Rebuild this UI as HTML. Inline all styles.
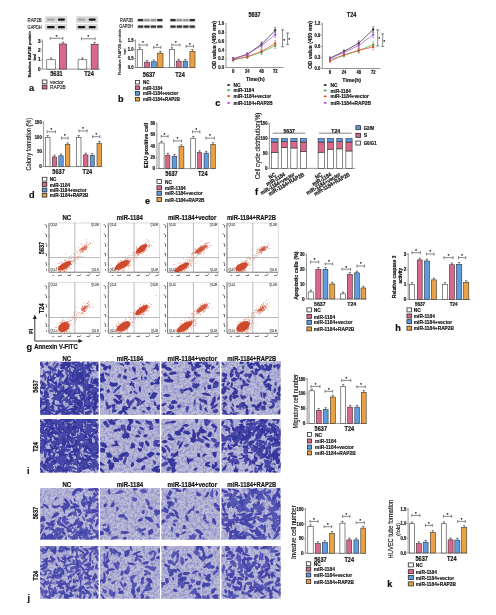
<!DOCTYPE html>
<html><head><meta charset="utf-8"><style>html,body{margin:0;padding:0;background:#fff;width:496px;height:615px;overflow:hidden}svg{display:block;filter:blur(0.3px)}text{font-family:"Liberation Sans",sans-serif}</style></head>
<body><svg width="496" height="615" viewBox="0 0 496 615" font-family='"Liberation Sans", sans-serif'>
<rect x="0" y="0" width="496" height="615" fill="#ffffff"/>
<filter id="bl"><feGaussianBlur stdDeviation="0.3"/></filter>
<text x="27.6" y="20.2" font-size="4.96" font-weight="normal" text-anchor="start" dominant-baseline="central" fill="#111" stroke="#111" stroke-width="0.12" textLength="14.1" lengthAdjust="spacingAndGlyphs">RAP2B</text>
<text x="27.6" y="27.2" font-size="4.96" font-weight="normal" text-anchor="start" dominant-baseline="central" fill="#111" stroke="#111" stroke-width="0.12" textLength="14.1" lengthAdjust="spacingAndGlyphs">GAPDH</text>
<rect x="45.2" y="16.3" width="21.700000000000003" height="6.5" fill="#d8d8d8"/>
<rect x="47.05" y="18.45" width="7.50" height="2.2" rx="0.8" fill="rgb(165,165,165)"/>
<rect x="57.90" y="18.45" width="7.00" height="2.2" rx="0.8" fill="rgb(25,25,25)"/>
<rect x="45.2" y="24.2" width="21.700000000000003" height="6.0" fill="#d8d8d8"/>
<rect x="47.05" y="26.10" width="7.50" height="2.2" rx="0.8" fill="rgb(25,25,25)"/>
<rect x="57.90" y="26.10" width="7.00" height="2.2" rx="0.8" fill="rgb(25,25,25)"/>
<rect x="76.1" y="16.3" width="21.700000000000003" height="6.5" fill="#d8d8d8"/>
<rect x="77.75" y="18.45" width="7.50" height="2.2" rx="0.8" fill="rgb(165,165,165)"/>
<rect x="88.70" y="18.45" width="7.00" height="2.2" rx="0.8" fill="rgb(25,25,25)"/>
<rect x="76.1" y="24.2" width="21.700000000000003" height="6.0" fill="#d8d8d8"/>
<rect x="77.75" y="26.10" width="7.50" height="2.2" rx="0.8" fill="rgb(25,25,25)"/>
<rect x="88.70" y="26.10" width="7.00" height="2.2" rx="0.8" fill="rgb(25,25,25)"/>
<line x1="42.4" y1="39.6" x2="42.4" y2="69.1" stroke="#8a8a8a" stroke-width="0.9"/>
<line x1="42.4" y1="69.1" x2="100" y2="69.1" stroke="#8a8a8a" stroke-width="0.9"/>
<line x1="41.199999999999996" y1="41.10999999999999" x2="42.4" y2="41.10999999999999" stroke="#777" stroke-width="0.6"/>
<text x="40.599999999999994" y="41.10999999999999" font-size="4.65" font-weight="bold" text-anchor="end" dominant-baseline="central" fill="#111" stroke="#111" stroke-width="0.18">3</text>
<line x1="41.199999999999996" y1="50.44" x2="42.4" y2="50.44" stroke="#777" stroke-width="0.6"/>
<text x="40.599999999999994" y="50.44" font-size="4.65" font-weight="bold" text-anchor="end" dominant-baseline="central" fill="#111" stroke="#111" stroke-width="0.18">2</text>
<line x1="41.199999999999996" y1="59.769999999999996" x2="42.4" y2="59.769999999999996" stroke="#777" stroke-width="0.6"/>
<text x="40.599999999999994" y="59.769999999999996" font-size="4.65" font-weight="bold" text-anchor="end" dominant-baseline="central" fill="#111" stroke="#111" stroke-width="0.18">1</text>
<line x1="41.199999999999996" y1="69.1" x2="42.4" y2="69.1" stroke="#777" stroke-width="0.6"/>
<text x="40.599999999999994" y="69.1" font-size="4.65" font-weight="bold" text-anchor="end" dominant-baseline="central" fill="#111" stroke="#111" stroke-width="0.18">0</text>
<rect x="46.8" y="59.769999999999996" width="8.600000000000001" height="9.329999999999998" fill="#ffffff" stroke="#2a2a2a" stroke-width="0.55"/>
<line x1="51.099999999999994" y1="57.97" x2="51.099999999999994" y2="59.769999999999996" stroke="#333" stroke-width="0.6"/>
<line x1="49.89999999999999" y1="57.97" x2="52.3" y2="57.97" stroke="#333" stroke-width="0.6"/>
<rect x="59.3" y="43.90899999999999" width="7.400000000000006" height="25.191000000000003" fill="#d9688a" stroke="#2a2a2a" stroke-width="0.55"/>
<line x1="63.0" y1="42.108999999999995" x2="63.0" y2="43.90899999999999" stroke="#333" stroke-width="0.6"/>
<line x1="61.8" y1="42.108999999999995" x2="64.2" y2="42.108999999999995" stroke="#333" stroke-width="0.6"/>
<rect x="78.1" y="59.769999999999996" width="8.700000000000003" height="9.329999999999998" fill="#ffffff" stroke="#2a2a2a" stroke-width="0.55"/>
<line x1="82.44999999999999" y1="57.97" x2="82.44999999999999" y2="59.769999999999996" stroke="#333" stroke-width="0.6"/>
<line x1="81.24999999999999" y1="57.97" x2="83.64999999999999" y2="57.97" stroke="#333" stroke-width="0.6"/>
<rect x="91.1" y="44.18889999999999" width="7.0" height="24.911100000000005" fill="#d9688a" stroke="#2a2a2a" stroke-width="0.55"/>
<line x1="94.6" y1="42.38889999999999" x2="94.6" y2="44.18889999999999" stroke="#333" stroke-width="0.6"/>
<line x1="93.39999999999999" y1="42.38889999999999" x2="95.8" y2="42.38889999999999" stroke="#333" stroke-width="0.6"/>
<text x="56.4" y="73.9" font-size="6.61" font-weight="bold" text-anchor="middle" dominant-baseline="central" fill="#111" stroke="#111" stroke-width="0.18" textLength="12.46" lengthAdjust="spacingAndGlyphs">5631</text>
<text x="89" y="73.9" font-size="6.61" font-weight="bold" text-anchor="middle" dominant-baseline="central" fill="#111" stroke="#111" stroke-width="0.18" textLength="9.65" lengthAdjust="spacingAndGlyphs">T24</text>
<line x1="50.2" y1="38.3" x2="62.8" y2="38.3" stroke="#555" stroke-width="0.7"/>
<line x1="50.2" y1="36.8" x2="50.2" y2="39.8" stroke="#555" stroke-width="0.7"/>
<line x1="62.8" y1="36.8" x2="62.8" y2="39.8" stroke="#555" stroke-width="0.7"/>
<text x="56.5" y="36.099999999999994" font-size="4" font-weight="bold" text-anchor="middle" dominant-baseline="central" fill="#111" stroke="#111" stroke-width="0.18">*</text>
<line x1="81.4" y1="38.8" x2="95.1" y2="38.8" stroke="#555" stroke-width="0.7"/>
<line x1="81.4" y1="37.3" x2="81.4" y2="40.3" stroke="#555" stroke-width="0.7"/>
<line x1="95.1" y1="37.3" x2="95.1" y2="40.3" stroke="#555" stroke-width="0.7"/>
<text x="88.25" y="36.599999999999994" font-size="4" font-weight="bold" text-anchor="middle" dominant-baseline="central" fill="#111" stroke="#111" stroke-width="0.18">*</text>
<text x="30.0" y="54.2" font-size="4.36" font-weight="bold" text-anchor="middle" dominant-baseline="central" fill="#111" stroke="#111" stroke-width="0.18" transform="rotate(-90 30.0 54.2)" textLength="46.40" lengthAdjust="spacingAndGlyphs">Relative RAP2B protein</text>
<text x="34.8" y="57.2" font-size="2.83" font-weight="bold" text-anchor="middle" dominant-baseline="central" fill="#111" stroke="#111" stroke-width="0.18" transform="rotate(-90 34.8 57.2)" textLength="6.00" lengthAdjust="spacingAndGlyphs">level</text>
<rect x="42.25" y="80.0" width="4.7" height="3.8" fill="#ffffff" stroke="#222" stroke-width="0.75"/>
<text x="50.1" y="81.9" font-size="5.66" font-weight="normal" text-anchor="start" dominant-baseline="central" fill="#111" stroke="#111" stroke-width="0.12" textLength="13.5" lengthAdjust="spacingAndGlyphs">vector</text>
<rect x="42.25" y="85.19999999999999" width="4.7" height="3.8" fill="#d9688a" stroke="#222" stroke-width="0.75"/>
<text x="50.1" y="87.1" font-size="5.66" font-weight="normal" text-anchor="start" dominant-baseline="central" fill="#111" stroke="#111" stroke-width="0.12" textLength="15.7" lengthAdjust="spacingAndGlyphs">RAP2B</text>
<text x="29" y="88.1" font-size="9.2" font-weight="bold" text-anchor="start" dominant-baseline="central" fill="#111" stroke="#111" stroke-width="0.18">a</text>
<text x="120.1" y="20.2" font-size="4.48" font-weight="normal" text-anchor="start" dominant-baseline="central" fill="#111" stroke="#111" stroke-width="0.12" textLength="12.9" lengthAdjust="spacingAndGlyphs">RAP2B</text>
<text x="119.3" y="26.7" font-size="4.48" font-weight="normal" text-anchor="start" dominant-baseline="central" fill="#111" stroke="#111" stroke-width="0.12" textLength="13.7" lengthAdjust="spacingAndGlyphs">GAPDH</text>
<rect x="137.3" y="18.4" width="25.69999999999999" height="3.6000000000000014" fill="#d8d8d8"/>
<rect x="137.78" y="19.10" width="5.46" height="2.2" rx="0.8" fill="rgb(50,50,50)"/>
<rect x="144.21" y="19.10" width="5.46" height="2.2" rx="0.8" fill="rgb(153,153,153)"/>
<rect x="150.63" y="19.10" width="5.46" height="2.2" rx="0.8" fill="rgb(153,153,153)"/>
<rect x="157.06" y="19.10" width="5.46" height="2.2" rx="0.8" fill="rgb(50,50,50)"/>
<rect x="137.3" y="24.8" width="25.69999999999999" height="3.8000000000000007" fill="#d8d8d8"/>
<rect x="137.78" y="25.60" width="5.46" height="2.2" rx="0.8" fill="rgb(50,50,50)"/>
<rect x="144.21" y="25.60" width="5.46" height="2.2" rx="0.8" fill="rgb(50,50,50)"/>
<rect x="150.63" y="25.60" width="5.46" height="2.2" rx="0.8" fill="rgb(50,50,50)"/>
<rect x="157.06" y="25.60" width="5.46" height="2.2" rx="0.8" fill="rgb(50,50,50)"/>
<rect x="169.8" y="18.4" width="25.69999999999999" height="3.6000000000000014" fill="#d8d8d8"/>
<rect x="170.28" y="19.10" width="5.46" height="2.2" rx="0.8" fill="rgb(50,50,50)"/>
<rect x="176.71" y="19.10" width="5.46" height="2.2" rx="0.8" fill="rgb(153,153,153)"/>
<rect x="183.13" y="19.10" width="5.46" height="2.2" rx="0.8" fill="rgb(153,153,153)"/>
<rect x="189.56" y="19.10" width="5.46" height="2.2" rx="0.8" fill="rgb(50,50,50)"/>
<rect x="169.8" y="24.8" width="25.69999999999999" height="3.8000000000000007" fill="#d8d8d8"/>
<rect x="170.28" y="25.60" width="5.46" height="2.2" rx="0.8" fill="rgb(50,50,50)"/>
<rect x="176.71" y="25.60" width="5.46" height="2.2" rx="0.8" fill="rgb(50,50,50)"/>
<rect x="183.13" y="25.60" width="5.46" height="2.2" rx="0.8" fill="rgb(50,50,50)"/>
<rect x="189.56" y="25.60" width="5.46" height="2.2" rx="0.8" fill="rgb(50,50,50)"/>
<line x1="135.4" y1="39.5" x2="135.4" y2="67.5" stroke="#8a8a8a" stroke-width="0.9"/>
<line x1="135.4" y1="67.5" x2="195.6" y2="67.5" stroke="#8a8a8a" stroke-width="0.9"/>
<line x1="134.20000000000002" y1="40.5" x2="135.4" y2="40.5" stroke="#777" stroke-width="0.6"/>
<text x="133.60000000000002" y="40.5" font-size="4.96" font-weight="bold" text-anchor="end" dominant-baseline="central" fill="#111" stroke="#111" stroke-width="0.18" textLength="5.84" lengthAdjust="spacingAndGlyphs">1.5</text>
<line x1="134.20000000000002" y1="49.5" x2="135.4" y2="49.5" stroke="#777" stroke-width="0.6"/>
<text x="133.60000000000002" y="49.5" font-size="4.96" font-weight="bold" text-anchor="end" dominant-baseline="central" fill="#111" stroke="#111" stroke-width="0.18" textLength="5.84" lengthAdjust="spacingAndGlyphs">1.0</text>
<line x1="134.20000000000002" y1="58.5" x2="135.4" y2="58.5" stroke="#777" stroke-width="0.6"/>
<text x="133.60000000000002" y="58.5" font-size="4.96" font-weight="bold" text-anchor="end" dominant-baseline="central" fill="#111" stroke="#111" stroke-width="0.18" textLength="5.84" lengthAdjust="spacingAndGlyphs">0.5</text>
<line x1="134.20000000000002" y1="67.5" x2="135.4" y2="67.5" stroke="#777" stroke-width="0.6"/>
<text x="133.60000000000002" y="67.5" font-size="4.96" font-weight="bold" text-anchor="end" dominant-baseline="central" fill="#111" stroke="#111" stroke-width="0.18" textLength="5.84" lengthAdjust="spacingAndGlyphs">0.0</text>
<rect x="137.2" y="49.5" width="5.100000000000023" height="18.0" fill="#ffffff" stroke="#2a2a2a" stroke-width="0.55"/>
<line x1="139.75" y1="47.7" x2="139.75" y2="49.5" stroke="#333" stroke-width="0.6"/>
<line x1="138.55" y1="47.7" x2="140.95" y2="47.7" stroke="#333" stroke-width="0.6"/>
<rect x="144.5" y="62.1" width="5.099999999999994" height="5.399999999999999" fill="#d9688a" stroke="#2a2a2a" stroke-width="0.55"/>
<line x1="147.05" y1="60.300000000000004" x2="147.05" y2="62.1" stroke="#333" stroke-width="0.6"/>
<line x1="145.85000000000002" y1="60.300000000000004" x2="148.25" y2="60.300000000000004" stroke="#333" stroke-width="0.6"/>
<rect x="151.4" y="61.74" width="4.900000000000006" height="5.759999999999998" fill="#5f9be0" stroke="#2a2a2a" stroke-width="0.55"/>
<line x1="153.85000000000002" y1="59.940000000000005" x2="153.85000000000002" y2="61.74" stroke="#333" stroke-width="0.6"/>
<line x1="152.65000000000003" y1="59.940000000000005" x2="155.05" y2="59.940000000000005" stroke="#333" stroke-width="0.6"/>
<rect x="157.7" y="53.1" width="5.300000000000011" height="14.399999999999999" fill="#e9a144" stroke="#2a2a2a" stroke-width="0.55"/>
<line x1="160.35" y1="51.300000000000004" x2="160.35" y2="53.1" stroke="#333" stroke-width="0.6"/>
<line x1="159.15" y1="51.300000000000004" x2="161.54999999999998" y2="51.300000000000004" stroke="#333" stroke-width="0.6"/>
<rect x="169.5" y="49.5" width="4.900000000000006" height="18.0" fill="#ffffff" stroke="#2a2a2a" stroke-width="0.55"/>
<line x1="171.95" y1="47.7" x2="171.95" y2="49.5" stroke="#333" stroke-width="0.6"/>
<line x1="170.75" y1="47.7" x2="173.14999999999998" y2="47.7" stroke="#333" stroke-width="0.6"/>
<rect x="176.2" y="61.02" width="4.900000000000006" height="6.479999999999997" fill="#d9688a" stroke="#2a2a2a" stroke-width="0.55"/>
<line x1="178.64999999999998" y1="59.220000000000006" x2="178.64999999999998" y2="61.02" stroke="#333" stroke-width="0.6"/>
<line x1="177.45" y1="59.220000000000006" x2="179.84999999999997" y2="59.220000000000006" stroke="#333" stroke-width="0.6"/>
<rect x="183" y="61.2" width="4.699999999999989" height="6.299999999999997" fill="#5f9be0" stroke="#2a2a2a" stroke-width="0.55"/>
<line x1="185.35" y1="59.400000000000006" x2="185.35" y2="61.2" stroke="#333" stroke-width="0.6"/>
<line x1="184.15" y1="59.400000000000006" x2="186.54999999999998" y2="59.400000000000006" stroke="#333" stroke-width="0.6"/>
<rect x="189.9" y="51.3" width="5.099999999999994" height="16.200000000000003" fill="#e9a144" stroke="#2a2a2a" stroke-width="0.55"/>
<line x1="192.45" y1="49.5" x2="192.45" y2="51.3" stroke="#333" stroke-width="0.6"/>
<line x1="191.25" y1="49.5" x2="193.64999999999998" y2="49.5" stroke="#333" stroke-width="0.6"/>
<text x="149" y="74" font-size="6.61" font-weight="bold" text-anchor="middle" dominant-baseline="central" fill="#111" stroke="#111" stroke-width="0.18" textLength="12.46" lengthAdjust="spacingAndGlyphs">5637</text>
<text x="180" y="74" font-size="6.61" font-weight="bold" text-anchor="middle" dominant-baseline="central" fill="#111" stroke="#111" stroke-width="0.18" textLength="9.65" lengthAdjust="spacingAndGlyphs">T24</text>
<line x1="139" y1="45" x2="147.2" y2="45" stroke="#555" stroke-width="0.7"/>
<line x1="139" y1="43.5" x2="139" y2="46.5" stroke="#555" stroke-width="0.7"/>
<line x1="147.2" y1="43.5" x2="147.2" y2="46.5" stroke="#555" stroke-width="0.7"/>
<text x="143.1" y="42.8" font-size="4" font-weight="bold" text-anchor="middle" dominant-baseline="central" fill="#111" stroke="#111" stroke-width="0.18">*</text>
<line x1="153.5" y1="47.3" x2="160.8" y2="47.3" stroke="#555" stroke-width="0.7"/>
<line x1="153.5" y1="45.8" x2="153.5" y2="48.8" stroke="#555" stroke-width="0.7"/>
<line x1="160.8" y1="45.8" x2="160.8" y2="48.8" stroke="#555" stroke-width="0.7"/>
<text x="157.15" y="45.099999999999994" font-size="4" font-weight="bold" text-anchor="middle" dominant-baseline="central" fill="#111" stroke="#111" stroke-width="0.18">*</text>
<line x1="171.7" y1="45" x2="180" y2="45" stroke="#555" stroke-width="0.7"/>
<line x1="171.7" y1="43.5" x2="171.7" y2="46.5" stroke="#555" stroke-width="0.7"/>
<line x1="180" y1="43.5" x2="180" y2="46.5" stroke="#555" stroke-width="0.7"/>
<text x="175.85" y="42.8" font-size="4" font-weight="bold" text-anchor="middle" dominant-baseline="central" fill="#111" stroke="#111" stroke-width="0.18">*</text>
<line x1="186" y1="46.3" x2="193.5" y2="46.3" stroke="#555" stroke-width="0.7"/>
<line x1="186" y1="44.8" x2="186" y2="47.8" stroke="#555" stroke-width="0.7"/>
<line x1="193.5" y1="44.8" x2="193.5" y2="47.8" stroke="#555" stroke-width="0.7"/>
<text x="189.75" y="44.099999999999994" font-size="4" font-weight="bold" text-anchor="middle" dominant-baseline="central" fill="#111" stroke="#111" stroke-width="0.18">*</text>
<text x="119.7" y="52.0" font-size="4.38" font-weight="normal" text-anchor="middle" dominant-baseline="central" fill="#111" stroke="#111" stroke-width="0.12" transform="rotate(-90 119.7 52.0)" textLength="46.00" lengthAdjust="spacingAndGlyphs">Relative RAP2B protein</text>
<text x="124.9" y="51.5" font-size="2.92" font-weight="normal" text-anchor="middle" dominant-baseline="central" fill="#111" stroke="#111" stroke-width="0.12" transform="rotate(-90 124.9 51.5)" textLength="6.00" lengthAdjust="spacingAndGlyphs">level</text>
<rect x="135.54999999999998" y="80.4" width="3.8999999999999995" height="3.6" fill="#ffffff" stroke="#222" stroke-width="0.75"/>
<text x="143.1" y="82.2" font-size="5.19" font-weight="bold" text-anchor="start" dominant-baseline="central" fill="#111" stroke="#111" stroke-width="0.18" textLength="6.36" lengthAdjust="spacingAndGlyphs">NC</text>
<rect x="135.54999999999998" y="85.9" width="3.8999999999999995" height="3.6" fill="#d9688a" stroke="#222" stroke-width="0.75"/>
<text x="143.1" y="87.7" font-size="5.19" font-weight="bold" text-anchor="start" dominant-baseline="central" fill="#111" stroke="#111" stroke-width="0.18" textLength="19.32" lengthAdjust="spacingAndGlyphs">miR-1184</text>
<rect x="135.54999999999998" y="91.60000000000001" width="3.8999999999999995" height="3.6" fill="#5f9be0" stroke="#222" stroke-width="0.75"/>
<text x="143.1" y="93.4" font-size="5.19" font-weight="bold" text-anchor="start" dominant-baseline="central" fill="#111" stroke="#111" stroke-width="0.18" textLength="35.10" lengthAdjust="spacingAndGlyphs">miR-1184+vector</text>
<rect x="135.54999999999998" y="97.4" width="3.8999999999999995" height="3.6" fill="#e9a144" stroke="#222" stroke-width="0.75"/>
<text x="143.1" y="99.2" font-size="5.19" font-weight="bold" text-anchor="start" dominant-baseline="central" fill="#111" stroke="#111" stroke-width="0.18" textLength="36.81" lengthAdjust="spacingAndGlyphs">miR-1184+RAP2B</text>
<text x="118" y="98.5" font-size="9.2" font-weight="bold" text-anchor="start" dominant-baseline="central" fill="#111" stroke="#111" stroke-width="0.18">b</text>
<line x1="226" y1="23.0" x2="226" y2="67.5" stroke="#8a8a8a" stroke-width="0.9"/>
<line x1="226" y1="67.5" x2="283.5" y2="67.5" stroke="#8a8a8a" stroke-width="0.9"/>
<line x1="224.8" y1="67.5" x2="226" y2="67.5" stroke="#777" stroke-width="0.6"/>
<text x="224.1" y="67.5" font-size="4.96" font-weight="bold" text-anchor="end" dominant-baseline="central" fill="#111" stroke="#111" stroke-width="0.18" textLength="5.84" lengthAdjust="spacingAndGlyphs">0.0</text>
<line x1="224.8" y1="58.75" x2="226" y2="58.75" stroke="#777" stroke-width="0.6"/>
<text x="224.1" y="58.75" font-size="4.96" font-weight="bold" text-anchor="end" dominant-baseline="central" fill="#111" stroke="#111" stroke-width="0.18" textLength="5.84" lengthAdjust="spacingAndGlyphs">0.2</text>
<line x1="224.8" y1="50.0" x2="226" y2="50.0" stroke="#777" stroke-width="0.6"/>
<text x="224.1" y="50.0" font-size="4.96" font-weight="bold" text-anchor="end" dominant-baseline="central" fill="#111" stroke="#111" stroke-width="0.18" textLength="5.84" lengthAdjust="spacingAndGlyphs">0.4</text>
<line x1="224.8" y1="41.25" x2="226" y2="41.25" stroke="#777" stroke-width="0.6"/>
<text x="224.1" y="41.25" font-size="4.96" font-weight="bold" text-anchor="end" dominant-baseline="central" fill="#111" stroke="#111" stroke-width="0.18" textLength="5.84" lengthAdjust="spacingAndGlyphs">0.6</text>
<line x1="224.8" y1="32.5" x2="226" y2="32.5" stroke="#777" stroke-width="0.6"/>
<text x="224.1" y="32.5" font-size="4.96" font-weight="bold" text-anchor="end" dominant-baseline="central" fill="#111" stroke="#111" stroke-width="0.18" textLength="5.84" lengthAdjust="spacingAndGlyphs">0.8</text>
<line x1="224.8" y1="23.75" x2="226" y2="23.75" stroke="#777" stroke-width="0.6"/>
<text x="224.1" y="23.75" font-size="4.96" font-weight="bold" text-anchor="end" dominant-baseline="central" fill="#111" stroke="#111" stroke-width="0.18" textLength="5.84" lengthAdjust="spacingAndGlyphs">1.0</text>
<line x1="233.2" y1="67.5" x2="233.2" y2="68.7" stroke="#777" stroke-width="0.6"/>
<text x="233.2" y="71.8" font-size="4.43" font-weight="bold" text-anchor="middle" dominant-baseline="central" fill="#111" stroke="#111" stroke-width="0.18">0</text>
<line x1="247.3" y1="67.5" x2="247.3" y2="68.7" stroke="#777" stroke-width="0.6"/>
<text x="247.3" y="71.8" font-size="4.72" font-weight="bold" text-anchor="middle" dominant-baseline="central" fill="#111" stroke="#111" stroke-width="0.18" textLength="4.45" lengthAdjust="spacingAndGlyphs">24</text>
<line x1="261.5" y1="67.5" x2="261.5" y2="68.7" stroke="#777" stroke-width="0.6"/>
<text x="261.5" y="71.8" font-size="4.72" font-weight="bold" text-anchor="middle" dominant-baseline="central" fill="#111" stroke="#111" stroke-width="0.18" textLength="4.45" lengthAdjust="spacingAndGlyphs">48</text>
<line x1="275.2" y1="67.5" x2="275.2" y2="68.7" stroke="#777" stroke-width="0.6"/>
<text x="275.2" y="71.8" font-size="4.72" font-weight="bold" text-anchor="middle" dominant-baseline="central" fill="#111" stroke="#111" stroke-width="0.18" textLength="4.45" lengthAdjust="spacingAndGlyphs">72</text>
<text x="254.5" y="14.2" font-size="6.37" font-weight="bold" text-anchor="middle" dominant-baseline="central" fill="#111" stroke="#111" stroke-width="0.18" textLength="12.01" lengthAdjust="spacingAndGlyphs">5637</text>
<text x="255.3" y="78.5" font-size="6.14" font-weight="bold" text-anchor="middle" dominant-baseline="central" fill="#111" stroke="#111" stroke-width="0.18" textLength="18.68" lengthAdjust="spacingAndGlyphs">Time(h)</text>
<text x="213.9" y="45.0" font-size="6.05" font-weight="bold" text-anchor="middle" dominant-baseline="central" fill="#111" stroke="#111" stroke-width="0.18" transform="rotate(-90 213.9 45.0)" textLength="48.00" lengthAdjust="spacingAndGlyphs">OD value (450 nm)</text>
<polyline points="233.2,58.75 247.3,54.38 261.5,44.31 275.2,30.31" fill="none" stroke="#222222" stroke-width="0.7"/>
<rect x="232.2" y="57.75" width="2" height="2" fill="#222222"/>
<line x1="233.2" y1="57.55" x2="233.2" y2="59.95" stroke="#222222" stroke-width="0.5"/>
<line x1="232.29999999999998" y1="57.55" x2="234.1" y2="57.55" stroke="#222222" stroke-width="0.5"/>
<line x1="232.29999999999998" y1="59.95" x2="234.1" y2="59.95" stroke="#222222" stroke-width="0.5"/>
<rect x="246.3" y="53.375" width="2" height="2" fill="#222222"/>
<line x1="247.3" y1="52.875" x2="247.3" y2="55.875" stroke="#222222" stroke-width="0.5"/>
<line x1="246.4" y1="52.875" x2="248.20000000000002" y2="52.875" stroke="#222222" stroke-width="0.5"/>
<line x1="246.4" y1="55.875" x2="248.20000000000002" y2="55.875" stroke="#222222" stroke-width="0.5"/>
<rect x="260.5" y="43.3125" width="2" height="2" fill="#222222"/>
<line x1="261.5" y1="41.9125" x2="261.5" y2="46.7125" stroke="#222222" stroke-width="0.5"/>
<line x1="260.6" y1="41.9125" x2="262.4" y2="41.9125" stroke="#222222" stroke-width="0.5"/>
<line x1="260.6" y1="46.7125" x2="262.4" y2="46.7125" stroke="#222222" stroke-width="0.5"/>
<rect x="274.2" y="29.3125" width="2" height="2" fill="#222222"/>
<line x1="275.2" y1="27.5125" x2="275.2" y2="33.1125" stroke="#222222" stroke-width="0.5"/>
<line x1="274.3" y1="27.5125" x2="276.09999999999997" y2="27.5125" stroke="#222222" stroke-width="0.5"/>
<line x1="274.3" y1="33.1125" x2="276.09999999999997" y2="33.1125" stroke="#222222" stroke-width="0.5"/>
<polyline points="233.2,60.06 247.3,57.00 261.5,52.19 275.2,45.62" fill="none" stroke="#38b040" stroke-width="0.7"/>
<rect x="232.2" y="59.0625" width="2" height="2" fill="#38b040"/>
<line x1="233.2" y1="58.8625" x2="233.2" y2="61.2625" stroke="#38b040" stroke-width="0.5"/>
<line x1="232.29999999999998" y1="58.8625" x2="234.1" y2="58.8625" stroke="#38b040" stroke-width="0.5"/>
<line x1="232.29999999999998" y1="61.2625" x2="234.1" y2="61.2625" stroke="#38b040" stroke-width="0.5"/>
<rect x="246.3" y="56.0" width="2" height="2" fill="#38b040"/>
<line x1="247.3" y1="55.5" x2="247.3" y2="58.5" stroke="#38b040" stroke-width="0.5"/>
<line x1="246.4" y1="55.5" x2="248.20000000000002" y2="55.5" stroke="#38b040" stroke-width="0.5"/>
<line x1="246.4" y1="58.5" x2="248.20000000000002" y2="58.5" stroke="#38b040" stroke-width="0.5"/>
<rect x="260.5" y="51.1875" width="2" height="2" fill="#38b040"/>
<line x1="261.5" y1="49.7875" x2="261.5" y2="54.5875" stroke="#38b040" stroke-width="0.5"/>
<line x1="260.6" y1="49.7875" x2="262.4" y2="49.7875" stroke="#38b040" stroke-width="0.5"/>
<line x1="260.6" y1="54.5875" x2="262.4" y2="54.5875" stroke="#38b040" stroke-width="0.5"/>
<rect x="274.2" y="44.625" width="2" height="2" fill="#38b040"/>
<line x1="275.2" y1="42.825" x2="275.2" y2="48.425" stroke="#38b040" stroke-width="0.5"/>
<line x1="274.3" y1="42.825" x2="276.09999999999997" y2="42.825" stroke="#38b040" stroke-width="0.5"/>
<line x1="274.3" y1="48.425" x2="276.09999999999997" y2="48.425" stroke="#38b040" stroke-width="0.5"/>
<polyline points="233.2,59.62 247.3,56.56 261.5,51.31 275.2,43.44" fill="none" stroke="#e8442c" stroke-width="0.7"/>
<rect x="232.2" y="58.625" width="2" height="2" fill="#e8442c"/>
<line x1="233.2" y1="58.425" x2="233.2" y2="60.825" stroke="#e8442c" stroke-width="0.5"/>
<line x1="232.29999999999998" y1="58.425" x2="234.1" y2="58.425" stroke="#e8442c" stroke-width="0.5"/>
<line x1="232.29999999999998" y1="60.825" x2="234.1" y2="60.825" stroke="#e8442c" stroke-width="0.5"/>
<rect x="246.3" y="55.5625" width="2" height="2" fill="#e8442c"/>
<line x1="247.3" y1="55.0625" x2="247.3" y2="58.0625" stroke="#e8442c" stroke-width="0.5"/>
<line x1="246.4" y1="55.0625" x2="248.20000000000002" y2="55.0625" stroke="#e8442c" stroke-width="0.5"/>
<line x1="246.4" y1="58.0625" x2="248.20000000000002" y2="58.0625" stroke="#e8442c" stroke-width="0.5"/>
<rect x="260.5" y="50.3125" width="2" height="2" fill="#e8442c"/>
<line x1="261.5" y1="48.9125" x2="261.5" y2="53.7125" stroke="#e8442c" stroke-width="0.5"/>
<line x1="260.6" y1="48.9125" x2="262.4" y2="48.9125" stroke="#e8442c" stroke-width="0.5"/>
<line x1="260.6" y1="53.7125" x2="262.4" y2="53.7125" stroke="#e8442c" stroke-width="0.5"/>
<rect x="274.2" y="42.4375" width="2" height="2" fill="#e8442c"/>
<line x1="275.2" y1="40.6375" x2="275.2" y2="46.2375" stroke="#e8442c" stroke-width="0.5"/>
<line x1="274.3" y1="40.6375" x2="276.09999999999997" y2="40.6375" stroke="#e8442c" stroke-width="0.5"/>
<line x1="274.3" y1="46.2375" x2="276.09999999999997" y2="46.2375" stroke="#e8442c" stroke-width="0.5"/>
<polyline points="233.2,58.75 247.3,54.38 261.5,45.62 275.2,34.69" fill="none" stroke="#a24ccf" stroke-width="0.7"/>
<rect x="232.2" y="57.75" width="2" height="2" fill="#a24ccf"/>
<line x1="233.2" y1="57.55" x2="233.2" y2="59.95" stroke="#a24ccf" stroke-width="0.5"/>
<line x1="232.29999999999998" y1="57.55" x2="234.1" y2="57.55" stroke="#a24ccf" stroke-width="0.5"/>
<line x1="232.29999999999998" y1="59.95" x2="234.1" y2="59.95" stroke="#a24ccf" stroke-width="0.5"/>
<rect x="246.3" y="53.375" width="2" height="2" fill="#a24ccf"/>
<line x1="247.3" y1="52.875" x2="247.3" y2="55.875" stroke="#a24ccf" stroke-width="0.5"/>
<line x1="246.4" y1="52.875" x2="248.20000000000002" y2="52.875" stroke="#a24ccf" stroke-width="0.5"/>
<line x1="246.4" y1="55.875" x2="248.20000000000002" y2="55.875" stroke="#a24ccf" stroke-width="0.5"/>
<rect x="260.5" y="44.625" width="2" height="2" fill="#a24ccf"/>
<line x1="261.5" y1="43.225" x2="261.5" y2="48.025" stroke="#a24ccf" stroke-width="0.5"/>
<line x1="260.6" y1="43.225" x2="262.4" y2="43.225" stroke="#a24ccf" stroke-width="0.5"/>
<line x1="260.6" y1="48.025" x2="262.4" y2="48.025" stroke="#a24ccf" stroke-width="0.5"/>
<rect x="274.2" y="33.6875" width="2" height="2" fill="#a24ccf"/>
<line x1="275.2" y1="31.8875" x2="275.2" y2="37.4875" stroke="#a24ccf" stroke-width="0.5"/>
<line x1="274.3" y1="31.8875" x2="276.09999999999997" y2="31.8875" stroke="#a24ccf" stroke-width="0.5"/>
<line x1="274.3" y1="37.4875" x2="276.09999999999997" y2="37.4875" stroke="#a24ccf" stroke-width="0.5"/>
<line x1="282.6" y1="29.8" x2="282.6" y2="46.8" stroke="#555" stroke-width="0.7"/>
<line x1="281.1" y1="29.8" x2="284.1" y2="29.8" stroke="#555" stroke-width="0.7"/>
<line x1="281.1" y1="46.8" x2="284.1" y2="46.8" stroke="#555" stroke-width="0.7"/>
<text x="284.3" y="40.3" font-size="4" font-weight="bold" text-anchor="middle" dominant-baseline="central" fill="#111" stroke="#111" stroke-width="0.18">*</text>
<line x1="287.6" y1="33" x2="287.6" y2="44.4" stroke="#555" stroke-width="0.7"/>
<line x1="286.1" y1="33" x2="289.1" y2="33" stroke="#555" stroke-width="0.7"/>
<line x1="286.1" y1="44.4" x2="289.1" y2="44.4" stroke="#555" stroke-width="0.7"/>
<text x="289.3" y="39.5" font-size="4" font-weight="bold" text-anchor="middle" dominant-baseline="central" fill="#111" stroke="#111" stroke-width="0.18">*</text>
<line x1="226.79999999999998" y1="85" x2="230.4" y2="85" stroke="#222222" stroke-width="0.6"/>
<rect x="227.7" y="84.1" width="1.8" height="1.8" fill="#222222"/>
<text x="233.5" y="85" font-size="5.55" font-weight="bold" text-anchor="start" dominant-baseline="central" fill="#111" stroke="#111" stroke-width="0.18" textLength="7" lengthAdjust="spacingAndGlyphs">NC</text>
<line x1="226.79999999999998" y1="90.2" x2="230.4" y2="90.2" stroke="#38b040" stroke-width="0.6"/>
<rect x="227.7" y="89.3" width="1.8" height="1.8" fill="#38b040"/>
<text x="233.5" y="90.2" font-size="5.55" font-weight="bold" text-anchor="start" dominant-baseline="central" fill="#111" stroke="#111" stroke-width="0.18" textLength="20.6" lengthAdjust="spacingAndGlyphs">miR-1184</text>
<line x1="226.79999999999998" y1="96.1" x2="230.4" y2="96.1" stroke="#e8442c" stroke-width="0.6"/>
<rect x="227.7" y="95.19999999999999" width="1.8" height="1.8" fill="#e8442c"/>
<text x="233.5" y="96.1" font-size="5.55" font-weight="bold" text-anchor="start" dominant-baseline="central" fill="#111" stroke="#111" stroke-width="0.18" textLength="37.6" lengthAdjust="spacingAndGlyphs">miR-1184+vector</text>
<line x1="226.79999999999998" y1="102.9" x2="230.4" y2="102.9" stroke="#a24ccf" stroke-width="0.6"/>
<rect x="227.7" y="102.0" width="1.8" height="1.8" fill="#a24ccf"/>
<text x="233.5" y="102.9" font-size="5.55" font-weight="bold" text-anchor="start" dominant-baseline="central" fill="#111" stroke="#111" stroke-width="0.18" textLength="39" lengthAdjust="spacingAndGlyphs">miR-1184+RAP2B</text>
<line x1="322.3" y1="23.0" x2="322.3" y2="68.5" stroke="#8a8a8a" stroke-width="0.9"/>
<line x1="322.3" y1="68.5" x2="380.7" y2="68.5" stroke="#8a8a8a" stroke-width="0.9"/>
<line x1="321.1" y1="68.5" x2="322.3" y2="68.5" stroke="#777" stroke-width="0.6"/>
<text x="320.40000000000003" y="68.5" font-size="4.96" font-weight="bold" text-anchor="end" dominant-baseline="central" fill="#111" stroke="#111" stroke-width="0.18" textLength="5.84" lengthAdjust="spacingAndGlyphs">0.0</text>
<line x1="321.1" y1="57.35" x2="322.3" y2="57.35" stroke="#777" stroke-width="0.6"/>
<text x="320.40000000000003" y="57.35" font-size="4.96" font-weight="bold" text-anchor="end" dominant-baseline="central" fill="#111" stroke="#111" stroke-width="0.18" textLength="5.84" lengthAdjust="spacingAndGlyphs">0.3</text>
<line x1="321.1" y1="46.2" x2="322.3" y2="46.2" stroke="#777" stroke-width="0.6"/>
<text x="320.40000000000003" y="46.2" font-size="4.96" font-weight="bold" text-anchor="end" dominant-baseline="central" fill="#111" stroke="#111" stroke-width="0.18" textLength="5.84" lengthAdjust="spacingAndGlyphs">0.6</text>
<line x1="321.1" y1="35.05" x2="322.3" y2="35.05" stroke="#777" stroke-width="0.6"/>
<text x="320.40000000000003" y="35.05" font-size="4.96" font-weight="bold" text-anchor="end" dominant-baseline="central" fill="#111" stroke="#111" stroke-width="0.18" textLength="5.84" lengthAdjust="spacingAndGlyphs">0.9</text>
<line x1="321.1" y1="23.9" x2="322.3" y2="23.9" stroke="#777" stroke-width="0.6"/>
<text x="320.40000000000003" y="23.9" font-size="4.96" font-weight="bold" text-anchor="end" dominant-baseline="central" fill="#111" stroke="#111" stroke-width="0.18" textLength="5.84" lengthAdjust="spacingAndGlyphs">1.2</text>
<line x1="330" y1="68.5" x2="330" y2="69.7" stroke="#777" stroke-width="0.6"/>
<text x="330" y="72.8" font-size="4.43" font-weight="bold" text-anchor="middle" dominant-baseline="central" fill="#111" stroke="#111" stroke-width="0.18">0</text>
<line x1="343.9" y1="68.5" x2="343.9" y2="69.7" stroke="#777" stroke-width="0.6"/>
<text x="343.9" y="72.8" font-size="4.72" font-weight="bold" text-anchor="middle" dominant-baseline="central" fill="#111" stroke="#111" stroke-width="0.18" textLength="4.45" lengthAdjust="spacingAndGlyphs">24</text>
<line x1="358.7" y1="68.5" x2="358.7" y2="69.7" stroke="#777" stroke-width="0.6"/>
<text x="358.7" y="72.8" font-size="4.72" font-weight="bold" text-anchor="middle" dominant-baseline="central" fill="#111" stroke="#111" stroke-width="0.18" textLength="4.45" lengthAdjust="spacingAndGlyphs">48</text>
<line x1="373.2" y1="68.5" x2="373.2" y2="69.7" stroke="#777" stroke-width="0.6"/>
<text x="373.2" y="72.8" font-size="4.72" font-weight="bold" text-anchor="middle" dominant-baseline="central" fill="#111" stroke="#111" stroke-width="0.18" textLength="4.45" lengthAdjust="spacingAndGlyphs">72</text>
<text x="351.5" y="14.8" font-size="6.37" font-weight="bold" text-anchor="middle" dominant-baseline="central" fill="#111" stroke="#111" stroke-width="0.18" textLength="9.30" lengthAdjust="spacingAndGlyphs">T24</text>
<text x="351.7" y="79.5" font-size="6.14" font-weight="bold" text-anchor="middle" dominant-baseline="central" fill="#111" stroke="#111" stroke-width="0.18" textLength="18.68" lengthAdjust="spacingAndGlyphs">Time(h)</text>
<text x="310.2" y="45.0" font-size="6.05" font-weight="bold" text-anchor="middle" dominant-baseline="central" fill="#111" stroke="#111" stroke-width="0.18" transform="rotate(-90 310.2 45.0)" textLength="48.00" lengthAdjust="spacingAndGlyphs">OD value (450 nm)</text>
<polyline points="330,58.09 343.9,51.40 358.7,43.23 373.2,29.47" fill="none" stroke="#222222" stroke-width="0.7"/>
<rect x="329" y="57.093333333333334" width="2" height="2" fill="#222222"/>
<line x1="330" y1="56.89333333333333" x2="330" y2="59.29333333333334" stroke="#222222" stroke-width="0.5"/>
<line x1="329.1" y1="56.89333333333333" x2="330.9" y2="56.89333333333333" stroke="#222222" stroke-width="0.5"/>
<line x1="329.1" y1="59.29333333333334" x2="330.9" y2="59.29333333333334" stroke="#222222" stroke-width="0.5"/>
<rect x="342.9" y="50.40333333333333" width="2" height="2" fill="#222222"/>
<line x1="343.9" y1="49.90333333333333" x2="343.9" y2="52.90333333333333" stroke="#222222" stroke-width="0.5"/>
<line x1="343.0" y1="49.90333333333333" x2="344.79999999999995" y2="49.90333333333333" stroke="#222222" stroke-width="0.5"/>
<line x1="343.0" y1="52.90333333333333" x2="344.79999999999995" y2="52.90333333333333" stroke="#222222" stroke-width="0.5"/>
<rect x="357.7" y="42.22666666666666" width="2" height="2" fill="#222222"/>
<line x1="358.7" y1="40.82666666666666" x2="358.7" y2="45.62666666666666" stroke="#222222" stroke-width="0.5"/>
<line x1="357.8" y1="40.82666666666666" x2="359.59999999999997" y2="40.82666666666666" stroke="#222222" stroke-width="0.5"/>
<line x1="357.8" y1="45.62666666666666" x2="359.59999999999997" y2="45.62666666666666" stroke="#222222" stroke-width="0.5"/>
<rect x="372.2" y="28.474999999999994" width="2" height="2" fill="#222222"/>
<line x1="373.2" y1="26.674999999999994" x2="373.2" y2="32.27499999999999" stroke="#222222" stroke-width="0.5"/>
<line x1="372.3" y1="26.674999999999994" x2="374.09999999999997" y2="26.674999999999994" stroke="#222222" stroke-width="0.5"/>
<line x1="372.3" y1="32.27499999999999" x2="374.09999999999997" y2="32.27499999999999" stroke="#222222" stroke-width="0.5"/>
<polyline points="330,59.58 343.9,55.49 358.7,50.66 373.2,44.71" fill="none" stroke="#38b040" stroke-width="0.7"/>
<rect x="329" y="58.58" width="2" height="2" fill="#38b040"/>
<line x1="330" y1="58.379999999999995" x2="330" y2="60.78" stroke="#38b040" stroke-width="0.5"/>
<line x1="329.1" y1="58.379999999999995" x2="330.9" y2="58.379999999999995" stroke="#38b040" stroke-width="0.5"/>
<line x1="329.1" y1="60.78" x2="330.9" y2="60.78" stroke="#38b040" stroke-width="0.5"/>
<rect x="342.9" y="54.49166666666667" width="2" height="2" fill="#38b040"/>
<line x1="343.9" y1="53.99166666666667" x2="343.9" y2="56.99166666666667" stroke="#38b040" stroke-width="0.5"/>
<line x1="343.0" y1="53.99166666666667" x2="344.79999999999995" y2="53.99166666666667" stroke="#38b040" stroke-width="0.5"/>
<line x1="343.0" y1="56.99166666666667" x2="344.79999999999995" y2="56.99166666666667" stroke="#38b040" stroke-width="0.5"/>
<rect x="357.7" y="49.66" width="2" height="2" fill="#38b040"/>
<line x1="358.7" y1="48.26" x2="358.7" y2="53.059999999999995" stroke="#38b040" stroke-width="0.5"/>
<line x1="357.8" y1="48.26" x2="359.59999999999997" y2="48.26" stroke="#38b040" stroke-width="0.5"/>
<line x1="357.8" y1="53.059999999999995" x2="359.59999999999997" y2="53.059999999999995" stroke="#38b040" stroke-width="0.5"/>
<rect x="372.2" y="43.71333333333333" width="2" height="2" fill="#38b040"/>
<line x1="373.2" y1="41.913333333333334" x2="373.2" y2="47.51333333333333" stroke="#38b040" stroke-width="0.5"/>
<line x1="372.3" y1="41.913333333333334" x2="374.09999999999997" y2="41.913333333333334" stroke="#38b040" stroke-width="0.5"/>
<line x1="372.3" y1="47.51333333333333" x2="374.09999999999997" y2="47.51333333333333" stroke="#38b040" stroke-width="0.5"/>
<polyline points="330,61.07 343.9,54.75 358.7,50.29 373.2,46.94" fill="none" stroke="#e8442c" stroke-width="0.7"/>
<rect x="329" y="60.06666666666666" width="2" height="2" fill="#e8442c"/>
<line x1="330" y1="59.86666666666666" x2="330" y2="62.266666666666666" stroke="#e8442c" stroke-width="0.5"/>
<line x1="329.1" y1="59.86666666666666" x2="330.9" y2="59.86666666666666" stroke="#e8442c" stroke-width="0.5"/>
<line x1="329.1" y1="62.266666666666666" x2="330.9" y2="62.266666666666666" stroke="#e8442c" stroke-width="0.5"/>
<rect x="342.9" y="53.748333333333335" width="2" height="2" fill="#e8442c"/>
<line x1="343.9" y1="53.248333333333335" x2="343.9" y2="56.248333333333335" stroke="#e8442c" stroke-width="0.5"/>
<line x1="343.0" y1="53.248333333333335" x2="344.79999999999995" y2="53.248333333333335" stroke="#e8442c" stroke-width="0.5"/>
<line x1="343.0" y1="56.248333333333335" x2="344.79999999999995" y2="56.248333333333335" stroke="#e8442c" stroke-width="0.5"/>
<rect x="357.7" y="49.28833333333333" width="2" height="2" fill="#e8442c"/>
<line x1="358.7" y1="47.88833333333333" x2="358.7" y2="52.688333333333325" stroke="#e8442c" stroke-width="0.5"/>
<line x1="357.8" y1="47.88833333333333" x2="359.59999999999997" y2="47.88833333333333" stroke="#e8442c" stroke-width="0.5"/>
<line x1="357.8" y1="52.688333333333325" x2="359.59999999999997" y2="52.688333333333325" stroke="#e8442c" stroke-width="0.5"/>
<rect x="372.2" y="45.94333333333333" width="2" height="2" fill="#e8442c"/>
<line x1="373.2" y1="44.14333333333333" x2="373.2" y2="49.743333333333325" stroke="#e8442c" stroke-width="0.5"/>
<line x1="372.3" y1="44.14333333333333" x2="374.09999999999997" y2="44.14333333333333" stroke="#e8442c" stroke-width="0.5"/>
<line x1="372.3" y1="49.743333333333325" x2="374.09999999999997" y2="49.743333333333325" stroke="#e8442c" stroke-width="0.5"/>
<polyline points="330,58.46 343.9,52.52 358.7,45.46 373.2,34.68" fill="none" stroke="#a24ccf" stroke-width="0.7"/>
<rect x="329" y="57.464999999999996" width="2" height="2" fill="#a24ccf"/>
<line x1="330" y1="57.26499999999999" x2="330" y2="59.665" stroke="#a24ccf" stroke-width="0.5"/>
<line x1="329.1" y1="57.26499999999999" x2="330.9" y2="57.26499999999999" stroke="#a24ccf" stroke-width="0.5"/>
<line x1="329.1" y1="59.665" x2="330.9" y2="59.665" stroke="#a24ccf" stroke-width="0.5"/>
<rect x="342.9" y="51.51833333333333" width="2" height="2" fill="#a24ccf"/>
<line x1="343.9" y1="51.01833333333333" x2="343.9" y2="54.01833333333333" stroke="#a24ccf" stroke-width="0.5"/>
<line x1="343.0" y1="51.01833333333333" x2="344.79999999999995" y2="51.01833333333333" stroke="#a24ccf" stroke-width="0.5"/>
<line x1="343.0" y1="54.01833333333333" x2="344.79999999999995" y2="54.01833333333333" stroke="#a24ccf" stroke-width="0.5"/>
<rect x="357.7" y="44.45666666666666" width="2" height="2" fill="#a24ccf"/>
<line x1="358.7" y1="43.056666666666665" x2="358.7" y2="47.85666666666666" stroke="#a24ccf" stroke-width="0.5"/>
<line x1="357.8" y1="43.056666666666665" x2="359.59999999999997" y2="43.056666666666665" stroke="#a24ccf" stroke-width="0.5"/>
<line x1="357.8" y1="47.85666666666666" x2="359.59999999999997" y2="47.85666666666666" stroke="#a24ccf" stroke-width="0.5"/>
<rect x="372.2" y="33.67833333333333" width="2" height="2" fill="#a24ccf"/>
<line x1="373.2" y1="31.878333333333327" x2="373.2" y2="37.478333333333325" stroke="#a24ccf" stroke-width="0.5"/>
<line x1="372.3" y1="31.878333333333327" x2="374.09999999999997" y2="31.878333333333327" stroke="#a24ccf" stroke-width="0.5"/>
<line x1="372.3" y1="37.478333333333325" x2="374.09999999999997" y2="37.478333333333325" stroke="#a24ccf" stroke-width="0.5"/>
<line x1="377.7" y1="29.8" x2="377.7" y2="46" stroke="#555" stroke-width="0.7"/>
<line x1="376.2" y1="29.8" x2="379.2" y2="29.8" stroke="#555" stroke-width="0.7"/>
<line x1="376.2" y1="46" x2="379.2" y2="46" stroke="#555" stroke-width="0.7"/>
<text x="379.4" y="38.699999999999996" font-size="4" font-weight="bold" text-anchor="middle" dominant-baseline="central" fill="#111" stroke="#111" stroke-width="0.18">*</text>
<line x1="382.7" y1="33.9" x2="382.7" y2="46.5" stroke="#555" stroke-width="0.7"/>
<line x1="381.2" y1="33.9" x2="384.2" y2="33.9" stroke="#555" stroke-width="0.7"/>
<line x1="381.2" y1="46.5" x2="384.2" y2="46.5" stroke="#555" stroke-width="0.7"/>
<text x="384.4" y="41.8" font-size="4" font-weight="bold" text-anchor="middle" dominant-baseline="central" fill="#111" stroke="#111" stroke-width="0.18">*</text>
<line x1="323.4" y1="85" x2="327.0" y2="85" stroke="#222222" stroke-width="0.6"/>
<rect x="324.3" y="84.1" width="1.8" height="1.8" fill="#222222"/>
<text x="330.5" y="85" font-size="5.55" font-weight="bold" text-anchor="start" dominant-baseline="central" fill="#111" stroke="#111" stroke-width="0.18" textLength="7" lengthAdjust="spacingAndGlyphs">NC</text>
<line x1="323.4" y1="90.5" x2="327.0" y2="90.5" stroke="#38b040" stroke-width="0.6"/>
<rect x="324.3" y="89.6" width="1.8" height="1.8" fill="#38b040"/>
<text x="330.5" y="90.5" font-size="5.55" font-weight="bold" text-anchor="start" dominant-baseline="central" fill="#111" stroke="#111" stroke-width="0.18" textLength="20.3" lengthAdjust="spacingAndGlyphs">miR-1184</text>
<line x1="323.4" y1="96.4" x2="327.0" y2="96.4" stroke="#e8442c" stroke-width="0.6"/>
<rect x="324.3" y="95.5" width="1.8" height="1.8" fill="#e8442c"/>
<text x="330.5" y="96.4" font-size="5.55" font-weight="bold" text-anchor="start" dominant-baseline="central" fill="#111" stroke="#111" stroke-width="0.18" textLength="38.3" lengthAdjust="spacingAndGlyphs">miR-1184+vector</text>
<line x1="323.4" y1="102.9" x2="327.0" y2="102.9" stroke="#a24ccf" stroke-width="0.6"/>
<rect x="324.3" y="102.0" width="1.8" height="1.8" fill="#a24ccf"/>
<text x="330.5" y="102.9" font-size="5.55" font-weight="bold" text-anchor="start" dominant-baseline="central" fill="#111" stroke="#111" stroke-width="0.18" textLength="40.4" lengthAdjust="spacingAndGlyphs">miR-1184+RAP2B</text>
<text x="215.2" y="103" font-size="9.2" font-weight="bold" text-anchor="start" dominant-baseline="central" fill="#111" stroke="#111" stroke-width="0.18">c</text>
<line x1="43.6" y1="121.5" x2="43.6" y2="166.6" stroke="#8a8a8a" stroke-width="0.9"/>
<line x1="43.6" y1="166.6" x2="102.6" y2="166.6" stroke="#8a8a8a" stroke-width="0.9"/>
<line x1="42.4" y1="122.71" x2="43.6" y2="122.71" stroke="#777" stroke-width="0.6"/>
<text x="41.8" y="122.71" font-size="4.96" font-weight="bold" text-anchor="end" dominant-baseline="central" fill="#111" stroke="#111" stroke-width="0.18" textLength="7.01" lengthAdjust="spacingAndGlyphs">150</text>
<line x1="42.4" y1="137.34" x2="43.6" y2="137.34" stroke="#777" stroke-width="0.6"/>
<text x="41.8" y="137.34" font-size="4.96" font-weight="bold" text-anchor="end" dominant-baseline="central" fill="#111" stroke="#111" stroke-width="0.18" textLength="7.01" lengthAdjust="spacingAndGlyphs">100</text>
<line x1="42.4" y1="151.97" x2="43.6" y2="151.97" stroke="#777" stroke-width="0.6"/>
<text x="41.8" y="151.97" font-size="4.96" font-weight="bold" text-anchor="end" dominant-baseline="central" fill="#111" stroke="#111" stroke-width="0.18" textLength="4.67" lengthAdjust="spacingAndGlyphs">50</text>
<line x1="42.4" y1="166.6" x2="43.6" y2="166.6" stroke="#777" stroke-width="0.6"/>
<text x="41.8" y="166.6" font-size="4.65" font-weight="bold" text-anchor="end" dominant-baseline="central" fill="#111" stroke="#111" stroke-width="0.18">0</text>
<rect x="45.4" y="137.34" width="4.600000000000001" height="29.25999999999999" fill="#ffffff" stroke="#2a2a2a" stroke-width="0.55"/>
<line x1="47.7" y1="135.54" x2="47.7" y2="137.34" stroke="#333" stroke-width="0.6"/>
<line x1="46.5" y1="135.54" x2="48.900000000000006" y2="135.54" stroke="#333" stroke-width="0.6"/>
<rect x="52.3" y="156.9442" width="4.400000000000006" height="9.6558" fill="#d9688a" stroke="#2a2a2a" stroke-width="0.55"/>
<line x1="54.5" y1="155.14419999999998" x2="54.5" y2="156.9442" stroke="#333" stroke-width="0.6"/>
<line x1="53.3" y1="155.14419999999998" x2="55.7" y2="155.14419999999998" stroke="#333" stroke-width="0.6"/>
<rect x="58.8" y="155.7738" width="4.400000000000006" height="10.8262" fill="#5f9be0" stroke="#2a2a2a" stroke-width="0.55"/>
<line x1="61.0" y1="153.97379999999998" x2="61.0" y2="155.7738" stroke="#333" stroke-width="0.6"/>
<line x1="59.8" y1="153.97379999999998" x2="62.2" y2="153.97379999999998" stroke="#333" stroke-width="0.6"/>
<rect x="65.4" y="144.655" width="4.5" height="21.944999999999993" fill="#e9a144" stroke="#2a2a2a" stroke-width="0.55"/>
<line x1="67.65" y1="142.855" x2="67.65" y2="144.655" stroke="#333" stroke-width="0.6"/>
<line x1="66.45" y1="142.855" x2="68.85000000000001" y2="142.855" stroke="#333" stroke-width="0.6"/>
<rect x="76.3" y="137.34" width="4.700000000000003" height="29.25999999999999" fill="#ffffff" stroke="#2a2a2a" stroke-width="0.55"/>
<line x1="78.65" y1="135.54" x2="78.65" y2="137.34" stroke="#333" stroke-width="0.6"/>
<line x1="77.45" y1="135.54" x2="79.85000000000001" y2="135.54" stroke="#333" stroke-width="0.6"/>
<rect x="83.5" y="154.896" width="4.5" height="11.704000000000008" fill="#d9688a" stroke="#2a2a2a" stroke-width="0.55"/>
<line x1="85.75" y1="153.09599999999998" x2="85.75" y2="154.896" stroke="#333" stroke-width="0.6"/>
<line x1="84.55" y1="153.09599999999998" x2="86.95" y2="153.09599999999998" stroke="#333" stroke-width="0.6"/>
<rect x="90.2" y="155.4812" width="4.200000000000003" height="11.118799999999993" fill="#5f9be0" stroke="#2a2a2a" stroke-width="0.55"/>
<line x1="92.30000000000001" y1="153.6812" x2="92.30000000000001" y2="155.4812" stroke="#333" stroke-width="0.6"/>
<line x1="91.10000000000001" y1="153.6812" x2="93.50000000000001" y2="153.6812" stroke="#333" stroke-width="0.6"/>
<rect x="97" y="143.192" width="4.700000000000003" height="23.407999999999987" fill="#e9a144" stroke="#2a2a2a" stroke-width="0.55"/>
<line x1="99.35" y1="141.392" x2="99.35" y2="143.192" stroke="#333" stroke-width="0.6"/>
<line x1="98.14999999999999" y1="141.392" x2="100.55" y2="141.392" stroke="#333" stroke-width="0.6"/>
<text x="58.6" y="171.2" font-size="6.61" font-weight="bold" text-anchor="middle" dominant-baseline="central" fill="#111" stroke="#111" stroke-width="0.18" textLength="12.46" lengthAdjust="spacingAndGlyphs">5637</text>
<text x="87.4" y="171.2" font-size="6.61" font-weight="bold" text-anchor="middle" dominant-baseline="central" fill="#111" stroke="#111" stroke-width="0.18" textLength="9.65" lengthAdjust="spacingAndGlyphs">T24</text>
<line x1="47.2" y1="131.8" x2="55.4" y2="131.8" stroke="#555" stroke-width="0.7"/>
<line x1="47.2" y1="130.3" x2="47.2" y2="133.3" stroke="#555" stroke-width="0.7"/>
<line x1="55.4" y1="130.3" x2="55.4" y2="133.3" stroke="#555" stroke-width="0.7"/>
<text x="51.3" y="129.60000000000002" font-size="4" font-weight="bold" text-anchor="middle" dominant-baseline="central" fill="#111" stroke="#111" stroke-width="0.18">*</text>
<line x1="61.4" y1="138.1" x2="68.1" y2="138.1" stroke="#555" stroke-width="0.7"/>
<line x1="61.4" y1="136.6" x2="61.4" y2="139.6" stroke="#555" stroke-width="0.7"/>
<line x1="68.1" y1="136.6" x2="68.1" y2="139.6" stroke="#555" stroke-width="0.7"/>
<text x="64.75" y="135.9" font-size="4" font-weight="bold" text-anchor="middle" dominant-baseline="central" fill="#111" stroke="#111" stroke-width="0.18">*</text>
<line x1="79" y1="130.9" x2="87.2" y2="130.9" stroke="#555" stroke-width="0.7"/>
<line x1="79" y1="129.4" x2="79" y2="132.4" stroke="#555" stroke-width="0.7"/>
<line x1="87.2" y1="129.4" x2="87.2" y2="132.4" stroke="#555" stroke-width="0.7"/>
<text x="83.1" y="128.70000000000002" font-size="4" font-weight="bold" text-anchor="middle" dominant-baseline="central" fill="#111" stroke="#111" stroke-width="0.18">*</text>
<line x1="92.6" y1="136.7" x2="99.9" y2="136.7" stroke="#555" stroke-width="0.7"/>
<line x1="92.6" y1="135.2" x2="92.6" y2="138.2" stroke="#555" stroke-width="0.7"/>
<line x1="99.9" y1="135.2" x2="99.9" y2="138.2" stroke="#555" stroke-width="0.7"/>
<text x="96.25" y="134.5" font-size="4" font-weight="bold" text-anchor="middle" dominant-baseline="central" fill="#111" stroke="#111" stroke-width="0.18">*</text>
<text x="29.0" y="144.15" font-size="6.28" font-weight="normal" text-anchor="middle" dominant-baseline="central" fill="#111" stroke="#111" stroke-width="0.12" transform="rotate(-90 29.0 144.15)" textLength="52.70" lengthAdjust="spacingAndGlyphs">Colony formation (%)</text>
<rect x="42.25" y="177.29999999999998" width="4.6" height="3.8" fill="#ffffff" stroke="#222" stroke-width="0.75"/>
<text x="49.8" y="179.2" font-size="5.43" font-weight="bold" text-anchor="start" dominant-baseline="central" fill="#111" stroke="#111" stroke-width="0.18" textLength="6.64" lengthAdjust="spacingAndGlyphs">NC</text>
<rect x="42.25" y="182.6" width="4.6" height="3.8" fill="#d9688a" stroke="#222" stroke-width="0.75"/>
<text x="49.8" y="184.5" font-size="5.43" font-weight="bold" text-anchor="start" dominant-baseline="central" fill="#111" stroke="#111" stroke-width="0.18" textLength="20.20" lengthAdjust="spacingAndGlyphs">miR-1184</text>
<rect x="42.25" y="188.1" width="4.6" height="3.8" fill="#5f9be0" stroke="#222" stroke-width="0.75"/>
<text x="49.8" y="190" font-size="5.43" font-weight="bold" text-anchor="start" dominant-baseline="central" fill="#111" stroke="#111" stroke-width="0.18" textLength="36.69" lengthAdjust="spacingAndGlyphs">miR-1184+vector</text>
<rect x="42.25" y="193.29999999999998" width="4.6" height="3.8" fill="#e9a144" stroke="#222" stroke-width="0.75"/>
<text x="49.8" y="195.2" font-size="5.43" font-weight="bold" text-anchor="start" dominant-baseline="central" fill="#111" stroke="#111" stroke-width="0.18" textLength="38.48" lengthAdjust="spacingAndGlyphs">miR-1184+RAP2B</text>
<text x="29" y="194.8" font-size="9.2" font-weight="bold" text-anchor="start" dominant-baseline="central" fill="#111" stroke="#111" stroke-width="0.18">d</text>
<line x1="156.9" y1="122.5" x2="156.9" y2="168.6" stroke="#8a8a8a" stroke-width="0.9"/>
<line x1="156.9" y1="168.6" x2="216" y2="168.6" stroke="#8a8a8a" stroke-width="0.9"/>
<line x1="155.70000000000002" y1="168.6" x2="156.9" y2="168.6" stroke="#777" stroke-width="0.6"/>
<text x="155.10000000000002" y="168.6" font-size="4.65" font-weight="bold" text-anchor="end" dominant-baseline="central" fill="#111" stroke="#111" stroke-width="0.18">0</text>
<line x1="155.70000000000002" y1="157.35" x2="156.9" y2="157.35" stroke="#777" stroke-width="0.6"/>
<text x="155.10000000000002" y="157.35" font-size="4.96" font-weight="bold" text-anchor="end" dominant-baseline="central" fill="#111" stroke="#111" stroke-width="0.18" textLength="4.67" lengthAdjust="spacingAndGlyphs">20</text>
<line x1="155.70000000000002" y1="146.1" x2="156.9" y2="146.1" stroke="#777" stroke-width="0.6"/>
<text x="155.10000000000002" y="146.1" font-size="4.96" font-weight="bold" text-anchor="end" dominant-baseline="central" fill="#111" stroke="#111" stroke-width="0.18" textLength="4.67" lengthAdjust="spacingAndGlyphs">40</text>
<line x1="155.70000000000002" y1="134.85" x2="156.9" y2="134.85" stroke="#777" stroke-width="0.6"/>
<text x="155.10000000000002" y="134.85" font-size="4.96" font-weight="bold" text-anchor="end" dominant-baseline="central" fill="#111" stroke="#111" stroke-width="0.18" textLength="4.67" lengthAdjust="spacingAndGlyphs">60</text>
<line x1="155.70000000000002" y1="123.6" x2="156.9" y2="123.6" stroke="#777" stroke-width="0.6"/>
<text x="155.10000000000002" y="123.6" font-size="4.96" font-weight="bold" text-anchor="end" dominant-baseline="central" fill="#111" stroke="#111" stroke-width="0.18" textLength="4.67" lengthAdjust="spacingAndGlyphs">80</text>
<rect x="159" y="143.00625" width="5.099999999999994" height="25.59375" fill="#ffffff" stroke="#2a2a2a" stroke-width="0.55"/>
<line x1="161.55" y1="141.20624999999998" x2="161.55" y2="143.00625" stroke="#333" stroke-width="0.6"/>
<line x1="160.35000000000002" y1="141.20624999999998" x2="162.75" y2="141.20624999999998" stroke="#333" stroke-width="0.6"/>
<rect x="165.8" y="155.1" width="4.099999999999994" height="13.5" fill="#d9688a" stroke="#2a2a2a" stroke-width="0.55"/>
<line x1="167.85000000000002" y1="153.29999999999998" x2="167.85000000000002" y2="155.1" stroke="#333" stroke-width="0.6"/>
<line x1="166.65000000000003" y1="153.29999999999998" x2="169.05" y2="153.29999999999998" stroke="#333" stroke-width="0.6"/>
<rect x="172.1" y="156.225" width="4.700000000000017" height="12.375" fill="#5f9be0" stroke="#2a2a2a" stroke-width="0.55"/>
<line x1="174.45" y1="154.42499999999998" x2="174.45" y2="156.225" stroke="#333" stroke-width="0.6"/>
<line x1="173.25" y1="154.42499999999998" x2="175.64999999999998" y2="154.42499999999998" stroke="#333" stroke-width="0.6"/>
<rect x="179" y="146.6625" width="4.900000000000006" height="21.9375" fill="#e9a144" stroke="#2a2a2a" stroke-width="0.55"/>
<line x1="181.45" y1="144.86249999999998" x2="181.45" y2="146.6625" stroke="#333" stroke-width="0.6"/>
<line x1="180.25" y1="144.86249999999998" x2="182.64999999999998" y2="144.86249999999998" stroke="#333" stroke-width="0.6"/>
<rect x="190.8" y="138.225" width="4.899999999999977" height="30.375" fill="#ffffff" stroke="#2a2a2a" stroke-width="0.55"/>
<line x1="193.25" y1="136.42499999999998" x2="193.25" y2="138.225" stroke="#333" stroke-width="0.6"/>
<line x1="192.05" y1="136.42499999999998" x2="194.45" y2="136.42499999999998" stroke="#333" stroke-width="0.6"/>
<rect x="197.5" y="152.56875" width="4.199999999999989" height="16.03125" fill="#d9688a" stroke="#2a2a2a" stroke-width="0.55"/>
<line x1="199.6" y1="150.76874999999998" x2="199.6" y2="152.56875" stroke="#333" stroke-width="0.6"/>
<line x1="198.4" y1="150.76874999999998" x2="200.79999999999998" y2="150.76874999999998" stroke="#333" stroke-width="0.6"/>
<rect x="204" y="153.13125" width="4.400000000000006" height="15.46875" fill="#5f9be0" stroke="#2a2a2a" stroke-width="0.55"/>
<line x1="206.2" y1="151.33124999999998" x2="206.2" y2="153.13125" stroke="#333" stroke-width="0.6"/>
<line x1="205.0" y1="151.33124999999998" x2="207.39999999999998" y2="151.33124999999998" stroke="#333" stroke-width="0.6"/>
<rect x="210.8" y="144.4125" width="4.5" height="24.1875" fill="#e9a144" stroke="#2a2a2a" stroke-width="0.55"/>
<line x1="213.05" y1="142.61249999999998" x2="213.05" y2="144.4125" stroke="#333" stroke-width="0.6"/>
<line x1="211.85000000000002" y1="142.61249999999998" x2="214.25" y2="142.61249999999998" stroke="#333" stroke-width="0.6"/>
<text x="171.5" y="173.9" font-size="6.61" font-weight="bold" text-anchor="middle" dominant-baseline="central" fill="#111" stroke="#111" stroke-width="0.18" textLength="12.46" lengthAdjust="spacingAndGlyphs">5637</text>
<text x="202.7" y="173.9" font-size="6.61" font-weight="bold" text-anchor="middle" dominant-baseline="central" fill="#111" stroke="#111" stroke-width="0.18" textLength="9.65" lengthAdjust="spacingAndGlyphs">T24</text>
<line x1="161.2" y1="136.3" x2="168.1" y2="136.3" stroke="#555" stroke-width="0.7"/>
<line x1="161.2" y1="134.8" x2="161.2" y2="137.8" stroke="#555" stroke-width="0.7"/>
<line x1="168.1" y1="134.8" x2="168.1" y2="137.8" stroke="#555" stroke-width="0.7"/>
<text x="164.64999999999998" y="134.10000000000002" font-size="4" font-weight="bold" text-anchor="middle" dominant-baseline="central" fill="#111" stroke="#111" stroke-width="0.18">*</text>
<line x1="173.6" y1="140.9" x2="181.7" y2="140.9" stroke="#555" stroke-width="0.7"/>
<line x1="173.6" y1="139.4" x2="173.6" y2="142.4" stroke="#555" stroke-width="0.7"/>
<line x1="181.7" y1="139.4" x2="181.7" y2="142.4" stroke="#555" stroke-width="0.7"/>
<text x="177.64999999999998" y="138.70000000000002" font-size="4" font-weight="bold" text-anchor="middle" dominant-baseline="central" fill="#111" stroke="#111" stroke-width="0.18">*</text>
<line x1="192.6" y1="131.8" x2="199.9" y2="131.8" stroke="#555" stroke-width="0.7"/>
<line x1="192.6" y1="130.3" x2="192.6" y2="133.3" stroke="#555" stroke-width="0.7"/>
<line x1="199.9" y1="130.3" x2="199.9" y2="133.3" stroke="#555" stroke-width="0.7"/>
<text x="196.25" y="129.60000000000002" font-size="4" font-weight="bold" text-anchor="middle" dominant-baseline="central" fill="#111" stroke="#111" stroke-width="0.18">*</text>
<line x1="205.9" y1="138.1" x2="214.4" y2="138.1" stroke="#555" stroke-width="0.7"/>
<line x1="205.9" y1="136.6" x2="205.9" y2="139.6" stroke="#555" stroke-width="0.7"/>
<line x1="214.4" y1="136.6" x2="214.4" y2="139.6" stroke="#555" stroke-width="0.7"/>
<text x="210.15" y="135.9" font-size="4" font-weight="bold" text-anchor="middle" dominant-baseline="central" fill="#111" stroke="#111" stroke-width="0.18">*</text>
<text x="145.3" y="145.4" font-size="6.13" font-weight="bold" text-anchor="middle" dominant-baseline="central" fill="#111" stroke="#111" stroke-width="0.18" transform="rotate(-90 145.3 145.4)" textLength="45.20" lengthAdjust="spacingAndGlyphs">EDU positive cell</text>
<rect x="156.95" y="179.5" width="4.5" height="4.0" fill="#ffffff" stroke="#222" stroke-width="0.75"/>
<text x="165.1" y="181.5" font-size="5.55" font-weight="bold" text-anchor="start" dominant-baseline="central" fill="#111" stroke="#111" stroke-width="0.18" textLength="6.79" lengthAdjust="spacingAndGlyphs">NC</text>
<rect x="156.95" y="185.8" width="4.5" height="4.0" fill="#d9688a" stroke="#222" stroke-width="0.75"/>
<text x="165.1" y="187.8" font-size="5.55" font-weight="bold" text-anchor="start" dominant-baseline="central" fill="#111" stroke="#111" stroke-width="0.18" textLength="20.64" lengthAdjust="spacingAndGlyphs">miR-1184</text>
<rect x="156.95" y="191.3" width="4.5" height="4.0" fill="#5f9be0" stroke="#222" stroke-width="0.75"/>
<text x="165.1" y="193.3" font-size="5.55" font-weight="bold" text-anchor="start" dominant-baseline="central" fill="#111" stroke="#111" stroke-width="0.18" textLength="37.49" lengthAdjust="spacingAndGlyphs">miR-1184+vector</text>
<rect x="156.95" y="197.6" width="4.5" height="4.0" fill="#e9a144" stroke="#222" stroke-width="0.75"/>
<text x="165.1" y="199.6" font-size="5.55" font-weight="bold" text-anchor="start" dominant-baseline="central" fill="#111" stroke="#111" stroke-width="0.18" textLength="39.32" lengthAdjust="spacingAndGlyphs">miR-1184+RAP2B</text>
<text x="145" y="200.6" font-size="9.2" font-weight="bold" text-anchor="start" dominant-baseline="central" fill="#111" stroke="#111" stroke-width="0.18">e</text>
<line x1="269.4" y1="123" x2="269.4" y2="168.4" stroke="#8a8a8a" stroke-width="0.9"/>
<line x1="269.4" y1="168.4" x2="355" y2="168.4" stroke="#8a8a8a" stroke-width="0.9"/>
<line x1="268.2" y1="168.4" x2="269.4" y2="168.4" stroke="#777" stroke-width="0.6"/>
<text x="267.5" y="168.4" font-size="4.65" font-weight="bold" text-anchor="end" dominant-baseline="central" fill="#111" stroke="#111" stroke-width="0.18">0</text>
<line x1="268.2" y1="153.4" x2="269.4" y2="153.4" stroke="#777" stroke-width="0.6"/>
<text x="267.5" y="153.4" font-size="4.96" font-weight="bold" text-anchor="end" dominant-baseline="central" fill="#111" stroke="#111" stroke-width="0.18" textLength="4.67" lengthAdjust="spacingAndGlyphs">50</text>
<line x1="268.2" y1="138.4" x2="269.4" y2="138.4" stroke="#777" stroke-width="0.6"/>
<text x="267.5" y="138.4" font-size="4.96" font-weight="bold" text-anchor="end" dominant-baseline="central" fill="#111" stroke="#111" stroke-width="0.18" textLength="7.01" lengthAdjust="spacingAndGlyphs">100</text>
<line x1="268.2" y1="123.4" x2="269.4" y2="123.4" stroke="#777" stroke-width="0.6"/>
<text x="267.5" y="123.4" font-size="4.96" font-weight="bold" text-anchor="end" dominant-baseline="central" fill="#111" stroke="#111" stroke-width="0.18" textLength="7.01" lengthAdjust="spacingAndGlyphs">150</text>
<rect x="271.7" y="152.5" width="6.400000000000034" height="15.899999999999999" fill="#ffffff" stroke="#2a2a2a" stroke-width="0.55"/>
<rect x="271.7" y="142.0" width="6.400000000000034" height="10.5" fill="#d9688a" stroke="#2a2a2a" stroke-width="0.55"/>
<rect x="271.7" y="138.4" width="6.400000000000034" height="3.5999999999999996" fill="#5f9be0" stroke="#2a2a2a" stroke-width="0.55"/>
<rect x="281.3" y="147.4" width="6.199999999999989" height="21.0" fill="#ffffff" stroke="#2a2a2a" stroke-width="0.55"/>
<rect x="281.3" y="141.4" width="6.199999999999989" height="6.0" fill="#d9688a" stroke="#2a2a2a" stroke-width="0.55"/>
<rect x="281.3" y="138.4" width="6.199999999999989" height="3.0" fill="#5f9be0" stroke="#2a2a2a" stroke-width="0.55"/>
<rect x="290.8" y="148.0" width="6.300000000000011" height="20.4" fill="#ffffff" stroke="#2a2a2a" stroke-width="0.55"/>
<rect x="290.8" y="141.4" width="6.300000000000011" height="6.6" fill="#d9688a" stroke="#2a2a2a" stroke-width="0.55"/>
<rect x="290.8" y="138.4" width="6.300000000000011" height="3.0" fill="#5f9be0" stroke="#2a2a2a" stroke-width="0.55"/>
<rect x="300.4" y="151.3" width="6.2000000000000455" height="17.099999999999998" fill="#ffffff" stroke="#2a2a2a" stroke-width="0.55"/>
<rect x="300.4" y="142.0" width="6.2000000000000455" height="9.299999999999999" fill="#d9688a" stroke="#2a2a2a" stroke-width="0.55"/>
<rect x="300.4" y="138.4" width="6.2000000000000455" height="3.5999999999999996" fill="#5f9be0" stroke="#2a2a2a" stroke-width="0.55"/>
<rect x="318.1" y="152.20000000000002" width="6.399999999999977" height="16.2" fill="#ffffff" stroke="#2a2a2a" stroke-width="0.55"/>
<rect x="318.1" y="142.0" width="6.399999999999977" height="10.2" fill="#d9688a" stroke="#2a2a2a" stroke-width="0.55"/>
<rect x="318.1" y="138.4" width="6.399999999999977" height="3.5999999999999996" fill="#5f9be0" stroke="#2a2a2a" stroke-width="0.55"/>
<rect x="327.6" y="149.20000000000002" width="6.0" height="19.2" fill="#ffffff" stroke="#2a2a2a" stroke-width="0.55"/>
<rect x="327.6" y="142.0" width="6.0" height="7.199999999999999" fill="#d9688a" stroke="#2a2a2a" stroke-width="0.55"/>
<rect x="327.6" y="138.4" width="6.0" height="3.5999999999999996" fill="#5f9be0" stroke="#2a2a2a" stroke-width="0.55"/>
<rect x="336.8" y="148.9" width="5.800000000000011" height="19.5" fill="#ffffff" stroke="#2a2a2a" stroke-width="0.55"/>
<rect x="336.8" y="141.70000000000002" width="5.800000000000011" height="7.199999999999999" fill="#d9688a" stroke="#2a2a2a" stroke-width="0.55"/>
<rect x="336.8" y="138.4" width="5.800000000000011" height="3.3" fill="#5f9be0" stroke="#2a2a2a" stroke-width="0.55"/>
<rect x="345.9" y="151.0" width="6.2000000000000455" height="17.4" fill="#ffffff" stroke="#2a2a2a" stroke-width="0.55"/>
<rect x="345.9" y="142.0" width="6.2000000000000455" height="9.0" fill="#d9688a" stroke="#2a2a2a" stroke-width="0.55"/>
<rect x="345.9" y="138.4" width="6.2000000000000455" height="3.5999999999999996" fill="#5f9be0" stroke="#2a2a2a" stroke-width="0.55"/>
<line x1="272.6" y1="133.2" x2="305.3" y2="133.2" stroke="#333" stroke-width="0.6"/>
<text x="289.2" y="130.0" font-size="6.14" font-weight="bold" text-anchor="middle" dominant-baseline="central" fill="#111" stroke="#111" stroke-width="0.18" textLength="11.57" lengthAdjust="spacingAndGlyphs">5637</text>
<line x1="319" y1="133.2" x2="351.7" y2="133.2" stroke="#333" stroke-width="0.6"/>
<text x="335.7" y="130.0" font-size="6.14" font-weight="bold" text-anchor="middle" dominant-baseline="central" fill="#111" stroke="#111" stroke-width="0.18" textLength="8.96" lengthAdjust="spacingAndGlyphs">T24</text>
<rect x="355.9" y="125.7" width="4.7" height="4" fill="#5f9be0" stroke="#222" stroke-width="0.75"/>
<text x="363.7" y="127.7" font-size="5.43" font-weight="bold" text-anchor="start" dominant-baseline="central" fill="#111" stroke="#111" stroke-width="0.18" textLength="10.5" lengthAdjust="spacingAndGlyphs">G2/M</text>
<rect x="355.9" y="133.3" width="4.7" height="4" fill="#d9688a" stroke="#222" stroke-width="0.75"/>
<text x="363.7" y="135.3" font-size="5.1" font-weight="bold" text-anchor="start" dominant-baseline="central" fill="#111" stroke="#111" stroke-width="0.18">S</text>
<rect x="355.9" y="141" width="4.7" height="4" fill="#ffffff" stroke="#222" stroke-width="0.75"/>
<text x="363.7" y="143" font-size="5.43" font-weight="bold" text-anchor="start" dominant-baseline="central" fill="#111" stroke="#111" stroke-width="0.18" textLength="12.9" lengthAdjust="spacingAndGlyphs">G0/G1</text>
<text x="275.2" y="173.9" font-size="5.72" font-weight="bold" text-anchor="end" dominant-baseline="central" fill="#111" stroke="#111" stroke-width="0.18" transform="rotate(-30 275.2 173.9)" textLength="7.01" lengthAdjust="spacingAndGlyphs">NC</text>
<text x="284.7" y="173.9" font-size="5.72" font-weight="bold" text-anchor="end" dominant-baseline="central" fill="#111" stroke="#111" stroke-width="0.18" transform="rotate(-30 284.7 173.9)" textLength="21.30" lengthAdjust="spacingAndGlyphs">miR-1184</text>
<text x="294.25000000000006" y="173.9" font-size="5.72" font-weight="bold" text-anchor="end" dominant-baseline="central" fill="#111" stroke="#111" stroke-width="0.18" transform="rotate(-30 294.25000000000006 173.9)" textLength="38.69" lengthAdjust="spacingAndGlyphs">miR-1184+vector</text>
<text x="303.8" y="173.9" font-size="5.72" font-weight="bold" text-anchor="end" dominant-baseline="central" fill="#111" stroke="#111" stroke-width="0.18" transform="rotate(-30 303.8 173.9)" textLength="40.57" lengthAdjust="spacingAndGlyphs">miR-1184+RAP2B</text>
<text x="321.6" y="173.9" font-size="5.72" font-weight="bold" text-anchor="end" dominant-baseline="central" fill="#111" stroke="#111" stroke-width="0.18" transform="rotate(-30 321.6 173.9)" textLength="7.01" lengthAdjust="spacingAndGlyphs">NC</text>
<text x="330.90000000000003" y="173.9" font-size="5.72" font-weight="bold" text-anchor="end" dominant-baseline="central" fill="#111" stroke="#111" stroke-width="0.18" transform="rotate(-30 330.90000000000003 173.9)" textLength="21.30" lengthAdjust="spacingAndGlyphs">miR-1184</text>
<text x="340.00000000000006" y="173.9" font-size="5.72" font-weight="bold" text-anchor="end" dominant-baseline="central" fill="#111" stroke="#111" stroke-width="0.18" transform="rotate(-30 340.00000000000006 173.9)" textLength="38.69" lengthAdjust="spacingAndGlyphs">miR-1184+vector</text>
<text x="349.3" y="173.9" font-size="5.72" font-weight="bold" text-anchor="end" dominant-baseline="central" fill="#111" stroke="#111" stroke-width="0.18" transform="rotate(-30 349.3 173.9)" textLength="40.57" lengthAdjust="spacingAndGlyphs">miR-1184+RAP2B</text>
<text x="257.2" y="145.85" font-size="6.78" font-weight="normal" text-anchor="middle" dominant-baseline="central" fill="#111" stroke="#111" stroke-width="0.12" transform="rotate(-90 257.2 145.85)" textLength="66.30" lengthAdjust="spacingAndGlyphs">Cell cycle distribution(%)</text>
<text x="255" y="192" font-size="9.2" font-weight="bold" text-anchor="start" dominant-baseline="central" fill="#111" stroke="#111" stroke-width="0.18">f</text>
<rect x="49.0" y="223.0" width="51.2" height="49.2" fill="#ffffff" stroke="#b8b8b8" stroke-width="0.5"/>
<clipPath id="fc00"><rect x="49.0" y="223.0" width="51.2" height="48.900000000000006"/></clipPath><g clip-path="url(#fc00)">
<ellipse cx="64.45" cy="265.85" rx="7.48" ry="3.03" transform="rotate(-31.9 64.45 265.85)" fill="#cd4527" fill-opacity="0.95"/>
<ellipse cx="83.50" cy="248.10" rx="3.50" ry="1.05" transform="rotate(-32.7 83.50 248.10)" fill="#cd4527" fill-opacity="0.50"/>
<path d="M60.2 269.5h.7v.7h-.7zM67.6 262.5h.7v.7h-.7zM59.3 268.9h.7v.7h-.7zM67.5 266.8h.7v.7h-.7zM58.3 266.3h.7v.7h-.7zM67.7 265.1h.7v.7h-.7zM71.4 264.1h.7v.7h-.7zM63.7 265.6h.7v.7h-.7zM73.9 259.2h.7v.7h-.7zM60.1 265.6h.7v.7h-.7zM65.0 265.9h.7v.7h-.7zM63.1 266.6h.7v.7h-.7zM66.3 266.5h.7v.7h-.7zM68.9 263.6h.7v.7h-.7zM58.4 271.4h.7v.7h-.7zM58.8 268.9h.7v.7h-.7zM58.8 269.3h.7v.7h-.7zM61.7 268.1h.7v.7h-.7zM77.0 257.9h.7v.7h-.7zM66.1 261.4h.7v.7h-.7zM64.1 267.8h.7v.7h-.7zM64.5 266.8h.7v.7h-.7zM63.7 263.7h.7v.7h-.7zM65.7 263.0h.7v.7h-.7zM71.0 260.5h.7v.7h-.7zM67.1 264.2h.7v.7h-.7zM67.4 262.5h.7v.7h-.7zM68.1 263.3h.7v.7h-.7zM70.0 264.0h.7v.7h-.7zM64.1 264.1h.7v.7h-.7zM67.9 264.9h.7v.7h-.7zM70.3 261.3h.7v.7h-.7zM67.2 265.5h.7v.7h-.7zM65.8 265.6h.7v.7h-.7zM64.4 264.3h.7v.7h-.7zM60.1 267.5h.7v.7h-.7zM68.5 267.3h.7v.7h-.7zM69.4 265.5h.7v.7h-.7zM68.2 265.3h.7v.7h-.7zM66.0 266.9h.7v.7h-.7zM70.8 261.0h.7v.7h-.7zM64.1 271.2h.7v.7h-.7zM66.5 267.1h.7v.7h-.7zM66.5 261.7h.7v.7h-.7zM75.8 263.4h.7v.7h-.7zM66.0 266.8h.7v.7h-.7zM63.9 263.9h.7v.7h-.7zM64.5 266.8h.7v.7h-.7zM69.5 264.5h.7v.7h-.7zM66.3 268.2h.7v.7h-.7zM62.5 269.1h.7v.7h-.7zM68.3 262.7h.7v.7h-.7zM56.6 268.4h.7v.7h-.7zM66.0 266.3h.7v.7h-.7zM69.2 260.3h.7v.7h-.7zM65.2 267.1h.7v.7h-.7zM61.1 261.8h.7v.7h-.7zM70.2 268.3h.7v.7h-.7zM67.2 261.8h.7v.7h-.7zM63.1 267.2h.7v.7h-.7zM74.7 261.1h.7v.7h-.7zM66.7 268.5h.7v.7h-.7zM66.3 269.5h.7v.7h-.7zM61.3 266.6h.7v.7h-.7zM68.9 266.8h.7v.7h-.7zM67.3 264.9h.7v.7h-.7zM56.7 268.8h.7v.7h-.7zM61.5 266.3h.7v.7h-.7zM66.3 263.8h.7v.7h-.7zM67.5 264.1h.7v.7h-.7zM63.3 266.9h.7v.7h-.7zM67.1 266.4h.7v.7h-.7zM62.4 266.5h.7v.7h-.7zM69.8 262.1h.7v.7h-.7zM61.2 264.7h.7v.7h-.7zM65.3 265.8h.7v.7h-.7zM73.0 261.1h.7v.7h-.7zM58.6 263.1h.7v.7h-.7zM70.0 262.9h.7v.7h-.7zM58.5 270.0h.7v.7h-.7zM69.4 264.3h.7v.7h-.7zM61.3 262.3h.7v.7h-.7zM62.2 263.2h.7v.7h-.7zM64.2 260.4h.7v.7h-.7zM62.4 270.3h.7v.7h-.7zM69.3 259.7h.7v.7h-.7zM59.6 271.1h.7v.7h-.7zM66.6 262.0h.7v.7h-.7zM61.0 266.2h.7v.7h-.7zM59.1 267.4h.7v.7h-.7zM70.0 264.2h.7v.7h-.7zM72.2 260.8h.7v.7h-.7zM62.8 264.3h.7v.7h-.7zM62.5 263.7h.7v.7h-.7zM58.5 271.4h.7v.7h-.7zM70.9 264.0h.7v.7h-.7zM69.8 263.2h.7v.7h-.7zM61.8 267.7h.7v.7h-.7zM61.7 264.7h.7v.7h-.7zM56.3 267.1h.7v.7h-.7zM64.6 266.1h.7v.7h-.7zM64.3 269.6h.7v.7h-.7zM65.8 266.5h.7v.7h-.7zM68.1 261.4h.7v.7h-.7zM63.4 269.9h.7v.7h-.7zM66.9 266.9h.7v.7h-.7zM64.9 260.2h.7v.7h-.7zM66.4 262.9h.7v.7h-.7zM61.1 266.8h.7v.7h-.7zM68.4 265.7h.7v.7h-.7zM66.4 260.4h.7v.7h-.7zM59.4 262.8h.7v.7h-.7zM64.8 267.2h.7v.7h-.7zM61.8 268.1h.7v.7h-.7zM66.5 267.2h.7v.7h-.7zM60.4 266.2h.7v.7h-.7zM63.6 270.9h.7v.7h-.7zM68.5 263.0h.7v.7h-.7zM65.4 265.5h.7v.7h-.7zM65.0 265.0h.7v.7h-.7zM61.7 264.3h.7v.7h-.7zM63.9 270.5h.7v.7h-.7zM66.6 264.7h.7v.7h-.7zM63.7 266.5h.7v.7h-.7zM65.0 263.8h.7v.7h-.7zM65.5 265.8h.7v.7h-.7zM60.7 266.2h.7v.7h-.7zM59.4 266.2h.7v.7h-.7zM65.1 259.3h.7v.7h-.7zM62.7 265.3h.7v.7h-.7zM62.2 267.5h.7v.7h-.7zM68.8 263.3h.7v.7h-.7zM63.2 265.0h.7v.7h-.7zM65.0 267.9h.7v.7h-.7zM61.6 264.6h.7v.7h-.7zM58.3 266.8h.7v.7h-.7zM60.4 271.2h.7v.7h-.7zM84.2 247.3h.7v.7h-.7zM86.8 245.1h.7v.7h-.7zM85.9 247.7h.7v.7h-.7zM78.6 249.0h.7v.7h-.7zM81.8 250.5h.7v.7h-.7zM86.0 244.8h.7v.7h-.7zM85.9 246.0h.7v.7h-.7zM82.2 248.2h.7v.7h-.7zM81.5 246.8h.7v.7h-.7zM80.2 248.5h.7v.7h-.7zM86.1 249.4h.7v.7h-.7zM90.2 243.3h.7v.7h-.7zM78.9 250.5h.7v.7h-.7zM82.4 251.6h.7v.7h-.7zM84.5 246.4h.7v.7h-.7zM86.2 247.1h.7v.7h-.7zM79.1 250.2h.7v.7h-.7zM82.9 248.5h.7v.7h-.7zM83.6 247.5h.7v.7h-.7zM83.6 247.2h.7v.7h-.7zM82.2 251.1h.7v.7h-.7zM84.7 248.0h.7v.7h-.7zM79.4 250.5h.7v.7h-.7zM84.7 245.5h.7v.7h-.7zM86.0 245.9h.7v.7h-.7zM84.4 247.3h.7v.7h-.7zM84.8 249.0h.7v.7h-.7zM83.5 250.3h.7v.7h-.7zM80.9 248.4h.7v.7h-.7zM84.6 245.9h.7v.7h-.7zM83.2 249.6h.7v.7h-.7zM85.4 244.3h.7v.7h-.7zM86.0 249.2h.7v.7h-.7zM86.4 245.9h.7v.7h-.7zM81.8 248.8h.7v.7h-.7zM80.4 249.7h.7v.7h-.7zM82.9 248.3h.7v.7h-.7zM86.3 246.0h.7v.7h-.7zM80.5 251.5h.7v.7h-.7zM80.5 249.4h.7v.7h-.7zM82.9 248.0h.7v.7h-.7zM80.8 249.5h.7v.7h-.7zM88.6 243.9h.7v.7h-.7zM83.9 249.5h.7v.7h-.7zM85.9 247.7h.7v.7h-.7zM84.4 244.7h.7v.7h-.7zM81.4 249.6h.7v.7h-.7zM85.6 248.6h.7v.7h-.7zM84.5 247.1h.7v.7h-.7zM83.5 247.8h.7v.7h-.7zM84.6 248.4h.7v.7h-.7zM82.1 247.8h.7v.7h-.7zM82.1 250.6h.7v.7h-.7zM87.4 247.0h.7v.7h-.7zM86.2 247.6h.7v.7h-.7zM83.9 248.8h.7v.7h-.7zM80.7 249.6h.7v.7h-.7zM82.1 250.0h.7v.7h-.7zM82.0 248.9h.7v.7h-.7zM85.4 248.8h.7v.7h-.7zM80.9 248.4h.7v.7h-.7zM84.8 245.7h.7v.7h-.7zM84.3 246.8h.7v.7h-.7zM82.1 246.4h.7v.7h-.7zM85.0 246.4h.7v.7h-.7zM82.6 251.7h.7v.7h-.7zM87.6 250.5h.7v.7h-.7zM84.3 247.1h.7v.7h-.7zM84.8 249.5h.7v.7h-.7zM83.7 248.6h.7v.7h-.7z" fill="#cd4527" fill-opacity="0.85"/>
<path d="M80.1 249.7h.7v.7h-.7zM59.3 269.9h.7v.7h-.7zM87.8 245.0h.7v.7h-.7zM74.3 253.7h.7v.7h-.7zM80.0 252.6h.7v.7h-.7zM65.2 268.9h.7v.7h-.7zM73.1 255.9h.7v.7h-.7zM65.8 270.7h.7v.7h-.7zM90.0 242.5h.7v.7h-.7zM63.4 268.5h.7v.7h-.7zM80.7 252.0h.7v.7h-.7zM71.3 258.0h.7v.7h-.7zM57.6 266.0h.7v.7h-.7zM60.2 267.2h.7v.7h-.7zM71.6 261.1h.7v.7h-.7zM79.8 257.2h.7v.7h-.7zM81.7 243.5h.7v.7h-.7zM75.0 255.3h.7v.7h-.7zM78.8 256.3h.7v.7h-.7zM70.3 261.6h.7v.7h-.7zM83.5 246.6h.7v.7h-.7zM89.0 243.0h.7v.7h-.7zM82.4 246.7h.7v.7h-.7zM82.9 251.7h.7v.7h-.7zM75.5 258.0h.7v.7h-.7zM76.9 251.7h.7v.7h-.7zM86.3 242.3h.7v.7h-.7zM75.9 251.1h.7v.7h-.7zM74.3 260.1h.7v.7h-.7zM80.6 244.0h.7v.7h-.7zM56.2 267.7h.7v.7h-.7zM65.9 264.4h.7v.7h-.7zM63.9 266.5h.7v.7h-.7zM69.1 262.2h.7v.7h-.7zM77.5 256.1h.7v.7h-.7zM86.0 239.3h.7v.7h-.7zM57.5 266.5h.7v.7h-.7zM61.5 269.2h.7v.7h-.7zM74.6 260.4h.7v.7h-.7zM83.2 256.1h.7v.7h-.7zM68.1 258.6h.7v.7h-.7zM69.0 264.5h.7v.7h-.7zM75.0 259.3h.7v.7h-.7zM69.7 262.9h.7v.7h-.7zM74.1 257.5h.7v.7h-.7zM66.5 269.3h.7v.7h-.7zM63.3 267.5h.7v.7h-.7zM75.2 257.3h.7v.7h-.7zM78.5 254.7h.7v.7h-.7zM77.8 257.2h.7v.7h-.7zM79.9 256.4h.7v.7h-.7zM72.9 259.0h.7v.7h-.7zM76.8 258.2h.7v.7h-.7zM77.1 252.8h.7v.7h-.7zM72.5 256.8h.7v.7h-.7zM81.3 256.0h.7v.7h-.7zM81.2 251.6h.7v.7h-.7zM86.7 242.3h.7v.7h-.7zM69.2 264.9h.7v.7h-.7zM72.9 253.1h.7v.7h-.7zM82.4 251.6h.7v.7h-.7zM93.2 240.7h.7v.7h-.7zM61.9 270.8h.7v.7h-.7zM70.8 258.3h.7v.7h-.7zM76.2 256.3h.7v.7h-.7zM75.9 250.8h.7v.7h-.7zM68.3 260.8h.7v.7h-.7zM69.0 256.5h.7v.7h-.7zM78.0 251.7h.7v.7h-.7zM71.4 263.9h.7v.7h-.7zM65.5 254.3h.7v.7h-.7zM64.5 260.6h.7v.7h-.7zM84.6 246.1h.7v.7h-.7zM62.4 267.7h.7v.7h-.7zM58.5 267.6h.7v.7h-.7zM78.3 256.0h.7v.7h-.7zM79.6 252.9h.7v.7h-.7zM69.3 258.6h.7v.7h-.7zM61.5 264.6h.7v.7h-.7zM92.1 243.0h.7v.7h-.7zM72.8 256.6h.7v.7h-.7zM63.5 265.7h.7v.7h-.7zM86.0 248.2h.7v.7h-.7zM68.2 262.8h.7v.7h-.7zM71.7 263.3h.7v.7h-.7zM78.2 247.3h.7v.7h-.7zM77.8 259.1h.7v.7h-.7zM85.5 246.7h.7v.7h-.7zM71.2 255.6h.7v.7h-.7zM85.5 239.9h.7v.7h-.7zM56.3 268.0h.7v.7h-.7zM65.0 270.9h.7v.7h-.7zM89.3 247.5h.7v.7h-.7zM63.0 263.3h.7v.7h-.7zM67.0 268.6h.7v.7h-.7zM74.9 253.8h.7v.7h-.7zM72.8 260.8h.7v.7h-.7zM69.7 256.2h.7v.7h-.7zM82.6 249.7h.7v.7h-.7zM81.4 243.3h.7v.7h-.7zM86.0 243.6h.7v.7h-.7zM85.9 241.5h.7v.7h-.7zM81.3 248.4h.7v.7h-.7zM74.1 262.6h.7v.7h-.7zM87.8 244.1h.7v.7h-.7z" fill="#d2553a" fill-opacity="0.6"/>
</g>
<line x1="74.8" y1="223.0" x2="74.8" y2="272.2" stroke="#8a8a8a" stroke-width="0.6"/>
<line x1="49.0" y1="257.6" x2="100.2" y2="257.6" stroke="#8a8a8a" stroke-width="0.6"/>
<line x1="49.0" y1="223.0" x2="49.0" y2="272.2" stroke="#444" stroke-width="0.6"/>
<line x1="49.0" y1="272.2" x2="100.2" y2="272.2" stroke="#444" stroke-width="0.6"/>
<text x="46.6" y="269.9" font-size="2.5" font-weight="normal" text-anchor="middle" dominant-baseline="central" fill="#333" stroke="#333" stroke-width="0.12" transform="rotate(-90 46.6 269.9)">0</text>
<line x1="48.2" y1="269.9" x2="49.0" y2="269.9" stroke="#444" stroke-width="0.4"/>
<text x="46.6" y="264.2" font-size="2.5" font-weight="normal" text-anchor="middle" dominant-baseline="central" fill="#333" stroke="#333" stroke-width="0.12" transform="rotate(-90 46.6 264.2)">10¹</text>
<line x1="48.2" y1="264.2" x2="49.0" y2="264.2" stroke="#444" stroke-width="0.4"/>
<text x="46.6" y="254.6" font-size="2.5" font-weight="normal" text-anchor="middle" dominant-baseline="central" fill="#333" stroke="#333" stroke-width="0.12" transform="rotate(-90 46.6 254.6)">10²</text>
<line x1="48.2" y1="254.6" x2="49.0" y2="254.6" stroke="#444" stroke-width="0.4"/>
<text x="46.6" y="245.0" font-size="2.5" font-weight="normal" text-anchor="middle" dominant-baseline="central" fill="#333" stroke="#333" stroke-width="0.12" transform="rotate(-90 46.6 245.0)">10³</text>
<line x1="48.2" y1="245.0" x2="49.0" y2="245.0" stroke="#444" stroke-width="0.4"/>
<text x="46.6" y="235.39999999999998" font-size="2.5" font-weight="normal" text-anchor="middle" dominant-baseline="central" fill="#333" stroke="#333" stroke-width="0.12" transform="rotate(-90 46.6 235.39999999999998)">10⁴</text>
<line x1="48.2" y1="235.39999999999998" x2="49.0" y2="235.39999999999998" stroke="#444" stroke-width="0.4"/>
<text x="46.6" y="225.79999999999998" font-size="2.5" font-weight="normal" text-anchor="middle" dominant-baseline="central" fill="#333" stroke="#333" stroke-width="0.12" transform="rotate(-90 46.6 225.79999999999998)">10⁵</text>
<line x1="48.2" y1="225.79999999999998" x2="49.0" y2="225.79999999999998" stroke="#444" stroke-width="0.4"/>
<text x="53.2" y="275.5" font-size="2.5" font-weight="normal" text-anchor="middle" dominant-baseline="central" fill="#333" stroke="#333" stroke-width="0.12">0</text>
<line x1="53.2" y1="272.2" x2="53.2" y2="273.0" stroke="#444" stroke-width="0.4"/>
<text x="59.7" y="275.5" font-size="2.5" font-weight="normal" text-anchor="middle" dominant-baseline="central" fill="#333" stroke="#333" stroke-width="0.12">10¹</text>
<line x1="59.7" y1="272.2" x2="59.7" y2="273.0" stroke="#444" stroke-width="0.4"/>
<text x="69.3" y="275.5" font-size="2.5" font-weight="normal" text-anchor="middle" dominant-baseline="central" fill="#333" stroke="#333" stroke-width="0.12">10²</text>
<line x1="69.3" y1="272.2" x2="69.3" y2="273.0" stroke="#444" stroke-width="0.4"/>
<text x="78.9" y="275.5" font-size="2.5" font-weight="normal" text-anchor="middle" dominant-baseline="central" fill="#333" stroke="#333" stroke-width="0.12">10³</text>
<line x1="78.9" y1="272.2" x2="78.9" y2="273.0" stroke="#444" stroke-width="0.4"/>
<text x="88.5" y="275.5" font-size="2.5" font-weight="normal" text-anchor="middle" dominant-baseline="central" fill="#333" stroke="#333" stroke-width="0.12">10⁴</text>
<line x1="88.5" y1="272.2" x2="88.5" y2="273.0" stroke="#444" stroke-width="0.4"/>
<text x="98.1" y="275.5" font-size="2.5" font-weight="normal" text-anchor="middle" dominant-baseline="central" fill="#333" stroke="#333" stroke-width="0.12">10⁵</text>
<line x1="98.1" y1="272.2" x2="98.1" y2="273.0" stroke="#444" stroke-width="0.4"/>
<text x="50.5" y="225.4" font-size="2.83" font-weight="normal" text-anchor="start" dominant-baseline="central" fill="#444" stroke="#444" stroke-width="0.12" textLength="7.07" lengthAdjust="spacingAndGlyphs">Q1-UL</text>
<text x="98.7" y="225.4" font-size="2.83" font-weight="normal" text-anchor="end" dominant-baseline="central" fill="#444" stroke="#444" stroke-width="0.12" textLength="7.47" lengthAdjust="spacingAndGlyphs">Q1-UR</text>
<text x="50.5" y="269.8" font-size="2.83" font-weight="normal" text-anchor="start" dominant-baseline="central" fill="#444" stroke="#444" stroke-width="0.12" textLength="6.67" lengthAdjust="spacingAndGlyphs">Q1-LL</text>
<text x="98.7" y="269.8" font-size="2.83" font-weight="normal" text-anchor="end" dominant-baseline="central" fill="#444" stroke="#444" stroke-width="0.12" textLength="7.07" lengthAdjust="spacingAndGlyphs">Q1-LR</text>
<rect x="108.3" y="223.0" width="51.2" height="49.2" fill="#ffffff" stroke="#b8b8b8" stroke-width="0.5"/>
<clipPath id="fc01"><rect x="108.3" y="223.0" width="51.2" height="48.900000000000006"/></clipPath><g clip-path="url(#fc01)">
<ellipse cx="122.25" cy="264.95" rx="8.26" ry="3.30" transform="rotate(-28.6 122.25 264.95)" fill="#cd4527" fill-opacity="0.95"/>
<ellipse cx="141.55" cy="248.75" rx="6.91" ry="2.75" transform="rotate(-37.9 141.55 248.75)" fill="#cd4527" fill-opacity="0.95"/>
<path d="M124.7 266.4h.7v.7h-.7zM126.1 263.7h.7v.7h-.7zM128.1 264.4h.7v.7h-.7zM122.0 263.4h.7v.7h-.7zM127.2 263.4h.7v.7h-.7zM112.8 267.1h.7v.7h-.7zM124.4 264.1h.7v.7h-.7zM124.2 265.6h.7v.7h-.7zM124.7 267.9h.7v.7h-.7zM119.2 265.5h.7v.7h-.7zM124.5 265.8h.7v.7h-.7zM127.4 266.2h.7v.7h-.7zM121.5 268.5h.7v.7h-.7zM123.1 261.6h.7v.7h-.7zM124.0 269.7h.7v.7h-.7zM125.1 262.1h.7v.7h-.7zM111.0 269.1h.7v.7h-.7zM119.3 266.8h.7v.7h-.7zM133.2 261.0h.7v.7h-.7zM122.5 262.2h.7v.7h-.7zM116.9 267.3h.7v.7h-.7zM119.8 264.6h.7v.7h-.7zM127.2 262.4h.7v.7h-.7zM118.4 270.6h.7v.7h-.7zM119.4 262.9h.7v.7h-.7zM124.2 265.2h.7v.7h-.7zM121.6 267.2h.7v.7h-.7zM124.8 261.1h.7v.7h-.7zM110.6 264.8h.7v.7h-.7zM123.1 267.8h.7v.7h-.7zM128.2 265.5h.7v.7h-.7zM130.3 260.6h.7v.7h-.7zM125.1 259.2h.7v.7h-.7zM125.7 264.1h.7v.7h-.7zM121.3 264.2h.7v.7h-.7zM117.6 267.9h.7v.7h-.7zM127.4 261.1h.7v.7h-.7zM123.8 262.3h.7v.7h-.7zM122.2 262.2h.7v.7h-.7zM123.6 263.6h.7v.7h-.7zM122.9 262.9h.7v.7h-.7zM116.8 267.0h.7v.7h-.7zM128.6 265.8h.7v.7h-.7zM121.8 267.4h.7v.7h-.7zM126.0 264.0h.7v.7h-.7zM115.9 269.3h.7v.7h-.7zM119.4 269.7h.7v.7h-.7zM126.4 264.4h.7v.7h-.7zM123.8 260.6h.7v.7h-.7zM126.6 262.8h.7v.7h-.7zM120.6 263.9h.7v.7h-.7zM117.3 266.4h.7v.7h-.7zM135.9 258.1h.7v.7h-.7zM122.4 263.1h.7v.7h-.7zM118.9 265.3h.7v.7h-.7zM119.4 268.9h.7v.7h-.7zM122.1 267.4h.7v.7h-.7zM118.3 269.6h.7v.7h-.7zM122.9 266.4h.7v.7h-.7zM120.8 263.3h.7v.7h-.7zM127.0 261.2h.7v.7h-.7zM120.6 263.4h.7v.7h-.7zM122.7 263.6h.7v.7h-.7zM123.9 265.0h.7v.7h-.7zM117.6 263.6h.7v.7h-.7zM125.2 265.9h.7v.7h-.7zM124.0 260.9h.7v.7h-.7zM125.3 264.3h.7v.7h-.7zM124.0 265.2h.7v.7h-.7zM121.1 266.2h.7v.7h-.7zM125.7 261.7h.7v.7h-.7zM115.9 268.1h.7v.7h-.7zM121.0 260.6h.7v.7h-.7zM120.0 267.8h.7v.7h-.7zM121.7 265.5h.7v.7h-.7zM117.8 269.8h.7v.7h-.7zM129.7 260.4h.7v.7h-.7zM117.7 264.2h.7v.7h-.7zM126.2 263.1h.7v.7h-.7zM120.2 269.4h.7v.7h-.7zM126.3 264.4h.7v.7h-.7zM114.5 268.9h.7v.7h-.7zM123.6 260.9h.7v.7h-.7zM127.9 265.8h.7v.7h-.7zM125.9 261.0h.7v.7h-.7zM120.3 268.6h.7v.7h-.7zM128.0 265.2h.7v.7h-.7zM127.4 261.9h.7v.7h-.7zM118.3 262.0h.7v.7h-.7zM128.3 267.9h.7v.7h-.7zM119.7 265.0h.7v.7h-.7zM125.5 264.2h.7v.7h-.7zM115.5 266.7h.7v.7h-.7zM120.1 268.4h.7v.7h-.7zM132.8 264.4h.7v.7h-.7zM130.3 265.0h.7v.7h-.7zM116.5 267.1h.7v.7h-.7zM118.8 266.1h.7v.7h-.7zM131.7 255.2h.7v.7h-.7zM123.3 261.0h.7v.7h-.7zM129.6 264.5h.7v.7h-.7zM122.4 270.5h.7v.7h-.7zM124.1 267.5h.7v.7h-.7zM123.0 263.0h.7v.7h-.7zM120.5 265.6h.7v.7h-.7zM125.1 263.8h.7v.7h-.7zM132.3 258.9h.7v.7h-.7zM119.4 264.5h.7v.7h-.7zM117.2 263.8h.7v.7h-.7zM119.0 269.2h.7v.7h-.7zM122.3 264.4h.7v.7h-.7zM125.0 266.4h.7v.7h-.7zM125.8 265.1h.7v.7h-.7zM119.5 265.7h.7v.7h-.7zM118.8 266.6h.7v.7h-.7zM118.3 266.1h.7v.7h-.7zM121.2 264.9h.7v.7h-.7zM120.5 264.5h.7v.7h-.7zM127.6 261.1h.7v.7h-.7zM118.1 267.8h.7v.7h-.7zM116.3 265.3h.7v.7h-.7zM120.7 261.2h.7v.7h-.7zM124.8 259.0h.7v.7h-.7zM119.0 268.3h.7v.7h-.7zM112.6 267.8h.7v.7h-.7zM116.8 267.4h.7v.7h-.7zM114.7 271.5h.7v.7h-.7zM122.0 265.9h.7v.7h-.7zM118.4 261.3h.7v.7h-.7zM120.0 262.5h.7v.7h-.7zM121.3 263.1h.7v.7h-.7zM120.6 265.3h.7v.7h-.7zM126.5 264.7h.7v.7h-.7zM117.9 267.3h.7v.7h-.7zM129.2 262.5h.7v.7h-.7zM139.0 250.4h.7v.7h-.7zM141.6 251.1h.7v.7h-.7zM142.1 249.3h.7v.7h-.7zM147.1 240.9h.7v.7h-.7zM136.1 248.6h.7v.7h-.7zM137.4 254.2h.7v.7h-.7zM144.5 250.6h.7v.7h-.7zM134.0 252.4h.7v.7h-.7zM147.5 246.7h.7v.7h-.7zM145.5 247.9h.7v.7h-.7zM141.6 248.7h.7v.7h-.7zM142.7 250.0h.7v.7h-.7zM141.4 249.7h.7v.7h-.7zM144.9 243.3h.7v.7h-.7zM139.8 251.6h.7v.7h-.7zM140.5 249.2h.7v.7h-.7zM148.9 244.1h.7v.7h-.7zM141.5 251.5h.7v.7h-.7zM148.4 240.6h.7v.7h-.7zM139.5 250.6h.7v.7h-.7zM142.1 253.8h.7v.7h-.7zM142.8 246.8h.7v.7h-.7zM142.2 246.2h.7v.7h-.7zM139.7 250.5h.7v.7h-.7zM146.6 239.1h.7v.7h-.7zM144.6 249.8h.7v.7h-.7zM146.3 249.9h.7v.7h-.7zM143.2 247.8h.7v.7h-.7zM140.1 247.7h.7v.7h-.7zM145.4 242.7h.7v.7h-.7zM140.5 248.2h.7v.7h-.7zM136.2 247.2h.7v.7h-.7zM140.5 249.9h.7v.7h-.7zM143.1 249.7h.7v.7h-.7zM140.2 248.2h.7v.7h-.7zM143.4 249.0h.7v.7h-.7zM136.7 248.7h.7v.7h-.7zM139.5 253.0h.7v.7h-.7zM143.7 244.8h.7v.7h-.7zM142.9 249.8h.7v.7h-.7zM145.1 244.3h.7v.7h-.7zM142.5 251.6h.7v.7h-.7zM151.3 245.0h.7v.7h-.7zM138.4 252.4h.7v.7h-.7zM140.5 249.4h.7v.7h-.7zM138.8 249.7h.7v.7h-.7zM143.7 251.6h.7v.7h-.7zM144.4 247.6h.7v.7h-.7zM140.7 247.5h.7v.7h-.7zM142.3 251.3h.7v.7h-.7zM146.7 249.7h.7v.7h-.7zM142.4 248.1h.7v.7h-.7zM136.7 253.5h.7v.7h-.7zM137.8 255.6h.7v.7h-.7zM139.5 250.4h.7v.7h-.7zM136.5 251.4h.7v.7h-.7zM139.9 252.9h.7v.7h-.7zM140.9 246.3h.7v.7h-.7zM135.2 253.6h.7v.7h-.7zM138.6 248.2h.7v.7h-.7zM143.3 247.0h.7v.7h-.7zM141.2 247.5h.7v.7h-.7zM139.1 249.5h.7v.7h-.7zM137.1 253.8h.7v.7h-.7zM140.7 245.0h.7v.7h-.7zM143.3 250.3h.7v.7h-.7zM143.9 250.2h.7v.7h-.7zM140.7 249.4h.7v.7h-.7zM136.2 250.6h.7v.7h-.7zM134.5 252.0h.7v.7h-.7zM143.0 248.9h.7v.7h-.7zM145.5 246.0h.7v.7h-.7zM138.8 252.0h.7v.7h-.7zM143.3 251.9h.7v.7h-.7zM149.1 245.3h.7v.7h-.7zM137.2 250.8h.7v.7h-.7zM141.3 247.1h.7v.7h-.7zM144.1 248.5h.7v.7h-.7zM144.6 247.0h.7v.7h-.7zM137.6 249.7h.7v.7h-.7zM142.8 251.2h.7v.7h-.7zM147.9 246.3h.7v.7h-.7zM143.6 248.9h.7v.7h-.7zM145.8 248.7h.7v.7h-.7zM142.5 244.1h.7v.7h-.7zM145.1 246.9h.7v.7h-.7zM140.7 250.8h.7v.7h-.7zM142.4 247.9h.7v.7h-.7zM136.2 253.2h.7v.7h-.7zM143.3 247.3h.7v.7h-.7zM136.9 253.5h.7v.7h-.7zM144.1 247.2h.7v.7h-.7zM142.5 247.1h.7v.7h-.7zM140.0 251.3h.7v.7h-.7zM140.6 249.9h.7v.7h-.7zM153.1 241.6h.7v.7h-.7zM140.0 245.8h.7v.7h-.7zM142.8 249.7h.7v.7h-.7zM139.0 250.2h.7v.7h-.7zM134.9 255.4h.7v.7h-.7zM140.4 251.3h.7v.7h-.7zM145.8 245.0h.7v.7h-.7zM145.1 246.6h.7v.7h-.7zM140.5 248.8h.7v.7h-.7zM140.3 252.9h.7v.7h-.7zM143.2 244.9h.7v.7h-.7zM143.4 245.5h.7v.7h-.7zM138.1 254.5h.7v.7h-.7zM138.8 253.9h.7v.7h-.7zM143.3 249.7h.7v.7h-.7zM144.6 249.3h.7v.7h-.7zM143.4 248.8h.7v.7h-.7zM143.7 249.8h.7v.7h-.7zM141.5 251.4h.7v.7h-.7zM146.4 244.8h.7v.7h-.7zM142.4 246.8h.7v.7h-.7zM140.9 249.9h.7v.7h-.7zM139.3 248.2h.7v.7h-.7zM141.7 249.1h.7v.7h-.7zM143.5 249.0h.7v.7h-.7zM137.5 255.5h.7v.7h-.7zM140.0 248.0h.7v.7h-.7zM140.9 250.4h.7v.7h-.7zM143.9 246.0h.7v.7h-.7zM140.1 245.8h.7v.7h-.7zM142.0 248.1h.7v.7h-.7zM141.2 251.2h.7v.7h-.7zM148.7 245.8h.7v.7h-.7zM140.9 253.2h.7v.7h-.7zM140.4 249.5h.7v.7h-.7zM140.2 250.9h.7v.7h-.7zM143.5 247.6h.7v.7h-.7zM140.7 249.1h.7v.7h-.7zM141.4 251.3h.7v.7h-.7zM139.7 249.8h.7v.7h-.7zM139.9 248.1h.7v.7h-.7zM139.0 247.0h.7v.7h-.7zM143.5 248.6h.7v.7h-.7zM142.5 252.0h.7v.7h-.7zM139.6 251.7h.7v.7h-.7z" fill="#cd4527" fill-opacity="0.85"/>
<path d="M143.5 249.5h.7v.7h-.7zM127.3 261.6h.7v.7h-.7zM114.9 266.7h.7v.7h-.7zM143.6 248.5h.7v.7h-.7zM138.7 251.5h.7v.7h-.7zM134.5 246.3h.7v.7h-.7zM143.6 251.0h.7v.7h-.7zM116.9 268.6h.7v.7h-.7zM116.6 269.8h.7v.7h-.7zM131.5 258.4h.7v.7h-.7zM127.3 259.6h.7v.7h-.7zM137.1 253.7h.7v.7h-.7zM125.7 261.6h.7v.7h-.7zM133.5 251.6h.7v.7h-.7zM140.6 252.0h.7v.7h-.7zM130.2 261.4h.7v.7h-.7zM114.7 268.5h.7v.7h-.7zM130.0 259.4h.7v.7h-.7zM133.6 259.0h.7v.7h-.7zM118.7 265.7h.7v.7h-.7zM143.7 247.7h.7v.7h-.7zM146.1 241.8h.7v.7h-.7zM133.3 255.1h.7v.7h-.7zM127.6 258.0h.7v.7h-.7zM128.9 259.5h.7v.7h-.7zM118.4 266.2h.7v.7h-.7zM129.1 260.3h.7v.7h-.7zM122.9 268.7h.7v.7h-.7zM127.0 263.7h.7v.7h-.7zM128.8 262.6h.7v.7h-.7zM133.1 251.9h.7v.7h-.7zM137.1 249.3h.7v.7h-.7zM123.7 265.6h.7v.7h-.7zM125.3 257.8h.7v.7h-.7zM142.4 250.9h.7v.7h-.7zM119.2 263.6h.7v.7h-.7zM132.4 256.8h.7v.7h-.7zM137.7 250.0h.7v.7h-.7zM123.4 264.8h.7v.7h-.7zM133.0 257.2h.7v.7h-.7zM121.8 270.5h.7v.7h-.7zM115.7 268.2h.7v.7h-.7zM134.0 261.8h.7v.7h-.7zM145.2 247.9h.7v.7h-.7zM132.9 254.2h.7v.7h-.7zM138.5 255.4h.7v.7h-.7zM124.3 265.1h.7v.7h-.7zM144.1 245.0h.7v.7h-.7zM128.5 255.4h.7v.7h-.7zM142.5 247.0h.7v.7h-.7zM127.2 258.4h.7v.7h-.7zM125.6 265.3h.7v.7h-.7zM146.9 245.2h.7v.7h-.7zM134.5 253.8h.7v.7h-.7zM135.8 256.4h.7v.7h-.7zM117.7 267.3h.7v.7h-.7zM148.8 245.6h.7v.7h-.7zM114.4 268.3h.7v.7h-.7zM126.3 264.5h.7v.7h-.7zM141.8 250.6h.7v.7h-.7zM136.2 246.5h.7v.7h-.7zM127.4 256.7h.7v.7h-.7zM142.1 250.4h.7v.7h-.7zM121.6 266.2h.7v.7h-.7zM133.2 258.7h.7v.7h-.7zM115.7 268.7h.7v.7h-.7zM135.5 255.4h.7v.7h-.7zM130.0 258.8h.7v.7h-.7zM123.1 270.6h.7v.7h-.7zM127.5 262.6h.7v.7h-.7zM133.1 257.2h.7v.7h-.7zM140.6 247.6h.7v.7h-.7zM140.7 249.4h.7v.7h-.7zM131.5 252.5h.7v.7h-.7zM129.8 260.7h.7v.7h-.7zM142.5 245.8h.7v.7h-.7zM139.1 251.6h.7v.7h-.7zM122.4 266.1h.7v.7h-.7zM127.6 258.3h.7v.7h-.7zM134.1 256.6h.7v.7h-.7zM149.3 245.2h.7v.7h-.7zM142.6 244.7h.7v.7h-.7zM130.4 254.9h.7v.7h-.7zM141.4 249.8h.7v.7h-.7zM142.5 247.5h.7v.7h-.7zM124.7 263.0h.7v.7h-.7zM134.6 257.4h.7v.7h-.7zM125.2 256.3h.7v.7h-.7zM126.1 258.5h.7v.7h-.7zM127.0 261.3h.7v.7h-.7zM117.2 271.1h.7v.7h-.7zM122.8 261.1h.7v.7h-.7zM138.0 253.3h.7v.7h-.7zM119.2 268.3h.7v.7h-.7zM114.1 269.5h.7v.7h-.7zM120.1 260.0h.7v.7h-.7zM124.5 262.9h.7v.7h-.7zM145.7 255.1h.7v.7h-.7zM131.5 258.2h.7v.7h-.7zM128.6 257.7h.7v.7h-.7zM122.1 257.1h.7v.7h-.7zM127.4 263.7h.7v.7h-.7zM149.2 247.1h.7v.7h-.7zM127.0 258.6h.7v.7h-.7zM139.4 250.5h.7v.7h-.7zM132.5 253.4h.7v.7h-.7zM122.1 263.5h.7v.7h-.7zM129.1 255.7h.7v.7h-.7z" fill="#d2553a" fill-opacity="0.6"/>
</g>
<line x1="134.1" y1="223.0" x2="134.1" y2="272.2" stroke="#8a8a8a" stroke-width="0.6"/>
<line x1="108.3" y1="257.6" x2="159.5" y2="257.6" stroke="#8a8a8a" stroke-width="0.6"/>
<line x1="108.3" y1="223.0" x2="108.3" y2="272.2" stroke="#444" stroke-width="0.6"/>
<line x1="108.3" y1="272.2" x2="159.5" y2="272.2" stroke="#444" stroke-width="0.6"/>
<text x="105.89999999999999" y="269.9" font-size="2.5" font-weight="normal" text-anchor="middle" dominant-baseline="central" fill="#333" stroke="#333" stroke-width="0.12" transform="rotate(-90 105.89999999999999 269.9)">0</text>
<line x1="107.5" y1="269.9" x2="108.3" y2="269.9" stroke="#444" stroke-width="0.4"/>
<text x="105.89999999999999" y="264.2" font-size="2.5" font-weight="normal" text-anchor="middle" dominant-baseline="central" fill="#333" stroke="#333" stroke-width="0.12" transform="rotate(-90 105.89999999999999 264.2)">10¹</text>
<line x1="107.5" y1="264.2" x2="108.3" y2="264.2" stroke="#444" stroke-width="0.4"/>
<text x="105.89999999999999" y="254.6" font-size="2.5" font-weight="normal" text-anchor="middle" dominant-baseline="central" fill="#333" stroke="#333" stroke-width="0.12" transform="rotate(-90 105.89999999999999 254.6)">10²</text>
<line x1="107.5" y1="254.6" x2="108.3" y2="254.6" stroke="#444" stroke-width="0.4"/>
<text x="105.89999999999999" y="245.0" font-size="2.5" font-weight="normal" text-anchor="middle" dominant-baseline="central" fill="#333" stroke="#333" stroke-width="0.12" transform="rotate(-90 105.89999999999999 245.0)">10³</text>
<line x1="107.5" y1="245.0" x2="108.3" y2="245.0" stroke="#444" stroke-width="0.4"/>
<text x="105.89999999999999" y="235.39999999999998" font-size="2.5" font-weight="normal" text-anchor="middle" dominant-baseline="central" fill="#333" stroke="#333" stroke-width="0.12" transform="rotate(-90 105.89999999999999 235.39999999999998)">10⁴</text>
<line x1="107.5" y1="235.39999999999998" x2="108.3" y2="235.39999999999998" stroke="#444" stroke-width="0.4"/>
<text x="105.89999999999999" y="225.79999999999998" font-size="2.5" font-weight="normal" text-anchor="middle" dominant-baseline="central" fill="#333" stroke="#333" stroke-width="0.12" transform="rotate(-90 105.89999999999999 225.79999999999998)">10⁵</text>
<line x1="107.5" y1="225.79999999999998" x2="108.3" y2="225.79999999999998" stroke="#444" stroke-width="0.4"/>
<text x="112.5" y="275.5" font-size="2.5" font-weight="normal" text-anchor="middle" dominant-baseline="central" fill="#333" stroke="#333" stroke-width="0.12">0</text>
<line x1="112.5" y1="272.2" x2="112.5" y2="273.0" stroke="#444" stroke-width="0.4"/>
<text x="119.0" y="275.5" font-size="2.5" font-weight="normal" text-anchor="middle" dominant-baseline="central" fill="#333" stroke="#333" stroke-width="0.12">10¹</text>
<line x1="119.0" y1="272.2" x2="119.0" y2="273.0" stroke="#444" stroke-width="0.4"/>
<text x="128.6" y="275.5" font-size="2.5" font-weight="normal" text-anchor="middle" dominant-baseline="central" fill="#333" stroke="#333" stroke-width="0.12">10²</text>
<line x1="128.6" y1="272.2" x2="128.6" y2="273.0" stroke="#444" stroke-width="0.4"/>
<text x="138.2" y="275.5" font-size="2.5" font-weight="normal" text-anchor="middle" dominant-baseline="central" fill="#333" stroke="#333" stroke-width="0.12">10³</text>
<line x1="138.2" y1="272.2" x2="138.2" y2="273.0" stroke="#444" stroke-width="0.4"/>
<text x="147.8" y="275.5" font-size="2.5" font-weight="normal" text-anchor="middle" dominant-baseline="central" fill="#333" stroke="#333" stroke-width="0.12">10⁴</text>
<line x1="147.8" y1="272.2" x2="147.8" y2="273.0" stroke="#444" stroke-width="0.4"/>
<text x="157.4" y="275.5" font-size="2.5" font-weight="normal" text-anchor="middle" dominant-baseline="central" fill="#333" stroke="#333" stroke-width="0.12">10⁵</text>
<line x1="157.4" y1="272.2" x2="157.4" y2="273.0" stroke="#444" stroke-width="0.4"/>
<text x="109.8" y="225.4" font-size="2.83" font-weight="normal" text-anchor="start" dominant-baseline="central" fill="#444" stroke="#444" stroke-width="0.12" textLength="7.07" lengthAdjust="spacingAndGlyphs">Q1-UL</text>
<text x="158.0" y="225.4" font-size="2.83" font-weight="normal" text-anchor="end" dominant-baseline="central" fill="#444" stroke="#444" stroke-width="0.12" textLength="7.47" lengthAdjust="spacingAndGlyphs">Q1-UR</text>
<text x="109.8" y="269.8" font-size="2.83" font-weight="normal" text-anchor="start" dominant-baseline="central" fill="#444" stroke="#444" stroke-width="0.12" textLength="6.67" lengthAdjust="spacingAndGlyphs">Q1-LL</text>
<text x="158.0" y="269.8" font-size="2.83" font-weight="normal" text-anchor="end" dominant-baseline="central" fill="#444" stroke="#444" stroke-width="0.12" textLength="7.07" lengthAdjust="spacingAndGlyphs">Q1-LR</text>
<rect x="167.6" y="223.0" width="51.2" height="49.2" fill="#ffffff" stroke="#b8b8b8" stroke-width="0.5"/>
<clipPath id="fc02"><rect x="167.6" y="223.0" width="51.2" height="48.900000000000006"/></clipPath><g clip-path="url(#fc02)">
<ellipse cx="181.85" cy="267.35" rx="8.40" ry="2.75" transform="rotate(-30.4 181.85 267.35)" fill="#cd4527" fill-opacity="0.95"/>
<ellipse cx="200.75" cy="249.20" rx="6.98" ry="2.20" transform="rotate(-33.0 200.75 249.20)" fill="#cd4527" fill-opacity="0.70"/>
<path d="M180.0 269.6h.7v.7h-.7zM176.5 268.7h.7v.7h-.7zM180.7 268.0h.7v.7h-.7zM177.8 267.9h.7v.7h-.7zM176.2 268.9h.7v.7h-.7zM183.9 265.6h.7v.7h-.7zM180.7 266.0h.7v.7h-.7zM177.7 262.8h.7v.7h-.7zM193.3 265.7h.7v.7h-.7zM178.7 269.3h.7v.7h-.7zM184.0 263.3h.7v.7h-.7zM188.7 261.7h.7v.7h-.7zM182.2 264.5h.7v.7h-.7zM183.4 266.4h.7v.7h-.7zM185.4 262.6h.7v.7h-.7zM183.6 270.5h.7v.7h-.7zM177.0 271.0h.7v.7h-.7zM183.3 265.4h.7v.7h-.7zM182.1 270.5h.7v.7h-.7zM187.4 265.4h.7v.7h-.7zM181.9 264.7h.7v.7h-.7zM184.1 270.2h.7v.7h-.7zM185.1 262.3h.7v.7h-.7zM172.2 271.5h.7v.7h-.7zM182.0 266.0h.7v.7h-.7zM180.9 268.7h.7v.7h-.7zM186.0 265.4h.7v.7h-.7zM185.9 261.7h.7v.7h-.7zM184.3 266.9h.7v.7h-.7zM173.4 268.9h.7v.7h-.7zM194.8 262.8h.7v.7h-.7zM184.9 268.7h.7v.7h-.7zM185.7 262.5h.7v.7h-.7zM185.4 268.5h.7v.7h-.7zM181.2 267.9h.7v.7h-.7zM180.6 269.8h.7v.7h-.7zM178.8 267.7h.7v.7h-.7zM175.6 268.9h.7v.7h-.7zM183.3 267.6h.7v.7h-.7zM179.1 266.5h.7v.7h-.7zM183.7 267.1h.7v.7h-.7zM186.9 263.2h.7v.7h-.7zM180.6 269.3h.7v.7h-.7zM188.5 263.4h.7v.7h-.7zM180.5 265.9h.7v.7h-.7zM181.2 270.0h.7v.7h-.7zM186.7 267.1h.7v.7h-.7zM178.4 270.8h.7v.7h-.7zM183.7 269.3h.7v.7h-.7zM178.7 266.9h.7v.7h-.7zM185.4 264.3h.7v.7h-.7zM180.2 265.2h.7v.7h-.7zM180.5 268.4h.7v.7h-.7zM179.2 269.8h.7v.7h-.7zM181.6 271.0h.7v.7h-.7zM179.6 267.1h.7v.7h-.7zM180.2 269.0h.7v.7h-.7zM184.0 265.0h.7v.7h-.7zM178.8 270.2h.7v.7h-.7zM183.7 262.2h.7v.7h-.7zM176.6 268.9h.7v.7h-.7zM190.6 265.1h.7v.7h-.7zM185.9 266.2h.7v.7h-.7zM179.1 267.1h.7v.7h-.7zM188.9 259.8h.7v.7h-.7zM188.2 264.1h.7v.7h-.7zM178.0 270.0h.7v.7h-.7zM178.3 269.8h.7v.7h-.7zM177.8 266.9h.7v.7h-.7zM193.0 259.6h.7v.7h-.7zM186.2 264.7h.7v.7h-.7zM183.6 263.4h.7v.7h-.7zM173.9 264.3h.7v.7h-.7zM186.7 265.5h.7v.7h-.7zM187.5 270.9h.7v.7h-.7zM183.8 268.3h.7v.7h-.7zM185.4 267.1h.7v.7h-.7zM181.3 266.7h.7v.7h-.7zM186.3 267.7h.7v.7h-.7zM175.6 268.4h.7v.7h-.7zM183.5 270.6h.7v.7h-.7zM179.2 264.9h.7v.7h-.7zM186.2 266.6h.7v.7h-.7zM190.6 262.7h.7v.7h-.7zM189.8 261.0h.7v.7h-.7zM186.0 265.2h.7v.7h-.7zM176.3 269.9h.7v.7h-.7zM188.9 265.9h.7v.7h-.7zM181.3 270.3h.7v.7h-.7zM186.8 266.6h.7v.7h-.7zM183.4 267.1h.7v.7h-.7zM178.2 269.4h.7v.7h-.7zM181.7 265.7h.7v.7h-.7zM180.8 268.4h.7v.7h-.7zM183.9 268.6h.7v.7h-.7zM176.9 269.3h.7v.7h-.7zM182.7 266.0h.7v.7h-.7zM182.9 265.7h.7v.7h-.7zM186.8 263.9h.7v.7h-.7zM177.6 271.6h.7v.7h-.7zM187.2 259.7h.7v.7h-.7zM181.4 267.8h.7v.7h-.7zM188.0 267.3h.7v.7h-.7zM179.6 265.0h.7v.7h-.7zM185.9 267.4h.7v.7h-.7zM184.0 266.3h.7v.7h-.7zM175.1 267.8h.7v.7h-.7zM186.5 265.3h.7v.7h-.7zM185.2 266.2h.7v.7h-.7zM190.8 265.5h.7v.7h-.7zM180.5 270.5h.7v.7h-.7zM175.0 267.4h.7v.7h-.7zM186.7 263.5h.7v.7h-.7zM179.5 269.9h.7v.7h-.7zM180.8 266.2h.7v.7h-.7zM179.5 270.5h.7v.7h-.7zM177.9 270.0h.7v.7h-.7zM178.0 270.7h.7v.7h-.7zM190.3 263.7h.7v.7h-.7zM187.3 265.3h.7v.7h-.7zM177.3 269.3h.7v.7h-.7zM182.6 267.9h.7v.7h-.7zM179.9 270.0h.7v.7h-.7zM178.8 269.3h.7v.7h-.7zM180.7 265.4h.7v.7h-.7zM186.3 264.8h.7v.7h-.7zM182.3 267.0h.7v.7h-.7zM192.1 252.1h.7v.7h-.7zM198.5 252.6h.7v.7h-.7zM199.3 251.3h.7v.7h-.7zM196.4 250.4h.7v.7h-.7zM200.0 251.7h.7v.7h-.7zM194.8 252.8h.7v.7h-.7zM202.3 248.4h.7v.7h-.7zM201.4 250.3h.7v.7h-.7zM200.9 247.2h.7v.7h-.7zM202.3 246.7h.7v.7h-.7zM200.9 251.9h.7v.7h-.7zM210.7 245.5h.7v.7h-.7zM201.6 247.2h.7v.7h-.7zM199.6 253.2h.7v.7h-.7zM200.7 246.6h.7v.7h-.7zM206.9 246.4h.7v.7h-.7zM205.8 246.7h.7v.7h-.7zM192.5 253.2h.7v.7h-.7zM200.1 249.3h.7v.7h-.7zM205.5 244.8h.7v.7h-.7zM200.4 249.3h.7v.7h-.7zM199.5 248.0h.7v.7h-.7zM194.2 248.5h.7v.7h-.7zM201.8 248.2h.7v.7h-.7zM200.6 247.3h.7v.7h-.7zM199.9 247.9h.7v.7h-.7zM197.5 252.0h.7v.7h-.7zM203.5 248.5h.7v.7h-.7zM200.3 248.8h.7v.7h-.7zM206.8 247.7h.7v.7h-.7zM197.6 249.2h.7v.7h-.7zM202.4 248.8h.7v.7h-.7zM199.6 254.4h.7v.7h-.7zM192.6 252.9h.7v.7h-.7zM202.5 250.0h.7v.7h-.7zM193.8 252.9h.7v.7h-.7zM207.1 247.8h.7v.7h-.7zM199.9 249.8h.7v.7h-.7zM198.0 251.8h.7v.7h-.7zM195.3 248.9h.7v.7h-.7zM195.4 252.8h.7v.7h-.7zM197.1 253.7h.7v.7h-.7zM206.2 247.6h.7v.7h-.7zM204.1 249.2h.7v.7h-.7zM202.5 249.8h.7v.7h-.7zM203.1 249.2h.7v.7h-.7zM196.6 250.6h.7v.7h-.7zM198.0 252.6h.7v.7h-.7zM201.9 247.0h.7v.7h-.7zM196.8 250.7h.7v.7h-.7zM203.8 247.0h.7v.7h-.7zM199.3 248.8h.7v.7h-.7zM201.8 251.6h.7v.7h-.7zM198.0 250.3h.7v.7h-.7zM207.4 246.3h.7v.7h-.7zM197.7 253.3h.7v.7h-.7zM196.8 252.8h.7v.7h-.7zM191.0 253.7h.7v.7h-.7zM203.5 246.3h.7v.7h-.7zM198.3 250.9h.7v.7h-.7zM200.4 248.6h.7v.7h-.7zM200.0 253.2h.7v.7h-.7zM206.3 246.2h.7v.7h-.7zM196.2 251.1h.7v.7h-.7zM200.2 250.5h.7v.7h-.7zM206.0 244.8h.7v.7h-.7zM200.9 248.3h.7v.7h-.7zM200.7 247.9h.7v.7h-.7zM203.1 249.9h.7v.7h-.7zM199.1 249.7h.7v.7h-.7zM200.0 247.2h.7v.7h-.7zM206.0 243.2h.7v.7h-.7zM198.7 248.8h.7v.7h-.7zM205.7 245.1h.7v.7h-.7zM200.7 252.9h.7v.7h-.7zM199.7 248.4h.7v.7h-.7zM200.9 249.5h.7v.7h-.7zM198.0 250.7h.7v.7h-.7zM200.7 250.7h.7v.7h-.7zM204.2 248.6h.7v.7h-.7zM201.0 250.6h.7v.7h-.7zM201.1 251.2h.7v.7h-.7zM201.8 247.7h.7v.7h-.7zM203.8 244.3h.7v.7h-.7zM196.7 250.3h.7v.7h-.7zM199.2 247.8h.7v.7h-.7zM194.9 249.4h.7v.7h-.7zM200.5 247.9h.7v.7h-.7zM209.2 245.2h.7v.7h-.7zM197.9 253.6h.7v.7h-.7zM202.1 250.4h.7v.7h-.7zM197.9 253.3h.7v.7h-.7zM204.3 246.1h.7v.7h-.7zM197.4 250.6h.7v.7h-.7zM203.8 251.8h.7v.7h-.7zM208.5 247.1h.7v.7h-.7zM199.7 249.3h.7v.7h-.7zM201.8 248.0h.7v.7h-.7zM198.9 250.0h.7v.7h-.7zM203.7 247.2h.7v.7h-.7zM201.4 248.3h.7v.7h-.7zM199.8 249.2h.7v.7h-.7zM205.4 246.6h.7v.7h-.7zM205.9 245.5h.7v.7h-.7zM203.3 244.9h.7v.7h-.7zM199.3 250.0h.7v.7h-.7zM198.4 250.5h.7v.7h-.7zM197.4 251.1h.7v.7h-.7zM198.4 250.7h.7v.7h-.7zM198.9 248.5h.7v.7h-.7zM199.4 250.2h.7v.7h-.7zM196.4 252.2h.7v.7h-.7zM205.0 246.0h.7v.7h-.7zM203.3 248.8h.7v.7h-.7zM199.1 252.8h.7v.7h-.7zM208.7 242.1h.7v.7h-.7zM207.7 243.3h.7v.7h-.7zM204.3 243.4h.7v.7h-.7zM204.9 246.8h.7v.7h-.7zM195.5 251.0h.7v.7h-.7zM196.3 250.4h.7v.7h-.7zM202.0 248.1h.7v.7h-.7zM191.7 254.5h.7v.7h-.7zM202.5 248.2h.7v.7h-.7zM205.1 242.8h.7v.7h-.7zM201.7 248.7h.7v.7h-.7z" fill="#cd4527" fill-opacity="0.85"/>
<path d="M200.1 245.8h.7v.7h-.7zM193.9 251.2h.7v.7h-.7zM207.0 242.2h.7v.7h-.7zM186.1 263.4h.7v.7h-.7zM199.2 253.9h.7v.7h-.7zM190.1 260.9h.7v.7h-.7zM190.5 264.9h.7v.7h-.7zM182.7 269.3h.7v.7h-.7zM191.2 256.6h.7v.7h-.7zM182.2 264.2h.7v.7h-.7zM191.8 262.9h.7v.7h-.7zM182.0 269.6h.7v.7h-.7zM185.6 259.4h.7v.7h-.7zM199.1 249.6h.7v.7h-.7zM199.3 252.4h.7v.7h-.7zM191.2 260.6h.7v.7h-.7zM193.7 258.2h.7v.7h-.7zM190.9 265.0h.7v.7h-.7zM197.4 254.0h.7v.7h-.7zM186.9 265.2h.7v.7h-.7zM193.9 252.0h.7v.7h-.7zM179.4 270.2h.7v.7h-.7zM187.2 262.2h.7v.7h-.7zM201.1 250.8h.7v.7h-.7zM179.1 262.6h.7v.7h-.7zM184.6 270.1h.7v.7h-.7zM201.9 240.9h.7v.7h-.7zM189.0 260.6h.7v.7h-.7zM185.4 264.5h.7v.7h-.7zM181.3 268.1h.7v.7h-.7zM186.0 265.1h.7v.7h-.7zM188.9 256.6h.7v.7h-.7zM193.0 249.6h.7v.7h-.7zM178.8 271.5h.7v.7h-.7zM185.9 257.9h.7v.7h-.7zM192.7 260.1h.7v.7h-.7zM192.1 260.7h.7v.7h-.7zM202.2 245.4h.7v.7h-.7zM200.1 248.6h.7v.7h-.7zM205.3 245.3h.7v.7h-.7zM198.6 251.1h.7v.7h-.7zM184.4 266.9h.7v.7h-.7zM196.6 249.6h.7v.7h-.7zM190.4 259.7h.7v.7h-.7zM187.3 264.5h.7v.7h-.7zM192.9 257.0h.7v.7h-.7zM194.0 256.9h.7v.7h-.7zM200.6 245.8h.7v.7h-.7zM190.2 257.7h.7v.7h-.7zM204.4 252.3h.7v.7h-.7zM203.1 247.0h.7v.7h-.7zM193.7 257.8h.7v.7h-.7zM181.0 266.0h.7v.7h-.7zM197.3 261.1h.7v.7h-.7zM188.0 266.8h.7v.7h-.7zM183.8 261.6h.7v.7h-.7zM201.6 245.8h.7v.7h-.7zM191.6 254.0h.7v.7h-.7zM175.9 270.2h.7v.7h-.7zM197.6 253.8h.7v.7h-.7zM193.6 262.3h.7v.7h-.7zM185.5 261.9h.7v.7h-.7zM186.4 263.6h.7v.7h-.7zM183.2 258.3h.7v.7h-.7zM188.9 258.8h.7v.7h-.7zM199.2 248.3h.7v.7h-.7zM206.2 248.7h.7v.7h-.7zM198.1 249.0h.7v.7h-.7zM201.2 247.7h.7v.7h-.7zM200.2 251.0h.7v.7h-.7zM207.1 246.5h.7v.7h-.7zM187.5 259.4h.7v.7h-.7zM207.1 244.8h.7v.7h-.7zM177.5 269.8h.7v.7h-.7zM207.4 242.7h.7v.7h-.7zM180.3 263.3h.7v.7h-.7zM205.0 243.3h.7v.7h-.7zM203.0 253.6h.7v.7h-.7zM200.6 245.3h.7v.7h-.7zM196.9 255.0h.7v.7h-.7zM189.2 260.1h.7v.7h-.7zM180.5 262.5h.7v.7h-.7zM194.9 252.4h.7v.7h-.7zM185.9 268.3h.7v.7h-.7zM199.1 252.0h.7v.7h-.7zM206.0 244.7h.7v.7h-.7zM200.1 240.6h.7v.7h-.7zM198.5 252.1h.7v.7h-.7zM191.3 257.7h.7v.7h-.7zM199.4 247.1h.7v.7h-.7zM198.7 252.9h.7v.7h-.7zM193.9 258.2h.7v.7h-.7zM180.6 271.5h.7v.7h-.7zM195.6 256.3h.7v.7h-.7zM187.1 261.8h.7v.7h-.7zM191.8 258.7h.7v.7h-.7zM187.5 256.2h.7v.7h-.7zM189.1 251.9h.7v.7h-.7zM203.4 249.8h.7v.7h-.7zM204.7 243.5h.7v.7h-.7zM200.7 251.1h.7v.7h-.7zM192.3 260.9h.7v.7h-.7zM196.3 255.7h.7v.7h-.7zM195.0 251.2h.7v.7h-.7z" fill="#d2553a" fill-opacity="0.6"/>
</g>
<line x1="193.4" y1="223.0" x2="193.4" y2="272.2" stroke="#8a8a8a" stroke-width="0.6"/>
<line x1="167.6" y1="257.6" x2="218.8" y2="257.6" stroke="#8a8a8a" stroke-width="0.6"/>
<line x1="167.6" y1="223.0" x2="167.6" y2="272.2" stroke="#444" stroke-width="0.6"/>
<line x1="167.6" y1="272.2" x2="218.8" y2="272.2" stroke="#444" stroke-width="0.6"/>
<text x="165.2" y="269.9" font-size="2.5" font-weight="normal" text-anchor="middle" dominant-baseline="central" fill="#333" stroke="#333" stroke-width="0.12" transform="rotate(-90 165.2 269.9)">0</text>
<line x1="166.79999999999998" y1="269.9" x2="167.6" y2="269.9" stroke="#444" stroke-width="0.4"/>
<text x="165.2" y="264.2" font-size="2.5" font-weight="normal" text-anchor="middle" dominant-baseline="central" fill="#333" stroke="#333" stroke-width="0.12" transform="rotate(-90 165.2 264.2)">10¹</text>
<line x1="166.79999999999998" y1="264.2" x2="167.6" y2="264.2" stroke="#444" stroke-width="0.4"/>
<text x="165.2" y="254.6" font-size="2.5" font-weight="normal" text-anchor="middle" dominant-baseline="central" fill="#333" stroke="#333" stroke-width="0.12" transform="rotate(-90 165.2 254.6)">10²</text>
<line x1="166.79999999999998" y1="254.6" x2="167.6" y2="254.6" stroke="#444" stroke-width="0.4"/>
<text x="165.2" y="245.0" font-size="2.5" font-weight="normal" text-anchor="middle" dominant-baseline="central" fill="#333" stroke="#333" stroke-width="0.12" transform="rotate(-90 165.2 245.0)">10³</text>
<line x1="166.79999999999998" y1="245.0" x2="167.6" y2="245.0" stroke="#444" stroke-width="0.4"/>
<text x="165.2" y="235.39999999999998" font-size="2.5" font-weight="normal" text-anchor="middle" dominant-baseline="central" fill="#333" stroke="#333" stroke-width="0.12" transform="rotate(-90 165.2 235.39999999999998)">10⁴</text>
<line x1="166.79999999999998" y1="235.39999999999998" x2="167.6" y2="235.39999999999998" stroke="#444" stroke-width="0.4"/>
<text x="165.2" y="225.79999999999998" font-size="2.5" font-weight="normal" text-anchor="middle" dominant-baseline="central" fill="#333" stroke="#333" stroke-width="0.12" transform="rotate(-90 165.2 225.79999999999998)">10⁵</text>
<line x1="166.79999999999998" y1="225.79999999999998" x2="167.6" y2="225.79999999999998" stroke="#444" stroke-width="0.4"/>
<text x="171.79999999999998" y="275.5" font-size="2.5" font-weight="normal" text-anchor="middle" dominant-baseline="central" fill="#333" stroke="#333" stroke-width="0.12">0</text>
<line x1="171.79999999999998" y1="272.2" x2="171.79999999999998" y2="273.0" stroke="#444" stroke-width="0.4"/>
<text x="178.29999999999998" y="275.5" font-size="2.5" font-weight="normal" text-anchor="middle" dominant-baseline="central" fill="#333" stroke="#333" stroke-width="0.12">10¹</text>
<line x1="178.29999999999998" y1="272.2" x2="178.29999999999998" y2="273.0" stroke="#444" stroke-width="0.4"/>
<text x="187.9" y="275.5" font-size="2.5" font-weight="normal" text-anchor="middle" dominant-baseline="central" fill="#333" stroke="#333" stroke-width="0.12">10²</text>
<line x1="187.9" y1="272.2" x2="187.9" y2="273.0" stroke="#444" stroke-width="0.4"/>
<text x="197.5" y="275.5" font-size="2.5" font-weight="normal" text-anchor="middle" dominant-baseline="central" fill="#333" stroke="#333" stroke-width="0.12">10³</text>
<line x1="197.5" y1="272.2" x2="197.5" y2="273.0" stroke="#444" stroke-width="0.4"/>
<text x="207.1" y="275.5" font-size="2.5" font-weight="normal" text-anchor="middle" dominant-baseline="central" fill="#333" stroke="#333" stroke-width="0.12">10⁴</text>
<line x1="207.1" y1="272.2" x2="207.1" y2="273.0" stroke="#444" stroke-width="0.4"/>
<text x="216.7" y="275.5" font-size="2.5" font-weight="normal" text-anchor="middle" dominant-baseline="central" fill="#333" stroke="#333" stroke-width="0.12">10⁵</text>
<line x1="216.7" y1="272.2" x2="216.7" y2="273.0" stroke="#444" stroke-width="0.4"/>
<text x="169.1" y="225.4" font-size="2.83" font-weight="normal" text-anchor="start" dominant-baseline="central" fill="#444" stroke="#444" stroke-width="0.12" textLength="7.07" lengthAdjust="spacingAndGlyphs">Q1-UL</text>
<text x="217.3" y="225.4" font-size="2.83" font-weight="normal" text-anchor="end" dominant-baseline="central" fill="#444" stroke="#444" stroke-width="0.12" textLength="7.47" lengthAdjust="spacingAndGlyphs">Q1-UR</text>
<text x="169.1" y="269.8" font-size="2.83" font-weight="normal" text-anchor="start" dominant-baseline="central" fill="#444" stroke="#444" stroke-width="0.12" textLength="6.67" lengthAdjust="spacingAndGlyphs">Q1-LL</text>
<text x="217.3" y="269.8" font-size="2.83" font-weight="normal" text-anchor="end" dominant-baseline="central" fill="#444" stroke="#444" stroke-width="0.12" textLength="7.07" lengthAdjust="spacingAndGlyphs">Q1-LR</text>
<rect x="227.0" y="223.0" width="51.2" height="49.2" fill="#ffffff" stroke="#b8b8b8" stroke-width="0.5"/>
<clipPath id="fc03"><rect x="227.0" y="223.0" width="51.2" height="48.900000000000006"/></clipPath><g clip-path="url(#fc03)">
<ellipse cx="241.55" cy="266.75" rx="6.78" ry="3.30" transform="rotate(-26.8 241.55 266.75)" fill="#cd4527" fill-opacity="0.95"/>
<ellipse cx="262.40" cy="249.15" rx="3.26" ry="1.22" transform="rotate(-33.2 262.40 249.15)" fill="#cd4527" fill-opacity="0.60"/>
<path d="M240.2 268.0h.7v.7h-.7zM242.3 265.8h.7v.7h-.7zM244.5 266.2h.7v.7h-.7zM239.1 265.3h.7v.7h-.7zM245.0 267.0h.7v.7h-.7zM235.4 267.9h.7v.7h-.7zM238.1 270.7h.7v.7h-.7zM238.1 265.1h.7v.7h-.7zM247.5 265.0h.7v.7h-.7zM242.7 266.8h.7v.7h-.7zM240.9 267.1h.7v.7h-.7zM245.3 266.1h.7v.7h-.7zM240.0 267.8h.7v.7h-.7zM247.7 262.1h.7v.7h-.7zM236.9 269.4h.7v.7h-.7zM244.4 266.9h.7v.7h-.7zM245.0 270.3h.7v.7h-.7zM237.8 268.5h.7v.7h-.7zM243.2 270.7h.7v.7h-.7zM239.4 265.0h.7v.7h-.7zM239.8 269.8h.7v.7h-.7zM238.8 268.8h.7v.7h-.7zM238.1 266.5h.7v.7h-.7zM241.2 271.3h.7v.7h-.7zM237.9 269.4h.7v.7h-.7zM243.6 263.7h.7v.7h-.7zM247.6 263.0h.7v.7h-.7zM238.1 270.8h.7v.7h-.7zM240.5 265.0h.7v.7h-.7zM237.5 262.3h.7v.7h-.7zM237.2 265.6h.7v.7h-.7zM237.3 270.4h.7v.7h-.7zM244.3 269.9h.7v.7h-.7zM231.0 270.3h.7v.7h-.7zM239.9 271.2h.7v.7h-.7zM245.4 265.1h.7v.7h-.7zM241.0 265.0h.7v.7h-.7zM239.1 266.7h.7v.7h-.7zM246.4 269.9h.7v.7h-.7zM246.5 265.5h.7v.7h-.7zM242.7 261.6h.7v.7h-.7zM238.7 270.5h.7v.7h-.7zM238.3 264.0h.7v.7h-.7zM240.0 264.0h.7v.7h-.7zM243.2 270.1h.7v.7h-.7zM236.8 267.9h.7v.7h-.7zM243.5 265.7h.7v.7h-.7zM241.2 264.6h.7v.7h-.7zM237.6 262.2h.7v.7h-.7zM242.2 269.9h.7v.7h-.7zM237.1 268.4h.7v.7h-.7zM245.4 268.1h.7v.7h-.7zM244.8 262.7h.7v.7h-.7zM241.8 271.3h.7v.7h-.7zM240.1 268.2h.7v.7h-.7zM237.6 266.9h.7v.7h-.7zM230.0 271.1h.7v.7h-.7zM232.3 268.6h.7v.7h-.7zM239.3 271.5h.7v.7h-.7zM244.7 266.2h.7v.7h-.7zM238.0 264.7h.7v.7h-.7zM242.3 264.1h.7v.7h-.7zM242.1 269.0h.7v.7h-.7zM240.7 267.0h.7v.7h-.7zM238.9 270.9h.7v.7h-.7zM244.2 267.3h.7v.7h-.7zM245.6 260.2h.7v.7h-.7zM242.2 268.1h.7v.7h-.7zM243.0 266.8h.7v.7h-.7zM241.5 262.6h.7v.7h-.7zM242.4 269.4h.7v.7h-.7zM241.0 266.4h.7v.7h-.7zM242.6 261.4h.7v.7h-.7zM244.5 269.3h.7v.7h-.7zM239.6 265.4h.7v.7h-.7zM242.9 264.8h.7v.7h-.7zM238.6 268.6h.7v.7h-.7zM236.1 271.3h.7v.7h-.7zM236.4 267.8h.7v.7h-.7zM244.1 265.3h.7v.7h-.7zM243.9 269.3h.7v.7h-.7zM249.3 268.5h.7v.7h-.7zM240.4 269.8h.7v.7h-.7zM236.2 271.6h.7v.7h-.7zM245.4 262.7h.7v.7h-.7zM244.1 267.7h.7v.7h-.7zM240.1 265.7h.7v.7h-.7zM245.5 261.1h.7v.7h-.7zM243.1 268.5h.7v.7h-.7zM244.0 269.7h.7v.7h-.7zM247.4 265.0h.7v.7h-.7zM248.8 265.1h.7v.7h-.7zM236.5 268.3h.7v.7h-.7zM242.6 266.7h.7v.7h-.7zM234.4 267.2h.7v.7h-.7zM243.3 266.3h.7v.7h-.7zM247.3 264.4h.7v.7h-.7zM243.6 267.6h.7v.7h-.7zM237.3 265.3h.7v.7h-.7zM240.8 269.8h.7v.7h-.7zM241.8 270.0h.7v.7h-.7zM240.2 269.4h.7v.7h-.7zM242.5 268.5h.7v.7h-.7zM241.7 267.2h.7v.7h-.7zM241.1 270.3h.7v.7h-.7zM241.9 267.9h.7v.7h-.7zM242.9 263.6h.7v.7h-.7zM238.4 268.2h.7v.7h-.7zM245.0 262.1h.7v.7h-.7zM236.6 266.5h.7v.7h-.7zM238.8 265.2h.7v.7h-.7zM239.0 269.4h.7v.7h-.7zM237.4 268.7h.7v.7h-.7zM236.9 268.5h.7v.7h-.7zM241.2 261.4h.7v.7h-.7zM241.9 267.1h.7v.7h-.7zM241.5 267.4h.7v.7h-.7zM241.6 263.2h.7v.7h-.7zM241.7 268.4h.7v.7h-.7zM244.7 261.4h.7v.7h-.7zM237.8 264.9h.7v.7h-.7zM240.2 264.5h.7v.7h-.7zM238.7 270.2h.7v.7h-.7zM247.5 258.1h.7v.7h-.7zM246.5 261.7h.7v.7h-.7zM244.4 266.2h.7v.7h-.7zM245.8 264.0h.7v.7h-.7zM238.4 268.1h.7v.7h-.7zM243.4 263.4h.7v.7h-.7zM243.0 266.0h.7v.7h-.7zM242.1 266.4h.7v.7h-.7zM244.6 267.4h.7v.7h-.7zM240.0 266.5h.7v.7h-.7zM232.6 268.8h.7v.7h-.7zM259.3 252.3h.7v.7h-.7zM259.3 250.0h.7v.7h-.7zM264.4 249.5h.7v.7h-.7zM264.6 246.3h.7v.7h-.7zM263.7 250.1h.7v.7h-.7zM260.2 250.2h.7v.7h-.7zM259.0 250.3h.7v.7h-.7zM264.1 248.2h.7v.7h-.7zM261.1 249.1h.7v.7h-.7zM266.5 247.7h.7v.7h-.7zM261.1 253.6h.7v.7h-.7zM261.3 249.6h.7v.7h-.7zM260.8 249.2h.7v.7h-.7zM262.7 246.5h.7v.7h-.7zM262.2 248.7h.7v.7h-.7zM266.8 246.9h.7v.7h-.7zM263.8 249.1h.7v.7h-.7zM263.9 248.4h.7v.7h-.7zM256.9 253.4h.7v.7h-.7zM262.1 250.5h.7v.7h-.7zM262.7 248.0h.7v.7h-.7zM259.5 249.3h.7v.7h-.7zM263.0 248.6h.7v.7h-.7zM260.0 250.1h.7v.7h-.7zM262.7 247.8h.7v.7h-.7zM261.6 248.6h.7v.7h-.7zM256.3 253.3h.7v.7h-.7zM263.1 250.0h.7v.7h-.7zM264.9 246.3h.7v.7h-.7zM264.0 248.6h.7v.7h-.7zM263.2 250.0h.7v.7h-.7zM263.4 246.3h.7v.7h-.7zM265.7 246.7h.7v.7h-.7zM260.3 249.4h.7v.7h-.7zM261.0 248.2h.7v.7h-.7zM265.3 248.0h.7v.7h-.7zM260.9 251.5h.7v.7h-.7zM263.0 248.9h.7v.7h-.7zM264.6 247.6h.7v.7h-.7zM262.1 250.1h.7v.7h-.7zM257.1 250.6h.7v.7h-.7zM264.4 249.6h.7v.7h-.7zM258.4 251.8h.7v.7h-.7zM260.6 249.8h.7v.7h-.7zM264.9 250.0h.7v.7h-.7zM267.3 247.6h.7v.7h-.7zM264.0 248.3h.7v.7h-.7zM258.3 252.5h.7v.7h-.7zM258.7 249.7h.7v.7h-.7zM261.4 247.1h.7v.7h-.7zM267.0 247.1h.7v.7h-.7zM263.6 249.2h.7v.7h-.7zM263.0 248.9h.7v.7h-.7zM263.5 247.3h.7v.7h-.7zM263.1 248.9h.7v.7h-.7zM263.4 246.7h.7v.7h-.7zM262.9 248.6h.7v.7h-.7zM264.3 248.8h.7v.7h-.7zM263.2 249.4h.7v.7h-.7zM264.5 250.1h.7v.7h-.7zM263.5 249.3h.7v.7h-.7zM260.0 250.3h.7v.7h-.7zM265.0 249.2h.7v.7h-.7zM260.0 250.6h.7v.7h-.7zM261.8 249.6h.7v.7h-.7zM260.9 249.4h.7v.7h-.7zM262.3 249.4h.7v.7h-.7zM264.1 246.6h.7v.7h-.7zM260.7 251.6h.7v.7h-.7zM263.4 248.2h.7v.7h-.7zM260.5 252.2h.7v.7h-.7zM260.7 252.1h.7v.7h-.7zM262.8 248.6h.7v.7h-.7zM262.6 250.4h.7v.7h-.7zM261.1 247.1h.7v.7h-.7zM259.1 247.7h.7v.7h-.7zM264.0 249.6h.7v.7h-.7zM263.8 246.0h.7v.7h-.7zM268.8 248.0h.7v.7h-.7zM260.6 247.0h.7v.7h-.7zM261.1 251.7h.7v.7h-.7zM266.8 245.3h.7v.7h-.7zM257.3 250.8h.7v.7h-.7zM266.9 246.2h.7v.7h-.7zM257.5 248.8h.7v.7h-.7zM264.5 249.1h.7v.7h-.7zM261.1 249.7h.7v.7h-.7zM262.3 248.6h.7v.7h-.7zM260.6 249.3h.7v.7h-.7zM261.9 251.5h.7v.7h-.7zM264.1 249.7h.7v.7h-.7zM264.9 243.6h.7v.7h-.7zM263.0 250.4h.7v.7h-.7zM261.4 248.8h.7v.7h-.7zM262.9 247.9h.7v.7h-.7zM260.2 250.1h.7v.7h-.7zM262.5 249.1h.7v.7h-.7zM264.5 247.8h.7v.7h-.7z" fill="#cd4527" fill-opacity="0.85"/>
<path d="M248.2 264.1h.7v.7h-.7zM237.1 268.3h.7v.7h-.7zM250.5 253.4h.7v.7h-.7zM264.5 246.8h.7v.7h-.7zM246.9 264.8h.7v.7h-.7zM250.2 257.6h.7v.7h-.7zM263.1 249.6h.7v.7h-.7zM256.2 255.3h.7v.7h-.7zM250.8 264.2h.7v.7h-.7zM251.3 249.8h.7v.7h-.7zM237.8 270.8h.7v.7h-.7zM252.4 255.6h.7v.7h-.7zM255.1 254.6h.7v.7h-.7zM238.7 268.4h.7v.7h-.7zM244.5 265.9h.7v.7h-.7zM236.1 270.0h.7v.7h-.7zM256.5 252.9h.7v.7h-.7zM237.3 264.9h.7v.7h-.7zM261.5 246.0h.7v.7h-.7zM261.0 241.4h.7v.7h-.7zM245.4 260.3h.7v.7h-.7zM253.9 259.0h.7v.7h-.7zM241.6 262.8h.7v.7h-.7zM253.6 258.2h.7v.7h-.7zM252.3 247.7h.7v.7h-.7zM261.0 252.5h.7v.7h-.7zM253.0 255.3h.7v.7h-.7zM263.4 246.4h.7v.7h-.7zM244.8 266.6h.7v.7h-.7zM236.0 271.3h.7v.7h-.7zM258.8 254.1h.7v.7h-.7zM245.9 257.5h.7v.7h-.7zM249.4 261.9h.7v.7h-.7zM265.0 247.4h.7v.7h-.7zM263.5 247.2h.7v.7h-.7zM243.2 265.5h.7v.7h-.7zM236.6 268.6h.7v.7h-.7zM249.5 259.0h.7v.7h-.7zM265.8 246.9h.7v.7h-.7zM261.9 250.5h.7v.7h-.7zM251.6 254.7h.7v.7h-.7zM261.9 250.5h.7v.7h-.7zM253.3 255.4h.7v.7h-.7zM266.8 249.8h.7v.7h-.7zM243.4 267.0h.7v.7h-.7zM254.1 258.4h.7v.7h-.7zM265.6 245.9h.7v.7h-.7zM254.2 260.4h.7v.7h-.7zM268.3 243.8h.7v.7h-.7zM253.1 257.9h.7v.7h-.7zM260.2 248.7h.7v.7h-.7zM247.9 256.2h.7v.7h-.7zM251.6 259.8h.7v.7h-.7zM242.4 264.6h.7v.7h-.7zM255.1 255.8h.7v.7h-.7zM244.7 266.5h.7v.7h-.7zM238.6 265.1h.7v.7h-.7zM256.2 251.2h.7v.7h-.7zM267.1 246.8h.7v.7h-.7zM255.0 255.7h.7v.7h-.7zM246.1 259.8h.7v.7h-.7zM249.7 258.3h.7v.7h-.7zM259.3 250.9h.7v.7h-.7zM256.7 256.2h.7v.7h-.7zM240.4 263.6h.7v.7h-.7zM244.5 264.4h.7v.7h-.7zM236.5 263.8h.7v.7h-.7zM244.6 264.0h.7v.7h-.7zM251.7 260.8h.7v.7h-.7zM248.7 264.2h.7v.7h-.7zM233.3 267.6h.7v.7h-.7zM246.6 264.1h.7v.7h-.7zM238.8 266.4h.7v.7h-.7zM248.6 263.6h.7v.7h-.7zM249.5 261.6h.7v.7h-.7zM268.4 243.5h.7v.7h-.7zM239.9 267.4h.7v.7h-.7zM254.8 257.0h.7v.7h-.7zM253.5 267.2h.7v.7h-.7zM259.8 251.8h.7v.7h-.7zM258.8 248.4h.7v.7h-.7zM260.5 248.8h.7v.7h-.7zM250.3 258.7h.7v.7h-.7zM257.8 248.8h.7v.7h-.7zM262.1 248.8h.7v.7h-.7zM241.6 268.4h.7v.7h-.7zM266.3 247.6h.7v.7h-.7zM248.9 258.1h.7v.7h-.7zM258.8 254.5h.7v.7h-.7zM265.4 249.4h.7v.7h-.7zM239.1 268.8h.7v.7h-.7zM244.6 261.1h.7v.7h-.7zM254.9 254.9h.7v.7h-.7zM240.1 266.8h.7v.7h-.7zM258.9 253.9h.7v.7h-.7zM238.5 265.8h.7v.7h-.7zM240.3 271.5h.7v.7h-.7zM250.6 265.4h.7v.7h-.7zM269.8 248.4h.7v.7h-.7zM264.2 248.3h.7v.7h-.7zM240.3 270.3h.7v.7h-.7zM267.8 245.1h.7v.7h-.7zM238.4 270.0h.7v.7h-.7zM256.1 249.4h.7v.7h-.7zM247.1 260.5h.7v.7h-.7zM243.8 262.7h.7v.7h-.7zM257.5 255.0h.7v.7h-.7zM242.6 268.7h.7v.7h-.7z" fill="#d2553a" fill-opacity="0.6"/>
</g>
<line x1="252.8" y1="223.0" x2="252.8" y2="272.2" stroke="#8a8a8a" stroke-width="0.6"/>
<line x1="227.0" y1="257.6" x2="278.2" y2="257.6" stroke="#8a8a8a" stroke-width="0.6"/>
<line x1="227.0" y1="223.0" x2="227.0" y2="272.2" stroke="#444" stroke-width="0.6"/>
<line x1="227.0" y1="272.2" x2="278.2" y2="272.2" stroke="#444" stroke-width="0.6"/>
<text x="224.6" y="269.9" font-size="2.5" font-weight="normal" text-anchor="middle" dominant-baseline="central" fill="#333" stroke="#333" stroke-width="0.12" transform="rotate(-90 224.6 269.9)">0</text>
<line x1="226.2" y1="269.9" x2="227.0" y2="269.9" stroke="#444" stroke-width="0.4"/>
<text x="224.6" y="264.2" font-size="2.5" font-weight="normal" text-anchor="middle" dominant-baseline="central" fill="#333" stroke="#333" stroke-width="0.12" transform="rotate(-90 224.6 264.2)">10¹</text>
<line x1="226.2" y1="264.2" x2="227.0" y2="264.2" stroke="#444" stroke-width="0.4"/>
<text x="224.6" y="254.6" font-size="2.5" font-weight="normal" text-anchor="middle" dominant-baseline="central" fill="#333" stroke="#333" stroke-width="0.12" transform="rotate(-90 224.6 254.6)">10²</text>
<line x1="226.2" y1="254.6" x2="227.0" y2="254.6" stroke="#444" stroke-width="0.4"/>
<text x="224.6" y="245.0" font-size="2.5" font-weight="normal" text-anchor="middle" dominant-baseline="central" fill="#333" stroke="#333" stroke-width="0.12" transform="rotate(-90 224.6 245.0)">10³</text>
<line x1="226.2" y1="245.0" x2="227.0" y2="245.0" stroke="#444" stroke-width="0.4"/>
<text x="224.6" y="235.39999999999998" font-size="2.5" font-weight="normal" text-anchor="middle" dominant-baseline="central" fill="#333" stroke="#333" stroke-width="0.12" transform="rotate(-90 224.6 235.39999999999998)">10⁴</text>
<line x1="226.2" y1="235.39999999999998" x2="227.0" y2="235.39999999999998" stroke="#444" stroke-width="0.4"/>
<text x="224.6" y="225.79999999999998" font-size="2.5" font-weight="normal" text-anchor="middle" dominant-baseline="central" fill="#333" stroke="#333" stroke-width="0.12" transform="rotate(-90 224.6 225.79999999999998)">10⁵</text>
<line x1="226.2" y1="225.79999999999998" x2="227.0" y2="225.79999999999998" stroke="#444" stroke-width="0.4"/>
<text x="231.2" y="275.5" font-size="2.5" font-weight="normal" text-anchor="middle" dominant-baseline="central" fill="#333" stroke="#333" stroke-width="0.12">0</text>
<line x1="231.2" y1="272.2" x2="231.2" y2="273.0" stroke="#444" stroke-width="0.4"/>
<text x="237.7" y="275.5" font-size="2.5" font-weight="normal" text-anchor="middle" dominant-baseline="central" fill="#333" stroke="#333" stroke-width="0.12">10¹</text>
<line x1="237.7" y1="272.2" x2="237.7" y2="273.0" stroke="#444" stroke-width="0.4"/>
<text x="247.3" y="275.5" font-size="2.5" font-weight="normal" text-anchor="middle" dominant-baseline="central" fill="#333" stroke="#333" stroke-width="0.12">10²</text>
<line x1="247.3" y1="272.2" x2="247.3" y2="273.0" stroke="#444" stroke-width="0.4"/>
<text x="256.9" y="275.5" font-size="2.5" font-weight="normal" text-anchor="middle" dominant-baseline="central" fill="#333" stroke="#333" stroke-width="0.12">10³</text>
<line x1="256.9" y1="272.2" x2="256.9" y2="273.0" stroke="#444" stroke-width="0.4"/>
<text x="266.5" y="275.5" font-size="2.5" font-weight="normal" text-anchor="middle" dominant-baseline="central" fill="#333" stroke="#333" stroke-width="0.12">10⁴</text>
<line x1="266.5" y1="272.2" x2="266.5" y2="273.0" stroke="#444" stroke-width="0.4"/>
<text x="276.1" y="275.5" font-size="2.5" font-weight="normal" text-anchor="middle" dominant-baseline="central" fill="#333" stroke="#333" stroke-width="0.12">10⁵</text>
<line x1="276.1" y1="272.2" x2="276.1" y2="273.0" stroke="#444" stroke-width="0.4"/>
<text x="228.5" y="225.4" font-size="2.83" font-weight="normal" text-anchor="start" dominant-baseline="central" fill="#444" stroke="#444" stroke-width="0.12" textLength="7.07" lengthAdjust="spacingAndGlyphs">Q1-UL</text>
<text x="276.7" y="225.4" font-size="2.83" font-weight="normal" text-anchor="end" dominant-baseline="central" fill="#444" stroke="#444" stroke-width="0.12" textLength="7.47" lengthAdjust="spacingAndGlyphs">Q1-UR</text>
<text x="228.5" y="269.8" font-size="2.83" font-weight="normal" text-anchor="start" dominant-baseline="central" fill="#444" stroke="#444" stroke-width="0.12" textLength="6.67" lengthAdjust="spacingAndGlyphs">Q1-LL</text>
<text x="276.7" y="269.8" font-size="2.83" font-weight="normal" text-anchor="end" dominant-baseline="central" fill="#444" stroke="#444" stroke-width="0.12" textLength="7.07" lengthAdjust="spacingAndGlyphs">Q1-LR</text>
<rect x="49.0" y="282.2" width="51.2" height="51.0" fill="#ffffff" stroke="#b8b8b8" stroke-width="0.5"/>
<clipPath id="fc10"><rect x="49.0" y="282.2" width="51.2" height="50.7"/></clipPath><g clip-path="url(#fc10)">
<ellipse cx="63.85" cy="327.05" rx="6.14" ry="4.40" transform="rotate(-33.0 63.85 327.05)" fill="#cd4527" fill-opacity="0.95"/>
<ellipse cx="84.10" cy="308.25" rx="3.49" ry="1.05" transform="rotate(-43.8 84.10 308.25)" fill="#cd4527" fill-opacity="0.50"/>
<path d="M63.7 327.9h.7v.7h-.7zM67.6 326.5h.7v.7h-.7zM68.2 321.7h.7v.7h-.7zM66.8 325.8h.7v.7h-.7zM63.1 329.9h.7v.7h-.7zM68.3 328.0h.7v.7h-.7zM64.0 323.8h.7v.7h-.7zM65.2 327.8h.7v.7h-.7zM69.4 324.1h.7v.7h-.7zM67.2 330.9h.7v.7h-.7zM63.5 325.8h.7v.7h-.7zM66.3 328.6h.7v.7h-.7zM61.6 322.3h.7v.7h-.7zM64.6 330.5h.7v.7h-.7zM63.3 330.8h.7v.7h-.7zM63.2 324.6h.7v.7h-.7zM62.8 319.8h.7v.7h-.7zM54.9 327.1h.7v.7h-.7zM65.2 325.3h.7v.7h-.7zM65.9 325.6h.7v.7h-.7zM63.5 325.4h.7v.7h-.7zM64.5 330.5h.7v.7h-.7zM64.1 322.0h.7v.7h-.7zM69.3 331.3h.7v.7h-.7zM64.7 323.1h.7v.7h-.7zM66.7 326.2h.7v.7h-.7zM64.8 330.3h.7v.7h-.7zM66.9 323.2h.7v.7h-.7zM63.7 325.8h.7v.7h-.7zM66.8 331.3h.7v.7h-.7zM63.7 329.5h.7v.7h-.7zM65.0 326.8h.7v.7h-.7zM61.7 331.0h.7v.7h-.7zM62.0 331.2h.7v.7h-.7zM64.0 327.6h.7v.7h-.7zM61.2 325.7h.7v.7h-.7zM60.9 329.1h.7v.7h-.7zM64.3 328.0h.7v.7h-.7zM64.5 329.7h.7v.7h-.7zM64.7 327.1h.7v.7h-.7zM63.3 327.5h.7v.7h-.7zM64.8 323.9h.7v.7h-.7zM61.0 330.5h.7v.7h-.7zM65.4 326.3h.7v.7h-.7zM62.5 323.1h.7v.7h-.7zM61.1 329.0h.7v.7h-.7zM61.8 323.9h.7v.7h-.7zM62.2 321.1h.7v.7h-.7zM66.0 321.8h.7v.7h-.7zM60.5 325.4h.7v.7h-.7zM59.4 328.9h.7v.7h-.7zM57.7 329.9h.7v.7h-.7zM64.0 326.0h.7v.7h-.7zM61.5 323.3h.7v.7h-.7zM56.1 327.2h.7v.7h-.7zM67.8 325.8h.7v.7h-.7zM67.8 328.7h.7v.7h-.7zM69.3 328.5h.7v.7h-.7zM59.0 330.6h.7v.7h-.7zM66.1 325.7h.7v.7h-.7zM59.6 322.0h.7v.7h-.7zM62.9 324.7h.7v.7h-.7zM69.4 326.3h.7v.7h-.7zM63.1 326.2h.7v.7h-.7zM66.5 323.5h.7v.7h-.7zM67.7 325.4h.7v.7h-.7zM63.8 328.6h.7v.7h-.7zM66.6 319.4h.7v.7h-.7zM67.6 327.5h.7v.7h-.7zM65.8 331.5h.7v.7h-.7zM67.0 327.2h.7v.7h-.7zM61.9 330.6h.7v.7h-.7zM61.0 331.0h.7v.7h-.7zM69.0 320.4h.7v.7h-.7zM66.9 321.1h.7v.7h-.7zM65.5 328.8h.7v.7h-.7zM60.2 330.8h.7v.7h-.7zM60.6 327.0h.7v.7h-.7zM66.4 325.2h.7v.7h-.7zM65.3 326.3h.7v.7h-.7zM67.8 330.4h.7v.7h-.7zM63.9 326.1h.7v.7h-.7zM65.3 328.9h.7v.7h-.7zM61.7 320.5h.7v.7h-.7zM64.5 328.4h.7v.7h-.7zM71.0 320.3h.7v.7h-.7zM61.2 324.6h.7v.7h-.7zM60.8 322.5h.7v.7h-.7zM61.3 328.5h.7v.7h-.7zM58.9 329.4h.7v.7h-.7zM64.1 331.8h.7v.7h-.7zM72.5 329.5h.7v.7h-.7zM65.6 328.6h.7v.7h-.7zM70.1 320.7h.7v.7h-.7zM67.6 321.3h.7v.7h-.7zM64.5 320.8h.7v.7h-.7zM62.5 327.3h.7v.7h-.7zM59.9 322.4h.7v.7h-.7zM63.9 326.1h.7v.7h-.7zM69.5 325.7h.7v.7h-.7zM57.6 331.7h.7v.7h-.7zM67.1 324.7h.7v.7h-.7zM59.5 324.9h.7v.7h-.7zM61.3 325.3h.7v.7h-.7zM62.6 326.8h.7v.7h-.7zM66.2 321.9h.7v.7h-.7zM63.1 323.5h.7v.7h-.7zM66.6 329.3h.7v.7h-.7zM60.2 325.1h.7v.7h-.7zM64.2 327.1h.7v.7h-.7zM62.8 329.5h.7v.7h-.7zM65.4 328.7h.7v.7h-.7zM61.1 331.8h.7v.7h-.7zM66.5 322.4h.7v.7h-.7zM70.5 323.7h.7v.7h-.7zM58.2 326.8h.7v.7h-.7zM60.6 326.8h.7v.7h-.7zM63.8 328.3h.7v.7h-.7zM62.8 326.6h.7v.7h-.7zM57.5 323.5h.7v.7h-.7zM59.7 325.2h.7v.7h-.7zM62.5 318.9h.7v.7h-.7zM62.6 317.2h.7v.7h-.7zM63.4 327.5h.7v.7h-.7zM58.9 326.7h.7v.7h-.7zM64.8 322.4h.7v.7h-.7zM63.8 327.4h.7v.7h-.7zM63.8 322.4h.7v.7h-.7zM67.8 324.0h.7v.7h-.7zM64.6 321.3h.7v.7h-.7zM67.2 324.6h.7v.7h-.7zM65.3 323.8h.7v.7h-.7zM66.7 325.4h.7v.7h-.7zM62.8 329.6h.7v.7h-.7zM62.6 326.3h.7v.7h-.7zM64.4 330.3h.7v.7h-.7zM68.5 327.7h.7v.7h-.7zM81.4 312.3h.7v.7h-.7zM82.9 313.3h.7v.7h-.7zM86.0 308.4h.7v.7h-.7zM84.3 308.3h.7v.7h-.7zM84.3 311.4h.7v.7h-.7zM84.4 309.8h.7v.7h-.7zM82.3 309.8h.7v.7h-.7zM83.3 308.9h.7v.7h-.7zM83.6 309.8h.7v.7h-.7zM84.3 305.5h.7v.7h-.7zM82.2 308.0h.7v.7h-.7zM85.5 304.9h.7v.7h-.7zM85.3 307.4h.7v.7h-.7zM82.5 306.6h.7v.7h-.7zM87.7 304.6h.7v.7h-.7zM86.5 307.7h.7v.7h-.7zM81.2 309.4h.7v.7h-.7zM89.5 306.3h.7v.7h-.7zM82.4 309.8h.7v.7h-.7zM86.1 306.1h.7v.7h-.7zM87.5 306.0h.7v.7h-.7zM84.6 308.9h.7v.7h-.7zM84.2 310.3h.7v.7h-.7zM83.9 310.7h.7v.7h-.7zM88.2 301.5h.7v.7h-.7zM86.6 303.4h.7v.7h-.7zM85.6 309.9h.7v.7h-.7zM87.1 306.6h.7v.7h-.7zM85.2 307.6h.7v.7h-.7zM85.0 307.1h.7v.7h-.7zM82.6 307.7h.7v.7h-.7zM87.9 304.6h.7v.7h-.7zM88.9 304.9h.7v.7h-.7zM84.3 306.3h.7v.7h-.7zM83.7 308.8h.7v.7h-.7zM83.7 308.2h.7v.7h-.7zM78.9 312.6h.7v.7h-.7zM83.3 308.3h.7v.7h-.7zM82.2 307.5h.7v.7h-.7zM83.6 311.3h.7v.7h-.7zM81.7 309.7h.7v.7h-.7zM82.3 309.8h.7v.7h-.7zM84.7 311.0h.7v.7h-.7zM83.1 311.5h.7v.7h-.7zM83.6 309.6h.7v.7h-.7zM89.7 302.9h.7v.7h-.7zM81.8 305.7h.7v.7h-.7zM83.3 308.7h.7v.7h-.7zM84.7 308.1h.7v.7h-.7zM81.1 309.7h.7v.7h-.7zM85.6 306.4h.7v.7h-.7zM84.8 308.7h.7v.7h-.7zM84.6 308.1h.7v.7h-.7zM81.9 310.4h.7v.7h-.7zM82.0 313.3h.7v.7h-.7zM84.0 311.3h.7v.7h-.7zM83.0 309.1h.7v.7h-.7zM87.2 305.7h.7v.7h-.7zM84.4 307.6h.7v.7h-.7zM83.1 308.1h.7v.7h-.7zM81.1 308.2h.7v.7h-.7zM83.3 307.8h.7v.7h-.7zM89.0 307.1h.7v.7h-.7zM87.4 303.2h.7v.7h-.7zM83.4 308.8h.7v.7h-.7zM82.2 312.7h.7v.7h-.7zM86.0 307.0h.7v.7h-.7zM88.8 304.6h.7v.7h-.7zM83.8 309.1h.7v.7h-.7zM83.6 309.6h.7v.7h-.7z" fill="#cd4527" fill-opacity="0.85"/>
<path d="M69.0 317.1h.7v.7h-.7zM60.0 329.6h.7v.7h-.7zM72.8 317.5h.7v.7h-.7zM84.5 310.5h.7v.7h-.7zM86.8 308.9h.7v.7h-.7zM73.8 310.4h.7v.7h-.7zM80.6 313.5h.7v.7h-.7zM72.7 321.4h.7v.7h-.7zM59.7 327.5h.7v.7h-.7zM87.2 305.4h.7v.7h-.7zM91.7 306.7h.7v.7h-.7zM88.4 304.6h.7v.7h-.7zM65.9 331.2h.7v.7h-.7zM76.1 314.6h.7v.7h-.7zM79.5 314.4h.7v.7h-.7zM74.1 311.2h.7v.7h-.7zM86.0 309.5h.7v.7h-.7zM61.8 328.4h.7v.7h-.7zM83.9 302.3h.7v.7h-.7zM77.8 315.4h.7v.7h-.7zM85.3 306.0h.7v.7h-.7zM73.1 323.8h.7v.7h-.7zM75.3 318.3h.7v.7h-.7zM76.3 314.6h.7v.7h-.7zM86.7 306.0h.7v.7h-.7zM65.9 323.9h.7v.7h-.7zM82.6 311.4h.7v.7h-.7zM61.6 327.9h.7v.7h-.7zM75.1 320.1h.7v.7h-.7zM83.9 303.0h.7v.7h-.7zM71.8 319.2h.7v.7h-.7zM80.9 307.8h.7v.7h-.7zM61.6 328.6h.7v.7h-.7zM64.1 330.4h.7v.7h-.7zM63.9 325.4h.7v.7h-.7zM84.4 306.1h.7v.7h-.7zM68.6 321.5h.7v.7h-.7zM78.2 312.6h.7v.7h-.7zM59.7 328.8h.7v.7h-.7zM86.6 303.2h.7v.7h-.7zM56.8 330.3h.7v.7h-.7zM88.4 306.4h.7v.7h-.7zM86.3 306.9h.7v.7h-.7zM76.5 318.9h.7v.7h-.7zM87.3 303.2h.7v.7h-.7zM76.4 318.7h.7v.7h-.7zM68.8 322.1h.7v.7h-.7zM83.0 311.2h.7v.7h-.7zM76.5 318.9h.7v.7h-.7zM68.4 323.8h.7v.7h-.7zM77.6 315.5h.7v.7h-.7zM85.7 312.7h.7v.7h-.7zM62.7 329.0h.7v.7h-.7zM88.3 301.5h.7v.7h-.7zM80.7 313.1h.7v.7h-.7zM75.5 317.4h.7v.7h-.7zM76.3 319.3h.7v.7h-.7zM85.4 304.9h.7v.7h-.7zM82.2 306.3h.7v.7h-.7zM73.7 313.2h.7v.7h-.7zM74.0 315.3h.7v.7h-.7zM56.7 331.0h.7v.7h-.7zM87.5 307.5h.7v.7h-.7zM73.0 317.6h.7v.7h-.7zM85.0 309.9h.7v.7h-.7zM67.3 325.9h.7v.7h-.7zM58.8 330.1h.7v.7h-.7zM75.7 311.2h.7v.7h-.7zM71.7 316.8h.7v.7h-.7zM72.1 317.1h.7v.7h-.7zM75.5 307.0h.7v.7h-.7zM73.5 312.8h.7v.7h-.7zM65.2 326.0h.7v.7h-.7zM81.3 309.0h.7v.7h-.7zM91.7 303.7h.7v.7h-.7zM88.2 301.0h.7v.7h-.7zM64.0 330.5h.7v.7h-.7zM77.7 308.1h.7v.7h-.7zM71.7 316.0h.7v.7h-.7zM74.6 312.5h.7v.7h-.7zM79.2 317.9h.7v.7h-.7zM74.4 314.5h.7v.7h-.7zM74.9 320.9h.7v.7h-.7zM72.1 326.6h.7v.7h-.7zM63.1 325.8h.7v.7h-.7zM75.6 317.1h.7v.7h-.7zM92.8 307.1h.7v.7h-.7zM83.7 306.5h.7v.7h-.7zM73.9 320.9h.7v.7h-.7zM72.9 318.5h.7v.7h-.7zM72.0 317.1h.7v.7h-.7zM81.6 307.5h.7v.7h-.7zM87.0 302.8h.7v.7h-.7zM76.1 315.6h.7v.7h-.7zM76.6 313.4h.7v.7h-.7zM63.3 330.7h.7v.7h-.7zM69.8 318.8h.7v.7h-.7zM73.3 314.8h.7v.7h-.7zM84.4 315.6h.7v.7h-.7zM74.5 318.0h.7v.7h-.7zM77.2 312.8h.7v.7h-.7zM67.4 323.4h.7v.7h-.7zM83.5 307.5h.7v.7h-.7zM73.2 314.8h.7v.7h-.7zM80.0 314.5h.7v.7h-.7zM61.2 329.9h.7v.7h-.7zM60.4 329.2h.7v.7h-.7z" fill="#d2553a" fill-opacity="0.6"/>
</g>
<line x1="74.8" y1="282.2" x2="74.8" y2="333.2" stroke="#8a8a8a" stroke-width="0.6"/>
<line x1="49.0" y1="317.5" x2="100.2" y2="317.5" stroke="#8a8a8a" stroke-width="0.6"/>
<line x1="49.0" y1="282.2" x2="49.0" y2="333.2" stroke="#444" stroke-width="0.6"/>
<line x1="49.0" y1="333.2" x2="100.2" y2="333.2" stroke="#444" stroke-width="0.6"/>
<text x="46.6" y="330.9" font-size="2.5" font-weight="normal" text-anchor="middle" dominant-baseline="central" fill="#333" stroke="#333" stroke-width="0.12" transform="rotate(-90 46.6 330.9)">0</text>
<line x1="48.2" y1="330.9" x2="49.0" y2="330.9" stroke="#444" stroke-width="0.4"/>
<text x="46.6" y="325.2" font-size="2.5" font-weight="normal" text-anchor="middle" dominant-baseline="central" fill="#333" stroke="#333" stroke-width="0.12" transform="rotate(-90 46.6 325.2)">10¹</text>
<line x1="48.2" y1="325.2" x2="49.0" y2="325.2" stroke="#444" stroke-width="0.4"/>
<text x="46.6" y="315.59999999999997" font-size="2.5" font-weight="normal" text-anchor="middle" dominant-baseline="central" fill="#333" stroke="#333" stroke-width="0.12" transform="rotate(-90 46.6 315.59999999999997)">10²</text>
<line x1="48.2" y1="315.59999999999997" x2="49.0" y2="315.59999999999997" stroke="#444" stroke-width="0.4"/>
<text x="46.6" y="306.0" font-size="2.5" font-weight="normal" text-anchor="middle" dominant-baseline="central" fill="#333" stroke="#333" stroke-width="0.12" transform="rotate(-90 46.6 306.0)">10³</text>
<line x1="48.2" y1="306.0" x2="49.0" y2="306.0" stroke="#444" stroke-width="0.4"/>
<text x="46.6" y="296.4" font-size="2.5" font-weight="normal" text-anchor="middle" dominant-baseline="central" fill="#333" stroke="#333" stroke-width="0.12" transform="rotate(-90 46.6 296.4)">10⁴</text>
<line x1="48.2" y1="296.4" x2="49.0" y2="296.4" stroke="#444" stroke-width="0.4"/>
<text x="46.6" y="286.8" font-size="2.5" font-weight="normal" text-anchor="middle" dominant-baseline="central" fill="#333" stroke="#333" stroke-width="0.12" transform="rotate(-90 46.6 286.8)">10⁵</text>
<line x1="48.2" y1="286.8" x2="49.0" y2="286.8" stroke="#444" stroke-width="0.4"/>
<text x="53.2" y="336.5" font-size="2.5" font-weight="normal" text-anchor="middle" dominant-baseline="central" fill="#333" stroke="#333" stroke-width="0.12">0</text>
<line x1="53.2" y1="333.2" x2="53.2" y2="334.0" stroke="#444" stroke-width="0.4"/>
<text x="59.7" y="336.5" font-size="2.5" font-weight="normal" text-anchor="middle" dominant-baseline="central" fill="#333" stroke="#333" stroke-width="0.12">10¹</text>
<line x1="59.7" y1="333.2" x2="59.7" y2="334.0" stroke="#444" stroke-width="0.4"/>
<text x="69.3" y="336.5" font-size="2.5" font-weight="normal" text-anchor="middle" dominant-baseline="central" fill="#333" stroke="#333" stroke-width="0.12">10²</text>
<line x1="69.3" y1="333.2" x2="69.3" y2="334.0" stroke="#444" stroke-width="0.4"/>
<text x="78.9" y="336.5" font-size="2.5" font-weight="normal" text-anchor="middle" dominant-baseline="central" fill="#333" stroke="#333" stroke-width="0.12">10³</text>
<line x1="78.9" y1="333.2" x2="78.9" y2="334.0" stroke="#444" stroke-width="0.4"/>
<text x="88.5" y="336.5" font-size="2.5" font-weight="normal" text-anchor="middle" dominant-baseline="central" fill="#333" stroke="#333" stroke-width="0.12">10⁴</text>
<line x1="88.5" y1="333.2" x2="88.5" y2="334.0" stroke="#444" stroke-width="0.4"/>
<text x="98.1" y="336.5" font-size="2.5" font-weight="normal" text-anchor="middle" dominant-baseline="central" fill="#333" stroke="#333" stroke-width="0.12">10⁵</text>
<line x1="98.1" y1="333.2" x2="98.1" y2="334.0" stroke="#444" stroke-width="0.4"/>
<text x="50.5" y="284.59999999999997" font-size="2.83" font-weight="normal" text-anchor="start" dominant-baseline="central" fill="#444" stroke="#444" stroke-width="0.12" textLength="7.07" lengthAdjust="spacingAndGlyphs">Q1-UL</text>
<text x="98.7" y="284.59999999999997" font-size="2.83" font-weight="normal" text-anchor="end" dominant-baseline="central" fill="#444" stroke="#444" stroke-width="0.12" textLength="7.47" lengthAdjust="spacingAndGlyphs">Q1-UR</text>
<text x="50.5" y="330.8" font-size="2.83" font-weight="normal" text-anchor="start" dominant-baseline="central" fill="#444" stroke="#444" stroke-width="0.12" textLength="6.67" lengthAdjust="spacingAndGlyphs">Q1-LL</text>
<text x="98.7" y="330.8" font-size="2.83" font-weight="normal" text-anchor="end" dominant-baseline="central" fill="#444" stroke="#444" stroke-width="0.12" textLength="7.07" lengthAdjust="spacingAndGlyphs">Q1-LR</text>
<rect x="108.3" y="282.2" width="51.2" height="51.0" fill="#ffffff" stroke="#b8b8b8" stroke-width="0.5"/>
<clipPath id="fc11"><rect x="108.3" y="282.2" width="51.2" height="50.7"/></clipPath><g clip-path="url(#fc11)">
<ellipse cx="123.45" cy="326.45" rx="7.73" ry="3.85" transform="rotate(-30.7 123.45 326.45)" fill="#cd4527" fill-opacity="0.95"/>
<ellipse cx="141.55" cy="309.95" rx="7.57" ry="2.75" transform="rotate(-36.9 141.55 309.95)" fill="#cd4527" fill-opacity="0.95"/>
<path d="M126.1 325.3h.7v.7h-.7zM115.8 331.2h.7v.7h-.7zM125.9 325.2h.7v.7h-.7zM124.8 325.7h.7v.7h-.7zM123.1 330.1h.7v.7h-.7zM128.7 322.4h.7v.7h-.7zM125.2 322.0h.7v.7h-.7zM127.4 321.5h.7v.7h-.7zM125.1 328.6h.7v.7h-.7zM121.6 327.7h.7v.7h-.7zM126.8 322.8h.7v.7h-.7zM126.5 328.3h.7v.7h-.7zM123.5 324.0h.7v.7h-.7zM121.6 326.8h.7v.7h-.7zM124.5 327.9h.7v.7h-.7zM117.3 329.9h.7v.7h-.7zM126.5 329.6h.7v.7h-.7zM116.5 327.8h.7v.7h-.7zM127.0 324.3h.7v.7h-.7zM127.8 323.8h.7v.7h-.7zM120.9 327.8h.7v.7h-.7zM129.4 325.3h.7v.7h-.7zM124.5 326.3h.7v.7h-.7zM128.7 325.4h.7v.7h-.7zM125.5 327.6h.7v.7h-.7zM122.4 323.6h.7v.7h-.7zM128.8 327.2h.7v.7h-.7zM128.9 323.0h.7v.7h-.7zM119.4 330.2h.7v.7h-.7zM118.6 323.4h.7v.7h-.7zM123.1 324.3h.7v.7h-.7zM123.1 325.1h.7v.7h-.7zM128.0 326.6h.7v.7h-.7zM127.2 328.1h.7v.7h-.7zM117.8 332.2h.7v.7h-.7zM127.0 323.1h.7v.7h-.7zM122.3 323.3h.7v.7h-.7zM122.2 328.2h.7v.7h-.7zM115.8 324.8h.7v.7h-.7zM121.0 325.3h.7v.7h-.7zM119.5 328.3h.7v.7h-.7zM119.7 332.2h.7v.7h-.7zM128.1 323.9h.7v.7h-.7zM121.1 327.7h.7v.7h-.7zM122.0 324.8h.7v.7h-.7zM121.6 329.0h.7v.7h-.7zM119.1 327.0h.7v.7h-.7zM120.4 325.1h.7v.7h-.7zM122.7 322.8h.7v.7h-.7zM128.1 326.0h.7v.7h-.7zM124.6 328.5h.7v.7h-.7zM127.2 323.0h.7v.7h-.7zM122.5 325.1h.7v.7h-.7zM121.6 326.4h.7v.7h-.7zM124.6 327.5h.7v.7h-.7zM132.5 322.2h.7v.7h-.7zM126.9 323.7h.7v.7h-.7zM130.1 322.9h.7v.7h-.7zM122.4 326.2h.7v.7h-.7zM123.1 325.5h.7v.7h-.7zM126.7 330.2h.7v.7h-.7zM122.7 324.5h.7v.7h-.7zM116.2 330.5h.7v.7h-.7zM118.5 327.0h.7v.7h-.7zM124.5 326.9h.7v.7h-.7zM126.9 328.1h.7v.7h-.7zM118.9 327.1h.7v.7h-.7zM118.7 326.1h.7v.7h-.7zM119.8 326.0h.7v.7h-.7zM124.7 322.4h.7v.7h-.7zM129.1 316.6h.7v.7h-.7zM124.5 320.9h.7v.7h-.7zM119.9 324.7h.7v.7h-.7zM124.1 327.6h.7v.7h-.7zM120.9 325.9h.7v.7h-.7zM118.4 326.8h.7v.7h-.7zM119.2 326.8h.7v.7h-.7zM124.9 328.4h.7v.7h-.7zM117.9 323.3h.7v.7h-.7zM123.1 329.2h.7v.7h-.7zM119.9 329.6h.7v.7h-.7zM117.2 326.1h.7v.7h-.7zM121.7 321.6h.7v.7h-.7zM118.0 321.1h.7v.7h-.7zM119.8 329.7h.7v.7h-.7zM120.4 325.9h.7v.7h-.7zM124.1 323.1h.7v.7h-.7zM118.3 328.1h.7v.7h-.7zM123.2 326.9h.7v.7h-.7zM124.2 329.6h.7v.7h-.7zM125.3 324.8h.7v.7h-.7zM130.0 317.5h.7v.7h-.7zM123.2 324.1h.7v.7h-.7zM132.0 322.2h.7v.7h-.7zM127.0 325.5h.7v.7h-.7zM128.2 321.8h.7v.7h-.7zM124.4 320.4h.7v.7h-.7zM127.0 327.8h.7v.7h-.7zM127.5 325.8h.7v.7h-.7zM116.2 330.9h.7v.7h-.7zM124.1 330.8h.7v.7h-.7zM126.2 326.7h.7v.7h-.7zM129.0 324.7h.7v.7h-.7zM116.9 327.7h.7v.7h-.7zM120.7 323.9h.7v.7h-.7zM124.6 324.3h.7v.7h-.7zM123.9 330.2h.7v.7h-.7zM113.3 327.7h.7v.7h-.7zM122.5 326.1h.7v.7h-.7zM127.1 323.0h.7v.7h-.7zM127.6 329.3h.7v.7h-.7zM116.0 326.3h.7v.7h-.7zM120.2 327.6h.7v.7h-.7zM119.4 329.6h.7v.7h-.7zM121.8 330.9h.7v.7h-.7zM126.1 326.9h.7v.7h-.7zM124.4 326.4h.7v.7h-.7zM116.6 329.7h.7v.7h-.7zM117.6 326.9h.7v.7h-.7zM127.3 332.2h.7v.7h-.7zM121.6 325.7h.7v.7h-.7zM122.4 325.2h.7v.7h-.7zM121.4 329.7h.7v.7h-.7zM122.7 329.6h.7v.7h-.7zM126.8 327.2h.7v.7h-.7zM130.8 325.3h.7v.7h-.7zM121.4 331.7h.7v.7h-.7zM126.5 321.2h.7v.7h-.7zM125.6 319.1h.7v.7h-.7zM126.6 323.2h.7v.7h-.7zM121.9 326.7h.7v.7h-.7zM122.1 329.5h.7v.7h-.7zM123.0 326.5h.7v.7h-.7zM122.9 325.5h.7v.7h-.7zM138.5 313.6h.7v.7h-.7zM142.9 305.9h.7v.7h-.7zM146.2 309.4h.7v.7h-.7zM143.7 311.8h.7v.7h-.7zM135.3 317.9h.7v.7h-.7zM139.1 312.4h.7v.7h-.7zM141.0 316.2h.7v.7h-.7zM140.7 312.1h.7v.7h-.7zM135.9 313.4h.7v.7h-.7zM142.7 308.7h.7v.7h-.7zM140.5 314.3h.7v.7h-.7zM136.0 314.2h.7v.7h-.7zM140.3 309.9h.7v.7h-.7zM143.9 308.6h.7v.7h-.7zM141.5 311.5h.7v.7h-.7zM141.7 311.0h.7v.7h-.7zM146.2 307.0h.7v.7h-.7zM140.9 308.9h.7v.7h-.7zM147.5 307.7h.7v.7h-.7zM143.6 309.1h.7v.7h-.7zM138.6 312.3h.7v.7h-.7zM141.1 307.4h.7v.7h-.7zM137.9 312.3h.7v.7h-.7zM148.6 305.5h.7v.7h-.7zM137.8 315.8h.7v.7h-.7zM145.4 308.7h.7v.7h-.7zM139.3 311.3h.7v.7h-.7zM150.4 305.9h.7v.7h-.7zM155.4 295.0h.7v.7h-.7zM135.3 313.5h.7v.7h-.7zM137.4 311.4h.7v.7h-.7zM145.5 310.1h.7v.7h-.7zM137.1 314.6h.7v.7h-.7zM144.7 308.1h.7v.7h-.7zM147.6 308.2h.7v.7h-.7zM138.7 312.3h.7v.7h-.7zM141.0 307.4h.7v.7h-.7zM141.8 312.2h.7v.7h-.7zM142.8 309.0h.7v.7h-.7zM151.3 304.1h.7v.7h-.7zM143.8 306.1h.7v.7h-.7zM145.2 306.1h.7v.7h-.7zM140.3 309.8h.7v.7h-.7zM137.6 314.3h.7v.7h-.7zM138.1 314.5h.7v.7h-.7zM140.1 314.1h.7v.7h-.7zM144.0 310.9h.7v.7h-.7zM138.2 313.8h.7v.7h-.7zM144.4 308.4h.7v.7h-.7zM140.4 309.4h.7v.7h-.7zM130.5 319.4h.7v.7h-.7zM135.7 311.7h.7v.7h-.7zM139.7 304.8h.7v.7h-.7zM139.6 313.1h.7v.7h-.7zM141.3 309.6h.7v.7h-.7zM138.9 312.3h.7v.7h-.7zM135.3 313.2h.7v.7h-.7zM143.2 306.4h.7v.7h-.7zM140.6 309.7h.7v.7h-.7zM134.7 310.2h.7v.7h-.7zM137.5 311.1h.7v.7h-.7zM137.7 312.6h.7v.7h-.7zM143.3 310.1h.7v.7h-.7zM141.4 307.2h.7v.7h-.7zM146.8 306.8h.7v.7h-.7zM142.6 306.0h.7v.7h-.7zM148.0 310.7h.7v.7h-.7zM144.6 310.3h.7v.7h-.7zM139.6 311.8h.7v.7h-.7zM142.1 311.2h.7v.7h-.7zM142.4 310.0h.7v.7h-.7zM136.9 310.5h.7v.7h-.7zM144.4 314.0h.7v.7h-.7zM138.6 313.4h.7v.7h-.7zM145.5 305.4h.7v.7h-.7zM136.1 314.9h.7v.7h-.7zM140.3 308.7h.7v.7h-.7zM147.7 307.0h.7v.7h-.7zM139.9 307.8h.7v.7h-.7zM147.3 308.4h.7v.7h-.7zM146.4 310.3h.7v.7h-.7zM136.6 311.2h.7v.7h-.7zM145.2 308.3h.7v.7h-.7zM140.8 309.3h.7v.7h-.7zM145.5 307.6h.7v.7h-.7zM143.3 305.8h.7v.7h-.7zM142.2 310.5h.7v.7h-.7zM143.2 304.6h.7v.7h-.7zM140.0 309.5h.7v.7h-.7zM141.4 309.7h.7v.7h-.7zM144.0 310.1h.7v.7h-.7zM142.4 309.1h.7v.7h-.7zM146.3 309.8h.7v.7h-.7zM140.8 308.5h.7v.7h-.7zM149.0 306.6h.7v.7h-.7zM148.9 303.4h.7v.7h-.7zM139.9 310.7h.7v.7h-.7zM139.5 307.9h.7v.7h-.7zM142.8 305.3h.7v.7h-.7zM131.5 317.4h.7v.7h-.7zM138.0 313.2h.7v.7h-.7zM135.8 310.9h.7v.7h-.7zM132.7 313.5h.7v.7h-.7zM143.0 314.1h.7v.7h-.7zM143.2 307.1h.7v.7h-.7zM146.7 306.7h.7v.7h-.7zM132.7 312.2h.7v.7h-.7zM135.4 313.1h.7v.7h-.7zM141.0 308.9h.7v.7h-.7zM138.5 309.9h.7v.7h-.7zM143.1 310.7h.7v.7h-.7zM139.2 314.8h.7v.7h-.7zM138.2 311.8h.7v.7h-.7zM148.3 306.4h.7v.7h-.7zM139.4 306.8h.7v.7h-.7zM141.4 309.2h.7v.7h-.7zM142.1 312.3h.7v.7h-.7zM141.7 314.3h.7v.7h-.7zM141.9 310.1h.7v.7h-.7zM140.6 310.9h.7v.7h-.7zM146.7 306.7h.7v.7h-.7zM137.0 311.4h.7v.7h-.7zM146.4 307.7h.7v.7h-.7zM138.3 312.1h.7v.7h-.7zM142.6 310.6h.7v.7h-.7zM138.2 312.7h.7v.7h-.7zM136.0 312.2h.7v.7h-.7zM142.4 312.7h.7v.7h-.7zM143.2 312.8h.7v.7h-.7zM144.5 311.0h.7v.7h-.7zM138.8 307.5h.7v.7h-.7zM133.2 315.2h.7v.7h-.7zM147.8 304.9h.7v.7h-.7zM140.5 312.3h.7v.7h-.7zM139.8 310.4h.7v.7h-.7zM142.7 310.0h.7v.7h-.7zM138.5 310.2h.7v.7h-.7zM146.3 304.2h.7v.7h-.7zM138.1 312.1h.7v.7h-.7zM141.4 310.8h.7v.7h-.7z" fill="#cd4527" fill-opacity="0.85"/>
<path d="M122.7 326.9h.7v.7h-.7zM120.8 330.9h.7v.7h-.7zM133.9 312.9h.7v.7h-.7zM116.6 329.9h.7v.7h-.7zM120.8 329.6h.7v.7h-.7zM138.6 314.0h.7v.7h-.7zM122.0 323.1h.7v.7h-.7zM143.4 307.0h.7v.7h-.7zM136.0 310.7h.7v.7h-.7zM134.9 314.0h.7v.7h-.7zM124.6 329.0h.7v.7h-.7zM127.2 323.5h.7v.7h-.7zM140.9 312.2h.7v.7h-.7zM145.4 310.5h.7v.7h-.7zM133.0 317.4h.7v.7h-.7zM121.2 325.3h.7v.7h-.7zM135.9 314.6h.7v.7h-.7zM126.6 325.0h.7v.7h-.7zM136.9 317.7h.7v.7h-.7zM117.5 330.9h.7v.7h-.7zM118.8 327.6h.7v.7h-.7zM122.2 324.7h.7v.7h-.7zM143.1 314.5h.7v.7h-.7zM132.0 321.5h.7v.7h-.7zM140.9 318.0h.7v.7h-.7zM123.6 326.1h.7v.7h-.7zM132.9 319.0h.7v.7h-.7zM119.6 325.6h.7v.7h-.7zM122.8 331.1h.7v.7h-.7zM128.9 325.8h.7v.7h-.7zM144.9 303.7h.7v.7h-.7zM122.9 329.1h.7v.7h-.7zM133.5 312.8h.7v.7h-.7zM124.9 326.3h.7v.7h-.7zM118.7 329.3h.7v.7h-.7zM144.8 307.9h.7v.7h-.7zM145.8 305.7h.7v.7h-.7zM127.7 323.0h.7v.7h-.7zM120.0 330.1h.7v.7h-.7zM129.1 319.8h.7v.7h-.7zM147.1 305.0h.7v.7h-.7zM138.6 313.7h.7v.7h-.7zM138.0 314.3h.7v.7h-.7zM129.5 324.5h.7v.7h-.7zM120.9 326.5h.7v.7h-.7zM133.7 315.0h.7v.7h-.7zM143.7 303.5h.7v.7h-.7zM137.4 306.4h.7v.7h-.7zM133.5 312.9h.7v.7h-.7zM135.5 316.5h.7v.7h-.7zM121.3 326.4h.7v.7h-.7zM138.6 312.4h.7v.7h-.7zM122.2 324.1h.7v.7h-.7zM136.5 313.7h.7v.7h-.7zM139.1 313.0h.7v.7h-.7zM133.2 312.8h.7v.7h-.7zM124.8 317.7h.7v.7h-.7zM138.9 310.3h.7v.7h-.7zM140.5 305.2h.7v.7h-.7zM120.5 331.4h.7v.7h-.7zM143.4 308.9h.7v.7h-.7zM135.3 315.9h.7v.7h-.7zM139.6 312.2h.7v.7h-.7zM122.8 328.5h.7v.7h-.7zM135.9 313.0h.7v.7h-.7zM130.7 320.7h.7v.7h-.7zM149.3 307.6h.7v.7h-.7zM143.5 310.7h.7v.7h-.7zM127.4 325.0h.7v.7h-.7zM123.4 323.6h.7v.7h-.7zM125.7 329.5h.7v.7h-.7zM143.8 312.1h.7v.7h-.7zM144.3 308.0h.7v.7h-.7zM146.7 310.8h.7v.7h-.7zM140.2 308.6h.7v.7h-.7zM133.1 318.1h.7v.7h-.7zM116.3 324.3h.7v.7h-.7zM123.4 330.1h.7v.7h-.7zM137.4 309.1h.7v.7h-.7zM140.0 312.9h.7v.7h-.7zM125.1 324.3h.7v.7h-.7zM126.3 328.6h.7v.7h-.7zM141.8 301.9h.7v.7h-.7zM119.8 326.4h.7v.7h-.7zM139.6 307.0h.7v.7h-.7zM145.9 306.9h.7v.7h-.7zM133.6 321.6h.7v.7h-.7zM123.7 323.2h.7v.7h-.7zM119.3 330.3h.7v.7h-.7zM124.9 324.2h.7v.7h-.7zM140.1 309.7h.7v.7h-.7zM138.2 317.3h.7v.7h-.7zM120.2 331.7h.7v.7h-.7zM130.4 312.1h.7v.7h-.7zM126.7 324.0h.7v.7h-.7zM138.2 313.3h.7v.7h-.7zM119.2 328.7h.7v.7h-.7zM131.8 317.1h.7v.7h-.7zM134.8 318.7h.7v.7h-.7zM141.5 313.7h.7v.7h-.7zM124.7 327.0h.7v.7h-.7zM123.1 325.8h.7v.7h-.7zM124.8 326.7h.7v.7h-.7zM140.1 304.4h.7v.7h-.7zM122.7 330.0h.7v.7h-.7zM135.2 313.7h.7v.7h-.7zM143.5 308.8h.7v.7h-.7zM127.5 322.6h.7v.7h-.7zM131.8 326.0h.7v.7h-.7z" fill="#d2553a" fill-opacity="0.6"/>
</g>
<line x1="134.1" y1="282.2" x2="134.1" y2="333.2" stroke="#8a8a8a" stroke-width="0.6"/>
<line x1="108.3" y1="317.5" x2="159.5" y2="317.5" stroke="#8a8a8a" stroke-width="0.6"/>
<line x1="108.3" y1="282.2" x2="108.3" y2="333.2" stroke="#444" stroke-width="0.6"/>
<line x1="108.3" y1="333.2" x2="159.5" y2="333.2" stroke="#444" stroke-width="0.6"/>
<text x="105.89999999999999" y="330.9" font-size="2.5" font-weight="normal" text-anchor="middle" dominant-baseline="central" fill="#333" stroke="#333" stroke-width="0.12" transform="rotate(-90 105.89999999999999 330.9)">0</text>
<line x1="107.5" y1="330.9" x2="108.3" y2="330.9" stroke="#444" stroke-width="0.4"/>
<text x="105.89999999999999" y="325.2" font-size="2.5" font-weight="normal" text-anchor="middle" dominant-baseline="central" fill="#333" stroke="#333" stroke-width="0.12" transform="rotate(-90 105.89999999999999 325.2)">10¹</text>
<line x1="107.5" y1="325.2" x2="108.3" y2="325.2" stroke="#444" stroke-width="0.4"/>
<text x="105.89999999999999" y="315.59999999999997" font-size="2.5" font-weight="normal" text-anchor="middle" dominant-baseline="central" fill="#333" stroke="#333" stroke-width="0.12" transform="rotate(-90 105.89999999999999 315.59999999999997)">10²</text>
<line x1="107.5" y1="315.59999999999997" x2="108.3" y2="315.59999999999997" stroke="#444" stroke-width="0.4"/>
<text x="105.89999999999999" y="306.0" font-size="2.5" font-weight="normal" text-anchor="middle" dominant-baseline="central" fill="#333" stroke="#333" stroke-width="0.12" transform="rotate(-90 105.89999999999999 306.0)">10³</text>
<line x1="107.5" y1="306.0" x2="108.3" y2="306.0" stroke="#444" stroke-width="0.4"/>
<text x="105.89999999999999" y="296.4" font-size="2.5" font-weight="normal" text-anchor="middle" dominant-baseline="central" fill="#333" stroke="#333" stroke-width="0.12" transform="rotate(-90 105.89999999999999 296.4)">10⁴</text>
<line x1="107.5" y1="296.4" x2="108.3" y2="296.4" stroke="#444" stroke-width="0.4"/>
<text x="105.89999999999999" y="286.8" font-size="2.5" font-weight="normal" text-anchor="middle" dominant-baseline="central" fill="#333" stroke="#333" stroke-width="0.12" transform="rotate(-90 105.89999999999999 286.8)">10⁵</text>
<line x1="107.5" y1="286.8" x2="108.3" y2="286.8" stroke="#444" stroke-width="0.4"/>
<text x="112.5" y="336.5" font-size="2.5" font-weight="normal" text-anchor="middle" dominant-baseline="central" fill="#333" stroke="#333" stroke-width="0.12">0</text>
<line x1="112.5" y1="333.2" x2="112.5" y2="334.0" stroke="#444" stroke-width="0.4"/>
<text x="119.0" y="336.5" font-size="2.5" font-weight="normal" text-anchor="middle" dominant-baseline="central" fill="#333" stroke="#333" stroke-width="0.12">10¹</text>
<line x1="119.0" y1="333.2" x2="119.0" y2="334.0" stroke="#444" stroke-width="0.4"/>
<text x="128.6" y="336.5" font-size="2.5" font-weight="normal" text-anchor="middle" dominant-baseline="central" fill="#333" stroke="#333" stroke-width="0.12">10²</text>
<line x1="128.6" y1="333.2" x2="128.6" y2="334.0" stroke="#444" stroke-width="0.4"/>
<text x="138.2" y="336.5" font-size="2.5" font-weight="normal" text-anchor="middle" dominant-baseline="central" fill="#333" stroke="#333" stroke-width="0.12">10³</text>
<line x1="138.2" y1="333.2" x2="138.2" y2="334.0" stroke="#444" stroke-width="0.4"/>
<text x="147.8" y="336.5" font-size="2.5" font-weight="normal" text-anchor="middle" dominant-baseline="central" fill="#333" stroke="#333" stroke-width="0.12">10⁴</text>
<line x1="147.8" y1="333.2" x2="147.8" y2="334.0" stroke="#444" stroke-width="0.4"/>
<text x="157.4" y="336.5" font-size="2.5" font-weight="normal" text-anchor="middle" dominant-baseline="central" fill="#333" stroke="#333" stroke-width="0.12">10⁵</text>
<line x1="157.4" y1="333.2" x2="157.4" y2="334.0" stroke="#444" stroke-width="0.4"/>
<text x="109.8" y="284.59999999999997" font-size="2.83" font-weight="normal" text-anchor="start" dominant-baseline="central" fill="#444" stroke="#444" stroke-width="0.12" textLength="7.07" lengthAdjust="spacingAndGlyphs">Q1-UL</text>
<text x="158.0" y="284.59999999999997" font-size="2.83" font-weight="normal" text-anchor="end" dominant-baseline="central" fill="#444" stroke="#444" stroke-width="0.12" textLength="7.47" lengthAdjust="spacingAndGlyphs">Q1-UR</text>
<text x="109.8" y="330.8" font-size="2.83" font-weight="normal" text-anchor="start" dominant-baseline="central" fill="#444" stroke="#444" stroke-width="0.12" textLength="6.67" lengthAdjust="spacingAndGlyphs">Q1-LL</text>
<text x="158.0" y="330.8" font-size="2.83" font-weight="normal" text-anchor="end" dominant-baseline="central" fill="#444" stroke="#444" stroke-width="0.12" textLength="7.07" lengthAdjust="spacingAndGlyphs">Q1-LR</text>
<rect x="167.6" y="282.2" width="51.2" height="51.0" fill="#ffffff" stroke="#b8b8b8" stroke-width="0.5"/>
<clipPath id="fc12"><rect x="167.6" y="282.2" width="51.2" height="50.7"/></clipPath><g clip-path="url(#fc12)">
<ellipse cx="184.50" cy="326.85" rx="9.32" ry="3.30" transform="rotate(-32.1 184.50 326.85)" fill="#cd4527" fill-opacity="0.95"/>
<ellipse cx="202.10" cy="308.10" rx="6.74" ry="2.20" transform="rotate(-35.3 202.10 308.10)" fill="#cd4527" fill-opacity="0.70"/>
<path d="M186.6 327.9h.7v.7h-.7zM190.9 327.7h.7v.7h-.7zM189.3 325.8h.7v.7h-.7zM186.1 327.9h.7v.7h-.7zM191.9 322.0h.7v.7h-.7zM182.9 325.2h.7v.7h-.7zM196.2 318.5h.7v.7h-.7zM181.6 327.2h.7v.7h-.7zM190.7 324.1h.7v.7h-.7zM193.2 321.3h.7v.7h-.7zM188.9 332.3h.7v.7h-.7zM183.3 327.1h.7v.7h-.7zM190.7 329.8h.7v.7h-.7zM184.7 322.3h.7v.7h-.7zM183.7 326.8h.7v.7h-.7zM187.8 323.9h.7v.7h-.7zM183.7 323.8h.7v.7h-.7zM178.8 330.7h.7v.7h-.7zM191.2 320.0h.7v.7h-.7zM187.5 327.3h.7v.7h-.7zM184.2 327.8h.7v.7h-.7zM184.3 327.1h.7v.7h-.7zM192.6 320.7h.7v.7h-.7zM182.9 328.0h.7v.7h-.7zM186.0 330.8h.7v.7h-.7zM184.5 328.1h.7v.7h-.7zM179.7 331.5h.7v.7h-.7zM188.6 326.2h.7v.7h-.7zM176.4 330.3h.7v.7h-.7zM186.3 330.4h.7v.7h-.7zM195.1 323.2h.7v.7h-.7zM181.5 328.3h.7v.7h-.7zM186.0 320.5h.7v.7h-.7zM193.1 325.7h.7v.7h-.7zM188.5 323.7h.7v.7h-.7zM184.4 322.5h.7v.7h-.7zM179.7 328.7h.7v.7h-.7zM183.3 332.4h.7v.7h-.7zM183.8 320.6h.7v.7h-.7zM190.8 324.4h.7v.7h-.7zM182.7 326.1h.7v.7h-.7zM194.8 321.2h.7v.7h-.7zM184.0 322.8h.7v.7h-.7zM183.2 330.3h.7v.7h-.7zM184.8 325.5h.7v.7h-.7zM181.3 324.5h.7v.7h-.7zM175.9 327.9h.7v.7h-.7zM187.4 327.8h.7v.7h-.7zM184.5 330.1h.7v.7h-.7zM181.0 320.3h.7v.7h-.7zM191.0 319.8h.7v.7h-.7zM191.8 321.6h.7v.7h-.7zM183.8 326.1h.7v.7h-.7zM180.7 331.0h.7v.7h-.7zM194.2 324.5h.7v.7h-.7zM182.7 329.5h.7v.7h-.7zM190.4 324.9h.7v.7h-.7zM180.2 327.3h.7v.7h-.7zM185.7 326.9h.7v.7h-.7zM180.4 325.8h.7v.7h-.7zM178.9 330.5h.7v.7h-.7zM188.0 325.3h.7v.7h-.7zM184.6 324.4h.7v.7h-.7zM183.2 330.3h.7v.7h-.7zM184.3 331.6h.7v.7h-.7zM190.4 325.2h.7v.7h-.7zM182.4 325.6h.7v.7h-.7zM182.7 325.3h.7v.7h-.7zM182.5 327.2h.7v.7h-.7zM183.5 330.8h.7v.7h-.7zM179.5 327.9h.7v.7h-.7zM190.6 323.8h.7v.7h-.7zM186.2 324.1h.7v.7h-.7zM187.9 328.5h.7v.7h-.7zM185.3 327.6h.7v.7h-.7zM191.2 324.4h.7v.7h-.7zM189.0 320.7h.7v.7h-.7zM174.9 329.8h.7v.7h-.7zM185.9 324.2h.7v.7h-.7zM190.2 321.8h.7v.7h-.7zM180.7 327.4h.7v.7h-.7zM188.7 325.6h.7v.7h-.7zM187.1 329.2h.7v.7h-.7zM179.3 326.8h.7v.7h-.7zM184.6 326.7h.7v.7h-.7zM185.7 327.4h.7v.7h-.7zM187.4 327.5h.7v.7h-.7zM184.7 324.5h.7v.7h-.7zM182.0 324.6h.7v.7h-.7zM183.6 326.8h.7v.7h-.7zM182.5 329.7h.7v.7h-.7zM190.8 322.9h.7v.7h-.7zM181.3 325.8h.7v.7h-.7zM180.2 327.5h.7v.7h-.7zM184.9 328.9h.7v.7h-.7zM187.5 329.3h.7v.7h-.7zM186.8 326.1h.7v.7h-.7zM184.0 323.0h.7v.7h-.7zM183.5 325.6h.7v.7h-.7zM183.6 327.4h.7v.7h-.7zM183.3 327.5h.7v.7h-.7zM186.7 326.4h.7v.7h-.7zM182.7 330.7h.7v.7h-.7zM185.4 327.4h.7v.7h-.7zM195.0 325.0h.7v.7h-.7zM194.7 319.9h.7v.7h-.7zM187.2 326.6h.7v.7h-.7zM185.0 326.2h.7v.7h-.7zM190.1 326.7h.7v.7h-.7zM194.4 319.2h.7v.7h-.7zM185.9 323.9h.7v.7h-.7zM180.4 322.8h.7v.7h-.7zM192.7 317.3h.7v.7h-.7zM182.9 322.9h.7v.7h-.7zM181.7 325.7h.7v.7h-.7zM173.4 330.9h.7v.7h-.7zM183.4 327.3h.7v.7h-.7zM181.7 325.5h.7v.7h-.7zM190.9 320.9h.7v.7h-.7zM187.6 329.2h.7v.7h-.7zM184.8 326.4h.7v.7h-.7zM188.6 323.1h.7v.7h-.7zM184.8 326.3h.7v.7h-.7zM183.8 329.5h.7v.7h-.7zM187.7 328.9h.7v.7h-.7zM184.7 322.8h.7v.7h-.7zM186.1 325.1h.7v.7h-.7zM184.7 329.5h.7v.7h-.7zM202.1 305.0h.7v.7h-.7zM208.7 303.2h.7v.7h-.7zM196.5 311.5h.7v.7h-.7zM202.7 305.5h.7v.7h-.7zM197.7 307.8h.7v.7h-.7zM202.6 306.8h.7v.7h-.7zM207.5 304.9h.7v.7h-.7zM202.4 306.7h.7v.7h-.7zM204.1 304.0h.7v.7h-.7zM203.5 308.1h.7v.7h-.7zM198.5 308.4h.7v.7h-.7zM207.7 307.8h.7v.7h-.7zM205.2 309.6h.7v.7h-.7zM203.5 306.8h.7v.7h-.7zM199.7 307.4h.7v.7h-.7zM204.7 305.2h.7v.7h-.7zM200.4 310.1h.7v.7h-.7zM203.1 306.0h.7v.7h-.7zM202.7 307.4h.7v.7h-.7zM202.5 307.6h.7v.7h-.7zM198.5 305.9h.7v.7h-.7zM201.3 311.0h.7v.7h-.7zM201.2 309.1h.7v.7h-.7zM203.2 305.4h.7v.7h-.7zM202.1 307.6h.7v.7h-.7zM203.9 308.0h.7v.7h-.7zM202.2 307.6h.7v.7h-.7zM205.4 306.0h.7v.7h-.7zM198.4 313.2h.7v.7h-.7zM203.1 306.3h.7v.7h-.7zM201.1 307.0h.7v.7h-.7zM201.2 305.8h.7v.7h-.7zM205.9 306.3h.7v.7h-.7zM199.3 311.1h.7v.7h-.7zM196.9 310.8h.7v.7h-.7zM199.5 311.3h.7v.7h-.7zM203.2 304.7h.7v.7h-.7zM203.2 308.3h.7v.7h-.7zM203.3 312.1h.7v.7h-.7zM198.2 313.5h.7v.7h-.7zM206.8 304.1h.7v.7h-.7zM199.5 312.3h.7v.7h-.7zM193.9 313.8h.7v.7h-.7zM197.4 311.4h.7v.7h-.7zM199.0 307.7h.7v.7h-.7zM205.0 308.3h.7v.7h-.7zM198.2 312.1h.7v.7h-.7zM201.8 307.0h.7v.7h-.7zM200.9 310.1h.7v.7h-.7zM205.6 305.1h.7v.7h-.7zM194.7 314.9h.7v.7h-.7zM201.6 304.6h.7v.7h-.7zM200.4 309.3h.7v.7h-.7zM201.4 309.2h.7v.7h-.7zM199.8 311.0h.7v.7h-.7zM193.4 315.0h.7v.7h-.7zM200.0 309.3h.7v.7h-.7zM205.5 308.3h.7v.7h-.7zM198.6 310.4h.7v.7h-.7zM198.8 310.6h.7v.7h-.7zM199.0 307.9h.7v.7h-.7zM206.1 305.9h.7v.7h-.7zM203.3 309.8h.7v.7h-.7zM197.0 312.5h.7v.7h-.7zM207.1 303.9h.7v.7h-.7zM198.5 309.1h.7v.7h-.7zM207.1 306.6h.7v.7h-.7zM204.0 308.6h.7v.7h-.7zM199.5 309.2h.7v.7h-.7zM203.9 304.9h.7v.7h-.7zM202.8 307.6h.7v.7h-.7zM199.4 310.4h.7v.7h-.7zM197.2 310.3h.7v.7h-.7zM194.3 311.1h.7v.7h-.7zM199.5 310.7h.7v.7h-.7zM200.9 306.4h.7v.7h-.7zM203.3 311.6h.7v.7h-.7zM202.7 308.5h.7v.7h-.7zM194.6 312.4h.7v.7h-.7zM204.5 303.6h.7v.7h-.7zM198.4 309.2h.7v.7h-.7zM202.1 309.2h.7v.7h-.7zM196.9 313.1h.7v.7h-.7zM192.4 313.1h.7v.7h-.7zM202.3 305.6h.7v.7h-.7zM198.7 309.4h.7v.7h-.7zM206.3 303.0h.7v.7h-.7zM207.0 308.4h.7v.7h-.7zM199.9 308.0h.7v.7h-.7zM201.0 306.8h.7v.7h-.7zM199.7 307.6h.7v.7h-.7zM195.5 309.5h.7v.7h-.7zM204.3 305.1h.7v.7h-.7zM199.1 312.3h.7v.7h-.7zM201.0 308.1h.7v.7h-.7zM199.4 309.9h.7v.7h-.7zM200.5 308.3h.7v.7h-.7zM202.0 309.6h.7v.7h-.7zM202.5 310.3h.7v.7h-.7zM204.2 304.5h.7v.7h-.7zM197.5 308.7h.7v.7h-.7zM200.0 310.9h.7v.7h-.7zM200.3 308.3h.7v.7h-.7zM200.2 305.1h.7v.7h-.7zM202.8 307.1h.7v.7h-.7zM203.8 306.2h.7v.7h-.7zM206.2 307.2h.7v.7h-.7zM201.4 309.6h.7v.7h-.7zM198.2 309.3h.7v.7h-.7zM198.0 310.5h.7v.7h-.7zM196.8 309.6h.7v.7h-.7zM199.7 306.8h.7v.7h-.7zM202.9 305.6h.7v.7h-.7zM200.7 308.3h.7v.7h-.7zM205.8 306.6h.7v.7h-.7zM200.5 308.0h.7v.7h-.7zM204.5 306.0h.7v.7h-.7zM198.5 310.8h.7v.7h-.7zM203.9 306.6h.7v.7h-.7zM203.4 310.0h.7v.7h-.7zM200.8 310.4h.7v.7h-.7zM208.6 306.7h.7v.7h-.7zM198.5 311.6h.7v.7h-.7zM204.5 311.0h.7v.7h-.7zM207.0 306.5h.7v.7h-.7zM206.3 306.1h.7v.7h-.7z" fill="#cd4527" fill-opacity="0.85"/>
<path d="M191.0 321.9h.7v.7h-.7zM204.7 307.7h.7v.7h-.7zM206.5 303.4h.7v.7h-.7zM184.5 327.1h.7v.7h-.7zM189.0 323.8h.7v.7h-.7zM193.7 321.3h.7v.7h-.7zM191.6 313.3h.7v.7h-.7zM193.4 324.9h.7v.7h-.7zM181.6 331.5h.7v.7h-.7zM192.1 325.1h.7v.7h-.7zM184.3 322.4h.7v.7h-.7zM181.6 329.1h.7v.7h-.7zM193.9 311.1h.7v.7h-.7zM207.9 306.2h.7v.7h-.7zM193.6 316.9h.7v.7h-.7zM193.8 316.9h.7v.7h-.7zM188.5 316.1h.7v.7h-.7zM195.9 314.2h.7v.7h-.7zM190.0 317.1h.7v.7h-.7zM186.4 326.1h.7v.7h-.7zM204.8 310.2h.7v.7h-.7zM178.1 331.3h.7v.7h-.7zM191.0 319.5h.7v.7h-.7zM191.7 315.7h.7v.7h-.7zM187.7 326.0h.7v.7h-.7zM185.7 324.1h.7v.7h-.7zM202.8 309.3h.7v.7h-.7zM187.2 323.6h.7v.7h-.7zM200.5 314.2h.7v.7h-.7zM189.9 320.2h.7v.7h-.7zM189.2 323.2h.7v.7h-.7zM185.7 321.0h.7v.7h-.7zM190.3 320.8h.7v.7h-.7zM182.8 324.2h.7v.7h-.7zM199.5 314.0h.7v.7h-.7zM195.8 310.4h.7v.7h-.7zM179.4 323.7h.7v.7h-.7zM186.9 321.1h.7v.7h-.7zM181.5 323.3h.7v.7h-.7zM184.6 330.9h.7v.7h-.7zM201.1 305.1h.7v.7h-.7zM185.4 317.9h.7v.7h-.7zM196.0 311.6h.7v.7h-.7zM204.5 302.9h.7v.7h-.7zM185.5 330.3h.7v.7h-.7zM200.1 314.6h.7v.7h-.7zM189.5 318.4h.7v.7h-.7zM199.8 305.9h.7v.7h-.7zM189.0 322.6h.7v.7h-.7zM188.9 318.6h.7v.7h-.7zM192.7 315.1h.7v.7h-.7zM191.7 321.5h.7v.7h-.7zM188.8 325.7h.7v.7h-.7zM179.4 330.7h.7v.7h-.7zM203.9 307.2h.7v.7h-.7zM193.6 320.0h.7v.7h-.7zM188.5 323.0h.7v.7h-.7zM183.7 328.1h.7v.7h-.7zM185.1 322.7h.7v.7h-.7zM193.0 320.4h.7v.7h-.7zM198.6 311.4h.7v.7h-.7zM190.4 313.2h.7v.7h-.7zM196.6 313.6h.7v.7h-.7zM185.0 324.0h.7v.7h-.7zM191.1 314.2h.7v.7h-.7zM192.5 313.9h.7v.7h-.7zM186.3 324.9h.7v.7h-.7zM201.4 307.1h.7v.7h-.7zM206.6 302.1h.7v.7h-.7zM189.4 322.2h.7v.7h-.7zM204.4 304.7h.7v.7h-.7zM184.7 322.4h.7v.7h-.7zM178.4 331.3h.7v.7h-.7zM203.0 306.6h.7v.7h-.7zM196.0 321.0h.7v.7h-.7zM204.2 305.7h.7v.7h-.7zM205.3 308.1h.7v.7h-.7zM199.5 309.1h.7v.7h-.7zM186.0 323.8h.7v.7h-.7zM192.2 320.1h.7v.7h-.7zM182.1 325.9h.7v.7h-.7zM198.2 312.4h.7v.7h-.7zM203.9 310.7h.7v.7h-.7zM195.9 323.1h.7v.7h-.7zM188.1 321.6h.7v.7h-.7zM209.9 303.5h.7v.7h-.7zM181.4 326.1h.7v.7h-.7zM192.8 319.7h.7v.7h-.7zM199.6 304.5h.7v.7h-.7zM197.4 312.2h.7v.7h-.7zM186.2 321.1h.7v.7h-.7zM200.6 311.4h.7v.7h-.7zM183.3 330.5h.7v.7h-.7zM211.3 308.0h.7v.7h-.7zM183.1 327.5h.7v.7h-.7zM184.3 323.5h.7v.7h-.7zM201.5 310.8h.7v.7h-.7zM199.2 312.0h.7v.7h-.7zM182.2 327.2h.7v.7h-.7zM181.3 327.5h.7v.7h-.7zM193.2 316.0h.7v.7h-.7zM188.4 318.3h.7v.7h-.7zM191.1 321.0h.7v.7h-.7zM202.4 303.0h.7v.7h-.7zM192.6 317.5h.7v.7h-.7zM199.9 310.4h.7v.7h-.7zM199.0 307.4h.7v.7h-.7z" fill="#d2553a" fill-opacity="0.6"/>
</g>
<line x1="193.4" y1="282.2" x2="193.4" y2="333.2" stroke="#8a8a8a" stroke-width="0.6"/>
<line x1="167.6" y1="317.5" x2="218.8" y2="317.5" stroke="#8a8a8a" stroke-width="0.6"/>
<line x1="167.6" y1="282.2" x2="167.6" y2="333.2" stroke="#444" stroke-width="0.6"/>
<line x1="167.6" y1="333.2" x2="218.8" y2="333.2" stroke="#444" stroke-width="0.6"/>
<text x="165.2" y="330.9" font-size="2.5" font-weight="normal" text-anchor="middle" dominant-baseline="central" fill="#333" stroke="#333" stroke-width="0.12" transform="rotate(-90 165.2 330.9)">0</text>
<line x1="166.79999999999998" y1="330.9" x2="167.6" y2="330.9" stroke="#444" stroke-width="0.4"/>
<text x="165.2" y="325.2" font-size="2.5" font-weight="normal" text-anchor="middle" dominant-baseline="central" fill="#333" stroke="#333" stroke-width="0.12" transform="rotate(-90 165.2 325.2)">10¹</text>
<line x1="166.79999999999998" y1="325.2" x2="167.6" y2="325.2" stroke="#444" stroke-width="0.4"/>
<text x="165.2" y="315.59999999999997" font-size="2.5" font-weight="normal" text-anchor="middle" dominant-baseline="central" fill="#333" stroke="#333" stroke-width="0.12" transform="rotate(-90 165.2 315.59999999999997)">10²</text>
<line x1="166.79999999999998" y1="315.59999999999997" x2="167.6" y2="315.59999999999997" stroke="#444" stroke-width="0.4"/>
<text x="165.2" y="306.0" font-size="2.5" font-weight="normal" text-anchor="middle" dominant-baseline="central" fill="#333" stroke="#333" stroke-width="0.12" transform="rotate(-90 165.2 306.0)">10³</text>
<line x1="166.79999999999998" y1="306.0" x2="167.6" y2="306.0" stroke="#444" stroke-width="0.4"/>
<text x="165.2" y="296.4" font-size="2.5" font-weight="normal" text-anchor="middle" dominant-baseline="central" fill="#333" stroke="#333" stroke-width="0.12" transform="rotate(-90 165.2 296.4)">10⁴</text>
<line x1="166.79999999999998" y1="296.4" x2="167.6" y2="296.4" stroke="#444" stroke-width="0.4"/>
<text x="165.2" y="286.8" font-size="2.5" font-weight="normal" text-anchor="middle" dominant-baseline="central" fill="#333" stroke="#333" stroke-width="0.12" transform="rotate(-90 165.2 286.8)">10⁵</text>
<line x1="166.79999999999998" y1="286.8" x2="167.6" y2="286.8" stroke="#444" stroke-width="0.4"/>
<text x="171.79999999999998" y="336.5" font-size="2.5" font-weight="normal" text-anchor="middle" dominant-baseline="central" fill="#333" stroke="#333" stroke-width="0.12">0</text>
<line x1="171.79999999999998" y1="333.2" x2="171.79999999999998" y2="334.0" stroke="#444" stroke-width="0.4"/>
<text x="178.29999999999998" y="336.5" font-size="2.5" font-weight="normal" text-anchor="middle" dominant-baseline="central" fill="#333" stroke="#333" stroke-width="0.12">10¹</text>
<line x1="178.29999999999998" y1="333.2" x2="178.29999999999998" y2="334.0" stroke="#444" stroke-width="0.4"/>
<text x="187.9" y="336.5" font-size="2.5" font-weight="normal" text-anchor="middle" dominant-baseline="central" fill="#333" stroke="#333" stroke-width="0.12">10²</text>
<line x1="187.9" y1="333.2" x2="187.9" y2="334.0" stroke="#444" stroke-width="0.4"/>
<text x="197.5" y="336.5" font-size="2.5" font-weight="normal" text-anchor="middle" dominant-baseline="central" fill="#333" stroke="#333" stroke-width="0.12">10³</text>
<line x1="197.5" y1="333.2" x2="197.5" y2="334.0" stroke="#444" stroke-width="0.4"/>
<text x="207.1" y="336.5" font-size="2.5" font-weight="normal" text-anchor="middle" dominant-baseline="central" fill="#333" stroke="#333" stroke-width="0.12">10⁴</text>
<line x1="207.1" y1="333.2" x2="207.1" y2="334.0" stroke="#444" stroke-width="0.4"/>
<text x="216.7" y="336.5" font-size="2.5" font-weight="normal" text-anchor="middle" dominant-baseline="central" fill="#333" stroke="#333" stroke-width="0.12">10⁵</text>
<line x1="216.7" y1="333.2" x2="216.7" y2="334.0" stroke="#444" stroke-width="0.4"/>
<text x="169.1" y="284.59999999999997" font-size="2.83" font-weight="normal" text-anchor="start" dominant-baseline="central" fill="#444" stroke="#444" stroke-width="0.12" textLength="7.07" lengthAdjust="spacingAndGlyphs">Q1-UL</text>
<text x="217.3" y="284.59999999999997" font-size="2.83" font-weight="normal" text-anchor="end" dominant-baseline="central" fill="#444" stroke="#444" stroke-width="0.12" textLength="7.47" lengthAdjust="spacingAndGlyphs">Q1-UR</text>
<text x="169.1" y="330.8" font-size="2.83" font-weight="normal" text-anchor="start" dominant-baseline="central" fill="#444" stroke="#444" stroke-width="0.12" textLength="6.67" lengthAdjust="spacingAndGlyphs">Q1-LL</text>
<text x="217.3" y="330.8" font-size="2.83" font-weight="normal" text-anchor="end" dominant-baseline="central" fill="#444" stroke="#444" stroke-width="0.12" textLength="7.07" lengthAdjust="spacingAndGlyphs">Q1-LR</text>
<rect x="227.0" y="282.2" width="51.2" height="51.0" fill="#ffffff" stroke="#b8b8b8" stroke-width="0.5"/>
<clipPath id="fc13"><rect x="227.0" y="282.2" width="51.2" height="50.7"/></clipPath><g clip-path="url(#fc13)">
<ellipse cx="243.05" cy="326.45" rx="7.48" ry="4.40" transform="rotate(-31.9 243.05 326.45)" fill="#cd4527" fill-opacity="0.95"/>
<ellipse cx="261.15" cy="309.00" rx="4.06" ry="1.22" transform="rotate(-38.4 261.15 309.00)" fill="#cd4527" fill-opacity="0.60"/>
<path d="M241.7 323.0h.7v.7h-.7zM247.8 326.6h.7v.7h-.7zM242.1 324.8h.7v.7h-.7zM236.8 332.0h.7v.7h-.7zM250.9 322.2h.7v.7h-.7zM242.2 329.9h.7v.7h-.7zM239.4 324.1h.7v.7h-.7zM243.5 328.3h.7v.7h-.7zM249.0 322.5h.7v.7h-.7zM238.7 323.7h.7v.7h-.7zM244.5 324.4h.7v.7h-.7zM250.1 327.8h.7v.7h-.7zM247.9 324.0h.7v.7h-.7zM240.3 326.3h.7v.7h-.7zM247.8 325.2h.7v.7h-.7zM238.4 328.0h.7v.7h-.7zM241.6 326.7h.7v.7h-.7zM243.5 328.5h.7v.7h-.7zM250.6 329.8h.7v.7h-.7zM244.4 322.8h.7v.7h-.7zM242.7 329.8h.7v.7h-.7zM246.7 318.6h.7v.7h-.7zM249.2 320.4h.7v.7h-.7zM241.5 325.7h.7v.7h-.7zM244.8 324.5h.7v.7h-.7zM241.2 324.1h.7v.7h-.7zM249.0 324.0h.7v.7h-.7zM246.3 332.3h.7v.7h-.7zM247.7 328.6h.7v.7h-.7zM242.2 327.5h.7v.7h-.7zM243.8 329.1h.7v.7h-.7zM241.2 321.2h.7v.7h-.7zM244.8 324.5h.7v.7h-.7zM245.5 328.4h.7v.7h-.7zM243.0 328.8h.7v.7h-.7zM242.9 326.2h.7v.7h-.7zM240.9 327.3h.7v.7h-.7zM243.1 329.3h.7v.7h-.7zM240.9 323.8h.7v.7h-.7zM245.9 324.5h.7v.7h-.7zM247.3 328.8h.7v.7h-.7zM241.1 321.6h.7v.7h-.7zM236.8 330.0h.7v.7h-.7zM239.6 321.8h.7v.7h-.7zM233.9 330.1h.7v.7h-.7zM243.0 330.6h.7v.7h-.7zM237.8 328.0h.7v.7h-.7zM244.4 319.5h.7v.7h-.7zM247.9 328.8h.7v.7h-.7zM238.9 328.4h.7v.7h-.7zM251.7 326.5h.7v.7h-.7zM249.0 322.4h.7v.7h-.7zM241.3 326.9h.7v.7h-.7zM242.9 329.6h.7v.7h-.7zM247.1 325.8h.7v.7h-.7zM241.7 330.2h.7v.7h-.7zM245.3 325.9h.7v.7h-.7zM247.0 322.5h.7v.7h-.7zM245.3 329.1h.7v.7h-.7zM241.7 330.6h.7v.7h-.7zM248.3 328.7h.7v.7h-.7zM247.0 321.8h.7v.7h-.7zM249.0 321.0h.7v.7h-.7zM238.1 328.5h.7v.7h-.7zM240.2 324.9h.7v.7h-.7zM247.6 325.5h.7v.7h-.7zM243.1 321.3h.7v.7h-.7zM250.7 323.4h.7v.7h-.7zM248.1 324.7h.7v.7h-.7zM245.7 327.6h.7v.7h-.7zM246.0 329.8h.7v.7h-.7zM237.7 322.2h.7v.7h-.7zM241.7 327.2h.7v.7h-.7zM244.8 325.7h.7v.7h-.7zM245.5 326.6h.7v.7h-.7zM243.4 328.3h.7v.7h-.7zM243.9 323.1h.7v.7h-.7zM236.8 331.2h.7v.7h-.7zM246.8 328.2h.7v.7h-.7zM247.8 324.6h.7v.7h-.7zM246.5 322.2h.7v.7h-.7zM243.6 331.2h.7v.7h-.7zM238.6 329.2h.7v.7h-.7zM237.1 325.7h.7v.7h-.7zM248.2 316.7h.7v.7h-.7zM249.1 321.1h.7v.7h-.7zM237.5 323.8h.7v.7h-.7zM245.0 327.6h.7v.7h-.7zM243.8 322.6h.7v.7h-.7zM249.7 323.1h.7v.7h-.7zM246.1 326.8h.7v.7h-.7zM244.7 324.3h.7v.7h-.7zM243.3 323.7h.7v.7h-.7zM242.5 323.3h.7v.7h-.7zM236.7 328.2h.7v.7h-.7zM241.4 325.0h.7v.7h-.7zM241.1 325.7h.7v.7h-.7zM246.2 331.0h.7v.7h-.7zM246.7 327.3h.7v.7h-.7zM248.3 326.4h.7v.7h-.7zM246.1 327.7h.7v.7h-.7zM246.9 323.5h.7v.7h-.7zM242.1 327.1h.7v.7h-.7zM243.7 327.8h.7v.7h-.7zM240.8 326.4h.7v.7h-.7zM244.8 327.2h.7v.7h-.7zM240.3 322.7h.7v.7h-.7zM243.6 329.3h.7v.7h-.7zM244.4 330.3h.7v.7h-.7zM240.8 327.0h.7v.7h-.7zM248.0 327.7h.7v.7h-.7zM244.5 331.1h.7v.7h-.7zM244.5 327.1h.7v.7h-.7zM251.3 324.5h.7v.7h-.7zM242.2 326.8h.7v.7h-.7zM241.6 331.5h.7v.7h-.7zM247.6 330.6h.7v.7h-.7zM247.8 323.7h.7v.7h-.7zM240.4 327.0h.7v.7h-.7zM247.7 323.2h.7v.7h-.7zM249.5 327.1h.7v.7h-.7zM249.2 323.6h.7v.7h-.7zM243.7 321.4h.7v.7h-.7zM244.5 325.7h.7v.7h-.7zM243.7 319.6h.7v.7h-.7zM243.0 324.8h.7v.7h-.7zM243.3 325.9h.7v.7h-.7zM242.9 328.8h.7v.7h-.7zM246.1 328.9h.7v.7h-.7zM253.8 322.6h.7v.7h-.7zM247.0 329.6h.7v.7h-.7zM257.8 310.9h.7v.7h-.7zM260.3 307.4h.7v.7h-.7zM259.7 310.5h.7v.7h-.7zM261.2 306.6h.7v.7h-.7zM253.8 316.0h.7v.7h-.7zM257.1 312.9h.7v.7h-.7zM263.2 308.8h.7v.7h-.7zM259.2 309.5h.7v.7h-.7zM269.4 302.3h.7v.7h-.7zM257.4 309.7h.7v.7h-.7zM262.0 311.4h.7v.7h-.7zM262.3 306.5h.7v.7h-.7zM257.0 311.2h.7v.7h-.7zM261.4 309.3h.7v.7h-.7zM263.5 309.1h.7v.7h-.7zM256.3 310.1h.7v.7h-.7zM261.5 309.8h.7v.7h-.7zM260.0 310.4h.7v.7h-.7zM262.0 310.4h.7v.7h-.7zM260.3 308.9h.7v.7h-.7zM263.4 309.0h.7v.7h-.7zM259.4 310.2h.7v.7h-.7zM258.3 309.3h.7v.7h-.7zM267.2 303.2h.7v.7h-.7zM260.1 309.3h.7v.7h-.7zM258.9 310.6h.7v.7h-.7zM261.3 309.6h.7v.7h-.7zM258.5 308.6h.7v.7h-.7zM261.5 310.0h.7v.7h-.7zM264.6 306.2h.7v.7h-.7zM259.9 308.7h.7v.7h-.7zM264.7 305.2h.7v.7h-.7zM259.8 310.0h.7v.7h-.7zM260.7 309.5h.7v.7h-.7zM263.8 309.9h.7v.7h-.7zM262.9 308.4h.7v.7h-.7zM259.2 314.5h.7v.7h-.7zM263.4 308.8h.7v.7h-.7zM260.3 309.6h.7v.7h-.7zM260.1 309.6h.7v.7h-.7zM260.8 310.7h.7v.7h-.7zM264.1 306.7h.7v.7h-.7zM261.1 310.5h.7v.7h-.7zM261.1 310.0h.7v.7h-.7zM260.7 311.9h.7v.7h-.7zM260.5 310.6h.7v.7h-.7zM266.2 305.8h.7v.7h-.7zM261.2 310.3h.7v.7h-.7zM263.4 303.3h.7v.7h-.7zM260.1 309.6h.7v.7h-.7zM262.3 305.5h.7v.7h-.7zM263.5 307.3h.7v.7h-.7zM261.9 306.7h.7v.7h-.7zM266.9 309.1h.7v.7h-.7zM262.1 309.4h.7v.7h-.7zM256.0 308.1h.7v.7h-.7zM260.8 308.9h.7v.7h-.7zM263.1 307.6h.7v.7h-.7zM255.7 309.4h.7v.7h-.7zM265.0 307.7h.7v.7h-.7zM260.7 309.0h.7v.7h-.7zM262.7 306.9h.7v.7h-.7zM258.8 313.1h.7v.7h-.7zM257.1 311.5h.7v.7h-.7zM265.1 306.7h.7v.7h-.7zM265.5 308.3h.7v.7h-.7zM260.5 307.0h.7v.7h-.7zM254.7 310.2h.7v.7h-.7zM262.0 305.8h.7v.7h-.7zM261.0 309.4h.7v.7h-.7zM262.1 308.2h.7v.7h-.7zM265.0 306.6h.7v.7h-.7zM264.1 306.6h.7v.7h-.7zM261.5 309.1h.7v.7h-.7zM263.2 308.8h.7v.7h-.7zM260.5 310.7h.7v.7h-.7zM266.4 300.1h.7v.7h-.7zM262.9 307.5h.7v.7h-.7zM260.1 308.8h.7v.7h-.7zM258.3 311.8h.7v.7h-.7zM260.6 312.3h.7v.7h-.7zM263.6 310.2h.7v.7h-.7zM260.3 307.2h.7v.7h-.7zM262.6 308.3h.7v.7h-.7zM261.5 304.5h.7v.7h-.7zM262.7 310.4h.7v.7h-.7zM259.7 306.6h.7v.7h-.7zM262.8 308.6h.7v.7h-.7zM265.5 306.6h.7v.7h-.7zM259.5 312.4h.7v.7h-.7zM264.2 308.8h.7v.7h-.7zM261.7 310.5h.7v.7h-.7zM254.4 312.0h.7v.7h-.7zM264.3 309.4h.7v.7h-.7zM262.9 307.9h.7v.7h-.7zM260.4 308.9h.7v.7h-.7zM262.7 304.6h.7v.7h-.7zM263.3 310.0h.7v.7h-.7z" fill="#cd4527" fill-opacity="0.85"/>
<path d="M259.4 313.1h.7v.7h-.7zM249.8 320.0h.7v.7h-.7zM262.3 308.2h.7v.7h-.7zM261.9 306.7h.7v.7h-.7zM259.3 313.1h.7v.7h-.7zM251.5 312.7h.7v.7h-.7zM247.7 321.9h.7v.7h-.7zM253.5 318.2h.7v.7h-.7zM239.0 328.9h.7v.7h-.7zM263.9 305.2h.7v.7h-.7zM240.9 330.6h.7v.7h-.7zM266.2 303.8h.7v.7h-.7zM235.2 330.4h.7v.7h-.7zM256.3 312.1h.7v.7h-.7zM244.4 327.4h.7v.7h-.7zM252.4 320.1h.7v.7h-.7zM242.4 329.7h.7v.7h-.7zM244.9 325.7h.7v.7h-.7zM242.0 328.3h.7v.7h-.7zM255.8 324.5h.7v.7h-.7zM238.2 330.6h.7v.7h-.7zM243.1 323.9h.7v.7h-.7zM254.4 310.3h.7v.7h-.7zM239.0 331.8h.7v.7h-.7zM250.5 318.8h.7v.7h-.7zM242.2 328.4h.7v.7h-.7zM259.8 312.8h.7v.7h-.7zM241.0 324.2h.7v.7h-.7zM246.5 321.9h.7v.7h-.7zM248.3 323.7h.7v.7h-.7zM260.2 306.5h.7v.7h-.7zM251.6 320.4h.7v.7h-.7zM251.2 320.4h.7v.7h-.7zM237.4 331.8h.7v.7h-.7zM245.9 317.2h.7v.7h-.7zM265.1 305.6h.7v.7h-.7zM246.9 322.4h.7v.7h-.7zM253.0 322.9h.7v.7h-.7zM260.7 310.1h.7v.7h-.7zM260.8 305.2h.7v.7h-.7zM251.5 316.5h.7v.7h-.7zM267.2 304.1h.7v.7h-.7zM248.2 319.0h.7v.7h-.7zM260.3 309.3h.7v.7h-.7zM244.8 319.5h.7v.7h-.7zM251.8 313.8h.7v.7h-.7zM233.8 332.1h.7v.7h-.7zM259.5 309.6h.7v.7h-.7zM268.0 305.1h.7v.7h-.7zM261.9 310.4h.7v.7h-.7zM238.5 324.5h.7v.7h-.7zM252.2 319.9h.7v.7h-.7zM247.9 332.1h.7v.7h-.7zM253.0 312.6h.7v.7h-.7zM251.6 323.7h.7v.7h-.7zM261.5 307.9h.7v.7h-.7zM241.3 330.0h.7v.7h-.7zM265.0 302.1h.7v.7h-.7zM237.6 326.2h.7v.7h-.7zM251.3 316.3h.7v.7h-.7zM242.0 329.8h.7v.7h-.7zM253.2 317.8h.7v.7h-.7zM243.9 319.2h.7v.7h-.7zM243.6 327.7h.7v.7h-.7zM242.1 331.8h.7v.7h-.7zM245.2 329.5h.7v.7h-.7zM248.1 316.7h.7v.7h-.7zM265.2 307.7h.7v.7h-.7zM240.8 328.0h.7v.7h-.7zM241.0 329.7h.7v.7h-.7zM242.5 332.2h.7v.7h-.7zM257.1 309.7h.7v.7h-.7zM258.4 310.2h.7v.7h-.7zM251.8 321.7h.7v.7h-.7zM266.7 306.6h.7v.7h-.7zM253.3 313.6h.7v.7h-.7zM243.1 320.7h.7v.7h-.7zM241.6 328.2h.7v.7h-.7zM261.2 308.5h.7v.7h-.7zM239.8 321.7h.7v.7h-.7zM252.2 313.1h.7v.7h-.7zM247.5 324.4h.7v.7h-.7zM235.9 332.2h.7v.7h-.7zM242.7 326.4h.7v.7h-.7zM262.8 305.1h.7v.7h-.7zM251.3 315.0h.7v.7h-.7zM255.4 310.7h.7v.7h-.7zM259.3 308.8h.7v.7h-.7zM262.7 311.4h.7v.7h-.7zM238.9 330.6h.7v.7h-.7zM259.9 310.5h.7v.7h-.7zM252.8 312.0h.7v.7h-.7zM253.9 315.0h.7v.7h-.7zM250.6 317.8h.7v.7h-.7zM254.9 315.4h.7v.7h-.7zM257.8 305.8h.7v.7h-.7zM263.3 302.0h.7v.7h-.7zM248.1 319.7h.7v.7h-.7zM248.4 319.1h.7v.7h-.7zM246.1 319.2h.7v.7h-.7zM263.5 304.6h.7v.7h-.7zM246.0 324.9h.7v.7h-.7zM239.0 329.3h.7v.7h-.7zM251.4 315.7h.7v.7h-.7zM261.0 309.6h.7v.7h-.7zM247.6 326.8h.7v.7h-.7zM242.5 329.9h.7v.7h-.7zM260.5 311.1h.7v.7h-.7zM248.0 324.3h.7v.7h-.7z" fill="#d2553a" fill-opacity="0.6"/>
</g>
<line x1="252.8" y1="282.2" x2="252.8" y2="333.2" stroke="#8a8a8a" stroke-width="0.6"/>
<line x1="227.0" y1="317.5" x2="278.2" y2="317.5" stroke="#8a8a8a" stroke-width="0.6"/>
<line x1="227.0" y1="282.2" x2="227.0" y2="333.2" stroke="#444" stroke-width="0.6"/>
<line x1="227.0" y1="333.2" x2="278.2" y2="333.2" stroke="#444" stroke-width="0.6"/>
<text x="224.6" y="330.9" font-size="2.5" font-weight="normal" text-anchor="middle" dominant-baseline="central" fill="#333" stroke="#333" stroke-width="0.12" transform="rotate(-90 224.6 330.9)">0</text>
<line x1="226.2" y1="330.9" x2="227.0" y2="330.9" stroke="#444" stroke-width="0.4"/>
<text x="224.6" y="325.2" font-size="2.5" font-weight="normal" text-anchor="middle" dominant-baseline="central" fill="#333" stroke="#333" stroke-width="0.12" transform="rotate(-90 224.6 325.2)">10¹</text>
<line x1="226.2" y1="325.2" x2="227.0" y2="325.2" stroke="#444" stroke-width="0.4"/>
<text x="224.6" y="315.59999999999997" font-size="2.5" font-weight="normal" text-anchor="middle" dominant-baseline="central" fill="#333" stroke="#333" stroke-width="0.12" transform="rotate(-90 224.6 315.59999999999997)">10²</text>
<line x1="226.2" y1="315.59999999999997" x2="227.0" y2="315.59999999999997" stroke="#444" stroke-width="0.4"/>
<text x="224.6" y="306.0" font-size="2.5" font-weight="normal" text-anchor="middle" dominant-baseline="central" fill="#333" stroke="#333" stroke-width="0.12" transform="rotate(-90 224.6 306.0)">10³</text>
<line x1="226.2" y1="306.0" x2="227.0" y2="306.0" stroke="#444" stroke-width="0.4"/>
<text x="224.6" y="296.4" font-size="2.5" font-weight="normal" text-anchor="middle" dominant-baseline="central" fill="#333" stroke="#333" stroke-width="0.12" transform="rotate(-90 224.6 296.4)">10⁴</text>
<line x1="226.2" y1="296.4" x2="227.0" y2="296.4" stroke="#444" stroke-width="0.4"/>
<text x="224.6" y="286.8" font-size="2.5" font-weight="normal" text-anchor="middle" dominant-baseline="central" fill="#333" stroke="#333" stroke-width="0.12" transform="rotate(-90 224.6 286.8)">10⁵</text>
<line x1="226.2" y1="286.8" x2="227.0" y2="286.8" stroke="#444" stroke-width="0.4"/>
<text x="231.2" y="336.5" font-size="2.5" font-weight="normal" text-anchor="middle" dominant-baseline="central" fill="#333" stroke="#333" stroke-width="0.12">0</text>
<line x1="231.2" y1="333.2" x2="231.2" y2="334.0" stroke="#444" stroke-width="0.4"/>
<text x="237.7" y="336.5" font-size="2.5" font-weight="normal" text-anchor="middle" dominant-baseline="central" fill="#333" stroke="#333" stroke-width="0.12">10¹</text>
<line x1="237.7" y1="333.2" x2="237.7" y2="334.0" stroke="#444" stroke-width="0.4"/>
<text x="247.3" y="336.5" font-size="2.5" font-weight="normal" text-anchor="middle" dominant-baseline="central" fill="#333" stroke="#333" stroke-width="0.12">10²</text>
<line x1="247.3" y1="333.2" x2="247.3" y2="334.0" stroke="#444" stroke-width="0.4"/>
<text x="256.9" y="336.5" font-size="2.5" font-weight="normal" text-anchor="middle" dominant-baseline="central" fill="#333" stroke="#333" stroke-width="0.12">10³</text>
<line x1="256.9" y1="333.2" x2="256.9" y2="334.0" stroke="#444" stroke-width="0.4"/>
<text x="266.5" y="336.5" font-size="2.5" font-weight="normal" text-anchor="middle" dominant-baseline="central" fill="#333" stroke="#333" stroke-width="0.12">10⁴</text>
<line x1="266.5" y1="333.2" x2="266.5" y2="334.0" stroke="#444" stroke-width="0.4"/>
<text x="276.1" y="336.5" font-size="2.5" font-weight="normal" text-anchor="middle" dominant-baseline="central" fill="#333" stroke="#333" stroke-width="0.12">10⁵</text>
<line x1="276.1" y1="333.2" x2="276.1" y2="334.0" stroke="#444" stroke-width="0.4"/>
<text x="228.5" y="284.59999999999997" font-size="2.83" font-weight="normal" text-anchor="start" dominant-baseline="central" fill="#444" stroke="#444" stroke-width="0.12" textLength="7.07" lengthAdjust="spacingAndGlyphs">Q1-UL</text>
<text x="276.7" y="284.59999999999997" font-size="2.83" font-weight="normal" text-anchor="end" dominant-baseline="central" fill="#444" stroke="#444" stroke-width="0.12" textLength="7.47" lengthAdjust="spacingAndGlyphs">Q1-UR</text>
<text x="228.5" y="330.8" font-size="2.83" font-weight="normal" text-anchor="start" dominant-baseline="central" fill="#444" stroke="#444" stroke-width="0.12" textLength="6.67" lengthAdjust="spacingAndGlyphs">Q1-LL</text>
<text x="276.7" y="330.8" font-size="2.83" font-weight="normal" text-anchor="end" dominant-baseline="central" fill="#444" stroke="#444" stroke-width="0.12" textLength="7.07" lengthAdjust="spacingAndGlyphs">Q1-LR</text>
<text x="66.8" y="217.6" font-size="6.96" font-weight="bold" text-anchor="middle" dominant-baseline="central" fill="#111" stroke="#111" stroke-width="0.18" textLength="8.8" lengthAdjust="spacingAndGlyphs">NC</text>
<text x="129.8" y="217.6" font-size="6.96" font-weight="bold" text-anchor="middle" dominant-baseline="central" fill="#111" stroke="#111" stroke-width="0.18" textLength="26" lengthAdjust="spacingAndGlyphs">miR-1184</text>
<text x="192.2" y="217.6" font-size="6.96" font-weight="bold" text-anchor="middle" dominant-baseline="central" fill="#111" stroke="#111" stroke-width="0.18" textLength="48.5" lengthAdjust="spacingAndGlyphs">miR-1184+vector</text>
<text x="251.4" y="217.6" font-size="6.96" font-weight="bold" text-anchor="middle" dominant-baseline="central" fill="#111" stroke="#111" stroke-width="0.18" textLength="49" lengthAdjust="spacingAndGlyphs">miR-1184+RAP2B</text>
<text x="41.2" y="248" font-size="6.61" font-weight="bold" text-anchor="middle" dominant-baseline="central" fill="#111" stroke="#111" stroke-width="0.18" transform="rotate(-90 41.2 248)" textLength="12.46" lengthAdjust="spacingAndGlyphs">5637</text>
<text x="41.8" y="308.3" font-size="6.61" font-weight="bold" text-anchor="middle" dominant-baseline="central" fill="#111" stroke="#111" stroke-width="0.18" transform="rotate(-90 41.8 308.3)" textLength="9.65" lengthAdjust="spacingAndGlyphs">T24</text>
<line x1="34.8" y1="341" x2="34.8" y2="318" stroke="#222" stroke-width="0.9"/>
<path d="M32.8 319 L34.8 314.5 L36.8 319 Z" fill="#222"/>
<line x1="34.8" y1="341" x2="79" y2="341" stroke="#222" stroke-width="0.9"/>
<path d="M78.5 339 L83 341 L78.5 343 Z" fill="#222"/>
<text x="30.5" y="331.3" font-size="6.14" font-weight="bold" text-anchor="middle" dominant-baseline="central" fill="#111" stroke="#111" stroke-width="0.18" transform="rotate(-90 30.5 331.3)" textLength="4.91" lengthAdjust="spacingAndGlyphs">PI</text>
<text x="26.5" y="346.8" font-size="9.2" font-weight="bold" text-anchor="start" dominant-baseline="central" fill="#111" stroke="#111" stroke-width="0.18">g</text>
<text x="34.2" y="346.3" font-size="6.61" font-weight="bold" text-anchor="start" dominant-baseline="central" fill="#111" stroke="#111" stroke-width="0.18" textLength="43.5" lengthAdjust="spacingAndGlyphs">Annexin V-FITC</text>
<line x1="306.5" y1="253.5" x2="306.5" y2="299.0" stroke="#8a8a8a" stroke-width="0.9"/>
<line x1="306.5" y1="299.0" x2="366.6" y2="299.0" stroke="#8a8a8a" stroke-width="0.9"/>
<line x1="305.3" y1="299.0" x2="306.5" y2="299.0" stroke="#777" stroke-width="0.6"/>
<text x="304.7" y="299.0" font-size="4.65" font-weight="bold" text-anchor="end" dominant-baseline="central" fill="#111" stroke="#111" stroke-width="0.18">0</text>
<line x1="305.3" y1="284.3" x2="306.5" y2="284.3" stroke="#777" stroke-width="0.6"/>
<text x="304.7" y="284.3" font-size="4.96" font-weight="bold" text-anchor="end" dominant-baseline="central" fill="#111" stroke="#111" stroke-width="0.18" textLength="4.67" lengthAdjust="spacingAndGlyphs">10</text>
<line x1="305.3" y1="269.6" x2="306.5" y2="269.6" stroke="#777" stroke-width="0.6"/>
<text x="304.7" y="269.6" font-size="4.96" font-weight="bold" text-anchor="end" dominant-baseline="central" fill="#111" stroke="#111" stroke-width="0.18" textLength="4.67" lengthAdjust="spacingAndGlyphs">20</text>
<line x1="305.3" y1="254.9" x2="306.5" y2="254.9" stroke="#777" stroke-width="0.6"/>
<text x="304.7" y="254.9" font-size="4.96" font-weight="bold" text-anchor="end" dominant-baseline="central" fill="#111" stroke="#111" stroke-width="0.18" textLength="4.67" lengthAdjust="spacingAndGlyphs">30</text>
<rect x="308.2" y="291.944" width="5.5" height="7.055999999999983" fill="#ffffff" stroke="#2a2a2a" stroke-width="0.55"/>
<line x1="310.95" y1="290.144" x2="310.95" y2="291.944" stroke="#333" stroke-width="0.6"/>
<line x1="309.75" y1="290.144" x2="312.15" y2="290.144" stroke="#333" stroke-width="0.6"/>
<rect x="315.8" y="269.306" width="5.199999999999989" height="29.694000000000017" fill="#d9688a" stroke="#2a2a2a" stroke-width="0.55"/>
<line x1="318.4" y1="267.506" x2="318.4" y2="269.306" stroke="#333" stroke-width="0.6"/>
<line x1="317.2" y1="267.506" x2="319.59999999999997" y2="267.506" stroke="#333" stroke-width="0.6"/>
<rect x="323" y="269.306" width="4.899999999999977" height="29.694000000000017" fill="#5f9be0" stroke="#2a2a2a" stroke-width="0.55"/>
<line x1="325.45" y1="267.506" x2="325.45" y2="269.306" stroke="#333" stroke-width="0.6"/>
<line x1="324.25" y1="267.506" x2="326.65" y2="267.506" stroke="#333" stroke-width="0.6"/>
<rect x="329.8" y="284.00600000000003" width="5.0" height="14.993999999999971" fill="#e9a144" stroke="#2a2a2a" stroke-width="0.55"/>
<line x1="332.3" y1="282.206" x2="332.3" y2="284.00600000000003" stroke="#333" stroke-width="0.6"/>
<line x1="331.1" y1="282.206" x2="333.5" y2="282.206" stroke="#333" stroke-width="0.6"/>
<rect x="340.5" y="293.855" width="5.100000000000023" height="5.144999999999982" fill="#ffffff" stroke="#2a2a2a" stroke-width="0.55"/>
<line x1="343.05" y1="292.055" x2="343.05" y2="293.855" stroke="#333" stroke-width="0.6"/>
<line x1="341.85" y1="292.055" x2="344.25" y2="292.055" stroke="#333" stroke-width="0.6"/>
<rect x="347.3" y="274.451" width="5.099999999999966" height="24.548999999999978" fill="#d9688a" stroke="#2a2a2a" stroke-width="0.55"/>
<line x1="349.85" y1="272.651" x2="349.85" y2="274.451" stroke="#333" stroke-width="0.6"/>
<line x1="348.65000000000003" y1="272.651" x2="351.05" y2="272.651" stroke="#333" stroke-width="0.6"/>
<rect x="354.5" y="272.834" width="4.899999999999977" height="26.165999999999997" fill="#5f9be0" stroke="#2a2a2a" stroke-width="0.55"/>
<line x1="356.95" y1="271.034" x2="356.95" y2="272.834" stroke="#333" stroke-width="0.6"/>
<line x1="355.75" y1="271.034" x2="358.15" y2="271.034" stroke="#333" stroke-width="0.6"/>
<rect x="361" y="287.975" width="4.800000000000011" height="11.024999999999977" fill="#e9a144" stroke="#2a2a2a" stroke-width="0.55"/>
<line x1="363.4" y1="286.175" x2="363.4" y2="287.975" stroke="#333" stroke-width="0.6"/>
<line x1="362.2" y1="286.175" x2="364.59999999999997" y2="286.175" stroke="#333" stroke-width="0.6"/>
<text x="319.8" y="303.5" font-size="6.14" font-weight="bold" text-anchor="middle" dominant-baseline="central" fill="#111" stroke="#111" stroke-width="0.18" textLength="11.57" lengthAdjust="spacingAndGlyphs">5637</text>
<text x="351.7" y="303.5" font-size="6.14" font-weight="bold" text-anchor="middle" dominant-baseline="central" fill="#111" stroke="#111" stroke-width="0.18" textLength="8.96" lengthAdjust="spacingAndGlyphs">T24</text>
<line x1="310.6" y1="262" x2="318.7" y2="262" stroke="#555" stroke-width="0.7"/>
<line x1="310.6" y1="260.5" x2="310.6" y2="263.5" stroke="#555" stroke-width="0.7"/>
<line x1="318.7" y1="260.5" x2="318.7" y2="263.5" stroke="#555" stroke-width="0.7"/>
<text x="314.65" y="259.8" font-size="4" font-weight="bold" text-anchor="middle" dominant-baseline="central" fill="#111" stroke="#111" stroke-width="0.18">*</text>
<line x1="325.2" y1="263.9" x2="332.7" y2="263.9" stroke="#555" stroke-width="0.7"/>
<line x1="325.2" y1="262.4" x2="325.2" y2="265.4" stroke="#555" stroke-width="0.7"/>
<line x1="332.7" y1="262.4" x2="332.7" y2="265.4" stroke="#555" stroke-width="0.7"/>
<text x="328.95" y="261.7" font-size="4" font-weight="bold" text-anchor="middle" dominant-baseline="central" fill="#111" stroke="#111" stroke-width="0.18">*</text>
<line x1="342" y1="269.2" x2="350.5" y2="269.2" stroke="#555" stroke-width="0.7"/>
<line x1="342" y1="267.7" x2="342" y2="270.7" stroke="#555" stroke-width="0.7"/>
<line x1="350.5" y1="267.7" x2="350.5" y2="270.7" stroke="#555" stroke-width="0.7"/>
<text x="346.25" y="267.0" font-size="4" font-weight="bold" text-anchor="middle" dominant-baseline="central" fill="#111" stroke="#111" stroke-width="0.18">*</text>
<line x1="357" y1="266" x2="364.5" y2="266" stroke="#555" stroke-width="0.7"/>
<line x1="357" y1="264.5" x2="357" y2="267.5" stroke="#555" stroke-width="0.7"/>
<line x1="364.5" y1="264.5" x2="364.5" y2="267.5" stroke="#555" stroke-width="0.7"/>
<text x="360.75" y="263.8" font-size="4" font-weight="bold" text-anchor="middle" dominant-baseline="central" fill="#111" stroke="#111" stroke-width="0.18">*</text>
<text x="296.5" y="275.65" font-size="5.9" font-weight="bold" text-anchor="middle" dominant-baseline="central" fill="#111" stroke="#111" stroke-width="0.18" transform="rotate(-90 296.5 275.65)" textLength="48.30" lengthAdjust="spacingAndGlyphs">Apoptotic cells (%)</text>
<rect x="306.95000000000005" y="307.9" width="4.5" height="4.0" fill="#ffffff" stroke="#222" stroke-width="0.75"/>
<text x="313.8" y="309.9" font-size="5.72" font-weight="bold" text-anchor="start" dominant-baseline="central" fill="#111" stroke="#111" stroke-width="0.18" textLength="7.01" lengthAdjust="spacingAndGlyphs">NC</text>
<rect x="306.95000000000005" y="314.5" width="4.5" height="4.0" fill="#d9688a" stroke="#222" stroke-width="0.75"/>
<text x="313.8" y="316.5" font-size="5.72" font-weight="bold" text-anchor="start" dominant-baseline="central" fill="#111" stroke="#111" stroke-width="0.18" textLength="21.30" lengthAdjust="spacingAndGlyphs">miR-1184</text>
<rect x="306.95000000000005" y="320.3" width="4.5" height="4.0" fill="#5f9be0" stroke="#222" stroke-width="0.75"/>
<text x="313.8" y="322.3" font-size="5.72" font-weight="bold" text-anchor="start" dominant-baseline="central" fill="#111" stroke="#111" stroke-width="0.18" textLength="38.69" lengthAdjust="spacingAndGlyphs">miR-1184+vector</text>
<rect x="306.95000000000005" y="326.9" width="4.5" height="4.0" fill="#e9a144" stroke="#222" stroke-width="0.75"/>
<text x="313.8" y="328.9" font-size="5.72" font-weight="bold" text-anchor="start" dominant-baseline="central" fill="#111" stroke="#111" stroke-width="0.18" textLength="40.57" lengthAdjust="spacingAndGlyphs">miR-1184+RAP2B</text>
<line x1="408.2" y1="253.0" x2="408.2" y2="299.5" stroke="#8a8a8a" stroke-width="0.9"/>
<line x1="408.2" y1="299.5" x2="470.3" y2="299.5" stroke="#8a8a8a" stroke-width="0.9"/>
<line x1="407.0" y1="299.5" x2="408.2" y2="299.5" stroke="#777" stroke-width="0.6"/>
<text x="406.4" y="299.5" font-size="4.65" font-weight="bold" text-anchor="end" dominant-baseline="central" fill="#111" stroke="#111" stroke-width="0.18">0</text>
<line x1="407.0" y1="284.4" x2="408.2" y2="284.4" stroke="#777" stroke-width="0.6"/>
<text x="406.4" y="284.4" font-size="4.65" font-weight="bold" text-anchor="end" dominant-baseline="central" fill="#111" stroke="#111" stroke-width="0.18">1</text>
<line x1="407.0" y1="269.3" x2="408.2" y2="269.3" stroke="#777" stroke-width="0.6"/>
<text x="406.4" y="269.3" font-size="4.65" font-weight="bold" text-anchor="end" dominant-baseline="central" fill="#111" stroke="#111" stroke-width="0.18">2</text>
<line x1="407.0" y1="254.2" x2="408.2" y2="254.2" stroke="#777" stroke-width="0.6"/>
<text x="406.4" y="254.2" font-size="4.65" font-weight="bold" text-anchor="end" dominant-baseline="central" fill="#111" stroke="#111" stroke-width="0.18">3</text>
<rect x="409.5" y="284.4" width="5.100000000000023" height="15.100000000000023" fill="#ffffff" stroke="#2a2a2a" stroke-width="0.55"/>
<line x1="412.05" y1="282.59999999999997" x2="412.05" y2="284.4" stroke="#333" stroke-width="0.6"/>
<line x1="410.85" y1="282.59999999999997" x2="413.25" y2="282.59999999999997" stroke="#333" stroke-width="0.6"/>
<rect x="417.3" y="259.938" width="4.899999999999977" height="39.56200000000001" fill="#d9688a" stroke="#2a2a2a" stroke-width="0.55"/>
<line x1="419.75" y1="258.138" x2="419.75" y2="259.938" stroke="#333" stroke-width="0.6"/>
<line x1="418.55" y1="258.138" x2="420.95" y2="258.138" stroke="#333" stroke-width="0.6"/>
<rect x="424.4" y="260.995" width="5.100000000000023" height="38.504999999999995" fill="#5f9be0" stroke="#2a2a2a" stroke-width="0.55"/>
<line x1="426.95" y1="259.195" x2="426.95" y2="260.995" stroke="#333" stroke-width="0.6"/>
<line x1="425.75" y1="259.195" x2="428.15" y2="259.195" stroke="#333" stroke-width="0.6"/>
<rect x="431.3" y="279.87" width="5.099999999999966" height="19.629999999999995" fill="#e9a144" stroke="#2a2a2a" stroke-width="0.55"/>
<line x1="433.85" y1="278.07" x2="433.85" y2="279.87" stroke="#333" stroke-width="0.6"/>
<line x1="432.65000000000003" y1="278.07" x2="435.05" y2="278.07" stroke="#333" stroke-width="0.6"/>
<rect x="442.4" y="284.4" width="5.2000000000000455" height="15.100000000000023" fill="#ffffff" stroke="#2a2a2a" stroke-width="0.55"/>
<line x1="445.0" y1="282.59999999999997" x2="445.0" y2="284.4" stroke="#333" stroke-width="0.6"/>
<line x1="443.8" y1="282.59999999999997" x2="446.2" y2="282.59999999999997" stroke="#333" stroke-width="0.6"/>
<rect x="449.4" y="264.77" width="5.100000000000023" height="34.73000000000002" fill="#d9688a" stroke="#2a2a2a" stroke-width="0.55"/>
<line x1="451.95" y1="262.96999999999997" x2="451.95" y2="264.77" stroke="#333" stroke-width="0.6"/>
<line x1="450.75" y1="262.96999999999997" x2="453.15" y2="262.96999999999997" stroke="#333" stroke-width="0.6"/>
<rect x="456.3" y="264.317" width="5.5" height="35.18299999999999" fill="#5f9be0" stroke="#2a2a2a" stroke-width="0.55"/>
<line x1="459.05" y1="262.517" x2="459.05" y2="264.317" stroke="#333" stroke-width="0.6"/>
<line x1="457.85" y1="262.517" x2="460.25" y2="262.517" stroke="#333" stroke-width="0.6"/>
<rect x="463.6" y="282.588" width="5.199999999999989" height="16.911999999999978" fill="#e9a144" stroke="#2a2a2a" stroke-width="0.55"/>
<line x1="466.20000000000005" y1="280.788" x2="466.20000000000005" y2="282.588" stroke="#333" stroke-width="0.6"/>
<line x1="465.00000000000006" y1="280.788" x2="467.40000000000003" y2="280.788" stroke="#333" stroke-width="0.6"/>
<text x="420" y="303.5" font-size="5.43" font-weight="bold" text-anchor="middle" dominant-baseline="central" fill="#111" stroke="#111" stroke-width="0.18" textLength="10.23" lengthAdjust="spacingAndGlyphs">5637</text>
<text x="453.6" y="303.5" font-size="5.43" font-weight="bold" text-anchor="middle" dominant-baseline="central" fill="#111" stroke="#111" stroke-width="0.18" textLength="7.93" lengthAdjust="spacingAndGlyphs">T24</text>
<line x1="411.9" y1="252.7" x2="420.4" y2="252.7" stroke="#555" stroke-width="0.7"/>
<line x1="411.9" y1="251.2" x2="411.9" y2="254.2" stroke="#555" stroke-width="0.7"/>
<line x1="420.4" y1="251.2" x2="420.4" y2="254.2" stroke="#555" stroke-width="0.7"/>
<text x="416.15" y="250.5" font-size="4" font-weight="bold" text-anchor="middle" dominant-baseline="central" fill="#111" stroke="#111" stroke-width="0.18">*</text>
<line x1="426.4" y1="254" x2="434" y2="254" stroke="#555" stroke-width="0.7"/>
<line x1="426.4" y1="252.5" x2="426.4" y2="255.5" stroke="#555" stroke-width="0.7"/>
<line x1="434" y1="252.5" x2="434" y2="255.5" stroke="#555" stroke-width="0.7"/>
<text x="430.2" y="251.8" font-size="4" font-weight="bold" text-anchor="middle" dominant-baseline="central" fill="#111" stroke="#111" stroke-width="0.18">*</text>
<line x1="444" y1="257.6" x2="453" y2="257.6" stroke="#555" stroke-width="0.7"/>
<line x1="444" y1="256.1" x2="444" y2="259.1" stroke="#555" stroke-width="0.7"/>
<line x1="453" y1="256.1" x2="453" y2="259.1" stroke="#555" stroke-width="0.7"/>
<text x="448.5" y="255.40000000000003" font-size="4" font-weight="bold" text-anchor="middle" dominant-baseline="central" fill="#111" stroke="#111" stroke-width="0.18">*</text>
<line x1="458.5" y1="257.6" x2="465.8" y2="257.6" stroke="#555" stroke-width="0.7"/>
<line x1="458.5" y1="256.1" x2="458.5" y2="259.1" stroke="#555" stroke-width="0.7"/>
<line x1="465.8" y1="256.1" x2="465.8" y2="259.1" stroke="#555" stroke-width="0.7"/>
<text x="462.15" y="255.40000000000003" font-size="4" font-weight="bold" text-anchor="middle" dominant-baseline="central" fill="#111" stroke="#111" stroke-width="0.18">*</text>
<text x="394.3" y="276.85" font-size="5.23" font-weight="bold" text-anchor="middle" dominant-baseline="central" fill="#111" stroke="#111" stroke-width="0.18" transform="rotate(-90 394.3 276.85)" textLength="42.30" lengthAdjust="spacingAndGlyphs">Relative caspase 3</text>
<text x="400.1" y="275.7" font-size="4.98" font-weight="bold" text-anchor="middle" dominant-baseline="central" fill="#111" stroke="#111" stroke-width="0.18" transform="rotate(-90 400.1 275.7)" textLength="15.60" lengthAdjust="spacingAndGlyphs">activity</text>
<rect x="406.95000000000005" y="307.9" width="4.7" height="4.0" fill="#ffffff" stroke="#222" stroke-width="0.75"/>
<text x="413.8" y="309.9" font-size="5.66" font-weight="bold" text-anchor="start" dominant-baseline="central" fill="#111" stroke="#111" stroke-width="0.18" textLength="6.93" lengthAdjust="spacingAndGlyphs">NC</text>
<rect x="406.95000000000005" y="314.0" width="4.7" height="4.0" fill="#d9688a" stroke="#222" stroke-width="0.75"/>
<text x="413.8" y="316" font-size="5.66" font-weight="bold" text-anchor="start" dominant-baseline="central" fill="#111" stroke="#111" stroke-width="0.18" textLength="21.08" lengthAdjust="spacingAndGlyphs">miR-1184</text>
<rect x="406.95000000000005" y="319.7" width="4.7" height="4.0" fill="#5f9be0" stroke="#222" stroke-width="0.75"/>
<text x="413.8" y="321.7" font-size="5.66" font-weight="bold" text-anchor="start" dominant-baseline="central" fill="#111" stroke="#111" stroke-width="0.18" textLength="38.29" lengthAdjust="spacingAndGlyphs">miR-1184+vector</text>
<rect x="406.95000000000005" y="326.2" width="4.7" height="4.0" fill="#e9a144" stroke="#222" stroke-width="0.75"/>
<text x="413.8" y="328.2" font-size="5.66" font-weight="bold" text-anchor="start" dominant-baseline="central" fill="#111" stroke="#111" stroke-width="0.18" textLength="40.15" lengthAdjust="spacingAndGlyphs">miR-1184+RAP2B</text>
<text x="395.2" y="328.1" font-size="9.2" font-weight="bold" text-anchor="start" dominant-baseline="central" fill="#111" stroke="#111" stroke-width="0.18">h</text>
<filter id="gr1" x="40" y="361.7" width="58.5" height="53.10000000000002" filterUnits="userSpaceOnUse" color-interpolation-filters="sRGB"><feTurbulence type="fractalNoise" baseFrequency="0.9" numOctaves="1" seed="51"/><feColorMatrix type="matrix" values="0 0 0 0 0.5  0 0 0 0 0.5  0 0 0 0 0.62  1.8 0 0 0 -0.85"/></filter>
<filter id="mt1" x="40" y="361.7" width="58.5" height="53.10000000000002" filterUnits="userSpaceOnUse" color-interpolation-filters="sRGB"><feTurbulence type="fractalNoise" baseFrequency="0.35" numOctaves="2" seed="91"/><feColorMatrix type="matrix" values="0 0 0 0 0.42  0 0 0 0 0.42  0 0 0 0 0.74  3.0 0 0 0 -1.25"/></filter>
<rect x="40" y="361.7" width="58.5" height="53.10000000000002" fill="#c0c0de"/>
<rect x="40" y="361.7" width="58.5" height="53.10000000000002" fill="#000" filter="url(#mt1)" opacity="0.55"/>
<rect x="40" y="361.7" width="58.5" height="53.10000000000002" fill="#000" filter="url(#gr1)"/>
<g filter="url(#bl)"><path d="M54.5 414.8L55.1 413.5L56.2 411.6L57.8 410.5L58.2 412.6L57.1 414.7zM87.9 391.1L87.2 389.1L87.2 384.1L88.3 384.5L88.8 389.4zM98.5 401.9L94.7 399.2L93.8 396.8L94.5 395.7L98.5 399.0zM77.0 403.9L76.4 403.6L78.9 399.9L80.3 399.8L80.8 401.0L78.5 403.9zM56.8 411.6L58.2 410.7L59.6 409.7L62.8 410.7L63.0 411.8L60.6 412.6L58.2 413.0zM79.6 401.5L77.9 402.2L75.0 399.4L75.1 398.4L77.4 398.5L79.4 399.9zM67.7 373.6L67.0 371.4L66.6 367.5L67.5 367.1L68.1 371.5zM65.1 384.4L68.0 383.0L68.6 383.0L72.3 383.1L71.8 384.0L69.7 384.4L66.2 384.9zM78.2 395.8L80.3 394.6L81.6 393.9L85.1 394.3L83.2 395.6L80.8 396.7zM96.1 392.9L95.9 390.8L95.7 388.1L97.9 387.9L98.3 388.2L98.3 391.2zM79.8 369.1L79.3 368.6L82.4 367.2L83.7 367.5L84.1 368.4L82.1 369.6L81.0 370.5zM76.4 377.7L73.4 375.7L71.1 373.4L68.3 370.0L69.2 369.6L74.5 374.4zM66.4 414.8L65.7 414.0L65.8 411.8L67.4 409.6L68.1 411.7L67.5 414.8zM79.2 405.9L78.2 406.5L80.6 403.5L81.9 402.4L83.1 402.0L82.9 404.0L80.3 406.1zM58.3 388.1L57.5 387.1L57.8 385.5L59.2 384.7L60.5 385.3L60.3 387.3L59.0 388.3zM44.3 401.2L45.1 398.4L48.4 393.5L48.9 394.2L48.4 395.8L45.5 400.5zM45.7 386.2L43.7 385.0L41.0 381.3L40.4 379.4L44.3 383.3zM59.7 412.2L58.1 413.2L55.2 412.2L54.8 411.2L57.2 410.1zM82.9 369.4L83.5 368.1L86.8 367.1L89.5 366.1L89.0 367.8L89.5 368.4L85.0 369.6zM45.6 388.7L43.5 389.4L41.1 387.9L41.2 386.1L45.7 387.9zM98.5 390.9L98.5 391.2L94.8 391.3L93.9 390.4L96.4 389.8L98.1 389.9zM84.6 414.1L86.6 411.5L88.6 410.7L91.9 410.5L92.2 412.5L87.4 414.7zM46.2 380.9L48.9 378.9L53.7 376.9L56.6 377.3L53.1 380.3L50.9 380.9zM82.9 405.6L81.6 406.5L79.9 404.6L78.5 402.4L80.3 401.1L81.5 401.4L82.4 403.6zM42.4 402.7L41.0 403.3L40.0 403.0L40.0 402.8L40.0 401.5L40.0 401.6L41.8 401.2zM40.0 384.3L40.0 382.8L40.3 381.4L41.5 380.2L41.6 381.5L40.9 383.2zM91.7 384.7L92.5 381.6L93.3 379.3L96.4 377.5L96.9 379.5L96.4 381.7L94.1 383.6zM50.6 414.8L49.4 414.8L45.1 411.0L44.6 408.4L49.0 411.1L51.2 414.4zM79.2 367.4L77.2 365.0L76.9 361.8L77.3 361.7L78.5 361.7L80.0 366.3zM56.6 387.2L55.2 384.6L54.6 382.6L56.1 380.8L56.6 380.9L57.5 383.6zM85.4 393.5L88.6 391.5L90.4 391.4L92.4 392.9L91.3 393.1L89.1 393.6zM98.5 384.4L97.8 384.9L95.1 384.6L93.2 383.0L95.2 382.0L98.5 382.4zM74.4 409.5L74.6 407.5L75.8 406.3L77.8 405.2L78.0 407.5L76.4 409.1zM40.0 388.2L40.0 387.0L43.1 386.3L44.5 386.6L46.2 387.2L42.1 388.8L40.9 388.7zM41.4 404.9L40.0 404.4L40.0 401.5L40.0 398.8L41.7 399.0L42.1 400.4L42.3 404.4zM94.7 371.0L93.7 371.5L91.9 371.5L90.1 370.7L90.6 370.1L91.6 370.1L94.1 370.3zM77.5 410.3L81.1 407.1L84.5 405.2L86.5 405.8L79.8 410.1zM87.1 388.0L90.3 386.7L94.2 386.7L95.9 386.9L93.9 388.1L92.6 388.4L88.4 388.7zM48.4 397.7L46.9 397.8L43.9 397.2L41.5 395.9L44.5 395.3L45.6 395.7zM65.7 406.7L61.2 407.3L53.8 405.6L55.9 404.8L61.3 404.4zM88.1 407.1L88.4 406.2L91.3 404.9L91.8 405.5L91.7 406.5L89.7 407.5zM69.4 381.1L70.4 379.5L72.6 379.6L74.2 379.9L72.5 381.7L70.6 382.0zM62.4 376.6L61.1 376.8L57.2 375.6L53.3 372.8L54.9 372.9L63.2 375.3zM78.3 407.7L76.9 408.2L74.6 406.6L73.2 404.0L75.0 403.9L77.7 406.3zM79.1 382.4L77.1 380.4L76.7 375.5L78.4 375.1L79.1 376.6L79.4 380.5zM58.2 396.9L56.1 396.7L53.7 396.6L52.2 394.5L55.9 393.9L57.1 394.3zM55.7 393.6L54.1 390.6L53.4 387.2L54.5 385.0L55.9 387.0L56.8 390.5zM83.6 366.2L87.4 363.9L91.3 363.3L92.3 363.8L92.0 365.8L85.3 366.9zM91.6 390.0L89.8 390.7L86.8 390.2L86.8 389.6L87.8 388.8L88.5 388.3L90.5 389.7zM43.1 414.8L42.7 414.8L43.6 413.8L44.3 412.1L45.4 411.8L45.5 414.3L44.9 414.8zM54.3 408.0L52.8 408.6L51.7 408.1L49.8 406.8L52.1 405.7L53.7 405.6zM92.5 398.0L93.5 396.5L97.8 394.3L98.5 394.5L97.7 396.3L95.8 397.5zM81.0 365.8L80.1 366.4L78.4 363.4L78.9 362.1L79.6 362.2L80.0 362.0L81.5 365.5zM83.8 386.0L82.8 385.6L80.5 383.8L79.7 382.6L82.3 383.8L83.4 384.6zM82.6 379.9L80.5 380.2L78.8 380.4L77.7 378.6L80.0 377.9L81.4 378.4zM96.2 385.2L96.6 383.6L98.3 381.9L98.5 380.1L98.5 382.0L97.4 385.1zM71.0 389.8L67.9 385.0L66.3 381.0L68.6 380.7L70.5 385.6zM79.4 393.4L76.8 394.3L75.0 394.1L75.0 392.1L78.1 392.8zM67.8 394.1L65.8 394.6L65.0 393.3L62.5 390.3L64.0 389.8L65.5 390.9L67.5 393.1zM80.8 402.8L80.8 399.7L83.2 396.5L85.4 393.9L86.3 395.1L83.6 399.6zM79.9 407.7L79.0 407.0L79.0 402.9L79.3 398.5L80.3 402.4L80.3 406.8zM81.9 384.1L80.7 382.4L82.1 381.0L84.2 380.5L84.7 381.6L83.1 383.5zM67.9 401.0L70.2 396.4L74.3 393.1L76.0 393.5L72.6 397.1L71.7 398.6zM89.6 376.6L88.2 376.3L83.3 374.1L82.8 372.4L83.5 371.2L89.9 375.4zM84.8 379.9L82.0 377.1L81.0 374.7L81.2 372.8L82.1 373.3L83.9 373.9L84.2 376.9zM81.0 409.3L78.3 409.2L71.2 406.0L72.9 405.8L78.6 407.3zM90.6 386.9L90.4 382.6L90.8 379.2L92.7 375.9L92.7 379.2L91.4 384.1zM70.1 363.1L73.7 361.7L77.9 361.7L77.9 362.6L75.1 363.6zM83.2 405.2L84.4 401.0L86.9 396.3L87.8 395.9L85.5 402.3zM88.4 399.3L88.8 396.6L89.8 396.1L92.2 397.0L91.8 399.1L90.7 399.5zM74.6 410.5L75.8 408.6L78.6 406.4L79.7 406.6L78.4 408.6L75.6 411.1zM59.6 398.5L59.7 397.7L62.9 395.1L64.1 395.6L63.5 397.1L60.7 400.2zM98.5 402.9L95.3 401.5L92.3 399.5L94.1 398.4L97.5 400.2zM60.2 414.8L64.3 413.4L69.0 412.4L72.1 413.4L69.2 414.8L64.5 414.8zM89.2 408.9L87.8 408.9L88.1 403.7L88.7 400.3L90.0 400.9L90.9 406.0L90.2 410.0zM55.3 390.8L53.9 390.1L48.1 386.3L46.9 384.5L48.6 384.6L55.5 389.7zM74.3 364.7L73.1 362.9L72.2 361.7L73.3 361.7L74.2 361.7L74.7 362.6zM47.3 393.8L46.0 392.1L46.3 391.1L46.3 388.0L46.8 388.1L47.4 388.7L47.7 392.4zM81.8 413.7L80.5 413.0L82.2 409.0L83.8 407.2L83.9 409.5L83.2 411.9zM94.0 407.4L93.2 405.4L93.8 403.4L95.4 401.5L97.2 401.8L97.1 404.2L95.9 406.4zM90.0 414.2L87.8 414.7L85.3 413.3L84.4 411.4L86.8 411.8L89.2 412.7zM77.7 384.3L79.1 381.7L83.4 380.0L85.4 380.2L83.1 383.0L79.2 384.9zM70.0 414.4L67.6 412.8L64.6 409.2L65.6 408.2L69.1 411.8zM80.9 414.8L77.7 414.8L72.4 412.1L70.5 409.7L72.1 409.3L78.4 412.6zM55.4 405.2L54.5 404.8L52.7 403.9L53.2 402.0L53.8 401.3L55.1 403.8zM80.5 399.7L82.0 397.6L82.9 396.8L85.4 396.1L85.8 397.9L85.1 398.8L81.9 401.0zM84.0 378.0L84.5 376.2L88.2 372.6L91.0 370.8L90.8 371.2L89.6 373.2L87.3 376.2zM84.1 372.9L82.6 374.4L80.8 375.0L79.0 373.1L79.3 372.8L80.5 371.4L84.3 372.1zM83.1 391.6L83.9 387.0L85.7 383.7L86.0 385.6L85.7 387.4zM71.2 376.1L72.0 372.7L73.5 371.3L75.4 372.0L75.5 372.7L73.9 374.7zM92.1 364.0L92.6 362.4L97.9 361.7L98.5 361.7L95.3 363.7zM91.7 401.4L92.1 399.1L95.6 396.3L96.9 397.0L94.0 400.3zM98.5 388.5L98.0 385.8L94.8 380.8L95.8 379.2L98.5 384.3zM79.6 370.3L80.1 368.2L81.4 364.9L82.3 363.5L83.2 363.2L83.6 365.2L81.1 370.1zM91.3 375.4L89.1 371.0L88.0 366.7L88.9 366.6L90.1 367.7L91.4 371.8zM40.8 386.2L41.5 383.3L43.3 382.1L44.4 382.9L45.4 383.6L43.4 385.7zM70.1 394.6L67.4 394.7L65.2 392.6L66.5 390.4L68.0 392.0zM72.7 411.3L74.1 409.5L76.5 408.7L77.7 408.9L76.7 409.8L74.2 411.4zM80.5 371.1L80.8 369.0L82.2 367.4L84.0 367.3L84.0 370.1zM88.7 388.9L87.4 388.5L81.4 382.3L80.7 380.4L84.4 382.4L86.8 386.0zM77.7 385.7L76.3 385.1L74.9 381.2L74.4 379.0L76.2 381.4L77.6 384.7zM70.3 397.3L70.1 395.2L71.9 389.4L72.8 389.3L72.9 390.3L71.7 395.1zM58.6 396.8L60.0 394.4L63.1 394.5L64.4 396.7L60.4 397.4zM48.6 414.8L47.5 414.8L48.2 414.4L49.8 413.0L50.3 413.0L50.8 414.4L49.1 414.8zM84.9 375.0L87.2 374.1L88.2 374.3L90.6 374.5L89.8 375.4L86.8 375.5zM47.1 382.5L47.1 380.4L47.2 377.4L48.4 376.1L49.1 375.8L48.8 379.7zM89.5 405.8L88.3 405.6L86.4 404.3L82.7 400.8L81.7 399.5L87.1 403.0L89.2 404.8zM61.1 411.0L62.2 410.0L64.6 408.5L67.6 408.1L66.6 409.5L62.4 411.5zM87.4 381.3L87.0 381.5L84.2 380.1L83.4 378.7L84.7 378.9L87.9 380.7zM90.8 377.0L88.3 377.5L85.9 377.3L84.8 376.7L85.7 376.1L89.3 376.2zM52.5 406.1L51.9 403.2L53.5 400.1L55.3 398.1L54.4 403.0zM44.8 397.9L43.8 396.9L44.0 392.7L44.8 389.1L46.9 391.9L46.3 398.5zM66.4 399.5L67.3 396.5L68.9 393.7L72.9 390.9L72.7 391.9L71.1 395.0L68.5 396.9zM60.2 368.3L60.5 366.8L62.4 366.3L65.0 367.8L64.6 368.7L61.0 369.5zM42.4 411.2L41.9 410.5L47.6 403.9L49.1 402.5L50.7 403.6L49.3 405.2L44.6 410.3zM48.8 402.9L46.4 403.7L40.7 402.5L40.0 401.2L40.1 400.8L47.5 402.1zM79.0 384.3L76.8 384.0L74.1 380.5L70.9 375.3L74.5 376.7L79.1 381.7zM67.4 368.6L66.8 366.8L69.6 365.2L70.7 365.7L68.8 368.1zM55.4 389.1L56.9 386.2L61.9 383.3L62.2 384.5L58.1 388.2zM64.1 383.3L63.9 381.0L66.0 377.5L68.1 374.3L68.7 375.5L67.9 377.9L65.9 382.8zM80.3 376.1L79.7 374.3L82.9 369.9L84.7 369.4L83.7 373.1L81.7 374.9zM71.0 409.5L71.0 408.9L75.0 408.3L75.7 408.5L77.9 408.8L73.9 410.1L71.8 410.3zM87.5 391.4L86.5 389.7L87.8 385.6L88.6 386.0L89.6 385.8L89.4 388.8zM76.0 368.6L74.2 368.5L72.1 367.5L69.1 364.9L73.1 366.2L74.4 367.1zM98.5 395.7L93.8 394.7L90.6 393.5L87.0 390.8L90.7 391.0L97.1 393.8zM62.8 368.5L63.2 367.9L64.9 367.4L67.1 367.2L67.6 367.4L65.6 368.8L64.5 369.0zM56.1 375.0L57.0 373.5L61.5 372.5L62.5 373.0L61.0 374.5L56.2 376.7zM58.7 377.4L57.5 376.9L57.7 372.3L58.4 368.7L60.1 370.9L60.1 373.4L59.6 376.1zM66.4 413.5L63.7 412.6L61.3 411.2L58.7 408.9L60.5 409.1L64.1 410.3zM56.9 372.0L50.6 369.8L47.5 366.9L48.6 365.7L52.3 367.5zM71.0 378.5L73.1 377.2L76.3 377.3L78.8 378.0L77.4 378.9L74.7 379.5zM71.6 371.5L71.2 373.2L69.8 372.7L67.8 371.5L68.2 370.7L70.1 370.1L70.7 370.5zM43.5 367.2L42.3 368.2L40.0 364.7L40.0 361.7L40.5 362.3L42.9 364.3L43.3 366.4zM65.0 391.4L63.6 391.3L67.4 387.8L70.1 386.2L70.0 387.8L67.2 390.8zM82.5 380.9L81.5 377.4L81.3 375.8L82.2 372.9L82.6 373.4L83.5 378.0zM58.0 393.4L55.7 391.2L54.2 388.5L56.0 388.1L58.4 391.2zM67.7 380.0L68.0 378.4L70.7 375.7L72.8 374.7L72.5 375.8L70.0 378.5zM74.7 396.6L72.3 395.7L68.6 392.3L68.0 390.2L70.0 390.5L74.2 394.6zM62.2 394.7L60.8 395.0L56.8 392.6L55.6 389.0L57.4 389.9L61.8 392.9zM85.0 395.6L82.8 394.9L80.6 393.3L80.5 391.6L81.2 391.4L83.2 392.4L84.6 394.6zM84.5 409.4L85.1 407.9L87.6 407.0L89.0 407.2L87.7 409.1L85.5 409.9zM76.3 414.8L74.7 414.8L73.7 414.2L72.7 412.0L73.3 411.3L75.8 413.2L77.1 414.5zM64.2 391.8L62.5 392.6L59.8 392.6L58.3 391.3L60.6 389.8L61.8 390.6zM74.1 395.9L73.0 395.7L75.5 388.5L77.1 387.1L77.6 389.5L75.1 394.3zM97.6 371.2L96.6 372.0L96.8 366.2L97.1 362.5L98.2 364.0L98.2 367.2L98.3 370.4zM49.2 385.5L47.4 384.0L47.0 382.0L47.2 381.0L48.2 380.5L48.9 382.2L49.9 383.3zM87.7 403.7L86.1 402.9L83.8 400.4L82.5 397.7L84.9 399.4L86.2 400.9zM81.2 363.9L80.5 363.7L83.0 361.7L84.8 361.7L83.6 363.1L82.0 365.2zM63.0 414.2L63.5 411.3L66.4 407.5L67.9 406.4L64.7 412.3zM58.5 373.5L59.8 371.5L62.5 370.1L64.8 369.2L62.4 371.8L61.7 372.6zM76.9 414.8L76.8 411.6L78.1 408.6L79.1 408.3L78.0 414.5zM82.1 377.3L79.3 375.9L77.6 374.1L75.3 371.1L77.4 371.9L80.4 374.4zM70.1 375.2L73.8 372.9L79.3 370.2L78.6 372.3L73.4 374.8zM79.5 394.8L77.6 393.0L77.8 389.6L78.5 386.2L80.3 390.1L80.7 391.5zM76.1 378.4L76.9 376.1L82.8 374.9L83.1 377.0L78.2 378.7zM47.7 412.0L46.4 410.8L45.5 408.9L45.2 407.8L46.3 408.1L46.9 408.1L47.5 409.9zM97.1 371.6L96.7 371.5L96.0 368.7L96.2 364.7L98.4 364.8L98.3 366.9L98.5 371.0zM63.7 391.2L62.9 390.1L63.1 386.4L63.4 385.2L63.9 384.6L64.3 388.1L64.2 388.9zM96.0 395.5L97.9 394.4L98.5 394.7L98.5 395.4L98.5 397.0L97.4 396.4zM44.2 372.7L46.1 371.2L49.8 371.2L51.4 372.1L50.5 373.5L45.2 373.1zM76.4 378.0L75.5 377.2L73.4 372.5L73.1 370.8L75.7 370.1L76.7 373.6L77.0 375.4zM93.5 369.8L90.5 367.4L88.4 365.4L86.5 362.3L88.4 362.5L91.4 366.1zM84.1 381.3L82.4 379.5L81.9 376.8L83.7 375.7L84.6 377.7zM85.8 414.8L83.3 414.2L79.7 411.7L77.8 409.9L78.6 408.9L80.9 410.6L85.1 414.4zM55.1 414.8L53.5 414.8L50.2 413.2L49.3 411.2L51.4 412.3L55.5 414.7zM75.4 398.7L74.1 398.9L73.7 397.8L73.1 396.0L73.5 395.2L74.9 396.6L76.0 398.8zM81.8 407.4L80.1 406.9L72.7 402.1L71.8 400.0L76.3 401.4L79.6 403.5zM45.3 380.2L44.5 379.8L44.3 376.6L46.0 375.1L46.5 377.1L46.0 379.9zM96.3 414.8L94.6 414.8L93.5 414.5L93.3 413.0L95.0 413.3L96.7 414.8zM81.5 395.2L81.3 394.3L82.9 393.5L84.3 393.2L85.5 395.1L84.9 395.5L82.2 397.0zM63.1 377.8L62.0 377.2L61.6 374.7L62.8 373.2L64.1 376.3zM98.5 414.8L97.0 414.0L96.1 413.7L96.0 411.8L96.5 411.8L97.2 411.8L98.5 414.6zM96.1 408.6L94.6 408.6L93.7 406.6L93.0 403.1L94.3 403.3L95.6 406.0L96.3 408.5zM97.1 366.8L94.4 364.7L92.4 362.6L93.0 361.7L96.2 364.1zM40.0 375.6L40.0 375.2L43.5 375.4L45.1 376.0L43.2 376.5L40.0 376.8zM93.7 405.7L93.7 403.5L94.8 397.9L95.6 397.5L95.6 402.7zM95.0 412.7L94.0 414.1L93.7 407.6L94.1 404.2L95.4 407.5L95.7 410.3zM89.9 408.4L87.4 408.1L86.9 407.8L83.3 404.4L83.6 403.3L86.6 404.4L89.0 406.6zM41.8 378.4L42.2 375.8L43.9 372.6L44.4 372.2L44.7 375.1L43.6 376.5zM87.4 395.4L89.5 394.0L93.2 393.5L93.6 394.2L90.0 395.7zM87.0 409.3L87.8 407.3L89.7 406.4L90.7 406.4L88.6 409.3zM80.7 386.5L80.6 383.5L83.7 376.5L84.6 376.9L82.8 383.1zM57.5 385.6L58.5 382.8L60.3 381.8L62.8 381.0L61.7 382.6L60.0 384.1zM77.0 375.9L77.2 373.6L80.2 372.2L81.8 373.2L82.5 373.8L78.0 376.2zM50.8 410.7L51.3 409.4L52.4 406.8L53.9 406.8L53.8 408.2L53.3 409.5L53.0 410.1zM80.9 411.1L79.4 412.4L77.1 411.6L76.4 409.4L77.9 409.1L80.3 410.0zM44.3 398.7L45.3 395.6L47.0 392.6L48.9 392.4L45.6 398.7zM41.1 414.8L40.1 413.0L40.6 411.6L42.3 411.1L43.2 412.1L42.1 414.8zM96.1 381.1L95.2 380.4L97.9 378.0L98.5 378.0L98.5 380.3L97.5 382.0zM58.8 375.7L57.3 374.3L58.4 371.1L59.3 371.1L59.9 372.5L60.0 375.8zM60.8 403.9L58.9 401.9L59.9 399.3L61.8 398.6L61.5 402.4zM55.9 412.2L50.6 411.2L45.3 408.8L47.8 408.8L52.5 410.0zM64.7 398.3L62.0 396.8L59.2 394.7L59.4 393.3L63.4 396.0zM79.4 407.8L78.9 406.0L81.4 401.0L82.6 402.8L80.3 408.2zM49.5 410.4L47.6 410.9L44.6 409.4L43.1 408.4L45.6 407.7L47.1 407.3L48.2 408.7zM61.2 391.9L63.8 390.4L66.1 389.2L70.1 388.8L68.3 390.9L64.3 393.1zM46.5 366.6L45.5 363.0L47.0 361.7L49.0 361.7L48.3 361.7L48.3 364.6zM72.3 379.0L71.9 374.0L74.3 370.8L75.2 373.0L73.1 379.0zM63.8 391.0L64.4 389.5L67.6 387.8L69.6 387.9L68.1 390.2L66.4 391.1zM48.6 410.9L46.1 411.3L43.6 410.5L43.2 408.4L43.7 407.9L47.9 409.5zM56.8 414.8L57.2 413.4L59.7 407.3L60.5 407.8L60.3 410.9L59.4 412.9zM40.0 411.8L40.0 410.6L43.6 409.5L45.2 410.1L45.3 411.1L41.8 412.0L40.0 412.1zM57.5 386.0L54.6 384.3L50.5 381.0L48.7 378.4L52.5 380.5L55.4 382.8zM54.8 390.6L55.8 387.6L57.4 385.7L60.9 382.7L59.2 386.2L57.3 388.5zM96.1 388.3L96.4 385.5L96.6 382.8L97.7 381.4L98.2 381.8L98.5 383.3L97.9 385.9zM65.9 392.3L68.0 390.7L73.7 388.2L73.4 389.6L69.6 391.9zM60.4 392.9L60.4 391.3L62.9 388.6L64.5 388.3L64.3 389.4L62.6 391.5zM78.8 373.2L76.0 371.3L72.2 365.9L73.0 365.7L75.7 368.1zM82.4 402.9L81.8 403.7L77.7 401.6L75.8 400.1L79.4 399.7L81.9 402.0zM89.0 402.3L88.2 401.6L87.6 393.6L88.0 392.4L89.7 394.5L89.9 400.3zM89.1 387.7L86.0 388.5L83.0 387.8L82.1 385.5L85.0 385.7L87.6 386.3zM79.0 384.3L77.8 383.3L76.2 380.2L77.9 379.3L80.1 381.1zM66.4 414.2L64.5 413.7L61.1 412.4L59.8 410.6L62.6 411.4L63.9 411.7zM67.1 414.8L66.0 414.8L65.4 413.9L66.2 412.2L67.4 412.7L67.5 414.8zM61.4 368.4L61.5 366.1L62.2 364.7L64.6 365.2L64.7 367.4L63.8 367.5zM83.4 382.2L82.3 382.6L80.8 377.3L81.2 375.9L83.3 378.9L84.3 382.6zM91.6 410.9L94.7 407.7L96.2 406.0L98.5 405.7L98.5 406.8L95.9 409.4zM76.1 371.4L74.8 371.0L74.9 365.3L75.1 363.3L76.8 366.1L76.5 369.3zM72.6 405.0L70.4 405.4L68.4 405.1L68.5 403.2L68.1 402.5L72.9 403.4zM73.8 383.9L70.3 384.8L67.3 384.4L64.9 383.3L64.9 382.1L70.2 382.2zM73.6 372.7L75.2 370.9L79.9 368.2L81.8 368.2L82.4 368.7L77.0 371.5zM97.7 392.0L94.9 391.7L94.4 392.0L92.2 390.9L92.8 389.3L93.7 389.2L96.7 390.0zM91.4 388.8L88.0 389.4L84.1 389.1L82.9 388.0L86.8 387.3L87.7 387.3zM90.7 373.3L88.5 371.2L86.1 368.7L85.2 367.6L84.6 365.4L88.6 369.0L90.2 370.3zM65.8 369.6L62.8 368.0L59.7 363.4L61.9 364.5L64.8 367.4zM72.9 379.8L72.2 378.2L73.2 377.0L74.8 373.3L75.9 374.3L75.2 377.1L73.1 380.7zM63.2 398.4L58.3 399.4L54.5 399.8L50.7 399.1L52.8 397.2L55.3 396.7L57.7 396.8zM67.6 409.8L68.1 408.9L73.0 407.4L75.7 407.4L73.5 408.9L67.5 410.7zM83.8 401.6L86.3 398.8L91.4 396.4L94.6 396.6L87.5 400.4zM55.8 396.4L58.0 392.1L59.2 391.0L63.7 388.6L63.0 390.4L58.0 396.0zM62.9 382.7L64.1 380.4L67.4 378.2L69.5 378.1L69.1 379.6L64.5 382.6zM81.5 400.0L80.7 400.0L79.6 396.3L80.4 395.6L81.1 396.2L82.1 399.4zM40.5 408.3L40.0 407.6L40.0 403.4L41.5 403.5L42.0 405.6zM60.6 363.2L62.1 361.9L69.7 361.7L69.4 362.4L64.4 363.7zM68.4 396.7L71.3 392.6L75.3 390.2L75.5 392.5L72.5 395.8zM65.4 369.3L67.4 365.5L71.2 362.2L71.8 362.8L68.7 367.7zM69.9 394.5L70.4 391.9L71.7 390.4L75.7 389.5L75.4 390.9L74.2 391.9L72.1 393.6zM71.9 383.5L72.5 381.4L75.4 379.5L78.1 378.8L78.0 380.8L73.8 383.8zM70.9 402.3L73.1 400.5L75.1 399.0L77.3 400.1L77.5 401.2L74.1 402.3zM92.1 397.3L93.0 394.5L93.8 392.1L96.7 391.8L97.3 393.0L94.1 397.1zM53.9 381.4L51.3 378.7L49.8 376.5L47.4 370.8L51.1 375.7L53.2 379.1zM98.5 397.6L98.5 398.2L94.6 397.5L91.8 396.4L94.8 396.1L98.5 396.4zM71.2 398.9L71.7 397.5L76.8 396.5L77.7 397.5L76.4 398.9L71.9 399.8zM85.3 393.5L84.0 392.9L84.1 390.4L84.7 388.0L85.7 386.3L86.5 390.1L85.7 393.6zM86.5 376.9L85.7 376.4L81.9 374.0L82.2 372.6L82.3 372.0L84.2 372.8L86.4 375.3zM84.2 389.3L84.9 385.1L85.9 382.0L87.8 378.3L89.4 378.2L88.0 382.5L86.9 386.4zM94.6 406.2L93.5 406.1L90.8 404.4L89.4 402.5L89.9 402.0L92.8 403.4L94.5 404.3zM64.7 402.5L66.0 401.5L69.7 399.5L71.4 400.2L67.5 402.5zM56.4 388.7L57.2 386.6L59.7 384.1L60.1 384.8L60.6 385.2L58.4 387.8zM75.9 413.3L75.7 414.2L71.1 414.2L69.5 412.8L69.5 411.5L73.7 411.8L75.2 412.2zM43.6 411.8L42.0 411.7L40.0 407.5L40.0 405.8L40.0 405.1L40.7 406.9L44.2 411.7zM64.3 412.9L62.4 410.2L61.4 406.8L62.3 403.9L64.2 406.4L65.6 410.1zM74.3 379.2L73.3 378.4L74.5 376.2L75.1 375.7L75.6 378.8zM54.6 410.8L53.6 410.3L51.2 409.2L51.1 407.7L51.5 407.8L53.3 408.9zM58.9 366.0L63.5 362.9L69.2 362.0L71.7 362.4L67.2 365.7L64.7 366.6zM46.5 408.9L45.8 405.1L45.9 402.6L47.5 398.8L48.9 400.1L48.6 406.0zM72.9 374.6L73.6 373.5L79.5 372.1L81.9 373.3L81.0 374.2L81.3 374.9L76.8 375.4zM42.2 394.7L41.1 395.1L40.0 392.0L40.0 388.6L41.1 390.4L43.3 393.1zM94.4 411.3L92.6 409.0L91.7 407.6L91.0 405.2L93.8 406.6L94.8 408.3zM47.2 405.6L45.8 404.2L45.6 402.8L45.2 399.5L47.1 399.4L48.1 401.3L47.9 403.6zM97.2 384.0L95.0 384.4L92.0 382.4L92.9 380.6L94.1 381.4L96.7 382.0zM56.3 376.8L56.0 376.1L58.6 374.6L60.2 375.3L59.6 376.6L57.2 377.3zM87.3 385.6L88.2 383.8L92.1 384.5L95.2 384.7L93.1 386.6L89.0 387.5zM95.7 414.8L94.0 414.0L93.1 411.0L93.5 410.2L95.2 411.5L96.0 413.9z" fill="#35359c"/><path d="M78.6 411.8L77.0 412.1L77.1 408.0L78.0 407.3L78.7 408.5L79.6 409.9zM86.4 385.7L85.0 382.4L84.6 379.7L84.7 377.5L85.5 376.7L86.8 384.4zM98.5 392.3L97.6 392.1L95.7 389.8L93.7 388.1L96.1 387.8L98.5 389.2L98.5 390.1zM75.9 368.5L77.1 365.9L80.0 362.9L80.5 363.2L81.1 364.6L78.8 366.9zM95.0 365.7L91.6 363.9L90.3 361.7L90.1 361.7L94.9 364.0zM48.9 377.8L49.1 374.7L49.6 370.9L51.2 369.1L51.5 369.7L51.1 373.5L49.7 375.5zM77.7 391.0L76.3 388.1L75.2 382.6L75.3 381.4L76.5 380.8L78.0 387.8zM45.6 378.0L43.8 375.7L43.3 370.0L44.1 370.1L46.1 375.5zM43.9 368.5L41.2 366.6L40.0 362.5L41.3 361.7L43.1 363.6zM75.6 373.5L74.2 372.9L72.9 371.2L72.9 369.6L73.4 370.0L75.0 370.1L75.7 371.5zM60.4 413.8L64.0 412.3L67.2 412.1L66.0 413.1L63.2 414.3zM84.0 378.2L82.5 377.0L83.6 373.1L85.4 367.5L85.7 370.4L86.8 371.4L85.2 376.4zM88.8 414.8L88.6 412.9L90.3 409.5L92.0 407.1L91.6 409.7L91.2 411.9L89.2 414.8zM59.7 398.5L59.4 399.2L55.1 397.0L54.0 396.0L54.8 395.6L56.1 395.7L58.3 396.9zM49.6 397.7L47.7 398.1L44.9 394.9L45.8 393.5L49.5 396.6zM77.9 374.2L77.3 373.9L76.7 368.0L78.0 366.0L79.1 368.0L78.8 373.7zM77.3 367.8L78.8 366.0L84.0 363.4L84.5 363.8L83.7 365.7L81.2 367.2zM51.8 379.4L51.7 376.7L53.5 373.2L55.5 372.1L55.3 374.3L53.0 378.6zM65.9 372.6L65.2 370.6L64.6 369.0L65.1 367.3L67.1 367.7L67.0 371.2zM40.5 403.7L40.0 403.3L43.5 402.8L44.7 402.7L44.1 403.8L42.0 404.2zM94.9 406.3L93.0 405.2L91.2 401.7L92.2 400.3L93.7 402.9zM83.7 412.7L82.8 413.0L81.3 407.0L81.8 406.2L83.7 409.4zM97.6 391.8L95.2 390.9L93.1 388.4L93.5 388.0L95.2 387.1L97.4 389.0zM48.8 390.9L50.8 389.6L52.0 389.7L53.5 390.2L54.2 390.8L53.3 392.2L49.7 391.7zM61.6 397.0L59.3 396.6L55.6 395.8L53.9 394.1L55.0 393.5L59.5 395.2zM59.4 382.3L59.0 379.5L61.2 374.2L62.6 373.2L62.2 376.8L61.3 379.0zM72.2 403.8L68.5 403.1L67.7 402.6L67.2 399.4L69.7 400.3L70.9 401.1zM56.1 388.5L54.5 387.7L51.4 384.2L51.1 383.1L55.4 387.0zM69.3 397.0L70.6 395.2L70.8 392.1L73.3 390.6L74.0 390.8L73.9 392.7L71.9 395.9zM88.7 404.4L87.1 402.0L86.0 395.9L87.3 396.0L88.5 401.2zM63.2 414.2L62.1 414.5L59.4 410.7L60.7 410.2L62.8 412.4zM48.5 409.1L49.9 406.4L50.8 405.2L54.5 402.4L55.3 402.2L52.5 406.3L50.9 407.7zM79.2 365.5L77.8 366.6L73.6 365.5L71.7 364.5L72.2 363.6L76.9 363.9L77.4 364.3zM90.9 365.7L89.9 365.2L86.9 362.2L87.1 361.7L88.8 361.9L90.1 363.8zM72.4 368.8L70.5 366.7L70.1 365.9L69.5 364.4L70.6 364.3L71.7 365.5L72.4 367.5zM51.4 373.5L48.7 374.7L47.1 373.1L47.4 371.5L49.9 372.4zM82.0 372.0L81.7 369.5L84.7 364.8L86.2 363.5L85.8 368.0L84.3 370.5zM57.3 370.5L55.5 370.7L52.1 369.5L51.2 368.7L51.2 366.9L56.1 369.0zM96.6 399.4L95.6 396.2L95.8 393.5L96.8 393.7L97.6 395.8zM90.6 390.8L91.4 389.8L93.0 389.8L96.1 389.2L97.6 390.0L93.4 392.0L91.8 392.1zM61.0 399.5L59.2 401.2L53.0 399.1L53.3 398.2L52.8 396.8L58.3 398.5zM77.3 390.4L76.2 390.3L74.8 384.0L75.6 383.5L77.5 383.6L78.3 388.7zM67.2 392.5L67.0 391.3L70.6 386.9L72.7 385.4L73.3 386.4L71.2 389.8L69.0 391.0zM44.9 390.3L47.0 387.4L50.8 383.7L52.5 383.8L50.3 387.0L48.2 389.2zM85.2 404.8L86.4 403.1L91.5 401.6L91.3 403.8L89.2 405.0zM44.9 400.7L43.4 398.4L44.2 396.0L45.6 393.9L46.3 395.6L47.0 396.2L45.4 400.1zM52.7 367.4L53.1 364.4L54.2 361.7L56.0 361.7L56.0 361.7L53.8 365.6zM55.6 395.9L59.3 393.5L65.2 391.6L63.9 394.3L59.7 396.1zM84.8 414.8L84.9 414.8L90.0 411.0L90.1 411.6L91.0 412.1L86.8 414.8zM78.0 381.2L78.2 379.8L79.7 378.0L80.5 377.7L81.1 378.7L80.7 380.1L79.1 381.6zM41.8 404.6L42.2 403.9L44.6 403.5L48.5 404.0L46.0 404.6L43.3 405.6zM66.1 383.9L69.4 382.7L74.4 382.2L74.6 382.6L74.8 384.5L68.6 384.4zM50.5 414.8L47.5 414.8L45.9 414.8L43.1 412.7L46.7 412.5L48.6 414.0zM41.6 385.6L43.9 384.1L45.3 384.1L47.3 385.0L46.7 386.3L43.4 387.0zM64.7 408.9L66.5 407.2L68.6 405.8L69.3 406.9L67.4 408.2zM83.1 394.0L82.1 393.8L83.2 390.9L85.6 390.6L84.7 393.2zM44.0 365.8L45.4 363.0L47.2 361.7L48.2 361.7L46.0 364.4zM51.6 373.0L53.2 367.9L57.2 362.4L58.1 363.0L59.2 363.9L54.0 370.9zM80.6 385.3L82.2 383.7L86.8 383.8L87.6 384.8L83.9 386.0zM79.5 370.9L78.2 369.7L82.5 367.4L85.9 366.7L85.4 368.8L81.6 370.8zM76.4 364.5L74.6 364.3L70.7 362.9L70.1 362.3L71.6 361.7L74.8 363.2zM79.8 410.3L81.3 408.8L87.5 408.2L85.5 409.8L82.6 410.5zM72.5 386.5L72.8 384.8L77.8 380.7L81.1 378.3L78.9 381.3L73.6 386.3zM61.5 387.9L57.2 388.0L54.0 387.5L52.4 386.9L50.6 385.6L53.4 384.9L57.9 385.9zM54.4 400.3L57.0 396.2L61.3 392.3L60.7 395.1L56.6 399.1zM46.3 414.8L43.5 414.2L41.3 413.6L40.0 411.4L40.0 410.6L40.5 410.7L45.3 413.2zM70.3 403.5L66.7 402.3L64.9 401.3L62.2 398.6L65.7 398.7L68.3 401.2zM70.0 377.9L68.7 371.3L69.3 367.0L70.7 368.8L71.2 375.0zM83.4 366.6L81.1 366.0L77.8 364.2L76.4 361.9L79.3 362.2L80.6 363.4zM61.9 405.2L60.7 404.3L61.9 400.4L63.2 401.4L62.6 404.5zM66.1 409.9L63.2 408.7L62.3 406.7L62.5 405.4L63.0 403.8L65.8 407.5zM58.6 410.6L57.6 409.2L57.4 405.9L59.2 405.3L60.2 408.4zM89.5 370.5L87.8 370.8L85.6 367.5L84.3 364.7L87.0 365.8L87.8 367.4zM75.4 377.2L73.9 375.3L73.8 372.9L74.1 368.0L75.4 367.7L76.2 372.6L76.4 376.8zM40.0 399.7L40.0 399.0L44.1 398.0L45.4 398.8L44.9 399.9L40.0 400.9zM43.7 414.8L44.4 412.5L47.6 410.2L53.2 408.0L52.1 409.6L50.5 411.4L46.9 414.2zM48.7 410.6L47.1 408.5L47.4 400.3L49.0 400.7L49.9 408.1zM44.9 400.1L42.1 399.8L40.0 399.1L40.0 398.0L40.1 397.2L43.2 398.1zM69.9 390.8L74.4 389.3L78.7 388.7L79.3 390.2L76.6 391.6L73.5 392.0zM61.0 401.9L62.4 400.0L66.0 396.9L67.4 396.1L68.6 396.0L65.5 399.4L64.2 400.9zM45.1 400.4L44.7 400.6L43.3 396.3L43.9 395.4L44.2 392.8L45.5 397.5L46.0 398.8zM91.5 395.8L88.7 396.7L87.5 395.8L85.5 393.8L88.3 394.0L91.3 394.6zM87.7 388.5L86.6 386.9L85.6 380.9L87.6 378.0L88.1 381.5L88.8 387.4zM54.6 412.3L53.5 412.0L51.3 409.7L51.7 407.7L54.5 408.8L54.8 410.1zM69.6 376.5L67.5 376.1L65.9 374.1L64.3 371.7L67.2 372.7L69.0 375.3zM84.5 393.3L84.0 390.3L83.9 389.5L84.7 385.8L85.8 386.2L86.9 389.6L86.0 390.8zM74.1 414.8L72.5 414.3L70.1 412.2L69.3 409.9L71.3 410.9L73.1 412.5zM66.0 384.8L64.8 384.7L62.2 384.0L61.0 382.0L62.6 382.0L65.2 382.4zM70.5 402.4L67.2 401.3L65.9 400.0L66.2 397.8L67.1 397.8L70.4 401.3zM47.3 410.3L46.2 409.5L48.1 406.8L49.2 406.8L50.9 407.3L48.8 411.1zM75.3 401.4L74.6 402.8L69.6 403.1L68.3 400.7L74.5 400.8zM95.6 385.8L94.9 385.8L98.5 382.1L98.5 380.6L98.5 384.0L97.2 385.5zM94.3 393.5L92.2 392.6L90.5 390.2L91.2 389.2L91.1 388.4L93.0 389.5L94.5 392.8zM59.5 398.8L58.8 398.2L60.8 394.1L62.3 392.5L62.3 394.8L60.8 397.7zM65.5 380.1L68.6 378.5L74.7 376.5L77.3 377.0L74.8 379.4L67.4 381.0zM60.7 392.2L59.4 389.5L61.2 386.6L61.6 385.1L63.1 386.6L63.0 389.1L62.0 390.5zM93.3 390.6L94.0 389.7L97.7 389.1L98.5 390.5L97.8 391.6L95.2 391.7z" fill="#4646a8"/></g>
<filter id="gr2" x="100" y="361.7" width="60" height="53.10000000000002" filterUnits="userSpaceOnUse" color-interpolation-filters="sRGB"><feTurbulence type="fractalNoise" baseFrequency="0.9" numOctaves="1" seed="52"/><feColorMatrix type="matrix" values="0 0 0 0 0.5  0 0 0 0 0.5  0 0 0 0 0.62  1.8 0 0 0 -0.85"/></filter>
<filter id="mt2" x="100" y="361.7" width="60" height="53.10000000000002" filterUnits="userSpaceOnUse" color-interpolation-filters="sRGB"><feTurbulence type="fractalNoise" baseFrequency="0.35" numOctaves="2" seed="92"/><feColorMatrix type="matrix" values="0 0 0 0 0.42  0 0 0 0 0.42  0 0 0 0 0.74  3.0 0 0 0 -1.25"/></filter>
<rect x="100" y="361.7" width="60" height="53.10000000000002" fill="#c0c0de"/>
<rect x="100" y="361.7" width="60" height="53.10000000000002" fill="#000" filter="url(#mt2)" opacity="0.55"/>
<rect x="100" y="361.7" width="60" height="53.10000000000002" fill="#000" filter="url(#gr2)"/>
<g filter="url(#bl)"><path d="M119.6 399.7L118.2 399.4L118.5 396.3L118.7 394.8L121.6 395.7L121.9 397.3zM157.7 408.7L156.6 406.3L159.4 404.3L159.9 405.0L160.0 407.0zM124.2 371.8L124.4 369.8L125.5 368.5L127.0 370.0L125.3 372.7zM141.8 400.7L137.9 401.9L133.6 398.1L135.9 397.0L139.3 398.7zM114.6 391.2L115.1 389.4L118.2 386.4L120.8 384.9L121.0 386.1L119.1 388.9L116.7 390.1zM126.4 378.9L124.7 379.2L122.8 377.7L123.7 375.0L124.6 375.2L127.3 376.4zM151.7 398.2L150.7 395.8L152.7 392.6L154.5 392.3L157.9 393.0L155.1 397.6L153.2 398.8zM119.8 403.8L119.1 401.7L120.1 400.0L122.8 399.2L122.2 401.4L122.0 403.3zM143.4 370.5L142.1 369.5L141.6 368.5L142.5 366.9L144.1 367.2L145.5 367.8L145.1 370.3zM129.4 385.2L130.1 383.0L133.9 382.9L134.5 383.6L134.5 384.6L130.4 385.9zM135.2 373.5L133.2 371.0L132.0 367.9L133.0 366.0L136.0 369.0zM104.2 400.0L102.0 398.9L100.0 396.1L100.1 393.0L103.1 394.6L103.9 396.5zM108.6 393.3L106.4 391.3L107.2 389.6L109.0 389.2L110.2 391.0zM125.5 362.9L125.7 362.4L127.5 361.7L128.5 361.7L128.6 362.4L127.2 363.4L125.1 363.9zM129.8 394.0L129.2 393.8L130.6 390.8L131.4 391.1L132.5 392.1L131.7 393.4zM106.5 409.1L106.7 406.5L111.2 404.7L111.3 407.1L109.3 408.7zM120.2 398.3L117.1 397.6L114.2 395.2L114.7 394.2L118.1 395.0zM108.5 407.1L105.8 406.3L105.8 405.3L105.6 401.7L106.9 401.6L108.0 403.4L109.1 406.7zM130.3 405.9L127.4 403.7L126.0 402.1L127.6 398.5L128.3 399.1L130.7 403.4zM114.6 386.5L112.1 386.7L109.2 384.9L110.4 381.7L114.3 383.3zM140.1 404.5L140.8 402.2L141.3 401.3L144.7 400.2L145.6 401.2L144.6 401.8L139.8 405.4zM124.4 365.4L123.1 365.9L119.1 364.0L118.5 363.5L120.5 363.1L122.9 363.4zM100.0 376.0L100.0 374.4L102.2 373.3L104.1 372.7L104.0 375.9L101.5 376.2zM114.8 406.2L113.8 408.0L112.1 407.6L111.6 405.3L112.5 404.6L114.8 404.1L115.7 405.0zM140.8 392.1L139.3 391.5L138.7 388.7L139.3 386.1L140.2 385.9L141.2 388.3L141.1 390.8zM105.4 366.6L103.6 367.4L100.7 365.2L100.5 363.3L103.5 364.0L105.2 364.8zM159.9 382.4L159.0 384.5L155.6 384.3L154.2 383.8L155.4 381.7L156.5 381.3L158.3 381.0zM142.0 381.5L140.9 378.7L141.1 376.8L141.9 375.7L142.5 377.2L142.4 380.1zM127.0 365.0L126.1 363.8L128.9 361.7L130.2 363.0L129.1 364.9zM100.0 391.3L100.0 388.4L101.5 388.3L102.0 390.2L100.1 391.8zM100.0 382.4L101.5 378.6L104.5 378.6L106.6 380.2L102.3 382.4zM110.0 370.0L108.5 367.9L108.6 365.9L110.0 364.6L111.0 366.2L110.8 368.9zM132.5 408.6L131.9 407.7L135.0 406.7L136.5 407.8L136.3 409.3L133.8 409.2L132.4 409.2zM100.5 381.7L100.0 380.1L100.5 376.8L102.0 375.0L104.2 376.4L104.2 379.4zM146.9 375.4L146.2 374.9L145.1 371.2L145.0 369.8L145.8 369.6L147.3 371.8L147.7 373.2zM126.0 364.4L124.7 362.0L126.3 361.7L129.1 361.7L129.1 362.9L127.2 364.6zM134.9 388.9L133.6 387.4L131.3 384.4L130.9 381.2L130.9 380.3L133.1 383.2L134.8 386.9zM149.4 395.6L148.4 394.2L148.3 393.1L150.2 392.4L150.6 393.0L150.6 394.1zM117.4 376.8L118.1 376.0L120.3 375.2L121.1 375.3L120.7 376.6L119.0 377.4zM117.6 385.8L115.8 386.5L114.7 386.7L113.9 382.9L115.1 382.4L117.7 382.9zM119.8 403.1L119.0 404.4L116.3 403.9L112.7 399.0L114.5 398.5L116.5 399.5L120.5 402.1zM117.3 413.8L118.8 411.6L123.2 409.3L125.4 410.7L122.4 412.9L121.3 413.9zM156.3 383.8L156.0 382.4L158.2 377.3L160.0 376.3L160.0 378.4L158.7 382.2zM156.4 406.2L154.2 405.4L153.8 403.5L154.0 400.6L155.4 402.3L156.8 405.5zM100.0 391.4L100.0 388.8L100.5 388.2L103.3 388.5L104.3 389.5L100.6 391.8L100.0 392.0zM127.8 408.0L127.4 407.2L128.7 405.7L130.3 405.7L130.2 407.8L129.9 408.2zM121.7 409.0L122.9 406.3L125.6 405.9L128.1 407.6L127.5 409.8L123.2 411.5zM150.4 399.4L149.8 397.8L150.7 395.8L151.8 395.2L152.1 397.4L151.2 399.2zM119.2 400.3L117.6 397.9L118.9 396.3L120.4 396.5L120.5 400.0zM149.2 410.6L148.3 410.9L146.3 408.6L146.2 407.0L147.5 406.9L149.1 407.8L149.9 408.7zM127.9 414.8L124.8 414.1L123.0 410.8L124.1 409.7L125.2 410.8L128.2 414.8zM153.3 399.6L152.8 397.8L152.5 395.4L155.4 395.3L155.1 397.8zM122.2 395.9L121.0 397.5L120.3 397.4L118.6 395.9L119.6 395.4L121.4 395.0zM130.8 379.7L133.3 378.3L137.7 377.2L136.9 379.2L133.6 380.0zM159.4 409.7L158.0 410.5L156.6 408.3L156.1 407.3L156.9 406.8L158.7 406.9L160.0 408.6zM157.4 371.0L154.8 367.7L155.6 364.7L157.6 363.1L159.2 369.7zM112.7 411.6L113.3 409.9L115.7 409.2L116.8 410.2L115.7 412.3L112.9 412.2zM150.4 409.4L148.7 409.1L147.0 407.8L147.9 406.9L149.5 406.3L150.9 408.1zM152.8 369.8L153.9 367.7L155.6 366.9L158.4 366.4L156.8 368.5L155.4 368.9zM104.2 370.2L102.7 369.3L105.0 366.0L108.6 366.0L108.1 367.9L105.9 370.6zM149.9 383.8L151.0 382.2L152.1 381.9L154.8 383.0L154.1 384.5L151.7 385.4z" fill="#35359c"/><path d="M150.5 364.0L148.7 363.5L146.0 362.9L145.0 361.7L147.3 361.7L149.0 361.7L150.2 362.4zM112.7 393.5L113.7 391.5L115.1 389.6L117.3 388.4L117.4 390.2L115.1 392.8zM138.4 406.3L136.4 405.7L137.7 400.3L139.9 399.4L140.8 400.8L139.9 404.6zM154.0 381.1L154.5 379.7L156.4 378.7L158.4 378.2L158.1 380.0L154.8 381.7zM103.9 401.0L101.3 399.8L100.0 397.7L100.6 396.3L103.6 399.3zM109.7 376.1L110.1 377.1L105.0 374.5L104.2 373.4L105.7 372.5L107.7 373.2L109.8 374.3zM130.3 406.2L128.8 406.8L127.2 404.0L128.0 402.5L130.2 402.5L132.0 404.4zM144.2 365.3L143.5 365.8L141.9 364.3L141.4 362.2L143.3 363.2L144.6 364.7zM147.4 379.8L145.0 379.5L143.5 377.6L144.5 376.4L146.7 376.9zM144.2 413.0L143.6 413.6L142.2 411.6L142.0 410.3L144.4 410.5L145.5 412.1zM112.3 414.1L111.9 411.3L112.7 407.8L114.4 406.5L115.2 407.6L114.4 410.3zM137.5 394.1L136.8 394.4L134.1 392.7L132.8 391.3L134.1 390.6L137.0 392.5zM121.5 376.5L119.1 377.3L118.1 377.5L117.6 375.7L119.5 373.6L121.2 374.6zM129.6 403.9L129.8 401.2L131.6 399.9L134.1 398.3L134.7 400.2L132.7 403.5z" fill="#4646a8"/></g>
<filter id="gr3" x="161.5" y="361.7" width="58.5" height="53.10000000000002" filterUnits="userSpaceOnUse" color-interpolation-filters="sRGB"><feTurbulence type="fractalNoise" baseFrequency="0.9" numOctaves="1" seed="53"/><feColorMatrix type="matrix" values="0 0 0 0 0.5  0 0 0 0 0.5  0 0 0 0 0.62  1.8 0 0 0 -0.85"/></filter>
<filter id="mt3" x="161.5" y="361.7" width="58.5" height="53.10000000000002" filterUnits="userSpaceOnUse" color-interpolation-filters="sRGB"><feTurbulence type="fractalNoise" baseFrequency="0.35" numOctaves="2" seed="93"/><feColorMatrix type="matrix" values="0 0 0 0 0.42  0 0 0 0 0.42  0 0 0 0 0.74  3.0 0 0 0 -1.25"/></filter>
<rect x="161.5" y="361.7" width="58.5" height="53.10000000000002" fill="#c0c0de"/>
<rect x="161.5" y="361.7" width="58.5" height="53.10000000000002" fill="#000" filter="url(#mt3)" opacity="0.55"/>
<rect x="161.5" y="361.7" width="58.5" height="53.10000000000002" fill="#000" filter="url(#gr3)"/>
<g filter="url(#bl)"><path d="M165.9 414.8L168.5 411.0L170.5 411.0L172.6 411.6L168.6 414.4zM161.5 405.4L161.5 403.9L165.5 402.7L166.8 403.5L164.4 405.5L162.5 406.4zM207.4 367.7L208.1 364.5L210.8 364.5L211.3 365.8L209.0 368.0zM168.4 373.9L171.5 371.7L175.7 371.7L176.7 372.8L176.4 374.0L171.1 374.9zM208.1 389.2L207.4 387.4L207.3 385.3L210.9 384.7L211.3 387.4L211.0 389.2zM211.7 395.7L209.9 395.9L203.9 395.1L201.2 393.4L203.9 392.4L208.4 393.3zM211.2 409.6L211.2 407.6L214.4 405.2L218.0 403.1L217.4 405.7L214.0 408.3zM207.2 404.0L204.9 404.4L202.8 400.3L203.0 398.9L206.6 400.6zM191.7 370.9L191.1 367.7L193.5 365.9L194.2 368.0L194.1 370.9zM207.8 412.5L205.1 410.5L204.1 408.7L205.5 407.1L207.3 410.0zM210.1 369.6L207.9 368.5L206.4 368.2L204.4 365.2L205.1 364.3L207.1 364.1L209.2 366.8zM193.1 391.5L191.3 391.9L187.5 388.0L189.8 387.2L191.9 388.1zM212.8 388.3L213.5 385.4L216.0 381.9L217.2 381.6L218.9 382.4L217.9 386.8L217.0 387.4zM188.4 375.1L187.2 375.4L184.5 372.8L185.4 372.2L189.4 373.6zM213.1 387.3L213.5 383.2L215.1 380.9L218.4 381.7L218.0 383.6L217.4 386.9zM182.7 390.8L183.8 389.3L186.7 387.9L189.2 389.2L184.1 391.5zM197.3 388.6L194.5 388.2L194.4 385.5L196.1 382.7L197.7 384.1L197.3 386.3zM210.3 373.2L208.5 373.6L205.1 372.1L204.8 371.4L205.9 370.8L209.9 372.1zM170.2 378.2L169.1 378.5L167.4 377.5L167.8 376.3L169.8 376.8zM209.3 381.5L209.5 379.2L215.5 377.9L214.4 379.9L212.4 383.0zM195.2 365.6L194.4 364.8L195.4 363.2L197.0 361.7L198.4 362.8L198.3 364.3L196.3 366.2zM197.3 387.0L197.3 384.8L198.6 382.7L199.6 384.3L199.4 386.4zM211.3 370.1L211.3 367.5L212.0 366.0L213.6 365.9L214.9 367.2L213.5 368.6zM171.5 414.8L170.8 413.9L172.2 412.3L173.5 412.2L174.9 414.5L174.3 414.8zM168.2 375.3L165.7 376.8L163.7 376.2L162.8 373.9L165.9 372.3L166.9 374.4zM161.5 366.8L162.4 365.0L164.4 364.0L166.9 365.6L165.2 368.3L162.3 368.2zM166.9 414.8L166.1 414.5L166.6 411.8L168.8 411.7L168.8 414.1L167.3 414.8zM163.6 367.4L161.5 366.6L161.5 365.8L161.5 363.9L162.4 363.5L163.7 365.3zM213.6 404.1L212.3 401.1L212.4 398.6L214.9 395.7L215.8 397.7L215.6 401.1zM170.9 403.4L171.4 401.5L172.6 399.9L175.2 401.3L173.2 404.6zM195.3 366.9L194.2 365.4L200.7 364.8L201.6 366.6L199.8 367.8L194.8 368.2zM169.4 409.0L170.6 406.0L174.0 405.2L174.4 407.8L172.4 409.4zM205.5 371.0L204.9 371.6L205.2 369.7L206.7 367.4L207.5 368.4L207.3 370.3L206.3 372.0zM203.5 402.2L203.2 403.1L199.0 400.3L198.6 398.7L200.9 398.6L202.7 399.9zM196.4 363.6L196.2 362.3L201.0 361.7L202.8 361.7L201.7 363.0L197.9 364.3zM161.9 414.4L163.5 412.8L164.9 413.0L166.0 414.8L164.0 414.8zM169.7 414.8L170.7 413.6L173.3 412.4L174.5 413.4L173.0 414.8zM190.4 372.4L189.4 373.4L187.3 373.2L186.3 370.4L187.3 370.4L189.7 371.5zM200.8 375.1L200.3 376.7L196.2 376.4L195.2 374.8L195.9 373.5L198.7 374.3zM174.0 380.4L172.8 382.0L169.4 382.4L165.2 381.7L163.3 379.8L167.9 378.5L170.3 378.5zM210.6 406.1L210.3 404.0L211.6 401.9L213.2 400.4L215.0 400.5L214.4 403.4L212.9 406.2zM170.8 395.8L167.5 397.2L164.8 396.6L162.6 395.5L166.1 393.7L169.6 394.6zM192.6 366.9L191.5 366.6L189.6 361.7L189.8 361.7L190.8 361.7L191.6 361.7L193.0 365.0zM172.4 370.3L170.0 370.7L166.5 370.2L164.4 368.0L165.4 367.1L168.0 366.7L170.7 367.9zM176.8 402.8L176.9 403.7L173.8 403.4L171.0 402.1L172.4 400.2L174.5 399.9L177.3 401.7zM185.2 377.0L185.2 374.7L187.1 374.3L190.7 375.0L190.6 376.6L187.9 378.5L185.7 377.9zM214.0 410.4L214.5 409.6L216.4 408.9L218.2 409.8L217.5 411.4L215.7 411.2zM198.4 366.2L197.2 367.0L194.5 365.0L195.3 363.8L199.1 364.1zM192.0 362.4L189.9 364.9L188.6 363.9L187.7 362.4L188.5 361.7L189.3 361.7L191.6 361.7zM197.0 375.2L197.0 376.2L194.5 374.7L193.6 372.5L194.6 370.8L196.4 372.1L197.5 372.3z" fill="#35359c"/><path d="M184.2 392.5L181.6 393.5L179.8 390.6L179.4 389.4L181.6 388.5L182.9 389.9zM215.8 373.8L217.3 371.8L218.6 372.2L220.0 371.5L220.0 372.5L219.3 374.4L216.5 373.8zM218.2 386.3L215.0 387.2L213.4 386.5L213.2 384.3L215.8 382.8L217.2 383.9L219.0 385.2zM194.1 388.5L192.1 386.7L192.5 382.6L194.2 382.5L195.0 383.9L195.1 387.4zM193.5 406.7L193.5 402.0L194.7 399.0L195.7 399.9L195.5 403.4zM178.8 408.8L176.7 406.6L178.8 404.2L181.7 404.6L181.0 406.7zM208.0 363.4L207.9 365.1L201.9 364.4L201.8 363.3L204.4 361.7L206.9 361.8zM217.0 365.6L216.1 364.9L216.6 361.7L218.5 361.7L218.4 364.4zM192.1 381.8L191.0 380.4L193.8 377.7L196.9 376.4L196.2 377.9L194.0 380.9zM204.2 390.3L204.0 387.7L204.6 386.3L205.7 386.9L206.0 389.4zM186.9 412.5L185.3 409.3L186.3 407.1L187.2 406.0L188.8 405.7L189.1 408.6L187.5 412.3zM218.7 411.0L216.4 413.2L213.0 412.8L212.7 409.6L216.7 410.3zM192.0 369.6L191.8 366.7L194.3 366.4L195.2 366.5L197.0 367.0L195.9 369.4L192.8 370.2zM220.0 399.3L218.0 400.3L216.9 398.3L219.8 395.4L220.0 398.4zM176.1 364.2L173.9 363.5L174.6 361.7L175.2 361.7L178.3 361.7L178.6 363.7zM169.3 407.8L167.8 408.0L169.9 403.6L171.2 404.2L171.4 406.0L170.1 409.1zM201.1 410.5L199.6 410.0L199.5 406.2L200.1 402.7L201.8 406.0L201.9 410.2zM162.5 364.3L161.8 363.8L164.9 361.7L167.3 361.7L166.3 362.3L164.0 364.3z" fill="#4646a8"/></g>
<filter id="gr4" x="221.6" y="361.7" width="58.900000000000006" height="53.10000000000002" filterUnits="userSpaceOnUse" color-interpolation-filters="sRGB"><feTurbulence type="fractalNoise" baseFrequency="0.9" numOctaves="1" seed="54"/><feColorMatrix type="matrix" values="0 0 0 0 0.5  0 0 0 0 0.5  0 0 0 0 0.62  1.8 0 0 0 -0.85"/></filter>
<filter id="mt4" x="221.6" y="361.7" width="58.900000000000006" height="53.10000000000002" filterUnits="userSpaceOnUse" color-interpolation-filters="sRGB"><feTurbulence type="fractalNoise" baseFrequency="0.35" numOctaves="2" seed="94"/><feColorMatrix type="matrix" values="0 0 0 0 0.42  0 0 0 0 0.42  0 0 0 0 0.74  3.0 0 0 0 -1.25"/></filter>
<rect x="221.6" y="361.7" width="58.900000000000006" height="53.10000000000002" fill="#c0c0de"/>
<rect x="221.6" y="361.7" width="58.900000000000006" height="53.10000000000002" fill="#000" filter="url(#mt4)" opacity="0.55"/>
<rect x="221.6" y="361.7" width="58.900000000000006" height="53.10000000000002" fill="#000" filter="url(#gr4)"/>
<g filter="url(#bl)"><path d="M263.7 368.2L262.5 367.5L260.9 365.4L261.8 364.4L263.1 365.1L264.4 367.6zM265.0 379.6L263.0 378.6L260.1 376.5L258.8 375.5L260.4 373.3L262.2 374.3L264.1 377.7zM231.4 394.7L232.3 392.7L234.3 390.5L238.6 390.5L237.7 392.2L234.8 394.4zM251.5 367.0L248.4 367.2L247.2 365.6L247.6 363.7L249.9 364.1zM268.8 368.6L266.2 368.4L265.5 367.0L264.0 364.9L265.4 363.8L266.1 364.0L268.9 366.5zM254.9 408.8L254.8 406.8L258.0 405.2L259.9 405.3L258.7 408.4L257.1 409.0zM280.5 396.3L279.1 396.5L276.2 394.1L276.7 392.8L277.5 391.9L279.5 392.3L280.5 394.2zM271.9 386.1L269.8 386.9L267.1 385.6L266.7 384.2L268.2 383.4L272.0 385.0zM272.2 369.0L269.0 371.3L264.7 369.9L266.0 367.9L268.3 368.1zM236.3 380.7L235.5 381.0L231.7 381.8L231.5 380.8L231.0 378.9L233.4 378.0L234.3 377.9zM241.7 399.0L241.1 397.5L242.9 395.8L244.4 397.1L242.8 398.9zM231.3 401.7L229.7 400.8L229.1 398.5L229.1 397.1L230.9 397.2L232.0 399.2zM275.4 404.2L274.0 404.2L271.1 402.6L268.8 401.6L270.6 401.0L274.3 402.5zM254.7 375.6L254.5 373.2L256.8 369.9L257.7 371.4L257.2 374.7zM279.2 394.4L278.5 391.7L277.5 388.8L279.5 385.2L280.5 386.6L280.5 390.7zM243.2 363.6L242.7 364.3L239.8 364.1L239.4 363.6L239.7 362.1L240.2 361.7L244.3 362.5zM237.6 377.8L236.3 376.0L236.5 372.1L237.6 373.2L238.9 377.6zM225.4 379.6L224.5 379.2L225.5 374.6L226.4 372.6L227.3 375.3L226.3 377.5zM227.3 398.0L226.8 398.8L225.4 398.7L223.9 397.5L225.2 396.1L227.3 396.1zM261.4 370.1L259.4 369.6L258.0 366.7L257.8 364.2L259.7 364.5L261.0 366.4zM259.0 408.4L258.4 404.8L259.5 402.3L261.8 401.6L261.3 405.5zM237.6 379.5L236.5 379.9L233.1 379.2L232.6 378.0L233.9 377.4L237.5 378.4zM266.2 405.3L264.4 405.4L262.8 402.9L262.5 402.2L263.8 400.8L266.0 401.9L266.8 403.4zM248.7 367.3L249.2 366.6L250.9 365.5L253.2 366.2L253.1 368.4L251.7 368.7L250.2 369.1zM267.6 380.0L268.9 378.8L270.6 378.5L271.1 379.0L271.6 380.2L269.3 381.1zM253.2 364.5L255.4 362.1L257.2 361.7L259.4 361.7L260.1 361.9L257.8 363.5L254.8 364.6zM221.6 393.2L222.2 391.3L223.2 389.9L225.3 390.9L226.7 391.5L223.6 393.9zM256.2 365.6L255.7 364.5L257.5 363.1L259.4 363.0L258.9 364.8L257.4 366.6zM266.5 396.2L264.5 396.5L263.5 396.4L263.0 393.8L262.5 392.4L265.5 392.8L266.1 394.2zM246.0 362.6L247.1 361.9L248.5 361.7L249.5 362.3L248.7 363.9L247.2 364.1zM221.6 384.8L221.6 383.9L224.4 382.6L224.2 385.8L222.5 386.3zM274.7 406.6L272.4 405.5L272.2 403.2L273.2 402.2L274.7 404.4zM267.8 380.8L267.5 378.7L267.3 376.3L269.1 374.3L269.6 376.5L269.4 379.0zM263.7 384.2L263.0 382.6L265.4 380.1L266.0 378.8L268.2 379.0L266.9 382.0L264.1 384.4zM265.8 409.4L264.0 410.3L262.1 408.1L261.5 405.5L264.0 406.1L265.3 406.0zM226.7 405.2L224.9 406.3L221.9 403.5L224.3 401.8L226.7 403.1zM233.0 398.7L232.1 396.6L233.5 394.6L235.0 392.3L235.0 394.9L234.0 397.5zM276.0 367.1L275.9 365.8L276.6 364.7L278.4 363.2L278.7 365.3L277.7 366.7zM260.1 405.7L259.1 407.1L257.1 407.0L256.3 405.6L258.6 403.5L259.6 404.8zM243.8 399.8L241.7 398.9L240.3 396.2L240.5 394.4L241.6 394.5L243.1 396.9zM229.2 414.8L227.2 414.8L224.7 414.5L224.1 413.2L225.6 412.8L227.4 413.3zM254.7 369.9L256.1 368.8L259.2 369.1L259.7 370.1L255.9 371.1zM265.8 389.6L268.6 388.4L270.9 388.4L270.6 389.7L268.6 389.8zM227.6 378.6L224.8 379.9L224.2 379.1L223.9 377.5L226.3 377.6zM244.5 406.9L244.7 405.3L246.3 405.3L248.2 407.4L246.7 408.5L245.0 408.6zM246.3 405.7L244.1 405.9L241.8 404.2L241.2 402.6L243.3 401.8L245.0 402.9zM226.5 386.4L226.8 383.9L227.8 382.1L229.9 382.3L230.2 383.5L227.7 385.6zM268.3 387.3L266.2 387.2L264.5 385.7L264.0 384.4L264.1 382.8L267.5 384.2L268.8 386.4zM234.2 406.8L233.4 406.7L231.5 404.3L231.9 403.5L232.9 403.4L233.9 405.0zM249.1 384.2L248.6 385.8L244.7 385.7L242.5 384.7L244.7 383.4L246.7 383.2zM224.5 365.9L222.6 364.7L222.1 364.0L221.6 361.9L222.6 361.9L224.5 364.4zM237.8 374.6L238.4 373.0L241.0 371.6L244.2 371.1L241.3 373.9L239.4 374.3zM237.0 414.8L234.6 414.8L233.0 414.8L231.9 413.3L234.7 412.7L235.5 413.6zM237.3 407.0L239.0 405.2L241.6 404.7L241.7 405.4L240.1 407.3zM255.4 410.2L255.4 408.5L256.7 406.5L258.3 406.0L258.4 407.6L256.6 410.3zM246.5 397.7L245.6 398.3L243.7 398.5L242.6 397.0L242.8 395.7L245.3 395.5zM241.9 374.0L240.9 372.5L241.0 371.0L242.8 370.5L244.2 371.6L243.8 372.6zM246.2 414.8L245.4 413.3L245.5 412.5L246.1 408.8L248.4 411.1L248.0 414.8zM267.6 369.9L267.9 366.6L269.4 365.8L272.1 366.3L271.3 368.9L270.1 370.2zM237.3 370.1L236.1 370.9L232.8 368.4L233.1 366.9L234.7 367.1L236.2 368.1zM230.0 399.1L229.2 397.5L229.9 394.8L231.0 394.5L232.0 395.1L231.8 397.7zM246.8 377.1L244.9 376.5L244.3 375.7L244.7 373.4L246.8 373.5L247.8 375.2zM231.7 377.6L230.1 376.7L229.4 374.1L230.6 372.8L233.5 373.8L233.5 375.3zM224.5 382.6L223.4 381.9L222.6 379.1L224.7 378.3L225.7 381.5zM247.5 413.9L246.7 412.5L246.2 411.7L246.8 408.0L247.8 408.8L248.5 410.4L248.9 413.6zM224.0 392.8L221.9 392.4L221.6 391.1L221.6 388.8L222.0 388.2L223.5 388.6L224.4 390.8zM242.9 369.7L242.2 367.9L242.6 365.7L243.3 365.3L243.9 367.0L243.8 369.0zM256.0 406.8L255.2 407.6L252.9 406.9L251.3 405.5L250.7 404.7L254.4 404.3L255.6 405.3zM236.4 373.7L234.7 373.8L234.8 371.9L236.4 370.2L237.1 371.2L238.7 372.6zM236.1 407.6L236.0 405.7L237.8 404.4L238.7 405.9L238.6 408.5zM237.0 390.5L235.1 390.5L232.8 389.1L232.1 387.4L232.4 387.0L236.3 388.5zM268.7 369.8L268.4 367.2L269.2 364.3L271.3 364.0L272.3 364.0L271.9 366.7L271.1 367.8zM259.8 370.7L257.9 371.6L255.2 371.7L254.8 370.1L256.5 369.3L259.5 369.6zM248.3 407.5L246.9 408.2L245.8 408.5L244.8 407.0L245.8 405.4L247.0 404.9L247.8 406.2zM278.8 414.2L277.5 414.2L279.3 409.6L280.1 409.2L280.5 409.7L279.9 413.9zM251.2 402.0L250.2 400.3L249.7 398.3L250.2 396.1L251.4 397.0L252.5 399.1L252.5 399.6zM225.0 392.3L222.9 391.3L223.1 386.0L225.7 386.2L226.8 388.9zM268.7 407.8L269.5 406.6L272.7 405.2L274.0 405.3L274.1 407.3L271.1 409.1zM274.1 368.0L272.9 366.4L273.1 365.6L275.3 364.8L276.2 365.9L274.8 368.0zM251.8 364.5L252.2 363.7L254.7 363.2L255.6 363.7L254.3 365.7L253.1 365.3zM244.4 406.8L241.3 407.3L240.5 405.9L241.9 403.9L243.5 405.1zM224.0 394.4L221.6 393.9L221.6 393.0L221.6 391.4L221.8 390.7L223.8 391.7L223.7 393.1zM237.6 393.4L237.4 394.0L233.7 392.9L234.5 392.4L235.5 391.4L237.8 392.3zM241.6 380.5L239.7 380.4L239.5 378.5L239.6 377.9L240.1 377.1L241.3 377.9L241.6 379.2zM242.2 390.3L240.8 389.0L240.4 386.8L240.8 384.9L242.9 384.8L243.9 385.7L242.5 388.4zM240.4 405.6L239.8 404.7L241.7 402.5L243.3 403.2L243.2 404.6L241.9 405.7zM222.7 381.9L221.6 382.1L221.6 380.1L221.6 379.8L221.6 378.2L222.5 379.9L223.4 381.4zM256.2 373.5L255.2 372.3L255.1 370.4L255.8 368.1L257.2 368.4L257.7 369.6L256.8 372.5zM222.7 376.7L222.2 375.5L221.9 373.9L223.8 372.5L226.2 374.0L226.4 375.1L225.1 376.6zM229.9 373.5L230.8 371.1L231.7 370.8L233.6 370.8L233.4 372.8L232.3 372.8zM231.5 388.2L230.3 387.2L231.3 382.6L232.3 381.9L233.1 384.5L232.0 386.7zM259.1 366.1L257.3 366.6L257.3 365.2L257.7 363.9L259.1 364.0L260.2 365.0zM264.1 399.2L263.1 397.0L263.5 394.4L265.1 394.1L264.8 397.7zM229.2 414.8L229.7 413.6L231.4 411.7L232.0 411.8L232.4 413.2L230.7 414.5zM248.9 364.1L251.0 362.5L253.0 362.9L254.6 364.4L253.8 365.4L249.3 364.9zM239.4 376.5L237.5 377.2L236.5 375.7L236.8 374.0L238.2 374.1L239.8 375.0zM248.7 379.2L248.2 375.8L248.9 374.1L251.5 373.1L252.0 374.9L251.0 377.0zM274.0 392.8L273.6 390.8L273.7 389.8L275.0 386.9L276.1 389.6L275.3 392.8zM232.9 397.9L233.9 395.7L235.5 394.4L238.4 394.8L238.9 396.6L234.4 399.2zM244.6 386.5L243.9 385.4L242.0 380.6L243.0 379.2L244.5 380.3L245.4 382.3zM268.2 367.6L267.4 368.1L265.5 366.8L265.5 365.6L267.4 366.2zM271.2 391.4L268.1 389.5L267.3 383.0L269.3 383.0L271.0 386.7zM227.0 414.1L223.9 412.9L222.9 411.2L221.7 409.4L223.9 409.5L226.4 411.3z" fill="#35359c"/><path d="M240.0 410.8L238.8 406.8L239.2 403.8L241.6 402.3L242.6 403.6L241.8 406.5zM233.9 412.4L232.9 412.4L231.1 408.6L230.1 407.0L231.9 406.6L233.6 409.1L234.8 411.3zM280.5 399.6L279.0 400.4L275.0 398.6L274.9 396.7L276.8 396.3L279.8 396.3zM275.5 385.5L274.7 384.4L274.6 382.7L275.8 381.4L276.8 382.9L276.8 385.4zM230.4 370.5L231.9 369.1L233.3 368.4L236.3 369.2L235.1 370.3L231.3 371.3zM274.4 401.6L273.2 402.0L271.2 401.3L271.2 399.0L273.0 399.0L275.5 399.7zM243.8 409.4L242.6 408.2L242.2 407.2L242.2 405.2L243.9 406.8L244.6 408.8zM263.8 409.7L262.0 410.7L260.5 409.0L260.4 406.8L261.8 405.9L264.0 408.8zM275.1 402.5L273.5 401.6L274.4 398.9L275.7 398.3L277.6 399.9L276.6 402.4zM253.9 413.3L252.5 414.4L251.4 413.1L252.4 411.2L254.2 412.3zM238.6 377.0L237.3 377.3L235.1 374.8L236.0 373.2L236.8 373.3L238.8 375.4zM255.2 374.7L253.0 374.4L251.8 373.0L250.3 371.0L251.6 370.2L252.9 370.4L256.0 373.7zM266.7 370.2L265.2 371.2L260.1 369.0L260.9 366.5L265.7 368.1zM250.6 382.9L248.4 382.5L246.8 380.5L246.4 378.8L247.9 379.3L249.3 380.3zM226.2 399.4L224.2 400.0L222.5 397.2L222.7 395.7L225.9 398.3zM267.6 388.8L265.2 387.2L264.4 384.6L264.7 383.3L266.2 384.5L267.2 387.0zM221.6 413.6L222.2 412.7L225.8 412.5L226.7 413.9L222.3 414.0zM249.0 375.8L248.1 376.5L245.0 376.8L245.0 374.8L245.7 373.7L248.9 373.5zM230.6 389.9L228.3 390.2L226.7 388.9L223.7 386.9L225.6 386.5L229.8 388.4zM221.6 389.0L221.6 388.9L223.3 387.9L223.5 388.1L224.2 390.0L223.0 390.7L221.6 390.3zM256.9 410.7L256.9 409.1L258.5 408.0L259.9 409.2L258.5 411.1zM233.0 413.0L235.4 412.4L236.0 411.9L238.0 412.2L239.8 413.5L236.5 413.7L233.1 414.0zM222.6 409.5L222.5 408.0L223.5 405.0L225.8 402.5L225.7 403.4L225.6 406.1L224.0 408.3zM277.4 369.1L276.8 367.5L278.3 364.6L280.2 364.1L280.5 364.6L279.9 367.7L277.8 369.9zM237.4 379.5L237.7 377.8L237.9 376.7L239.4 376.2L239.4 377.1L239.0 378.7zM261.8 397.9L261.1 397.2L260.2 393.2L260.4 390.9L262.2 392.7L262.5 396.7z" fill="#4646a8"/></g>
<filter id="gr5" x="40" y="419" width="58.5" height="53.60000000000002" filterUnits="userSpaceOnUse" color-interpolation-filters="sRGB"><feTurbulence type="fractalNoise" baseFrequency="0.9" numOctaves="1" seed="55"/><feColorMatrix type="matrix" values="0 0 0 0 0.5  0 0 0 0 0.5  0 0 0 0 0.62  1.8 0 0 0 -0.85"/></filter>
<filter id="mt5" x="40" y="419" width="58.5" height="53.60000000000002" filterUnits="userSpaceOnUse" color-interpolation-filters="sRGB"><feTurbulence type="fractalNoise" baseFrequency="0.35" numOctaves="2" seed="95"/><feColorMatrix type="matrix" values="0 0 0 0 0.42  0 0 0 0 0.42  0 0 0 0 0.74  3.0 0 0 0 -1.25"/></filter>
<rect x="40" y="419" width="58.5" height="53.60000000000002" fill="#c0c0de"/>
<rect x="40" y="419" width="58.5" height="53.60000000000002" fill="#000" filter="url(#mt5)" opacity="0.55"/>
<rect x="40" y="419" width="58.5" height="53.60000000000002" fill="#000" filter="url(#gr5)"/>
<g filter="url(#bl)"><path d="M89.5 441.7L89.2 440.1L90.0 437.4L91.4 435.4L91.9 436.5L90.4 440.4zM67.3 430.2L66.5 430.6L60.5 427.8L57.7 426.1L61.1 426.9L67.2 428.9zM73.7 459.5L71.3 459.7L69.2 457.6L68.1 455.5L69.8 455.1L72.2 457.1zM52.1 428.6L51.3 428.0L51.9 423.2L52.8 420.9L53.5 423.8L53.1 426.2zM46.4 426.7L41.8 424.5L40.0 419.0L41.1 420.5L42.6 421.8zM72.7 464.8L73.2 464.4L75.1 463.6L77.0 463.3L77.0 464.3L76.1 465.0L73.2 465.2zM42.3 430.3L41.1 425.4L43.0 420.4L43.6 422.9L43.7 425.8zM76.5 441.3L74.5 440.6L70.8 437.9L69.2 435.8L70.6 435.9L73.9 438.5zM74.1 472.6L74.0 472.6L76.7 471.4L79.2 471.4L78.8 472.3L77.6 472.6L75.8 472.6zM98.5 432.6L98.5 432.9L96.0 431.7L92.3 429.2L91.6 427.9L96.5 430.1L98.5 432.4zM65.8 434.0L65.5 430.7L65.7 428.6L67.3 425.4L68.4 427.2L68.0 430.9zM45.0 426.1L42.5 424.3L40.0 421.8L40.0 419.0L40.0 419.0L40.0 419.0L44.1 424.1zM49.7 458.8L49.5 459.5L46.1 459.3L46.9 457.6L48.1 457.1zM92.1 425.2L94.9 424.1L98.5 424.7L98.5 425.9L95.8 427.3zM57.8 431.7L58.5 428.8L59.6 426.7L60.3 426.3L60.5 427.9L59.0 431.0zM76.4 430.7L75.3 431.0L72.8 429.3L72.1 427.9L72.0 426.3L74.4 427.1L76.1 429.0zM63.2 458.4L61.8 459.3L56.0 458.5L56.9 456.9L60.2 457.1zM47.2 468.3L46.4 466.4L47.3 461.1L48.8 462.1L48.7 465.3zM93.4 454.7L90.9 453.4L88.3 450.0L86.6 447.2L88.5 446.8L89.3 446.8L92.4 450.7zM52.0 459.2L52.0 457.4L53.7 452.5L55.5 453.5L54.4 457.7zM44.2 463.4L45.7 460.0L47.0 458.5L48.7 459.1L48.3 460.7L47.0 461.9zM92.2 421.0L90.4 421.6L86.9 420.5L84.7 419.5L87.0 419.0L90.6 420.2zM53.9 467.7L53.0 467.7L49.8 464.6L49.8 463.6L52.0 464.4L54.2 467.4zM93.3 457.0L88.8 457.1L86.3 456.0L82.9 454.6L86.1 454.4L89.9 455.8zM81.0 451.7L78.7 452.1L76.5 451.8L76.3 451.3L77.0 450.8L79.3 451.0zM79.2 429.9L75.6 428.6L72.3 426.1L73.0 425.5L75.9 425.6L78.4 428.1zM55.3 451.4L55.1 450.6L55.9 447.5L56.3 446.9L58.2 447.0L58.4 448.5L56.6 450.6zM48.0 441.0L48.0 440.1L50.5 438.5L51.3 439.0L51.6 440.2L50.6 440.8L48.0 441.6zM94.2 436.0L95.4 432.9L97.6 428.9L98.5 425.7L98.5 426.4L97.9 431.9L96.7 433.1zM95.6 467.2L93.3 464.4L91.8 460.6L90.4 457.2L94.0 460.3L95.8 464.5zM47.5 454.6L44.0 451.8L42.9 450.4L40.8 444.5L43.7 447.3L45.7 450.8zM88.1 468.9L84.9 469.0L80.9 467.3L80.6 465.9L82.7 465.4L86.7 467.6zM98.5 429.0L96.6 427.8L95.3 425.5L94.0 423.2L95.9 423.3L97.1 424.0L98.5 428.2zM57.3 463.5L54.7 462.5L53.6 461.1L51.4 457.7L52.9 456.9L55.6 459.8L57.0 462.7zM70.7 448.6L69.7 447.7L68.2 444.7L67.9 440.9L68.3 440.9L69.5 443.6L71.1 447.2zM85.0 427.0L84.5 423.6L84.3 422.4L85.1 419.5L86.4 419.0L86.1 420.4L86.4 424.0zM98.5 420.3L95.5 421.4L92.4 421.6L91.2 419.1L97.8 419.3zM79.2 424.1L77.1 424.5L72.3 422.8L72.9 421.8L73.3 420.6L78.1 422.2zM97.7 441.7L95.1 439.2L93.0 436.2L94.5 434.9L97.5 438.7zM56.1 471.4L58.7 469.8L62.7 467.8L64.5 468.5L63.8 469.7L60.1 471.0zM92.1 430.8L92.2 432.0L88.8 427.6L88.8 426.0L90.7 426.4L92.5 428.3zM90.7 467.7L89.1 468.2L86.9 465.8L86.2 464.6L87.6 463.8L89.6 465.3zM49.9 468.3L49.4 468.1L50.0 464.7L50.9 462.6L51.5 462.1L51.8 464.6L50.7 469.1zM88.9 421.3L89.4 420.8L90.3 420.2L92.7 420.7L93.3 421.4L90.6 422.3L89.4 422.2zM85.7 448.1L86.4 445.2L87.0 443.9L89.3 440.5L88.8 442.9L89.3 442.7L86.4 447.6zM80.5 447.8L76.9 443.8L75.8 442.8L72.3 438.4L74.5 439.0L76.6 440.9L79.8 445.5zM83.8 452.4L83.2 450.5L86.5 445.6L89.4 444.0L87.9 448.0L85.2 452.9zM61.9 434.3L62.6 432.5L64.0 431.5L66.6 431.7L67.0 432.6L65.4 434.9L63.6 434.9zM62.8 460.0L63.0 457.1L64.4 454.2L65.8 453.9L66.7 454.6L64.6 458.3zM78.6 452.1L78.2 450.1L79.6 445.8L80.7 442.6L80.8 444.7L80.3 447.2L79.7 449.0zM84.6 449.2L82.0 446.7L80.0 443.9L81.6 443.2L83.8 444.9zM52.3 424.5L48.5 423.5L44.6 421.5L43.1 419.0L50.1 421.8zM94.2 448.8L96.1 444.6L98.5 442.6L98.5 442.3L98.5 442.6L96.4 447.9zM91.5 445.5L89.8 443.3L87.9 439.1L86.7 435.4L90.1 440.1L92.2 444.2zM50.9 472.3L49.2 471.9L48.9 468.0L49.3 465.9L50.6 466.3L52.0 471.5zM68.5 434.1L70.2 431.3L72.5 428.9L73.2 429.7L71.3 432.3zM62.5 457.2L59.9 455.6L54.9 451.7L55.1 450.7L60.2 454.6zM87.2 462.5L86.1 463.7L82.5 462.2L82.0 461.7L82.2 459.8L84.5 460.6L87.9 462.4zM68.4 423.4L66.3 422.7L64.3 419.3L63.7 419.0L65.6 419.0L67.8 420.8zM77.0 451.4L76.8 452.4L71.9 447.6L71.1 445.7L74.1 448.0L76.7 449.8zM51.5 430.2L51.3 428.1L53.9 426.8L55.3 428.1L53.7 429.7zM53.8 422.3L53.8 421.8L58.1 421.2L59.8 422.2L59.0 422.5L53.3 423.4zM59.4 448.9L58.5 449.4L55.1 448.1L54.1 447.3L57.6 447.9zM78.7 453.0L77.3 451.6L76.9 450.6L76.5 448.7L77.9 448.4L78.3 449.3L79.0 452.7zM56.4 435.6L55.4 434.9L51.9 430.8L49.5 426.1L50.4 426.9L53.7 430.3L54.5 431.5zM78.0 439.7L79.3 438.7L84.6 438.7L87.6 438.8L88.1 440.7L83.8 440.7L80.1 441.1zM52.9 441.9L55.0 440.8L57.4 440.0L60.5 440.0L60.2 441.0L53.9 442.7zM93.7 458.3L92.3 456.8L92.9 453.0L93.3 449.3L94.4 451.6L94.6 453.4L94.3 456.8zM66.6 427.3L63.6 424.9L61.2 423.0L60.7 421.0L62.4 422.1L66.7 426.3zM41.4 454.1L40.2 452.9L40.0 452.1L40.0 450.2L40.3 449.5L41.3 450.0L41.7 453.5zM58.5 471.1L60.8 469.1L66.8 468.1L69.3 468.4L70.5 469.4L66.9 471.5L62.7 471.7zM90.2 453.4L93.1 452.4L98.5 451.7L98.5 453.1L97.3 454.2L94.4 453.9zM65.3 467.0L66.9 462.5L71.1 458.0L73.4 456.7L72.9 459.4L69.5 463.3zM85.8 445.3L85.4 444.1L87.6 442.4L88.9 442.7L88.6 445.6L85.8 446.5zM75.1 456.1L74.1 455.4L73.7 449.1L73.7 448.4L75.0 450.9L75.4 453.7zM68.5 460.6L66.3 461.4L63.2 460.4L61.6 459.9L64.1 459.4L66.9 459.6zM68.7 441.9L68.0 439.8L68.2 436.7L68.9 434.2L70.1 437.0L69.9 440.4zM70.4 462.8L70.0 459.4L69.8 457.0L70.7 453.5L72.2 454.9L72.3 456.9L71.8 462.3zM87.6 438.2L83.2 437.0L80.8 434.7L79.1 432.8L82.1 433.5L86.5 435.5zM61.7 457.6L60.9 456.8L59.0 449.6L58.8 447.4L59.9 449.3L61.6 454.0zM88.0 437.1L89.4 435.4L91.8 433.7L93.7 432.3L94.1 434.6L91.1 437.4zM85.1 464.8L84.5 463.5L87.0 461.6L87.4 462.5L87.9 464.6L86.4 465.6zM61.9 469.5L61.5 468.2L63.3 464.1L65.3 460.7L65.2 461.8L64.6 465.7L62.4 469.5zM73.5 443.6L72.9 443.6L70.4 440.4L69.5 438.4L72.2 440.1L73.9 443.0zM72.8 438.6L73.6 439.4L70.3 439.1L67.3 437.3L67.1 437.0L70.9 437.4L72.3 437.9zM40.0 472.6L40.0 471.6L43.2 471.6L42.3 472.6L40.6 472.6zM97.9 470.7L96.4 469.4L97.5 465.0L98.5 463.8L98.5 466.0L98.5 469.3zM75.4 422.5L77.9 420.9L80.8 421.0L82.6 421.5L83.2 422.2L77.9 424.1zM59.8 424.9L58.0 424.9L54.3 424.8L51.9 423.3L52.8 422.1L58.5 422.5zM67.3 419.4L67.4 419.0L73.3 419.0L75.1 419.0L73.3 420.2L68.0 420.2zM90.5 445.9L89.0 446.3L87.4 445.6L86.4 444.3L86.7 443.0L90.2 444.1zM95.2 449.7L92.5 449.7L89.0 448.7L88.4 447.6L89.8 447.8L93.4 448.5zM65.8 432.4L66.1 428.6L67.5 425.3L68.9 423.3L69.0 426.2L67.7 431.5zM53.5 425.7L52.3 425.6L48.1 420.4L48.6 419.0L51.0 419.5L52.9 423.5zM77.3 452.9L76.7 452.0L76.1 450.3L75.8 447.4L76.4 446.6L77.9 449.6L78.3 452.6zM63.9 445.2L63.9 442.1L68.5 435.0L68.7 437.2L66.6 440.9zM57.4 443.6L56.8 443.1L57.0 440.8L58.1 439.1L59.3 439.7L59.2 442.6zM40.0 425.4L41.2 424.1L44.9 423.9L45.2 424.8L43.9 425.8L40.0 426.2zM67.6 433.1L66.5 431.8L67.2 428.5L68.6 426.1L69.3 426.4L69.5 429.1L69.2 431.4zM93.7 452.2L91.5 452.6L90.8 451.7L89.6 449.4L91.2 449.5L94.5 452.0zM55.3 472.6L54.9 471.8L56.6 467.0L58.3 464.9L59.7 467.2L57.1 472.6zM94.3 471.3L92.7 469.8L91.8 468.4L93.7 467.7L95.3 470.1zM47.3 425.6L47.9 422.9L49.6 420.3L51.3 420.8L49.1 425.1zM49.6 472.6L50.4 472.3L53.2 469.6L54.9 469.2L52.9 471.8zM97.9 448.6L94.7 443.6L94.9 441.3L96.4 439.9L97.6 442.9zM92.4 453.9L91.1 452.3L90.9 451.0L90.5 448.0L92.0 450.9L93.0 453.0zM64.3 457.1L62.1 455.0L59.9 452.2L59.2 449.0L60.2 449.3L63.4 453.8zM72.5 463.6L68.6 464.5L62.0 463.2L61.9 462.1L69.5 462.6zM68.0 430.6L67.6 429.5L70.1 423.9L71.5 423.0L72.2 424.3L70.6 428.9zM88.2 467.7L88.5 466.1L90.8 464.7L94.8 462.6L94.2 464.7L93.4 465.4L91.1 466.6zM63.0 447.7L61.8 447.7L63.0 443.6L65.5 438.3L67.1 438.1L66.1 444.1L64.2 447.0zM79.6 472.6L77.4 472.6L72.7 471.8L71.8 470.7L73.4 470.2L76.6 471.8zM74.1 444.5L74.7 441.9L78.6 437.6L79.8 436.8L81.4 437.7L78.1 441.9L76.9 444.2zM49.8 451.8L47.6 451.8L43.4 450.1L43.5 448.5L46.9 449.0zM51.1 442.3L50.5 442.7L50.0 439.6L50.2 434.5L51.4 435.7L51.8 438.7L51.9 441.6zM96.9 433.5L96.3 434.4L94.4 432.0L94.2 429.9L95.5 429.8L96.9 432.6zM63.6 429.7L62.4 428.8L60.6 423.2L60.2 421.3L60.7 420.6L62.1 423.5L62.6 425.5zM48.3 422.8L46.6 421.3L45.4 420.2L45.0 419.0L46.7 419.0L48.3 419.7L47.8 420.1zM49.9 449.9L53.3 448.3L58.9 446.7L59.8 446.7L58.3 448.0L53.9 449.4zM94.3 451.8L91.8 450.3L91.7 448.4L92.2 447.2L94.2 449.5zM74.6 421.8L74.8 420.7L78.5 419.0L81.4 419.0L81.3 419.2L79.0 421.0L75.8 422.1zM53.5 472.6L53.8 472.6L54.8 470.9L57.6 467.7L59.1 466.1L57.6 469.6L54.1 472.6zM71.7 447.3L73.4 444.6L78.0 440.9L80.0 439.9L79.4 440.9L75.8 444.5zM94.4 421.4L92.4 421.6L88.0 420.6L83.4 419.2L83.9 419.0L89.1 419.0L94.8 420.5zM60.9 451.1L60.8 449.4L61.9 447.2L64.6 443.8L64.9 447.3L62.6 450.7zM79.8 440.1L80.0 438.3L83.9 437.2L86.3 437.5L84.7 438.7L79.9 441.5zM47.6 467.9L46.4 469.1L44.4 468.3L43.5 465.7L44.1 465.0L47.3 466.0zM48.1 440.7L45.5 438.6L43.2 435.3L42.9 432.4L44.9 434.3L47.1 438.3zM49.8 465.5L51.5 463.9L54.8 462.8L56.5 462.4L55.5 463.7L50.9 466.2zM63.1 421.5L63.5 420.7L65.8 419.0L66.6 419.0L68.0 419.0L67.4 419.8L64.9 422.2zM82.7 430.1L80.9 428.6L78.5 423.9L79.7 423.7L81.9 427.2zM58.8 449.0L58.7 449.2L54.6 446.7L51.9 444.8L51.4 443.2L54.2 444.9L58.1 446.9zM94.7 458.9L96.6 457.6L98.5 456.0L98.5 455.8L98.5 457.0L96.7 459.0zM43.9 443.7L43.7 442.4L44.8 439.5L46.6 438.3L47.1 438.6L45.3 442.9zM60.3 472.0L59.8 469.7L60.9 467.4L62.4 466.7L63.5 467.4L62.7 470.3zM53.8 471.0L56.2 469.5L58.2 469.1L60.5 469.4L59.4 470.2L56.4 471.6zM78.5 445.2L77.8 443.8L77.2 441.8L77.9 439.0L79.6 440.3L80.3 444.9zM80.6 467.2L82.2 465.0L84.9 463.3L85.5 464.0L85.6 466.0L82.3 467.1zM61.3 426.5L59.2 426.3L55.1 421.7L53.6 419.0L56.0 419.8L59.2 422.3zM80.3 424.8L80.7 421.8L81.5 421.0L83.2 419.0L83.4 420.2L81.9 423.7zM42.7 437.2L43.1 433.7L44.9 429.3L47.0 427.2L46.8 429.4L45.3 434.2zM90.8 434.4L89.8 432.4L89.4 429.1L90.4 426.0L91.6 426.3L91.7 428.4L91.1 433.0zM60.0 427.4L60.4 424.1L63.9 420.3L66.4 419.0L64.6 422.6L62.0 425.5zM90.2 427.6L89.7 425.3L91.0 422.7L93.5 422.4L93.7 424.3L92.1 426.5zM43.2 470.4L40.9 470.4L40.0 469.3L40.0 467.5L40.0 466.9L40.0 466.8L41.2 468.4zM43.7 434.3L46.9 433.1L52.9 432.2L52.6 433.4L46.8 434.5zM92.3 445.7L93.1 444.2L96.5 442.2L98.5 442.0L98.2 443.5L94.0 446.2zM56.0 471.3L58.8 466.2L61.9 463.3L63.0 463.5L62.9 464.3L60.0 468.7zM53.8 460.1L51.0 458.3L49.9 457.2L48.0 454.6L47.8 453.2L49.4 454.3L54.0 459.2zM48.8 461.4L48.7 459.1L49.2 456.1L50.5 453.9L50.8 455.8L50.1 459.5zM55.7 464.0L55.4 460.8L56.4 456.6L57.5 454.2L57.3 457.5L56.9 461.5zM48.9 437.7L47.4 435.7L47.5 430.8L49.0 429.3L50.1 434.3zM92.5 450.9L91.9 449.9L94.9 446.4L97.4 444.3L96.5 447.3L93.9 450.0zM53.3 419.8L51.7 420.6L45.0 419.1L43.9 419.0L48.7 419.0zM77.0 422.0L75.7 419.8L76.0 419.0L77.9 419.0L77.6 422.2zM74.1 454.0L74.7 452.3L76.0 450.6L77.8 449.1L78.6 448.6L77.6 451.0L75.3 453.8zM91.0 452.1L91.0 447.8L92.1 446.0L93.7 445.9L93.1 449.5zM67.8 453.7L68.5 453.2L72.9 451.2L76.8 449.7L74.2 451.7L70.5 453.5zM47.7 455.8L48.1 453.4L49.5 451.2L50.6 451.3L49.9 454.7zM90.1 432.7L89.7 429.9L89.0 428.2L89.4 424.1L90.2 424.5L90.8 425.6L90.7 430.4zM68.2 439.9L68.0 436.2L69.2 431.0L69.6 431.1L70.6 430.1L69.0 439.4zM52.8 472.6L49.8 470.7L48.6 468.3L50.2 468.1L52.4 470.5zM65.5 450.4L63.0 446.6L61.4 444.0L61.0 441.3L63.8 443.1L64.7 446.3zM58.2 455.3L59.8 454.9L66.0 453.8L69.1 454.1L65.8 455.4L59.4 456.1zM64.0 472.6L61.5 471.6L58.9 468.0L58.7 466.2L60.9 466.4L63.1 469.6zM78.4 467.4L80.1 462.6L83.9 458.8L84.8 460.9L80.7 465.3zM96.9 453.6L96.5 450.3L97.5 446.3L98.5 443.5L98.5 446.2L98.5 452.7zM87.9 431.3L91.0 429.8L92.3 429.4L95.5 429.8L93.8 431.1L90.3 432.6zM50.9 437.2L50.6 436.4L52.1 432.9L53.3 431.9L53.3 433.1L52.7 435.3zM59.6 452.1L62.2 449.6L66.7 448.5L67.2 449.9L61.7 452.6zM78.2 469.6L77.7 468.0L81.7 466.2L83.2 467.0L81.6 469.5L80.8 469.8zM92.9 434.0L94.9 432.1L96.8 431.5L97.2 431.8L97.5 432.4L95.2 433.5zM68.8 464.6L67.8 464.4L66.0 459.8L65.2 455.9L67.3 459.1L68.9 463.0zM41.0 467.1L42.3 465.5L44.9 463.5L46.1 464.2L45.5 465.9L44.4 466.5zM73.4 459.8L75.1 459.0L77.1 458.3L80.1 458.1L82.5 458.5L77.9 459.8L75.8 460.3zM41.0 466.2L44.6 464.7L48.3 465.1L48.0 465.9L44.3 466.8zM51.5 435.8L48.2 433.8L46.5 430.9L46.0 429.7L47.0 428.4L48.5 430.4L51.7 435.0zM98.5 455.5L96.7 456.3L93.6 455.9L91.8 455.0L91.3 454.1L96.7 454.4zM85.5 461.5L83.2 461.4L82.1 460.9L77.7 458.8L79.3 458.8L81.4 458.9L85.5 460.7zM49.8 471.4L47.0 471.1L41.9 467.0L41.9 465.4L46.4 467.8L47.6 468.8zM95.9 433.1L92.0 432.0L88.1 430.8L88.2 429.4L88.8 428.7L92.8 430.3zM77.4 448.3L75.1 445.9L75.7 444.1L77.2 444.7L77.7 446.6zM61.0 462.3L58.7 461.2L56.7 458.7L56.5 456.3L59.0 458.2L60.8 460.7zM74.3 442.9L72.0 443.2L69.4 440.9L66.8 438.9L69.4 438.2L72.7 441.2zM86.8 462.8L86.3 462.2L88.5 457.3L90.6 455.9L91.0 459.2L89.0 461.2zM43.2 432.2L42.2 431.1L41.6 426.6L42.1 425.5L42.7 425.0L43.6 427.6L44.4 431.8zM60.0 458.6L59.1 452.9L60.1 449.5L61.4 450.5L61.5 452.5zM91.0 444.9L88.5 442.3L87.7 439.5L88.9 439.6L89.9 441.1zM74.1 465.0L75.5 462.9L78.4 462.1L77.7 463.7L76.6 465.0zM77.5 430.2L77.4 428.4L77.5 427.2L78.3 426.1L79.0 427.2L79.1 428.6zM53.4 458.6L52.0 458.3L50.8 457.0L50.7 455.1L52.2 455.5L53.3 456.9zM60.7 462.3L58.3 462.2L56.3 462.3L52.9 461.1L55.1 460.4L58.0 460.3zM75.5 421.6L73.8 421.9L72.2 420.6L72.1 420.3L71.9 419.0L73.7 419.3L75.3 420.7zM41.9 443.1L42.3 441.7L45.9 440.8L48.3 441.0L48.4 442.4L43.8 443.7zM40.0 451.6L40.0 449.7L40.9 446.6L44.2 445.0L41.9 448.6L40.0 451.0zM92.3 436.2L90.7 437.0L83.1 432.0L82.5 430.6L85.6 431.4L88.8 433.1zM43.2 472.6L41.7 472.4L41.1 471.3L40.1 469.4L40.5 468.3L42.3 470.5L43.9 472.6zM53.2 423.6L51.8 422.6L49.2 419.0L49.5 419.0L51.6 419.0zM68.8 431.1L63.6 430.4L61.3 430.3L56.5 428.8L57.5 428.1L62.2 428.5L64.5 429.4zM67.4 471.9L65.8 471.7L65.1 469.8L65.4 467.3L66.3 467.0L67.5 470.8zM47.9 454.8L48.9 451.7L50.0 451.2L53.4 448.8L53.8 449.8L50.4 454.0zM79.8 464.3L78.7 465.0L76.5 461.6L75.4 459.6L76.2 459.1L77.8 460.1L80.9 464.4zM69.4 470.3L67.9 470.3L65.0 468.9L64.9 467.9L67.0 468.3zM53.0 428.4L47.6 427.5L45.5 426.8L42.6 425.7L43.1 424.7L49.3 426.5zM48.9 437.5L49.5 433.1L53.5 429.6L54.3 431.6L52.3 435.6zM74.0 462.2L71.8 461.2L70.5 460.2L70.6 458.3L71.8 457.4L73.7 459.7zM50.6 442.3L51.7 441.5L58.1 441.3L58.0 442.1L52.6 443.2zM93.3 431.8L92.0 432.3L88.5 430.6L90.2 429.6L92.3 430.1zM98.5 440.4L96.9 439.8L93.1 437.7L90.3 435.4L93.6 436.0L98.5 439.1zM87.6 421.7L84.9 421.3L79.4 419.1L78.2 419.0L80.0 419.0L84.1 419.0zM73.7 460.2L74.5 459.6L78.7 457.6L79.2 458.3L80.0 459.3L75.2 460.7zM40.0 464.2L40.0 463.5L40.6 463.1L43.7 463.5L44.5 464.6L41.1 464.7L40.0 464.8zM48.8 468.8L47.9 467.5L49.7 465.4L52.1 465.8L51.4 467.5L50.4 469.5zM90.8 450.0L88.8 449.3L85.6 448.3L82.2 445.2L83.1 444.4L84.8 444.9L90.7 448.4zM55.1 423.7L55.4 422.4L56.4 420.7L59.6 419.5L59.7 421.7L56.6 424.1zM88.8 443.2L88.8 441.4L89.5 436.7L90.6 436.3L89.9 441.6zM58.6 431.6L58.0 431.2L58.0 427.3L58.6 425.2L60.2 428.0L60.2 429.6zM77.4 422.5L78.8 421.6L81.4 421.4L85.7 422.8L81.7 423.6L78.5 423.4zM72.0 431.2L70.8 430.3L69.2 423.1L69.8 422.2L71.4 425.8L71.8 429.0zM67.3 463.3L66.3 464.0L62.1 462.6L58.7 460.5L58.3 459.3L63.9 460.4L67.5 462.1zM62.0 432.0L61.2 430.2L62.6 421.9L63.7 419.7L64.1 421.3L62.7 429.5zM40.0 428.5L42.4 425.8L45.4 422.8L48.1 421.5L48.7 422.8L45.0 426.1zM44.9 434.4L47.9 430.2L51.9 427.2L52.7 428.1L49.5 431.8zM64.4 422.5L63.8 420.5L65.5 419.0L67.2 419.0L67.4 419.1L67.5 420.8L66.2 422.4zM73.2 438.0L71.7 435.8L68.5 429.8L69.1 428.3L71.1 430.8L72.9 435.1zM64.1 441.3L62.9 440.1L62.7 436.2L63.6 433.4L65.1 436.4L65.9 440.6zM44.4 435.9L41.9 433.2L40.0 428.8L40.3 427.0L42.3 430.1L43.6 432.1zM67.1 471.2L66.7 468.4L68.6 463.2L69.5 463.3L69.4 465.3L68.3 467.9zM60.7 436.7L61.0 437.6L55.6 432.4L52.7 428.4L55.3 429.5L59.0 432.4L59.9 434.3zM76.9 451.7L75.5 450.9L76.3 448.8L78.0 448.1L78.5 450.3L78.3 451.7zM76.9 449.9L76.2 449.7L75.8 440.7L76.5 440.6L77.2 442.3L77.5 448.5zM56.6 428.8L55.7 428.2L54.7 424.3L55.2 421.8L56.3 423.1L57.8 427.5zM90.5 459.8L91.1 458.8L93.2 458.9L94.5 459.9L91.6 461.1zM58.2 420.2L60.9 419.0L65.2 419.0L66.1 419.1L61.1 420.9zM78.0 459.7L76.0 457.6L75.2 454.3L76.6 454.6L78.3 457.8zM71.9 442.1L70.2 440.7L69.6 439.4L69.6 437.4L70.9 438.1L72.5 440.0L72.5 440.4zM42.3 450.9L41.4 451.3L42.1 446.7L42.9 445.4L43.6 447.1L43.5 450.2zM73.9 436.5L74.4 433.9L75.2 432.5L76.0 432.2L75.4 435.8zM85.4 424.4L83.8 423.5L79.3 420.8L76.9 419.0L76.3 419.0L79.1 419.0L83.8 422.2zM92.8 453.8L91.7 450.7L91.2 445.2L91.3 442.9L92.5 445.5L92.8 450.7zM86.6 461.1L85.7 461.1L79.3 459.1L77.7 458.4L76.7 457.0L81.0 457.3L83.9 458.9zM48.2 461.7L46.9 462.1L50.6 458.1L53.7 455.6L52.8 458.3L50.3 461.0zM42.2 467.2L42.6 466.0L49.8 465.0L51.3 465.7L47.5 467.9L45.1 468.2zM56.3 461.6L58.4 458.2L62.4 455.9L63.9 455.6L60.2 459.4zM49.8 428.8L52.8 428.2L56.7 427.7L59.0 428.1L56.1 428.8L50.8 429.7zM92.3 470.2L92.4 471.3L87.9 468.3L85.7 466.3L86.0 465.0L88.9 467.1L90.6 468.6zM60.4 435.1L59.5 435.5L54.4 433.8L54.0 433.2L55.4 432.9L59.7 434.6zM95.4 444.2L94.9 444.7L92.7 445.0L90.5 444.1L90.3 442.7L93.3 442.6L95.6 443.6zM73.8 447.0L68.7 448.0L65.8 446.3L65.9 444.2L71.1 444.7zM76.6 472.6L76.7 471.5L79.6 469.9L82.3 469.9L81.6 471.6L80.5 472.3L76.4 472.6zM87.3 436.7L86.6 436.3L82.2 431.5L81.3 429.4L82.5 428.1L84.7 431.4L86.4 434.1zM44.9 422.7L44.9 420.8L48.4 419.0L50.7 419.0L49.8 419.5L46.1 423.1zM81.0 433.0L79.9 430.0L79.9 426.1L82.2 422.8L83.2 425.7L82.4 431.1zM47.9 431.5L48.8 427.1L51.7 424.2L53.9 425.1L51.7 429.2zM44.6 441.8L43.3 442.5L40.7 441.5L40.0 440.3L40.8 440.1L41.3 439.5L43.1 440.1zM73.9 452.3L73.4 451.5L72.8 449.4L73.3 447.0L74.7 448.5L74.6 450.4zM51.1 472.6L51.1 471.5L53.0 469.0L55.1 469.0L52.7 472.6zM44.0 446.9L43.3 444.4L44.7 442.0L45.5 440.9L46.8 442.3L45.7 444.9zM46.5 451.9L47.1 449.9L49.5 449.9L51.3 450.3L50.3 451.9L48.5 452.4zM95.7 454.4L94.4 454.6L90.7 454.0L88.8 452.6L90.3 452.3L93.1 452.9zM73.5 427.4L73.5 425.5L76.0 423.8L77.6 423.3L78.1 423.7L73.9 428.2zM61.8 461.7L60.9 461.4L66.1 459.8L68.0 458.9L69.3 459.5L66.0 461.6L63.8 462.0zM92.0 446.5L90.2 443.1L90.0 439.7L90.2 437.8L91.8 438.4L92.5 444.9zM53.8 438.7L54.0 437.2L57.4 437.5L59.8 438.7L59.2 439.4L55.5 440.3zM96.3 446.3L95.3 446.9L89.0 445.3L85.3 444.2L88.9 444.4L94.5 445.5zM75.4 446.9L74.7 447.4L70.7 445.3L72.4 444.6L75.1 444.7zM48.0 433.8L50.7 432.7L53.4 431.8L54.8 432.4L53.8 432.9L50.3 433.9zM61.3 459.4L61.9 453.6L63.0 451.9L65.3 451.0L63.5 457.5zM41.9 434.2L40.3 432.4L40.0 429.1L40.0 427.9L40.7 427.8L42.4 433.3zM54.2 449.4L49.2 450.0L46.3 450.3L43.2 449.3L46.5 449.1L50.7 448.8zM70.8 447.6L68.3 445.3L65.3 440.2L65.5 438.4L65.9 437.5L69.3 442.3zM90.5 427.7L88.6 427.9L84.6 427.6L82.6 426.6L85.4 426.0L89.4 426.5zM73.1 424.7L69.6 425.7L63.2 423.6L65.4 423.2L68.8 423.3zM60.9 434.0L60.4 434.2L58.6 431.8L57.0 429.5L57.9 429.1L58.8 430.4L61.0 433.0zM92.1 424.0L90.2 423.0L88.8 420.3L89.7 419.0L91.7 421.0zM86.9 423.5L88.3 419.2L90.4 419.0L91.6 419.0L89.2 423.0zM88.0 466.0L87.6 466.9L86.6 467.2L84.4 465.0L84.5 464.3L85.7 464.2L87.3 464.3zM40.0 450.2L40.0 447.2L41.5 440.8L42.2 441.9L41.7 447.8zM70.5 431.1L69.5 429.8L70.0 427.1L71.7 425.5L72.8 426.1L72.8 429.5zM49.3 459.1L48.6 455.9L48.6 451.0L49.1 449.6L49.8 452.2L49.9 455.5zM57.1 439.9L54.8 438.6L51.7 435.8L49.9 434.1L50.6 433.6L52.3 434.3L55.6 437.3zM75.6 437.3L76.4 436.3L79.9 434.9L83.2 435.2L83.2 435.9L77.3 437.5zM81.5 462.5L81.8 460.0L82.3 457.5L84.1 456.6L84.0 458.1L83.2 460.8zM77.3 445.0L80.5 444.3L83.5 443.8L86.2 445.0L84.1 446.0L78.9 446.1zM59.9 429.4L62.9 427.3L64.9 426.8L66.1 427.4L61.3 429.4zM90.0 437.1L87.9 435.6L86.2 433.0L84.8 429.2L87.3 430.1L89.3 434.0zM55.3 453.3L58.1 451.3L61.8 450.1L64.0 449.9L62.0 451.7L58.7 452.9zM92.8 427.0L93.7 425.9L96.4 423.5L97.1 424.4L96.6 426.0L95.6 427.0zM50.0 442.6L48.4 442.9L45.1 441.2L44.9 439.9L49.8 441.2zM83.1 465.5L81.8 464.0L81.2 457.7L82.8 457.4L83.3 462.2zM64.3 436.2L64.0 434.8L63.0 430.8L63.2 430.1L65.2 429.8L65.6 432.1L65.4 435.7zM98.5 457.1L98.2 457.6L94.5 456.8L91.2 455.6L92.4 454.4L95.3 454.7L98.5 455.4zM58.1 446.9L57.3 445.5L57.5 440.5L58.3 439.5L59.3 439.9L59.5 445.0zM47.1 472.6L48.3 472.2L49.7 470.7L50.8 469.9L51.9 470.8L50.7 472.6L47.7 472.6zM53.0 462.0L54.7 460.0L57.2 458.9L58.2 459.6L57.0 461.6L54.3 462.3zM69.6 455.0L72.8 454.3L77.6 453.1L80.3 453.3L77.8 455.0L74.1 455.5zM66.9 472.6L65.6 472.6L64.8 468.6L67.2 468.9L67.4 472.6zM48.3 445.4L43.9 443.1L41.4 440.7L40.8 439.6L43.9 440.8L45.7 442.3zM82.4 460.4L83.4 459.0L87.0 458.1L91.0 458.0L91.8 459.2L90.0 460.4L84.9 460.6zM61.7 442.9L62.5 441.9L65.4 440.2L70.1 440.0L69.3 441.2L62.8 443.7zM95.7 453.1L95.2 451.3L95.9 444.7L97.1 443.7L96.5 451.4zM55.5 458.6L55.1 457.8L60.3 457.3L60.3 458.9L57.0 460.0zM50.2 462.5L51.4 460.8L55.0 459.9L56.0 461.1L54.6 463.0L51.8 462.9zM63.3 435.2L60.6 433.7L59.1 431.2L59.3 429.6L62.6 432.3zM54.7 448.5L53.3 446.7L56.2 438.9L57.9 437.5L58.0 440.5L56.9 445.1zM90.8 459.8L89.7 460.0L86.3 457.4L82.8 454.7L84.5 454.9L86.2 455.4L90.9 459.1zM40.0 443.8L40.0 440.6L40.3 435.9L41.4 432.1L41.0 437.6L40.5 439.1zM69.2 438.9L67.3 438.3L66.0 436.3L66.5 433.8L68.5 435.3L68.9 437.8zM50.5 433.6L52.1 432.7L56.5 432.0L58.2 432.5L56.5 433.3L53.6 434.1zM75.8 463.7L76.0 464.5L70.9 460.8L70.6 459.2L71.5 458.9L75.9 462.8zM81.3 469.8L82.1 468.6L88.0 466.6L87.5 468.1L84.6 469.8zM70.9 452.6L70.3 451.6L77.2 449.1L77.6 449.7L72.8 452.9zM69.9 447.5L72.4 445.9L75.4 443.6L78.2 442.7L78.0 444.0L73.4 446.6zM44.7 464.3L44.8 462.0L46.1 458.5L47.6 460.6L47.1 463.1zM75.2 428.0L75.0 427.5L79.8 427.0L81.7 427.6L80.5 428.3L77.1 429.3zM65.2 442.9L62.3 442.5L60.6 439.2L61.8 437.5L65.2 441.4zM71.9 465.6L69.8 463.8L67.2 461.9L64.9 457.7L69.1 460.5L71.7 463.6zM69.1 456.2L68.5 453.9L70.0 451.9L71.4 452.5L70.4 454.8zM67.2 423.8L66.8 422.3L67.0 420.7L68.0 419.0L68.7 420.0L68.6 421.1L68.5 423.1zM71.9 426.6L75.2 423.1L78.7 422.1L80.5 422.6L76.5 425.4zM78.0 425.3L76.3 424.8L74.9 422.7L75.4 421.8L76.5 421.9L79.0 424.8zM72.7 436.2L72.0 433.7L72.4 431.8L73.7 429.3L74.2 429.8L74.8 430.9L73.9 436.1zM67.3 435.2L67.1 432.5L68.6 429.4L69.3 428.7L70.0 430.4L69.1 433.5zM45.6 441.2L43.1 440.3L40.0 438.0L40.0 436.9L40.0 437.1L45.1 440.0zM72.1 421.5L69.6 422.2L67.5 419.8L67.0 419.2L69.9 419.0L70.3 419.2zM53.8 431.4L56.6 428.9L58.6 427.4L61.6 426.3L61.2 427.4L58.7 429.2L56.5 430.3zM53.9 449.8L51.3 449.0L48.9 444.1L50.4 444.0L53.7 447.6zM46.8 424.7L48.4 423.5L49.9 423.2L51.8 423.8L51.6 425.2L48.7 425.3zM46.2 448.4L44.6 447.9L41.9 445.6L40.8 443.5L41.1 443.0L47.0 448.4zM65.4 448.0L66.3 446.2L68.6 444.8L70.7 445.0L69.3 446.3L66.4 448.5zM57.0 458.0L58.0 456.4L61.5 454.6L63.2 454.7L63.4 455.6L56.9 459.1z" fill="#35359c"/><path d="M73.2 432.2L74.9 430.1L78.6 429.5L79.2 429.9L78.7 432.4L74.8 433.3zM40.0 428.9L40.0 428.0L43.6 425.1L44.9 426.4L45.0 428.1L40.8 429.8zM82.9 428.4L78.5 427.5L75.2 425.6L71.9 423.4L72.1 422.6L77.7 424.0L81.3 426.1zM65.9 448.1L64.2 449.2L62.0 449.0L58.6 447.0L60.4 446.1L65.5 446.5zM59.0 459.1L55.4 458.5L49.8 457.7L48.9 455.6L54.9 456.3zM85.0 439.2L85.1 440.1L81.3 440.1L80.2 439.4L78.9 438.4L82.0 438.1L84.7 438.6zM93.4 466.6L95.6 465.6L97.5 465.7L98.5 466.4L98.5 467.5L95.3 467.3zM55.5 461.0L56.7 458.6L59.7 456.9L60.2 457.9L60.7 459.0L57.0 461.8zM78.2 469.1L76.6 466.3L75.9 464.1L76.1 461.2L77.6 463.4L78.9 467.2zM75.6 441.1L73.6 441.8L72.1 440.3L71.8 437.1L73.6 437.6L76.4 440.3zM45.5 449.6L41.7 450.8L40.0 450.1L40.0 448.7L42.4 448.5zM91.3 424.8L91.0 421.9L91.4 420.2L94.2 419.0L94.1 420.2L93.2 422.8zM61.2 442.9L59.6 443.5L58.0 435.8L59.3 434.7L61.2 439.3zM85.4 445.0L85.2 443.6L86.8 440.8L88.8 439.8L88.8 441.9L86.8 445.3zM86.7 463.8L84.9 464.8L82.1 464.4L81.0 462.9L82.3 462.0L85.0 462.9zM60.5 461.6L60.0 460.0L60.1 458.1L61.3 457.5L62.1 458.7L61.5 460.9zM83.8 468.1L83.7 466.2L84.4 462.7L85.6 460.7L86.0 461.1L85.6 463.4L85.0 465.7zM57.3 472.6L56.0 470.9L54.8 467.1L55.8 466.1L57.2 469.8zM46.0 466.0L46.9 464.6L49.3 462.7L54.3 462.4L52.2 464.0L49.8 465.8L47.1 467.2zM41.9 454.8L41.4 452.5L43.7 444.6L44.0 446.6L43.3 451.4zM86.9 468.3L83.3 464.0L82.2 460.4L84.9 460.9L87.8 466.0zM84.4 435.4L82.3 436.2L79.0 434.1L80.1 432.5L82.8 433.3zM57.9 472.0L58.1 470.7L60.3 469.1L62.5 468.1L62.1 471.0L58.4 472.6zM61.9 464.9L61.0 465.5L57.5 462.6L57.5 461.3L58.4 460.4L60.3 460.8L63.3 464.6zM48.8 466.5L48.0 466.1L47.9 463.6L47.9 460.9L49.6 463.6L49.9 465.3zM96.6 441.6L94.9 440.7L93.9 437.8L96.1 437.9L97.4 439.6zM78.2 425.0L76.8 426.9L75.8 419.0L76.8 419.0L78.8 419.8L79.4 425.3zM98.5 457.7L94.6 457.7L91.3 456.4L89.3 455.2L91.9 455.2L94.9 455.9zM79.9 441.0L78.3 440.1L77.1 437.5L76.8 433.4L77.8 433.5L79.9 436.4L80.1 438.8zM94.9 465.7L96.8 463.6L98.0 463.2L98.5 464.0L98.5 465.1L98.5 465.9L95.5 466.7zM71.3 472.1L70.4 470.7L69.5 469.6L69.7 467.2L70.0 466.3L71.8 469.2L72.0 471.0zM70.5 472.6L68.5 471.6L67.2 466.3L68.5 467.5L70.0 471.0zM60.3 452.2L60.6 449.8L61.9 446.5L62.4 447.1L63.6 447.7L62.9 449.9zM60.2 434.4L59.9 435.0L57.0 432.6L55.3 430.0L55.6 429.9L58.7 432.3zM45.5 459.3L43.9 456.6L44.1 451.2L45.2 448.1L47.0 454.5zM88.9 420.7L87.9 422.2L82.9 421.7L82.4 419.4L85.2 419.6zM63.3 429.2L60.4 425.3L59.6 421.1L60.3 419.0L62.7 424.5zM97.5 423.9L94.8 423.8L89.5 421.2L90.9 419.7L94.7 420.6zM46.4 444.0L47.3 441.4L50.0 439.5L52.3 438.6L49.4 442.8zM94.9 449.3L93.8 449.9L90.4 447.2L86.6 443.3L90.9 445.1L93.7 446.7zM69.4 429.7L64.3 427.8L59.8 424.7L59.9 424.0L63.0 424.8L66.0 427.1zM98.5 447.5L95.6 447.1L91.7 444.8L91.3 443.8L98.5 445.4zM53.6 444.5L53.0 444.0L52.6 441.7L54.3 438.8L54.7 439.5L54.7 441.6L54.2 444.8zM97.6 451.6L93.3 449.9L89.1 446.7L87.7 444.4L90.9 445.3L94.8 447.9zM67.4 463.6L65.2 463.3L71.9 462.4L73.6 462.9L75.8 463.8L73.7 464.1L70.0 464.2zM91.5 429.9L88.4 431.0L85.6 431.1L81.6 429.2L83.5 428.5L92.8 428.8zM55.4 422.9L54.9 422.7L55.6 419.6L56.9 419.0L57.0 419.0L57.3 420.2L56.4 422.3zM62.4 438.4L61.4 436.4L63.6 431.3L64.7 432.1L64.1 436.4zM91.9 463.6L91.7 462.9L95.0 458.2L95.8 458.8L93.6 462.4zM65.3 437.5L63.9 436.8L63.6 433.3L63.7 429.4L64.4 430.2L66.0 434.8L65.5 437.4zM40.0 444.8L40.0 443.3L42.3 440.2L44.0 439.7L43.3 442.1L41.1 443.7zM94.4 454.1L93.3 453.5L92.5 451.1L92.5 448.5L93.2 449.2L94.2 451.7zM85.0 433.7L87.3 431.2L89.7 430.9L90.7 431.2L89.5 433.4L87.8 433.5zM90.5 444.9L90.5 445.4L84.5 445.2L82.5 444.4L81.6 443.6L84.7 442.7L90.4 443.8zM93.2 470.0L92.2 468.4L91.2 463.3L92.2 462.4L93.2 465.4zM98.1 441.0L96.7 438.6L96.5 436.1L96.3 432.7L96.8 431.2L97.2 432.9L98.3 439.2zM84.2 437.4L83.4 437.9L81.2 438.3L79.2 436.8L77.6 435.7L81.7 435.7L84.0 436.7zM96.1 464.9L94.3 465.3L90.7 464.9L87.0 462.8L90.7 463.0L93.9 463.4zM81.9 446.7L80.3 445.8L77.3 442.2L78.3 440.1L82.4 445.5zM52.7 425.5L48.3 424.0L46.7 421.8L48.0 421.2L50.7 422.2zM90.1 461.7L92.3 460.0L96.9 457.3L98.5 457.4L96.2 459.2L90.6 462.7zM52.6 470.8L51.8 468.3L51.5 466.9L51.9 464.6L52.4 466.0L53.2 468.2zM48.3 436.2L47.0 436.1L42.5 433.3L42.8 433.1L44.6 433.2L46.7 434.0zM45.5 423.9L45.2 425.0L41.4 424.3L40.0 423.3L41.5 422.5L43.8 422.4zM49.2 437.1L49.5 435.6L52.6 434.8L54.5 436.3L53.6 437.1L48.9 437.9zM84.9 422.6L82.9 421.8L80.5 419.0L81.1 419.0L85.0 421.4zM87.9 468.5L90.6 464.9L94.3 464.7L94.5 465.8L90.5 468.8zM76.1 472.6L77.5 471.4L79.7 469.0L81.6 468.8L78.3 472.6zM74.9 425.6L76.1 423.0L79.5 419.1L80.7 419.7L78.9 422.7L77.4 424.1zM78.4 437.9L77.3 439.0L70.1 438.1L69.4 436.9L76.6 437.1zM57.3 457.6L61.4 456.0L65.8 455.4L65.9 457.7L59.9 458.7zM54.7 442.7L55.5 441.2L62.4 437.3L63.2 438.0L58.0 441.2zM45.3 441.2L43.7 436.9L43.8 433.2L45.3 433.0L46.7 438.6zM61.4 458.8L62.3 457.4L68.9 453.9L67.3 456.3L64.3 458.4zM46.6 471.0L44.0 470.1L42.8 467.2L44.2 467.3L47.5 469.3zM67.2 440.6L68.9 438.5L72.0 438.4L72.5 438.9L69.4 440.9zM62.2 462.5L61.7 461.4L65.4 460.3L65.8 461.0L67.5 461.4L64.8 462.8L63.8 462.9zM56.9 464.9L59.9 461.1L61.6 459.0L64.0 458.4L67.1 456.9L62.8 461.0L58.9 463.9zM78.9 451.7L78.8 449.2L80.9 444.5L83.0 442.3L83.4 443.7L80.8 449.6zM70.8 465.3L68.3 464.2L61.0 459.3L62.7 459.1L66.7 461.0zM73.4 444.5L72.5 444.6L71.2 443.4L70.1 441.4L70.0 440.3L71.5 441.1L73.3 443.6zM66.5 441.8L66.1 439.9L69.6 437.2L70.1 439.0L69.6 440.5zM60.1 465.1L59.3 464.0L57.8 459.4L58.5 456.4L60.6 459.3L60.5 462.2zM90.2 453.6L88.8 454.1L84.1 451.0L84.9 450.8L87.1 450.8L90.1 452.9zM61.6 439.6L60.7 438.0L60.0 434.6L61.9 434.3L62.6 437.6zM49.0 472.4L49.9 468.1L52.9 462.7L52.6 464.6L51.8 468.5zM91.3 453.3L90.1 452.8L93.0 448.8L95.3 448.4L94.8 450.6L93.6 452.9zM93.5 433.9L92.6 433.9L94.9 429.6L96.0 428.9L96.5 429.7L95.1 432.7zM96.4 467.2L95.4 468.2L93.9 459.2L94.6 458.6L96.7 460.6L97.6 466.4zM77.6 469.3L75.1 469.7L71.6 468.4L70.2 467.1L70.4 466.1L71.3 466.2L76.5 468.0zM48.9 432.7L46.1 433.6L40.0 431.1L40.0 429.2L41.0 429.7L44.5 430.8zM44.8 469.1L44.8 467.9L52.1 463.0L53.0 463.9L51.7 465.5L47.0 468.3zM88.5 447.0L88.8 446.5L94.5 443.2L98.3 442.8L94.1 445.5L91.1 446.9zM93.2 438.3L93.2 436.1L95.4 435.8L97.0 435.6L95.4 438.2zM40.6 466.9L40.1 464.5L40.8 462.0L41.4 460.1L43.2 461.5L42.5 465.0zM51.6 444.5L51.2 443.3L58.0 440.3L62.4 438.6L58.5 442.4L53.5 444.1zM98.5 469.5L96.8 467.3L95.6 464.5L96.2 464.5L97.5 464.7L98.5 467.6zM93.8 426.1L90.4 426.7L87.3 426.3L83.9 424.7L86.8 423.9L91.1 423.9zM93.9 454.0L91.6 454.7L86.6 453.3L85.2 452.1L86.2 451.9L92.4 453.2zM94.1 432.9L95.5 428.7L98.5 423.8L98.5 425.7L97.1 428.7zM71.1 434.0L70.4 431.2L69.9 427.5L70.4 423.9L71.6 426.5L71.9 433.5zM41.0 448.4L40.3 446.4L42.6 441.3L43.5 440.1L44.2 442.3L42.7 446.9zM98.2 467.9L94.3 468.3L91.2 467.7L90.9 466.6L90.8 465.7L94.5 465.9zM58.4 443.0L58.8 442.2L61.8 442.1L63.6 442.5L61.4 444.1L59.3 444.0zM98.5 464.2L97.7 465.0L95.7 464.1L95.1 462.2L96.0 461.1L97.5 461.6L97.8 463.1zM92.3 432.0L91.1 431.7L87.6 426.9L87.8 425.9L90.6 426.8L93.3 431.3zM71.5 441.1L70.8 441.5L67.9 440.8L63.9 438.5L64.4 437.0L66.5 438.3L71.2 440.3zM63.1 467.7L65.2 466.8L69.5 465.4L71.2 467.2L68.1 468.9L64.6 468.4zM83.4 457.8L82.2 457.3L81.2 455.3L79.8 452.0L80.7 452.4L82.0 453.7L82.7 456.2zM69.6 432.7L67.8 432.2L66.0 430.7L63.6 428.8L66.5 429.6L70.2 432.0zM81.5 458.0L78.7 457.2L75.4 454.5L75.1 453.1L76.9 454.0L79.8 455.6zM78.8 458.7L77.6 454.4L78.9 447.6L80.0 450.2L80.1 453.5zM65.5 451.4L65.3 449.5L68.5 448.6L70.7 449.2L69.7 451.2L67.4 451.9zM57.8 425.0L55.0 423.0L50.6 419.1L49.4 419.0L53.4 419.3L56.3 422.5zM47.1 468.5L49.3 466.7L51.0 466.5L53.6 468.0L51.3 468.7L47.6 469.3zM46.8 430.2L47.0 426.0L48.1 423.4L49.5 419.5L49.9 420.9L48.5 427.7zM78.2 459.6L76.9 460.0L76.4 457.3L76.6 456.5L77.6 456.1L79.0 457.8L78.8 459.5zM78.8 472.6L78.2 472.6L77.2 470.1L77.7 467.4L79.5 469.3L80.0 472.6zM55.5 453.9L54.2 454.0L51.8 452.9L49.8 450.4L52.1 451.2L55.2 452.4zM59.1 425.8L57.0 425.1L54.0 422.0L53.9 419.8L56.3 420.8L58.2 421.8zM48.5 437.1L46.0 437.5L41.6 436.7L40.4 435.4L40.0 434.4L43.5 434.8L46.6 435.8zM86.5 442.8L83.8 442.5L81.7 440.5L79.4 437.9L82.8 438.2L84.8 439.5zM76.9 423.0L79.6 421.4L82.1 421.4L82.5 423.8L79.6 424.5zM76.5 463.8L75.0 462.0L74.7 459.8L74.8 458.5L76.1 459.6L76.7 459.4L76.5 461.3zM83.3 468.9L80.9 468.3L79.9 467.0L78.8 463.7L81.2 464.5L83.3 467.0zM84.9 430.2L85.0 428.8L87.3 428.1L88.5 428.4L86.8 430.2zM74.4 448.9L74.3 446.9L75.2 445.0L77.4 446.0L76.6 448.7z" fill="#4646a8"/></g>
<filter id="gr6" x="100" y="419" width="60" height="53.60000000000002" filterUnits="userSpaceOnUse" color-interpolation-filters="sRGB"><feTurbulence type="fractalNoise" baseFrequency="0.9" numOctaves="1" seed="56"/><feColorMatrix type="matrix" values="0 0 0 0 0.5  0 0 0 0 0.5  0 0 0 0 0.62  1.8 0 0 0 -0.85"/></filter>
<filter id="mt6" x="100" y="419" width="60" height="53.60000000000002" filterUnits="userSpaceOnUse" color-interpolation-filters="sRGB"><feTurbulence type="fractalNoise" baseFrequency="0.35" numOctaves="2" seed="96"/><feColorMatrix type="matrix" values="0 0 0 0 0.42  0 0 0 0 0.42  0 0 0 0 0.74  3.0 0 0 0 -1.25"/></filter>
<rect x="100" y="419" width="60" height="53.60000000000002" fill="#c0c0de"/>
<rect x="100" y="419" width="60" height="53.60000000000002" fill="#000" filter="url(#mt6)" opacity="0.55"/>
<rect x="100" y="419" width="60" height="53.60000000000002" fill="#000" filter="url(#gr6)"/>
<g filter="url(#bl)"><path d="M143.0 448.4L140.8 446.5L140.3 443.1L140.9 442.2L141.9 442.0L143.9 442.6L143.3 445.6zM145.4 437.6L143.5 437.0L143.6 434.9L145.2 434.2L146.1 434.2L148.1 434.9L147.3 436.2zM112.3 470.1L109.2 469.4L108.5 466.0L109.4 465.1L112.8 464.6L113.0 468.1zM149.4 445.9L147.7 446.8L145.0 443.1L145.2 441.6L146.2 440.0L149.3 443.2zM122.1 437.0L122.5 433.5L126.2 434.5L127.0 436.9L124.3 439.0zM142.1 450.6L139.6 451.9L138.4 450.8L138.0 448.3L138.3 447.8L141.0 448.6L142.0 448.6zM104.5 472.6L102.5 472.6L100.0 470.4L100.0 467.8L100.4 467.6L102.9 469.6L104.4 472.6zM135.0 436.1L135.7 435.5L137.6 434.6L139.4 435.4L140.1 436.5L140.2 437.2L136.0 437.5zM112.5 424.2L110.4 424.4L107.2 419.6L107.8 419.0L110.9 420.8zM141.2 423.1L139.6 424.2L135.9 423.1L135.1 421.1L137.8 420.3zM118.3 445.0L115.6 444.7L114.7 442.6L114.2 441.1L116.8 440.5L117.8 443.6zM155.2 454.4L157.5 452.5L160.0 453.2L160.0 454.7L158.2 455.6zM118.9 461.9L114.0 462.1L112.8 458.6L113.7 456.2L119.1 459.3zM123.0 459.3L120.3 460.7L119.2 459.6L118.4 458.0L122.4 457.2zM142.1 470.3L140.7 469.1L142.6 466.0L144.8 464.8L145.3 466.3L144.6 469.3zM110.5 445.3L113.3 444.4L115.5 444.0L117.9 444.9L120.0 445.7L116.6 446.2L112.8 446.2zM111.6 466.2L109.0 464.4L106.9 462.8L108.5 459.8L109.8 459.0L111.7 463.0zM108.3 422.7L109.4 420.3L111.5 419.0L112.3 419.4L113.6 420.3L110.9 422.6zM105.3 465.3L101.1 465.7L100.0 464.6L100.0 461.9L100.0 461.6L104.0 464.0zM127.4 439.1L125.9 437.4L125.1 435.4L126.5 431.9L129.6 433.8L129.5 437.1zM153.0 444.8L154.7 443.9L160.0 444.0L160.0 445.0L159.3 446.9L156.3 446.5zM119.2 431.4L117.4 430.6L118.4 428.0L120.4 428.4L120.9 429.8L120.3 431.3zM107.6 447.0L105.8 448.3L100.8 445.9L100.0 442.6L103.9 442.3L106.0 444.4zM129.7 431.2L128.2 430.4L126.4 429.2L127.3 425.8L129.5 423.4L131.1 427.5L131.0 430.4zM136.8 461.7L135.5 460.8L137.9 458.7L140.4 458.2L142.0 459.2L141.9 462.0L138.4 462.8zM129.5 425.7L128.7 421.1L127.6 419.0L131.2 419.0L133.3 419.3L133.0 422.4zM131.0 448.7L130.2 448.2L131.1 443.6L133.1 442.6L135.1 444.7L134.9 447.8zM141.8 461.3L142.1 458.6L144.4 457.1L146.4 456.1L146.5 457.6L145.1 459.2zM144.3 430.4L142.0 430.0L138.8 427.2L140.4 426.6L143.2 427.9zM151.2 469.8L153.1 468.1L155.7 466.3L159.1 465.5L159.8 466.7L156.6 470.2L153.6 472.0zM152.3 424.0L150.8 425.7L146.1 422.9L145.2 420.1L151.8 421.6zM131.8 467.4L130.5 465.6L131.1 463.9L131.8 462.1L134.0 462.4L134.1 465.1L133.3 466.2zM113.4 431.3L113.5 430.0L116.1 428.7L118.5 429.1L117.6 430.8L116.3 432.1zM113.8 467.6L112.1 466.6L111.7 462.8L112.3 462.2L114.1 463.3L114.3 466.0zM126.1 455.7L125.4 456.6L123.1 456.6L123.2 455.3L123.0 454.4L126.1 455.2zM106.5 425.8L104.7 425.4L102.8 422.4L104.5 421.0L106.5 420.7L108.8 425.8zM113.3 425.3L110.6 423.0L110.8 421.3L113.2 420.9L115.4 422.5L115.8 424.1zM140.2 459.0L142.9 457.9L145.7 456.8L148.1 458.1L147.2 459.2L141.6 459.5zM110.4 458.0L108.4 457.5L107.0 457.3L106.6 454.3L106.0 452.7L110.1 452.4L112.8 456.2zM119.4 456.7L118.3 455.8L122.8 452.4L125.9 452.2L127.2 453.4L123.9 456.6L121.2 457.4zM155.0 471.3L155.7 470.2L160.0 468.6L160.0 470.1L160.0 472.6L155.8 472.6zM158.7 423.5L156.4 423.4L154.8 420.0L155.4 419.0L158.9 419.0L159.4 422.0zM128.1 456.7L126.0 455.9L125.8 454.5L125.6 452.1L127.6 452.1L127.9 452.7L128.7 455.2zM100.0 450.7L100.6 448.1L104.1 447.9L105.3 449.6L104.8 452.3L100.9 452.6zM148.6 457.4L146.6 454.3L150.8 451.6L155.3 453.3L151.0 457.3z" fill="#35359c"/><path d="M141.0 435.1L138.5 433.4L137.3 430.6L138.1 430.4L139.9 430.7L140.7 432.8zM139.6 446.0L138.6 442.9L140.5 442.1L142.1 443.7L140.7 446.3zM113.5 420.8L112.9 420.6L115.8 419.0L118.8 419.0L120.2 419.0L117.7 420.0L114.5 421.7zM125.3 435.9L124.0 434.7L123.7 430.4L124.7 427.6L126.1 429.2L126.5 432.7L125.5 434.7zM120.2 428.2L121.0 424.4L124.5 424.7L125.7 426.8L124.3 429.2L122.4 430.9zM153.5 425.7L150.4 425.7L147.3 422.7L147.7 421.8L152.6 423.7zM154.6 464.9L153.5 464.1L152.5 460.2L154.6 460.7L156.7 462.5zM119.5 460.0L118.2 459.7L118.7 455.5L120.3 455.2L121.2 457.1L120.8 459.3zM153.2 429.9L150.3 430.1L149.0 429.6L148.4 425.8L149.7 425.9L153.3 426.6zM124.0 460.2L125.3 456.5L127.5 452.8L129.1 453.2L129.1 454.9L127.4 457.1zM124.4 465.3L122.9 462.3L124.2 459.1L126.2 456.5L126.8 458.7L125.5 463.4zM109.2 427.1L106.8 427.7L104.3 423.7L106.1 423.5L109.6 424.5zM153.5 444.6L153.2 441.2L155.4 439.7L160.0 440.2L159.3 442.1L153.8 446.7z" fill="#4646a8"/></g>
<filter id="gr7" x="161.5" y="419" width="58.5" height="53.60000000000002" filterUnits="userSpaceOnUse" color-interpolation-filters="sRGB"><feTurbulence type="fractalNoise" baseFrequency="0.9" numOctaves="1" seed="57"/><feColorMatrix type="matrix" values="0 0 0 0 0.5  0 0 0 0 0.5  0 0 0 0 0.62  1.8 0 0 0 -0.85"/></filter>
<filter id="mt7" x="161.5" y="419" width="58.5" height="53.60000000000002" filterUnits="userSpaceOnUse" color-interpolation-filters="sRGB"><feTurbulence type="fractalNoise" baseFrequency="0.35" numOctaves="2" seed="97"/><feColorMatrix type="matrix" values="0 0 0 0 0.42  0 0 0 0 0.42  0 0 0 0 0.74  3.0 0 0 0 -1.25"/></filter>
<rect x="161.5" y="419" width="58.5" height="53.60000000000002" fill="#c0c0de"/>
<rect x="161.5" y="419" width="58.5" height="53.60000000000002" fill="#000" filter="url(#mt7)" opacity="0.55"/>
<rect x="161.5" y="419" width="58.5" height="53.60000000000002" fill="#000" filter="url(#gr7)"/>
<g filter="url(#bl)"><path d="M208.2 437.0L207.5 435.2L209.0 431.7L211.0 431.6L212.4 433.5L210.5 437.3zM165.7 451.4L162.3 451.4L161.5 449.9L162.0 446.7L163.9 447.2L166.8 451.0zM206.6 426.2L204.5 424.7L204.5 423.5L204.4 419.6L207.3 419.1L208.6 420.1L209.2 423.6zM201.9 456.6L203.1 454.0L205.1 453.5L207.1 454.2L204.5 456.4zM198.3 435.4L198.6 430.7L200.1 427.5L202.0 425.6L202.7 428.5L201.2 432.7zM178.9 449.2L178.7 445.4L181.5 442.0L183.7 441.1L181.3 446.7zM169.7 422.7L170.9 420.9L173.6 420.8L176.2 421.0L176.0 422.2L172.6 423.6L171.5 423.0zM190.9 433.6L187.8 435.0L182.8 432.7L184.0 430.6L188.8 430.9zM174.9 461.6L173.3 461.9L171.2 461.5L170.4 460.2L170.7 458.1L172.8 457.7L174.9 460.1zM216.0 467.1L214.3 466.8L214.6 462.3L216.4 461.6L217.9 464.7zM209.3 447.4L208.1 448.1L205.4 446.1L205.2 443.5L207.6 442.9L209.8 444.6zM189.6 425.5L186.6 427.0L185.2 426.7L182.3 425.2L185.4 423.9L187.1 424.0zM172.5 457.8L172.6 454.7L177.8 450.8L178.3 452.4L178.3 455.1L175.7 456.8zM164.7 453.0L162.9 453.2L162.6 450.4L163.7 448.0L165.6 449.3L166.1 452.2zM196.4 423.4L195.6 422.8L195.1 419.0L196.7 419.0L198.2 419.0L197.7 422.3zM195.7 435.3L193.7 433.1L192.3 431.1L192.7 429.3L194.3 429.2L194.8 431.7zM197.6 437.7L196.9 436.3L196.6 432.5L197.1 432.2L199.7 432.8L200.1 434.1L198.2 437.6zM174.9 439.6L172.0 440.7L168.7 440.1L167.2 438.8L169.4 437.4L171.7 436.9L173.7 438.6zM211.1 466.5L210.1 467.3L206.1 465.9L205.0 464.3L206.9 463.4L210.5 465.8zM197.6 440.1L193.6 443.0L190.8 441.8L190.2 438.7L191.3 437.6L195.3 438.4zM218.1 428.4L215.7 428.3L213.0 427.8L210.8 424.7L213.2 423.6L216.3 426.1zM188.6 464.5L186.8 461.4L186.6 459.6L187.4 456.9L189.7 459.8L189.6 462.5zM167.5 447.7L166.7 447.6L164.7 446.8L164.5 446.1L166.2 445.0L167.3 445.6zM177.5 462.8L175.2 464.8L173.0 464.4L171.1 462.8L175.2 462.1zM180.6 435.2L177.4 435.7L174.4 433.5L175.2 431.2L178.5 430.4L181.2 433.7zM198.9 431.3L200.0 430.2L203.5 428.8L207.0 431.9L203.0 433.4L202.0 433.5zM200.5 455.9L199.4 457.4L197.3 456.4L196.9 454.7L197.4 453.4L199.3 452.8zM213.9 469.0L211.7 467.9L212.1 465.2L212.2 463.7L214.9 465.2L215.4 468.1zM170.6 466.2L169.9 463.6L172.4 462.3L175.5 463.8L175.5 466.1L173.7 466.9L171.9 466.4zM189.1 462.0L189.0 459.5L190.7 458.8L193.1 458.5L193.6 460.0L190.6 461.7zM220.0 469.5L218.5 471.4L215.2 470.3L215.2 467.5L218.5 467.8zM178.5 433.3L179.3 430.1L180.9 428.0L183.5 425.6L184.1 428.6L182.1 432.1zM204.8 465.2L205.5 462.7L207.4 462.0L210.6 461.4L209.8 463.4L205.1 466.3zM193.0 470.4L193.6 469.2L195.3 467.8L197.6 467.6L196.5 470.5L195.4 470.5zM161.5 441.3L163.6 440.3L165.4 439.8L168.0 441.3L165.7 443.2L163.1 443.2zM209.3 440.9L207.0 440.3L204.1 438.8L202.2 436.8L202.6 435.2L205.3 436.6L208.3 438.7zM193.6 438.6L192.1 437.6L192.3 434.0L193.4 431.1L196.3 434.3L195.7 438.2zM170.9 464.1L170.3 465.0L167.5 460.6L167.1 457.8L170.7 459.1L173.7 463.2zM173.9 472.6L171.9 472.6L171.2 466.9L174.1 466.2L174.6 467.1L176.1 471.0zM216.2 457.3L214.9 457.2L212.9 455.8L212.4 452.3L214.3 452.1L216.8 452.3L216.4 454.9z" fill="#35359c"/><path d="M214.4 432.9L213.8 431.2L215.2 427.9L216.6 427.5L216.8 429.7L215.4 432.3zM183.9 446.0L183.5 445.3L186.4 444.3L189.2 444.1L188.7 445.2L187.4 446.6L185.9 447.3zM204.0 422.3L204.4 419.0L206.7 420.9L207.0 423.1L205.5 423.3zM200.5 441.5L197.0 440.9L197.5 438.6L198.0 437.1L199.8 437.6L201.2 438.9zM164.0 423.9L167.0 421.9L169.3 421.6L171.5 422.2L172.5 423.0L165.2 424.1zM206.2 424.9L205.8 422.2L207.0 419.4L210.4 420.4L211.5 420.5L208.1 425.2zM168.8 471.2L166.6 470.9L166.6 468.3L168.2 466.7L170.8 467.1L171.1 469.2zM166.7 459.3L166.2 460.5L164.3 459.3L161.5 456.4L162.3 455.5L166.1 457.2L166.4 458.4zM216.2 442.6L213.8 442.6L211.8 441.3L210.8 438.6L212.8 437.9L215.6 439.1L216.9 440.5zM202.3 443.3L200.1 442.1L199.4 440.9L201.5 438.6L203.5 439.5L203.9 442.1zM215.4 446.7L213.4 444.9L217.0 441.7L219.6 441.6L219.7 443.8L218.6 446.5L215.4 448.4zM172.2 436.6L170.8 437.9L167.1 435.9L168.4 433.5L170.5 433.9zM170.5 456.8L170.6 454.7L171.8 452.8L173.3 453.1L173.4 455.6zM161.5 467.1L161.5 463.7L165.7 461.5L169.0 462.3L167.4 464.7L163.0 466.6zM177.2 444.8L176.6 443.9L178.7 439.9L180.0 441.5L178.9 445.0zM170.4 451.6L169.6 452.8L166.9 449.0L166.1 446.1L168.6 447.3L169.7 449.0z" fill="#4646a8"/></g>
<filter id="gr8" x="221.6" y="419" width="58.900000000000006" height="53.60000000000002" filterUnits="userSpaceOnUse" color-interpolation-filters="sRGB"><feTurbulence type="fractalNoise" baseFrequency="0.9" numOctaves="1" seed="58"/><feColorMatrix type="matrix" values="0 0 0 0 0.5  0 0 0 0 0.5  0 0 0 0 0.62  1.8 0 0 0 -0.85"/></filter>
<filter id="mt8" x="221.6" y="419" width="58.900000000000006" height="53.60000000000002" filterUnits="userSpaceOnUse" color-interpolation-filters="sRGB"><feTurbulence type="fractalNoise" baseFrequency="0.35" numOctaves="2" seed="98"/><feColorMatrix type="matrix" values="0 0 0 0 0.42  0 0 0 0 0.42  0 0 0 0 0.74  3.0 0 0 0 -1.25"/></filter>
<rect x="221.6" y="419" width="58.900000000000006" height="53.60000000000002" fill="#c0c0de"/>
<rect x="221.6" y="419" width="58.900000000000006" height="53.60000000000002" fill="#000" filter="url(#mt8)" opacity="0.55"/>
<rect x="221.6" y="419" width="58.900000000000006" height="53.60000000000002" fill="#000" filter="url(#gr8)"/>
<g filter="url(#bl)"><path d="M261.3 436.6L260.2 437.4L257.1 434.0L257.6 431.9L259.1 432.0L261.1 433.4L262.6 435.4zM280.5 436.1L280.1 436.4L277.6 435.2L278.7 433.7L280.3 433.6L280.5 434.5zM252.5 445.2L250.3 446.0L249.0 444.6L248.1 442.9L249.5 442.6L252.2 442.9zM240.9 440.1L238.6 438.5L238.6 434.9L239.9 432.6L241.3 433.8L241.6 438.8zM271.8 427.3L270.7 426.9L272.7 422.7L273.6 421.4L273.8 424.5L272.6 427.0zM272.6 447.5L271.9 444.5L271.9 443.0L273.4 443.1L273.7 446.9zM276.0 437.0L275.6 435.3L277.4 433.2L278.3 433.7L277.6 436.8zM265.7 434.5L266.8 431.6L268.5 430.3L269.4 431.4L267.7 433.9zM255.6 429.5L255.0 427.3L258.6 424.8L260.4 425.2L260.0 428.0L256.9 430.1zM227.7 454.1L226.7 453.9L232.6 451.9L232.8 452.5L232.8 453.5L234.0 453.8L229.0 455.0zM232.7 466.4L231.4 464.1L230.9 459.3L233.3 460.0L233.6 462.1zM236.3 431.5L235.2 429.7L235.7 426.6L236.2 427.1L237.5 428.6L237.1 429.1zM246.1 464.0L245.3 464.2L244.4 461.4L245.2 460.4L246.7 462.2zM244.1 460.5L245.1 458.7L248.1 457.6L250.1 458.7L249.6 460.3L246.7 461.7zM245.2 438.8L243.5 439.9L241.8 439.6L242.3 436.8L244.5 437.3zM277.9 466.8L278.1 465.6L280.5 466.6L280.5 467.7L277.9 469.0zM276.0 445.7L276.7 442.6L278.8 442.9L280.0 444.0L278.8 445.5zM235.0 446.1L234.8 446.9L230.1 445.5L229.8 444.6L233.7 444.7zM261.1 434.7L259.2 434.4L257.5 433.4L256.9 431.0L257.5 430.7L259.5 432.7zM278.5 454.7L276.7 455.7L273.9 452.2L274.2 451.7L274.8 449.5L277.0 451.7L280.2 455.0zM236.5 432.4L233.1 431.2L231.9 429.2L232.0 425.6L236.0 429.4zM253.6 436.6L251.5 435.4L250.2 434.3L251.8 433.2L254.4 434.6zM253.5 452.8L251.6 453.6L244.9 452.4L246.8 451.9L252.3 452.1zM242.7 438.1L241.8 436.2L241.3 434.6L242.7 433.9L243.9 434.4L244.1 437.4zM265.9 455.3L264.7 454.4L266.6 450.7L268.6 450.7L268.5 452.7L267.4 454.9zM222.8 451.1L221.6 450.4L221.6 446.8L222.6 446.6L224.1 447.4L223.0 450.1zM260.8 423.2L260.2 422.2L259.7 419.5L260.8 419.0L261.5 419.0L262.0 420.0L261.9 424.0zM260.2 465.7L259.2 466.8L256.0 466.0L255.1 464.7L256.4 464.7L260.2 464.9zM224.3 440.6L221.9 439.6L221.6 438.8L221.6 435.8L221.7 436.3L224.3 438.2zM256.5 430.7L254.7 431.1L252.2 429.6L250.8 428.0L250.6 426.3L252.6 426.9L255.0 428.7zM243.2 421.5L242.8 423.2L240.2 422.2L240.2 420.6L241.5 419.6L243.7 420.6zM259.4 431.0L259.2 429.9L261.0 428.0L263.1 426.6L263.2 427.8L262.1 430.0L260.6 431.4zM264.2 421.8L263.8 421.0L264.6 419.6L266.8 419.2L267.9 419.8L265.2 422.5zM272.7 442.8L269.4 441.3L269.2 439.0L270.3 437.4L272.3 437.5L272.9 439.9zM273.2 428.9L273.9 428.2L276.4 427.9L276.4 429.2L276.3 430.1L274.4 430.4zM246.9 432.5L247.3 434.0L244.0 433.0L242.4 432.0L242.6 431.4L243.3 430.4L247.7 431.7zM256.4 472.6L255.9 472.6L256.5 471.4L257.9 470.5L258.5 470.7L257.9 472.6zM277.9 440.5L277.7 441.8L273.6 441.3L273.0 439.7L273.9 438.2L275.1 438.4L276.6 438.9zM275.2 433.6L273.4 432.9L271.9 428.2L273.3 428.0L274.9 430.4zM262.5 448.7L260.9 449.2L259.3 450.0L257.5 448.6L258.4 447.8L260.5 447.9zM280.5 434.7L280.5 436.7L279.1 436.0L277.7 435.2L278.0 433.9L279.8 433.3L280.5 433.7zM266.1 472.6L265.7 471.2L266.7 469.2L267.4 470.0L266.8 472.3zM280.5 443.8L280.1 444.5L277.3 444.3L274.8 442.4L274.4 440.6L277.0 440.7L279.5 441.8zM272.5 431.5L271.9 431.2L270.1 429.7L271.6 427.1L274.1 428.8L274.9 430.4zM247.4 428.0L250.1 425.6L253.3 424.5L252.9 426.7L249.2 428.7zM277.4 423.2L276.6 422.0L277.8 419.5L279.4 419.0L279.0 421.4L278.5 422.6zM245.7 458.4L244.5 458.5L242.7 456.9L242.4 455.1L243.9 455.4L245.1 456.0zM245.2 440.8L244.2 440.2L242.4 437.2L242.0 434.0L244.8 435.5L246.5 440.2zM253.2 435.1L252.1 435.4L249.8 433.8L249.0 432.3L249.9 431.9L251.8 432.0L253.2 433.1zM245.3 431.1L242.2 430.2L238.3 427.2L239.0 426.0L244.9 429.0zM249.2 434.9L247.9 433.7L246.5 429.5L247.6 429.0L250.5 433.5zM236.7 436.5L237.5 433.9L239.3 432.2L241.2 431.2L241.5 431.9L239.6 434.9zM276.2 461.5L277.3 460.5L277.7 458.5L279.7 459.1L280.2 460.1L278.0 462.6zM267.3 426.3L266.3 426.9L260.1 426.8L258.9 425.5L259.8 424.6L266.2 424.9zM249.3 436.7L248.5 436.4L248.9 433.7L250.8 432.0L251.3 433.5L251.4 434.4L250.7 436.8zM246.1 425.2L245.9 424.4L247.9 422.8L249.0 423.1L249.0 424.8L248.3 425.6zM277.2 437.9L275.2 434.8L275.4 430.6L276.1 430.0L277.2 431.0L277.4 435.5zM247.6 431.8L245.5 431.6L242.9 431.3L242.0 429.1L242.4 428.2L245.7 429.7zM253.2 452.1L253.7 449.8L254.6 448.2L257.3 448.6L257.1 451.2L255.0 452.1zM265.6 432.3L263.9 433.5L262.1 432.8L261.7 430.6L263.7 429.8L265.3 430.7zM246.6 458.4L245.7 456.7L246.6 454.6L247.5 454.4L248.2 456.1L247.8 457.8zM246.5 451.3L245.9 452.7L244.5 453.9L243.6 451.8L243.4 450.9L245.2 450.1L245.8 450.1zM268.5 449.0L267.7 447.5L269.3 445.4L270.2 444.9L271.2 447.0L270.8 449.3zM232.8 437.9L235.0 436.4L238.5 434.4L238.8 435.2L241.5 435.6L238.8 437.0L234.1 439.0zM277.4 457.0L276.3 455.7L278.1 453.2L280.2 453.9L279.8 456.1zM244.3 431.7L245.2 429.7L248.9 428.4L252.2 428.4L248.9 431.4L245.4 433.1zM255.4 464.3L254.1 464.7L251.3 462.8L252.1 459.5L255.2 461.8zM255.0 425.9L254.4 424.7L255.9 422.6L257.0 422.1L257.0 423.7L256.7 424.2zM267.4 457.2L269.0 455.5L271.0 453.1L271.7 454.1L273.2 455.7L273.5 456.7L268.6 458.1zM275.1 449.9L276.8 448.1L280.5 448.7L279.9 450.0L277.1 451.4zM248.8 432.1L248.2 430.6L250.9 426.1L251.4 425.5L252.5 428.2L251.6 430.1L249.7 433.2zM280.5 442.8L277.9 442.6L274.3 441.5L273.9 440.4L279.0 441.0zM277.4 445.4L278.5 443.4L278.9 443.3L280.5 442.7L280.5 442.9L280.2 445.1L278.6 445.4zM224.1 440.9L223.6 439.2L225.3 436.9L226.5 437.2L227.5 439.0L226.3 441.4zM278.5 463.9L277.1 463.4L276.3 461.0L277.3 459.4L278.8 461.0L279.2 463.0zM243.2 458.0L242.6 456.0L243.4 454.9L245.2 455.1L246.2 456.4L244.9 457.9zM245.7 450.0L244.8 448.0L245.4 445.2L247.4 445.1L248.1 445.9L248.6 447.0L246.6 448.9zM257.5 471.1L257.5 468.9L260.0 465.2L262.4 465.5L262.2 468.2L259.9 470.1zM275.4 443.0L276.0 439.0L277.3 436.5L279.2 437.6L278.6 441.1zM267.1 430.9L265.4 430.7L262.2 428.6L262.8 427.2L266.7 427.8zM234.5 464.8L234.0 463.6L235.0 459.9L238.2 459.7L238.6 462.4L237.1 463.9zM245.5 426.8L244.1 427.9L239.7 426.6L241.7 425.0L243.6 425.3zM237.7 446.0L236.0 445.9L234.5 444.4L236.2 442.6L237.8 443.2zM243.5 431.6L241.3 433.2L238.5 431.3L237.3 430.1L238.7 428.9L243.5 429.8zM273.8 455.9L273.0 453.2L276.6 450.5L277.4 451.4L277.6 452.6L275.7 455.2zM274.5 434.0L274.0 432.8L274.7 431.3L276.5 430.1L277.3 432.4L276.1 433.4zM267.3 421.7L266.2 423.5L264.7 423.8L261.8 422.8L262.9 421.5L264.8 420.7L266.7 421.1zM255.3 430.7L256.0 428.8L257.6 427.2L258.6 428.0L256.6 431.3zM276.2 424.2L276.0 423.9L277.7 421.1L279.6 420.0L278.9 422.3L278.1 423.4zM248.4 439.4L248.8 437.3L250.8 435.4L251.5 436.5L250.5 438.1zM237.9 457.0L235.7 458.2L233.8 458.0L230.4 456.1L231.3 455.4L233.4 455.2L235.7 455.8zM234.5 438.9L233.3 438.0L232.8 436.0L233.9 434.5L234.8 433.8L237.0 435.8L235.8 437.0zM280.5 450.2L280.3 450.6L277.1 449.5L277.0 448.4L278.5 447.6L280.5 448.2zM266.6 439.3L267.0 438.2L270.4 437.6L271.3 439.0L269.7 439.8L267.4 440.4zM233.2 471.0L234.3 469.4L238.2 468.6L238.3 469.8L238.3 471.1L237.5 472.4L233.6 471.8zM259.3 455.9L261.7 454.0L265.2 453.2L265.2 454.5L265.4 455.5L261.6 457.2zM221.6 471.2L222.4 468.5L226.3 464.2L226.8 466.0L225.5 469.8zM249.0 424.0L249.4 423.3L251.3 422.1L252.9 422.7L253.1 423.8L250.6 425.1zM274.1 460.2L273.1 459.2L272.8 454.8L274.9 456.4L276.1 458.0zM238.4 442.4L236.0 443.1L232.8 441.3L233.5 440.6L236.1 440.3L237.2 440.0zM260.4 439.6L257.9 438.3L257.8 436.9L257.7 435.0L258.6 433.8L259.4 436.1L260.4 437.0zM259.0 447.7L256.1 449.1L254.0 448.2L252.7 447.0L252.9 444.2L255.0 445.6L256.8 446.3zM245.8 439.1L247.6 436.8L250.4 434.8L250.8 435.5L251.3 436.3L248.4 438.2zM272.4 431.4L270.8 432.4L266.0 431.5L265.1 430.6L265.1 428.7L268.7 429.5L269.8 429.7zM270.1 434.2L269.6 432.5L270.5 430.7L272.8 431.1L272.0 433.3zM230.4 442.1L229.3 441.1L228.3 438.9L230.0 438.1L231.5 441.2zM244.4 440.7L242.4 441.0L240.0 439.9L238.3 438.0L239.4 438.3L241.8 438.7L243.4 439.8zM266.5 426.8L264.7 427.5L263.2 427.0L262.3 425.7L262.3 424.8L264.4 425.0zM276.8 463.6L275.8 462.0L275.2 459.6L277.8 456.3L278.9 459.1L277.7 462.7zM243.5 428.2L242.2 428.5L236.3 427.8L236.7 427.1L239.4 426.2L242.3 426.7zM278.5 467.1L279.2 465.4L280.5 464.1L280.5 464.0L280.5 465.2L279.9 466.8zM271.2 456.2L268.9 453.1L269.3 449.8L269.4 447.8L271.1 452.1zM277.8 434.9L276.2 435.8L274.7 435.3L274.0 434.1L274.6 433.4L277.1 433.5zM265.9 450.5L265.2 449.3L266.9 447.3L268.6 447.1L268.0 449.3L266.7 450.5zM278.1 419.9L276.5 420.6L274.7 420.1L275.0 419.0L275.4 419.0L277.5 419.0zM242.8 430.0L240.8 430.0L237.1 428.0L236.3 425.8L240.1 426.9L242.2 428.5zM261.5 458.6L261.2 457.1L263.2 454.8L266.4 453.4L267.5 454.0L266.3 456.6L264.1 457.8zM232.7 419.8L230.8 420.5L229.5 420.3L224.9 419.0L227.3 419.0L229.2 419.0L231.5 419.0zM265.3 443.0L264.4 443.8L261.3 443.2L257.1 440.9L258.5 439.2L260.9 440.2L264.2 441.0zM256.0 435.6L256.5 433.8L258.9 433.3L260.2 434.3L260.4 435.6L258.5 437.3L257.2 437.3zM224.6 429.9L225.9 428.5L228.3 428.2L230.8 428.5L229.6 430.5L226.3 431.1zM273.8 460.8L272.4 460.2L272.8 458.6L273.3 457.1L274.0 458.3L274.4 459.5zM267.4 431.1L266.0 430.4L265.5 428.6L267.2 427.0L269.2 429.3L269.6 430.5zM245.4 438.5L245.8 436.7L246.8 435.7L247.2 435.7L248.6 435.6L247.3 437.4L246.3 437.9zM256.2 436.6L257.8 434.1L260.7 432.9L263.9 432.3L263.2 434.1L259.3 436.8zM246.0 436.7L246.4 435.4L248.0 433.8L249.5 433.8L250.4 434.2L249.0 436.4zM274.5 470.4L272.2 470.1L271.3 469.5L270.9 467.0L272.2 467.2L274.5 468.1zM234.6 470.4L234.0 470.0L236.1 465.0L236.3 465.9L236.7 468.3L235.5 470.5zM248.0 429.7L246.1 428.8L245.6 427.0L247.7 426.6L248.9 427.5zM273.1 426.2L270.6 426.4L268.0 424.9L267.7 422.9L269.6 422.8L273.3 424.4zM221.6 444.0L221.6 443.5L224.5 442.3L225.5 443.2L226.4 443.5L221.9 444.6zM277.3 472.6L276.8 472.6L273.1 472.6L272.4 471.1L274.6 470.4L276.0 471.5zM252.5 433.9L253.0 431.6L253.5 428.7L256.0 425.9L256.3 427.9L255.8 430.5L255.7 431.6zM228.3 461.0L226.8 460.1L227.5 458.4L228.9 456.5L230.4 455.4L230.2 458.9L229.6 460.8zM224.2 440.8L222.5 440.1L221.6 435.4L221.6 433.1L223.6 436.1L224.2 438.9zM254.8 460.2L253.7 457.9L254.4 455.1L255.2 454.5L256.0 458.2zM274.9 442.8L275.3 441.9L279.8 441.9L280.5 442.5L280.5 443.6L277.0 443.6zM266.2 455.2L265.1 455.3L259.4 453.4L258.7 452.8L260.2 452.3L264.8 454.0zM278.5 445.2L276.3 442.5L274.8 439.8L275.9 438.4L277.5 440.2L278.5 442.8zM280.5 436.9L279.9 435.7L278.7 433.4L277.9 431.2L279.1 430.8L280.5 431.3L280.5 435.3zM240.1 428.6L240.9 427.4L243.6 426.5L244.9 427.6L243.4 429.1L242.2 428.9zM271.6 470.9L270.4 471.7L268.6 472.1L266.7 469.9L268.3 469.8L269.8 469.4zM263.6 431.5L263.3 431.6L263.4 429.7L264.9 428.1L265.3 428.6L265.6 430.2L265.1 431.1zM264.6 449.3L262.5 448.3L262.1 444.7L263.5 444.8L264.5 445.0L265.6 447.9zM237.6 439.3L238.9 436.0L241.5 432.2L242.3 433.4L239.7 437.2zM257.2 421.4L260.8 419.0L262.3 419.0L264.4 419.0L264.2 420.7L262.1 422.3zM259.4 454.4L257.9 451.8L259.4 449.6L261.4 447.6L262.4 449.3L260.7 454.8zM266.4 438.0L263.5 435.0L264.8 432.8L266.7 433.4L266.6 435.9zM237.7 439.9L235.9 438.8L236.0 435.7L236.3 434.4L238.5 439.1zM238.3 424.8L239.7 424.0L242.4 423.6L243.4 425.0L242.8 425.9L240.2 425.9zM276.6 463.9L276.1 463.3L277.4 461.9L279.8 460.3L280.1 461.1L279.7 462.1L277.9 464.0zM239.2 429.9L239.8 426.4L241.3 424.6L241.6 424.4L242.5 426.1L240.7 429.0zM264.5 433.6L263.2 433.6L261.6 433.2L260.9 431.7L261.0 430.8L263.4 431.2L264.4 431.9zM272.4 439.3L273.0 436.8L275.3 437.0L276.0 438.3L275.9 440.3zM259.5 434.0L259.4 432.5L260.3 430.2L262.2 428.2L262.5 429.1L262.3 431.2L260.4 433.4zM258.0 433.1L257.4 431.1L257.6 428.6L258.0 427.4L258.8 427.5L259.4 429.9L259.6 431.2zM259.6 466.5L260.0 465.2L261.3 463.5L263.0 463.2L263.8 463.2L262.4 465.9L260.8 467.5zM234.3 443.5L234.6 442.8L236.3 439.3L238.3 440.8L238.4 441.4L236.1 443.9zM238.7 459.2L239.1 458.2L242.3 457.5L243.7 457.9L241.2 459.2zM268.2 452.7L267.2 453.8L265.1 452.3L265.4 451.1L267.1 449.6L268.1 450.9zM256.9 440.6L255.8 438.2L255.3 435.5L257.7 433.7L258.5 436.2L257.9 438.6zM249.8 438.7L246.5 439.9L245.5 440.2L241.4 438.3L243.4 436.6L244.8 436.8L247.4 437.9zM271.9 445.9L272.7 444.0L274.7 441.3L278.0 441.1L277.7 442.9L275.0 445.2zM238.8 433.5L238.1 434.3L236.2 429.4L236.4 428.1L238.8 429.3L240.1 432.7zM271.7 453.9L272.5 451.9L273.6 451.1L274.4 452.3L274.1 453.2zM231.2 438.8L235.2 437.7L238.7 437.8L238.1 439.5L233.1 440.8zM252.7 431.5L254.9 429.8L259.4 428.3L260.0 428.6L259.8 429.4L255.7 431.4zM279.9 445.3L276.8 443.5L275.6 439.9L276.4 438.1L279.6 442.5zM265.5 461.6L266.5 460.1L268.4 460.0L270.2 461.3L269.2 462.2L267.0 462.5zM241.2 444.2L239.8 443.0L239.7 441.3L240.9 440.3L241.8 440.8L242.4 443.0zM229.9 450.1L229.2 449.8L229.4 447.1L230.9 446.5L232.2 447.3L231.5 449.2zM232.8 448.1L233.2 445.5L235.7 443.0L236.1 443.6L235.5 446.1zM277.4 459.6L275.0 459.0L271.0 454.7L272.1 453.3L277.5 457.1zM247.2 452.5L247.1 454.6L244.6 450.0L243.9 447.4L246.5 445.6L247.9 448.9L248.0 451.6zM242.8 420.2L242.4 419.3L245.4 419.0L246.4 419.7L245.4 420.8L244.9 421.5L243.3 420.8zM232.2 446.3L233.9 444.3L236.7 441.7L238.0 442.4L234.4 446.2zM227.7 436.1L228.4 435.0L231.3 434.4L233.2 434.3L232.7 436.1L232.3 437.8L229.0 437.3zM243.8 447.2L244.5 445.9L245.6 445.8L246.3 446.1L247.1 446.8L244.6 447.3zM252.8 425.4L252.4 426.3L249.7 424.9L248.2 423.7L249.9 422.8L251.8 422.9zM270.7 459.5L268.5 459.4L265.4 458.1L265.3 457.3L265.5 456.4L268.1 456.1L269.8 458.2zM245.1 433.9L244.1 433.7L244.7 431.6L245.7 429.8L246.4 430.3L246.9 431.3L245.5 434.6zM230.6 456.4L230.9 454.6L231.5 453.2L232.6 452.7L233.5 452.5L233.3 454.5L232.3 455.1zM222.3 459.9L223.0 458.5L224.3 457.7L226.5 457.1L227.4 457.7L225.6 459.6L224.5 460.1zM232.0 440.2L232.3 436.8L234.5 434.2L236.8 433.4L234.8 436.9zM275.7 436.8L275.1 435.7L277.1 434.2L280.2 433.8L278.9 435.4L275.9 437.3zM274.6 432.3L273.6 430.6L272.1 426.6L272.4 424.8L275.0 426.6L276.1 431.2zM254.3 460.7L254.1 459.9L255.4 457.5L257.5 456.6L257.8 458.5L257.0 460.7L255.5 462.1zM260.6 427.1L259.9 423.9L260.7 419.6L261.3 419.0L263.2 419.7L262.3 424.7zM241.2 438.1L240.3 439.6L239.3 439.4L237.7 437.4L238.5 437.1L240.9 436.6zM252.4 449.6L254.0 447.7L256.1 446.3L258.9 445.0L257.1 448.5L255.6 448.6zM246.3 419.4L247.5 419.0L253.0 419.0L253.0 419.9L251.7 421.9L247.7 421.6zM260.5 456.6L259.4 456.2L258.2 452.4L259.6 450.6L261.3 455.9zM244.8 472.1L245.0 470.0L246.0 468.9L248.2 469.3L248.1 470.5L246.2 471.5zM241.5 436.8L240.0 431.8L240.3 428.9L242.3 427.9L242.5 433.9zM253.1 421.6L251.6 419.4L253.3 419.0L255.4 419.0L254.6 421.3zM232.7 448.4L230.3 449.9L228.0 448.6L228.6 447.1L232.1 447.4zM267.5 457.3L267.9 454.6L271.1 453.5L273.4 453.8L272.2 456.4L269.9 456.6zM264.3 468.1L264.5 465.3L265.9 464.7L267.2 464.7L267.7 467.2L265.6 467.6zM231.0 450.6L227.7 448.4L227.4 445.8L228.1 443.4L231.1 447.8zM248.3 444.1L248.1 441.9L252.0 440.3L255.7 440.6L253.8 443.0L250.9 443.8zM277.5 444.1L277.8 443.5L279.6 443.5L280.5 443.3L280.5 444.4L280.3 445.0L278.5 445.7zM277.4 460.3L274.7 458.7L274.7 456.0L276.9 453.9L277.8 456.6L278.6 460.5zM221.6 448.3L221.6 445.4L222.0 443.6L226.4 442.3L224.0 446.0L222.4 446.3zM247.5 440.0L246.0 438.6L246.0 435.8L246.6 432.7L247.9 435.6L247.8 438.4zM266.0 458.5L265.9 456.2L266.9 456.4L268.5 455.8L270.0 458.0L268.5 459.0zM253.4 434.3L251.1 435.1L247.7 432.7L248.5 430.7L251.1 432.3zM242.6 440.2L244.0 437.5L246.6 433.4L247.9 433.5L248.6 435.2L245.8 438.3zM261.7 434.4L260.7 432.3L261.5 427.9L262.4 426.1L263.4 428.3L262.6 432.1zM245.7 449.0L243.5 448.5L242.1 446.1L244.9 445.3L245.7 447.2zM250.7 464.1L248.9 463.7L249.3 462.0L249.9 459.8L250.8 459.6L251.1 461.0L251.2 463.4zM274.2 432.7L272.9 432.0L271.3 426.2L272.4 426.2L274.1 427.5L275.0 429.7zM251.1 461.9L251.5 460.6L252.2 459.4L253.3 458.9L253.6 459.8L253.3 461.7L252.3 461.9zM269.4 472.6L269.0 472.1L268.7 470.4L268.9 467.3L271.9 467.9L272.1 470.6L270.8 472.6zM221.6 425.9L221.6 423.4L222.2 421.0L225.1 420.4L223.1 425.2zM268.0 433.3L266.3 432.9L267.6 428.2L269.1 427.5L270.0 428.6L269.3 432.3zM262.9 449.4L260.1 448.1L259.0 444.1L260.3 443.4L262.6 446.5zM243.7 423.5L241.2 422.6L239.7 421.5L239.7 420.3L241.3 420.4L242.1 421.1z" fill="#35359c"/><path d="M258.5 440.0L256.7 441.0L255.6 440.8L253.7 439.5L255.0 439.1L257.7 439.2zM260.7 454.6L260.3 452.0L262.6 446.8L264.2 446.9L263.6 449.6L263.1 451.9zM230.3 433.6L231.4 433.0L234.7 431.8L236.1 432.3L235.7 434.1L231.7 435.6zM280.5 446.0L276.2 446.8L273.8 446.4L271.9 444.0L279.2 444.2zM227.8 441.3L225.0 441.5L221.7 440.6L221.7 439.2L225.2 439.7zM259.5 458.6L259.3 457.8L261.3 455.5L262.9 454.7L263.7 455.1L262.3 458.4L260.4 459.2zM232.2 427.0L230.7 427.1L230.5 425.7L231.1 423.7L233.5 424.9L232.9 426.4zM221.6 438.3L221.6 438.0L225.4 437.1L226.6 437.6L225.4 438.4L221.6 439.4zM272.5 451.8L273.8 449.8L275.3 450.5L275.2 452.5L272.9 452.5zM250.0 434.4L249.7 433.7L254.9 432.5L255.3 433.3L253.3 434.8L250.6 435.1zM221.6 441.3L221.6 439.5L223.8 439.0L225.4 439.6L223.2 441.6L221.6 442.1zM266.9 421.7L266.4 419.2L267.0 419.0L268.4 419.0L268.2 420.0zM267.8 447.6L267.8 443.8L269.3 441.7L270.2 443.0L269.9 445.1zM266.8 464.9L265.7 465.5L263.8 461.0L263.9 458.6L267.2 461.2L268.2 464.2zM235.6 462.9L235.1 463.2L232.0 460.7L232.6 459.6L234.5 460.3L235.7 461.5zM272.4 420.6L271.6 419.3L274.4 419.0L278.6 419.0L276.7 419.7L275.3 421.2zM255.6 472.6L254.3 472.4L254.4 468.4L254.9 467.3L255.8 466.4L257.0 468.6L256.6 472.6zM223.7 449.1L224.6 447.7L226.6 447.3L226.9 448.2L227.5 449.3L226.7 450.3L224.5 449.8zM239.0 464.9L236.9 462.9L235.3 460.8L235.6 459.0L237.0 458.2L239.5 462.3zM251.4 451.2L250.9 449.8L251.4 448.0L253.0 446.4L254.1 448.9L253.6 450.5zM267.1 470.6L266.0 469.9L267.4 463.2L268.6 462.5L269.2 468.6zM272.6 445.9L269.5 445.5L268.4 443.6L269.2 442.0L271.2 443.2zM267.0 464.0L266.8 461.9L271.5 460.5L271.4 462.7L269.6 464.2zM276.3 464.2L274.4 465.2L273.9 464.7L272.4 463.2L273.6 462.9L275.3 463.7zM280.5 467.2L280.2 466.6L278.7 461.0L280.5 462.2L280.5 465.9zM252.1 425.0L251.3 424.7L252.7 422.9L255.0 423.5L255.9 424.4L254.4 426.9L252.7 426.1zM256.6 438.4L258.3 436.8L260.3 436.4L262.1 436.7L261.0 438.1L258.0 439.2zM256.5 422.8L256.0 424.1L253.0 425.0L252.5 423.6L253.2 422.4L253.2 421.6L256.2 422.5zM260.6 472.5L260.6 470.6L260.9 467.0L261.3 466.2L262.7 468.5L262.0 469.9zM266.1 429.0L263.9 428.4L262.7 427.9L261.9 425.9L262.8 425.7L265.8 427.6zM240.8 438.7L240.4 435.9L240.6 434.1L242.8 430.3L243.4 429.6L243.1 433.1L241.7 436.6zM225.5 439.1L223.7 439.3L221.6 434.9L221.6 433.7L223.7 434.8L226.6 438.8zM240.6 438.3L239.3 438.0L237.7 437.5L237.2 436.2L238.0 434.6L239.6 436.3L239.7 436.7zM271.1 456.6L270.4 457.7L268.7 452.7L269.2 451.5L270.2 452.4L270.5 453.0L271.2 454.9zM279.2 432.9L277.3 431.3L276.2 429.3L276.6 426.9L277.2 425.4L278.9 427.1L279.7 431.8zM231.7 439.2L229.7 441.2L224.2 438.4L224.8 436.8L227.5 435.6L228.9 436.6zM260.2 447.9L258.6 445.6L259.3 442.4L260.7 440.0L262.5 441.6L262.4 443.1L262.4 446.5zM274.3 438.8L272.6 438.6L269.5 438.1L266.8 436.5L268.3 435.5L269.1 435.4L272.3 436.6zM260.6 438.4L258.6 436.8L256.4 433.5L257.2 432.7L259.3 435.7zM232.8 424.0L230.9 423.3L229.7 421.8L229.9 420.1L230.5 419.5L233.1 420.4L233.3 422.9zM230.1 434.8L227.9 430.7L227.5 429.1L227.5 425.0L229.5 428.8L230.2 432.8zM276.4 451.1L276.6 448.8L278.2 447.1L280.3 449.5L278.2 450.9zM233.7 435.5L233.6 434.1L236.8 432.5L238.7 431.5L237.2 433.8L235.3 435.2zM245.9 464.2L244.3 461.2L244.9 456.1L245.9 453.9L247.5 456.2L246.9 462.6zM280.5 432.3L280.5 432.7L276.4 429.3L278.4 429.1L280.5 430.0zM230.4 427.9L226.5 428.6L225.3 428.4L221.8 426.1L224.1 425.0L227.2 425.9zM235.7 442.6L235.7 440.9L237.9 438.7L240.0 438.5L241.0 439.8L236.4 443.3zM279.6 446.3L277.2 446.2L275.5 445.5L275.5 443.2L276.8 443.3L279.0 445.2zM280.1 436.2L279.0 434.3L279.2 431.2L279.9 429.5L280.5 430.6L280.5 433.2zM250.2 430.7L249.2 429.3L249.3 427.8L251.1 426.4L252.2 427.5L253.1 428.5L252.6 430.4zM260.2 434.1L258.3 433.7L257.1 430.7L258.4 429.7L259.0 429.3L261.4 433.9zM240.6 447.1L239.4 447.2L238.8 446.9L238.4 444.9L239.6 445.6L240.6 446.5zM235.9 461.8L234.0 461.6L232.1 461.2L231.9 457.5L234.5 458.7L236.6 460.9zM260.2 453.6L256.0 451.3L253.4 447.4L254.8 446.9L258.1 450.5zM279.1 440.0L278.3 440.5L277.5 437.1L278.8 435.1L279.5 435.4L280.3 437.5L280.0 439.9zM269.6 465.0L269.6 462.4L270.9 458.1L272.5 456.5L272.6 458.2L271.7 461.9zM259.3 450.7L257.6 451.4L256.9 450.3L256.5 448.6L258.4 449.2L259.7 449.5zM245.2 423.4L246.7 421.0L249.8 419.0L252.1 419.0L251.3 419.0L249.0 421.4L247.7 422.6zM263.6 447.8L263.9 444.1L266.2 440.1L267.3 441.5L266.5 444.5zM266.2 427.0L264.2 426.0L261.9 423.5L261.2 421.7L260.4 419.5L264.7 423.2L266.1 425.2zM246.0 453.9L243.8 452.6L243.7 449.8L246.7 449.5L247.7 451.9zM264.1 449.6L261.5 449.6L259.1 447.6L259.5 446.6L261.9 447.5zM246.8 434.2L244.8 431.8L245.8 427.3L247.7 427.5L248.4 431.1zM243.7 455.2L243.6 455.5L241.8 456.0L240.5 454.9L240.5 454.2L240.9 452.9L243.2 453.8zM242.0 431.7L239.4 431.5L235.7 429.3L234.9 427.6L237.0 427.8L241.5 430.2zM277.0 427.0L274.7 427.4L271.5 425.8L271.8 424.8L274.2 423.6L276.6 425.8zM273.4 436.8L273.7 435.4L273.6 434.2L275.1 433.3L275.9 433.0L275.2 435.6L275.0 436.6zM262.3 426.8L259.2 425.4L256.6 422.8L256.1 421.4L258.3 421.8L261.9 425.2zM254.5 440.8L254.3 440.7L254.6 438.7L255.0 438.4L255.7 437.7L256.3 439.9L255.6 440.2zM253.8 455.1L256.2 452.0L258.9 450.9L259.3 453.0L256.0 454.2zM241.6 431.3L241.9 429.6L242.9 429.3L244.5 429.7L244.7 432.5L243.1 432.4zM271.5 469.6L269.3 469.0L267.9 463.7L270.6 465.1L271.6 467.7zM251.3 429.4L251.5 427.2L255.1 425.9L255.9 428.7L253.7 430.1zM265.4 430.6L265.8 428.7L269.5 427.4L270.7 428.1L270.7 429.1L267.5 430.8zM258.3 446.9L255.5 444.8L255.4 443.5L256.7 441.2L257.5 441.1L259.0 443.7zM263.5 454.9L262.0 456.1L258.1 456.5L256.7 453.5L257.5 452.0L261.3 453.5zM272.0 433.3L269.8 431.8L269.5 430.6L270.9 429.4L272.5 429.1L272.7 431.7zM252.8 427.9L250.7 428.2L248.7 427.3L248.3 425.5L249.4 424.8L253.1 425.8zM242.3 444.7L244.8 441.5L246.3 439.4L248.3 439.0L249.4 438.8L247.7 442.5L245.6 444.1zM249.3 472.6L249.7 471.8L252.8 470.2L253.0 471.8L252.5 472.6zM251.6 448.2L250.2 447.4L247.4 444.6L246.8 443.1L247.6 442.9L252.1 447.1zM248.6 465.5L248.8 464.1L249.8 463.3L251.8 462.9L251.2 465.0L250.2 465.6zM244.4 450.3L243.3 449.4L246.9 447.6L249.4 447.8L249.5 448.8L247.3 449.9L245.5 450.5zM269.4 450.7L266.2 449.8L264.5 448.2L266.4 446.2L267.9 445.8L269.7 449.0zM248.0 429.9L246.3 428.2L245.4 425.8L247.2 426.2L247.9 427.3zM227.8 462.9L229.6 460.0L233.0 458.3L233.8 459.1L230.7 462.8zM270.9 438.7L269.4 438.1L269.4 436.1L271.2 434.8L272.7 435.9L272.8 438.1z" fill="#4646a8"/></g>
<filter id="gr9" x="40" y="488.1" width="58.5" height="51.5" filterUnits="userSpaceOnUse" color-interpolation-filters="sRGB"><feTurbulence type="fractalNoise" baseFrequency="0.9" numOctaves="1" seed="59"/><feColorMatrix type="matrix" values="0 0 0 0 0.5  0 0 0 0 0.5  0 0 0 0 0.62  1.8 0 0 0 -0.85"/></filter>
<filter id="mt9" x="40" y="488.1" width="58.5" height="51.5" filterUnits="userSpaceOnUse" color-interpolation-filters="sRGB"><feTurbulence type="fractalNoise" baseFrequency="0.35" numOctaves="2" seed="99"/><feColorMatrix type="matrix" values="0 0 0 0 0.42  0 0 0 0 0.42  0 0 0 0 0.74  3.0 0 0 0 -1.25"/></filter>
<rect x="40" y="488.1" width="58.5" height="51.5" fill="#c0c0de"/>
<rect x="40" y="488.1" width="58.5" height="51.5" fill="#000" filter="url(#mt9)" opacity="0.55"/>
<rect x="40" y="488.1" width="58.5" height="51.5" fill="#000" filter="url(#gr9)"/>
<g filter="url(#bl)"><path d="M74.7 522.3L75.5 519.9L78.7 518.1L80.0 518.2L76.9 522.0zM92.7 497.8L93.6 496.3L96.0 493.5L97.9 492.8L98.5 494.6L95.2 497.2zM50.7 526.0L47.8 525.4L45.9 522.9L46.2 521.7L49.0 522.6zM56.9 538.8L55.1 534.0L56.1 531.9L57.6 532.1L58.3 534.6zM46.8 538.3L44.7 537.3L42.7 534.5L43.3 533.7L43.8 532.1L46.1 534.7L47.9 538.3zM63.2 506.6L63.3 504.5L63.9 503.7L65.7 503.1L65.9 504.7L64.6 506.5zM54.7 500.8L54.8 498.4L56.3 497.1L57.1 497.2L57.2 498.3L55.4 500.5zM98.5 495.0L98.2 493.9L94.7 490.9L95.5 489.7L95.1 488.6L98.5 493.7zM43.6 521.3L41.9 521.8L40.1 519.5L40.9 517.5L43.4 517.5zM62.1 521.5L62.2 518.6L63.8 515.7L66.1 516.4L64.0 521.6zM79.9 536.7L79.3 534.7L80.8 531.9L82.5 531.6L81.1 535.4zM40.0 533.5L40.0 532.4L41.7 527.8L42.8 527.4L44.4 527.6L40.7 533.7zM66.8 525.5L63.9 523.0L61.6 518.9L63.5 518.3L65.1 519.3L66.3 521.7zM47.8 525.0L50.5 523.5L53.8 523.2L54.7 524.3L53.2 526.9L51.4 526.4zM57.0 523.3L57.0 521.2L60.0 517.2L62.0 517.1L59.2 522.0zM64.2 510.3L62.3 509.1L61.8 506.4L62.5 504.9L64.6 508.2zM61.1 538.3L60.7 539.6L56.9 539.2L56.7 537.8L57.8 536.8L60.6 537.2zM84.9 521.1L83.7 520.5L82.1 516.6L82.9 515.8L85.3 520.3zM93.1 495.1L92.9 493.6L94.1 492.0L95.3 492.5L95.5 494.1L94.1 495.5zM81.5 512.4L78.6 512.9L76.1 508.9L78.5 508.5L80.5 508.9zM72.1 539.6L71.3 539.6L73.1 535.2L75.0 533.0L75.4 536.1L74.4 539.4zM79.0 513.1L77.5 512.5L77.9 510.0L79.4 508.9L80.5 509.9L80.7 511.8zM76.6 528.5L76.6 527.0L78.6 525.1L79.6 525.4L78.9 527.8zM63.5 524.3L62.3 525.5L59.6 525.4L57.1 523.5L58.1 522.2L60.9 521.8L61.8 523.4zM96.4 512.7L93.3 512.8L91.6 511.8L91.1 509.3L92.2 509.1L94.8 509.9zM87.9 536.6L85.4 535.7L83.1 531.2L82.8 529.6L85.4 530.2L86.9 532.8zM65.4 535.4L65.3 536.2L61.7 533.1L60.2 530.1L61.8 529.7L65.8 533.1zM77.5 506.4L77.8 508.0L73.9 507.3L73.0 505.8L73.7 504.7L76.6 504.5zM74.3 489.3L78.5 488.1L80.3 488.3L83.0 488.8L82.9 490.6L77.7 490.9zM85.7 503.0L87.1 500.9L90.4 500.5L91.9 502.1L92.1 503.9L86.4 504.6zM84.1 533.4L81.6 533.9L79.6 530.6L79.1 529.1L81.9 529.5L83.7 531.4zM47.2 524.1L49.4 523.4L52.0 523.2L56.3 523.8L53.8 525.2L48.3 525.2zM83.8 535.2L85.4 533.1L88.4 530.9L90.2 530.2L88.6 533.0L86.1 534.6zM98.5 518.3L97.2 516.4L95.0 512.7L97.2 513.2L98.5 516.1zM98.5 513.2L98.5 513.3L97.4 512.6L92.5 510.1L93.1 509.1L98.1 509.6L98.5 511.1zM96.1 531.8L93.7 530.8L92.3 529.0L93.1 528.6L95.3 530.1zM72.8 525.8L72.0 527.0L68.2 527.0L68.4 526.0L70.6 523.7L72.6 524.6zM87.3 513.5L87.2 511.8L93.3 510.7L93.7 512.1L90.8 513.4zM56.3 531.7L54.6 533.3L53.8 532.7L52.7 531.0L52.8 529.8L55.0 530.0zM40.0 539.6L40.0 539.6L41.6 535.8L42.9 532.7L43.5 538.1L42.4 539.6zM50.3 539.6L50.0 539.5L50.4 535.5L52.3 531.9L52.9 532.3L52.4 537.3L52.0 539.2zM55.9 538.8L54.4 538.5L53.8 536.3L55.0 535.8L56.2 537.6zM91.7 505.8L90.6 506.5L87.7 505.9L88.7 503.8L89.3 503.6L90.7 503.8zM98.5 506.6L97.8 506.0L96.8 503.9L97.2 502.6L98.4 503.4L98.5 505.0zM89.8 500.0L88.8 500.1L88.9 497.2L89.5 496.1L90.9 496.8L91.1 499.2zM57.3 508.1L54.2 508.7L51.6 506.6L52.6 504.8L55.7 505.9zM85.4 539.6L87.1 538.4L90.8 537.4L92.9 537.3L92.2 538.8L88.4 539.6zM79.2 512.1L75.7 510.0L73.7 508.3L71.4 505.2L73.8 506.4L76.6 508.8zM97.8 537.7L96.2 536.3L95.5 533.0L96.3 531.0L97.1 530.9L98.5 535.4zM75.0 534.9L75.2 534.0L76.4 532.6L77.5 533.1L79.2 533.7L77.3 535.0L75.9 535.9zM55.0 530.1L52.1 530.6L51.1 529.7L48.1 528.0L49.3 527.8L50.1 527.7L53.8 529.1zM50.3 518.9L54.1 513.5L57.4 512.0L59.8 513.8L56.0 517.1zM49.5 524.1L49.8 522.0L53.1 520.0L55.4 521.0L52.8 523.5zM52.9 532.4L53.7 530.2L57.1 528.6L58.4 529.9L56.0 531.5zM71.1 531.5L68.3 532.6L66.6 530.9L67.6 529.2L69.7 529.7zM55.3 539.1L55.9 539.6L51.6 539.6L49.3 538.6L51.9 538.3L54.4 537.9zM98.5 489.6L98.5 491.0L94.4 490.2L93.9 488.6L94.4 488.1L95.3 488.1L97.8 488.3zM75.5 501.2L74.8 501.9L73.7 499.5L73.7 498.4L73.7 497.4L75.0 498.7L75.5 499.9zM45.8 538.2L46.8 536.8L47.6 534.6L50.9 533.8L50.4 536.5L49.5 538.4zM86.4 514.4L85.5 514.4L85.7 511.5L86.8 510.3L87.2 510.0L87.8 512.5L87.3 514.1zM91.3 514.4L92.5 512.1L93.8 511.1L95.6 510.0L96.1 511.0L96.5 511.3L93.6 513.1zM84.4 506.8L83.2 504.5L83.6 501.9L84.1 500.9L85.2 500.3L85.6 502.1L85.1 506.6zM89.0 512.7L87.9 512.0L87.9 506.2L88.5 505.6L89.7 502.9L89.6 506.3L89.6 512.1zM47.3 539.2L46.8 537.2L49.3 536.1L51.7 534.2L53.4 534.9L50.2 538.8L48.3 539.1zM83.8 536.4L82.3 535.4L83.0 532.8L84.4 532.5L85.3 533.4L85.6 535.0zM77.6 536.7L77.9 534.9L79.7 533.3L80.8 533.6L79.8 535.6zM77.3 524.7L77.3 522.8L81.1 521.1L83.3 522.6L82.8 523.7L79.6 526.0zM59.4 539.6L58.7 538.2L58.3 533.4L59.6 530.0L60.7 533.2L60.1 538.0zM72.0 534.2L73.0 531.9L75.6 529.0L77.0 528.7L75.5 531.3L74.2 532.9zM87.7 490.6L88.4 489.1L90.8 488.4L92.8 488.3L94.7 488.7L93.4 490.4L89.8 491.1zM72.3 525.6L74.2 522.5L76.2 520.9L78.8 520.7L79.5 521.1L77.3 524.0L75.0 525.8zM67.5 528.9L64.6 528.0L63.0 526.1L62.3 523.2L64.0 524.5L65.5 526.1zM62.7 509.2L62.9 507.8L65.8 505.7L68.8 505.6L68.1 507.0L65.2 508.5zM86.9 539.6L85.3 538.7L85.7 535.8L86.6 534.7L87.9 536.2L88.8 538.9zM82.7 532.1L80.4 533.9L77.0 533.9L75.2 533.0L76.3 531.1L78.6 530.6L81.0 531.8zM79.5 527.4L78.9 526.5L82.5 522.1L83.3 522.4L83.1 524.7L81.6 526.5zM94.6 501.6L94.0 503.1L91.2 501.1L90.8 499.4L93.2 499.1L95.5 499.3zM95.2 521.1L94.9 522.2L89.2 518.8L88.6 518.1L89.6 517.7L94.5 519.7zM98.0 525.0L95.9 523.2L96.0 521.9L97.1 518.8L98.5 521.0L98.5 523.8zM94.8 526.4L95.7 523.3L96.3 520.9L98.5 517.4L98.5 520.8L97.1 526.2zM79.7 506.3L78.7 506.9L74.7 505.7L70.0 503.0L71.9 503.0L75.9 503.5L78.2 505.1zM92.6 523.7L91.6 522.9L89.3 520.6L89.7 520.1L90.5 519.2L93.6 522.9zM67.1 517.0L68.4 514.1L70.4 512.5L72.9 512.1L72.4 514.7L69.5 516.6zM69.9 507.5L69.9 507.0L72.1 506.3L73.9 506.8L73.0 508.5L70.3 508.8zM76.6 539.2L74.3 539.6L71.0 538.3L67.9 536.7L68.3 536.0L71.9 536.6L75.8 537.9zM57.8 539.6L58.1 537.3L62.6 534.8L63.7 536.4L61.0 539.3zM96.2 508.2L96.3 507.0L96.8 505.9L98.5 505.6L98.5 507.1L98.5 509.3L97.2 508.4zM43.2 537.7L45.0 536.7L47.4 535.6L48.1 537.9L44.4 539.0zM70.6 506.9L67.8 504.4L66.2 503.6L63.5 498.7L65.5 498.3L67.3 499.9L69.9 504.0zM64.1 525.5L63.4 526.7L57.8 524.5L58.3 522.6L61.5 523.3zM65.6 522.2L64.2 522.2L62.6 519.1L62.8 517.4L63.7 515.9L66.5 517.2L65.9 521.1zM53.5 508.5L53.8 507.9L57.4 505.6L59.0 504.9L61.4 506.1L59.4 506.7L56.4 508.3zM98.5 514.9L97.7 516.6L96.2 516.2L96.2 514.1L98.3 513.5zM98.5 539.0L98.1 539.5L96.5 537.8L97.5 536.3L98.4 535.7L98.5 538.1zM69.2 506.0L66.8 506.2L64.6 504.9L62.9 502.9L64.4 502.9L67.9 504.6zM93.2 537.5L93.9 536.3L97.7 534.2L98.5 535.1L97.0 537.1L95.2 537.9zM90.0 530.1L89.7 528.0L90.3 525.3L91.7 524.0L91.4 528.1zM87.7 531.0L86.4 531.6L84.7 531.0L84.3 528.6L86.0 528.4L87.5 529.6zM40.0 521.4L40.0 521.2L41.7 517.0L42.2 516.8L45.0 516.2L43.6 518.7L40.0 522.6zM65.7 508.6L63.4 508.8L57.7 505.6L60.2 505.7L65.7 507.0zM88.2 501.5L84.8 499.2L83.0 497.2L82.8 494.7L83.9 494.6L86.4 498.0zM50.5 539.6L51.9 538.0L53.6 535.0L55.5 536.9L53.5 539.6zM73.3 533.3L71.7 533.1L68.2 530.2L69.0 528.4L71.7 530.3zM98.5 536.3L98.1 536.2L95.2 532.3L97.0 530.7L98.5 534.6zM94.8 501.7L92.9 502.0L90.3 502.0L90.0 499.7L92.4 499.3L95.0 499.8zM88.0 539.6L88.0 538.9L90.2 538.0L92.1 537.8L93.2 538.4L91.5 539.6L89.6 539.6zM64.7 531.0L61.8 530.9L57.9 529.9L57.8 529.3L60.5 528.0L63.8 529.6zM72.4 503.2L70.8 502.7L69.6 500.2L69.8 499.4L70.9 499.8L72.3 502.1zM49.1 539.6L46.5 539.6L44.9 539.6L43.6 539.3L42.5 536.7L46.3 538.0L48.0 539.3zM58.9 531.6L58.6 532.0L57.2 530.2L57.3 527.7L58.5 527.3L59.2 527.5L60.5 531.1zM92.3 513.4L91.1 511.7L92.2 509.7L94.8 510.6L95.4 512.2L93.7 513.2zM72.4 495.9L72.0 492.9L74.4 489.9L78.2 488.1L77.3 491.3L74.6 495.6zM44.8 521.1L42.8 520.5L41.7 518.5L43.9 517.3L45.2 518.6L46.0 520.0zM87.2 531.9L87.9 529.7L88.7 530.0L90.3 529.9L90.8 531.8L89.8 532.2L88.4 532.4zM68.2 533.5L67.2 531.0L66.8 529.5L68.6 526.0L69.8 526.8L70.3 527.0L68.8 531.6zM41.0 518.1L41.3 516.3L43.0 516.1L44.5 516.8L44.4 517.7L42.7 518.6zM92.1 511.1L93.0 510.3L98.5 509.8L98.3 511.5L94.7 512.4zM85.0 517.3L84.9 515.0L85.9 513.6L87.8 514.9L87.0 516.7zM78.4 536.1L78.6 534.5L84.3 532.7L84.5 533.9L82.9 535.6L80.0 536.1zM76.6 527.4L77.1 526.0L81.6 522.6L82.4 522.9L81.6 525.2L79.1 526.7zM48.2 539.6L49.4 538.4L52.6 535.7L54.4 535.4L53.6 538.4L51.5 539.6zM64.5 514.2L63.5 511.8L62.1 507.8L62.8 507.3L63.4 506.0L65.5 508.9L65.1 510.8zM84.6 508.3L81.9 505.5L80.4 501.5L82.0 501.5L84.4 503.2zM76.1 516.9L74.7 514.1L74.6 508.8L75.8 509.6L76.4 515.0zM65.1 539.6L64.2 539.6L65.9 536.9L66.6 536.3L67.2 536.6L66.4 539.6zM89.7 539.4L85.7 539.6L82.1 538.1L82.6 537.1L86.9 537.7zM81.5 502.0L81.5 500.1L82.9 498.7L87.1 496.1L86.1 498.1L85.4 499.5L83.1 501.4zM44.8 529.7L44.8 527.7L47.5 526.7L49.6 525.8L49.8 526.2L48.3 528.6L46.6 529.9zM48.8 509.4L47.1 508.3L42.9 505.4L42.9 503.6L46.0 504.6L48.2 506.0zM64.3 509.4L64.7 507.5L66.7 505.8L67.6 505.2L70.0 505.8L67.9 508.6L66.0 509.7zM82.6 539.6L79.7 539.1L78.9 537.3L79.4 535.9L81.5 536.8L81.5 538.3zM78.7 538.0L76.5 539.1L74.9 537.9L74.1 536.3L76.4 536.1L77.6 536.4zM78.2 515.7L78.4 515.2L79.9 513.3L82.0 512.0L80.9 514.6L79.1 516.6zM80.8 492.2L79.9 492.1L79.2 490.0L79.8 488.5L81.0 489.9L81.6 491.4z" fill="#4545aa"/><path d="M90.8 499.7L91.2 497.9L93.0 496.1L95.8 495.8L94.8 498.7L92.7 499.8zM76.9 523.5L76.4 522.7L79.5 520.1L80.4 520.4L79.8 522.8L78.5 523.9zM77.4 531.4L76.3 531.9L73.9 531.8L72.4 531.1L74.2 530.3L75.9 530.7zM61.8 522.1L62.8 519.9L64.5 518.6L65.0 519.2L66.2 521.0L66.0 522.5L63.2 522.7zM65.8 527.8L66.9 526.7L68.9 526.2L70.3 526.9L70.6 528.7L66.6 529.5zM91.4 521.7L91.9 518.1L93.4 515.5L96.0 513.7L95.5 516.7L93.2 519.6zM85.1 531.1L82.0 531.3L79.7 528.8L77.0 526.0L80.6 526.6L85.2 530.1zM49.0 528.0L49.1 527.1L52.2 527.0L53.2 527.3L53.5 528.8L52.9 529.4L48.7 529.8zM69.6 519.9L66.4 520.1L62.3 518.3L61.7 517.0L64.0 516.9L65.9 517.7zM56.3 533.1L55.6 532.4L55.3 530.0L56.3 527.2L57.4 527.6L57.8 530.7L57.7 532.8zM88.6 537.9L85.8 539.0L82.2 537.2L82.4 535.4L88.5 535.7zM52.0 531.2L53.9 529.3L60.6 529.5L60.3 531.4L55.2 531.6zM74.3 537.9L74.8 535.3L75.8 534.7L78.3 534.9L77.7 537.2L75.0 538.4zM93.2 529.8L90.9 528.0L89.2 526.0L89.3 524.2L91.3 524.6L93.0 527.1zM89.0 534.5L90.2 532.6L91.6 532.9L93.3 532.9L92.0 534.5L89.7 535.5zM98.5 533.7L97.5 533.7L94.6 533.1L92.1 531.0L93.1 530.1L95.4 530.1L98.5 530.7zM76.6 539.6L76.0 537.5L76.6 532.9L77.5 530.6L78.4 533.1L77.5 539.0zM76.4 531.2L74.2 529.7L71.0 526.3L71.3 525.3L75.3 529.0zM77.4 515.4L73.6 515.9L71.9 512.5L72.9 511.3L76.3 513.2zM84.7 505.9L85.3 503.1L85.9 501.5L87.3 500.4L87.3 502.5L86.7 504.2zM91.1 520.7L90.8 522.5L86.4 521.3L86.1 520.4L86.6 518.9L89.1 519.3zM91.1 514.5L89.4 510.8L88.5 508.0L89.4 507.3L90.4 507.5L91.0 511.0zM66.4 525.4L65.8 524.5L66.1 522.1L67.0 521.4L67.7 521.3L68.2 522.6L67.7 524.2zM57.7 535.4L58.5 533.2L61.5 527.8L62.6 528.1L64.3 528.2L62.2 532.2L59.3 535.7zM91.8 498.8L95.2 498.2L97.4 498.1L98.5 498.4L98.5 499.7L97.9 501.3L94.2 500.7zM73.7 539.6L72.0 539.3L68.7 536.3L67.9 534.4L69.4 534.7L73.8 538.5zM69.6 524.1L67.4 524.0L66.1 523.3L64.8 521.3L66.7 520.6L69.2 522.1zM84.5 539.4L82.7 537.6L82.0 534.2L83.6 533.0L85.4 535.6L85.0 538.0zM45.1 526.9L43.1 527.8L40.6 527.4L40.6 526.4L40.8 524.0L42.0 523.5L44.5 525.9zM89.7 538.0L90.0 536.1L94.7 535.7L95.2 537.9L91.3 539.6zM89.4 531.6L87.0 530.2L85.4 528.1L85.3 526.2L87.0 527.0L88.4 529.2zM69.8 531.1L70.8 528.6L72.5 527.1L73.4 527.3L71.9 529.4zM43.4 507.8L42.3 508.7L40.9 507.8L40.5 506.4L42.0 505.9L43.1 506.8zM83.7 510.3L86.4 509.4L89.9 509.6L93.7 510.4L91.4 511.1L83.4 511.4zM89.8 534.9L87.4 534.3L85.7 531.6L87.7 530.1L90.4 533.0zM82.3 530.9L81.1 529.4L80.4 528.2L81.1 527.0L82.7 527.8L82.9 528.4zM95.7 502.5L93.9 502.4L90.7 499.9L90.9 497.8L95.5 500.6zM53.6 536.9L53.9 535.2L54.0 534.2L56.1 531.5L56.1 532.8L56.3 533.5L55.4 536.7zM59.6 526.4L58.6 524.6L58.7 518.6L59.0 516.5L60.7 520.1L60.2 524.3z" fill="#5656b4"/></g>
<filter id="gr10" x="100" y="488.1" width="60" height="51.5" filterUnits="userSpaceOnUse" color-interpolation-filters="sRGB"><feTurbulence type="fractalNoise" baseFrequency="0.9" numOctaves="1" seed="60"/><feColorMatrix type="matrix" values="0 0 0 0 0.5  0 0 0 0 0.5  0 0 0 0 0.62  1.8 0 0 0 -0.85"/></filter>
<filter id="mt10" x="100" y="488.1" width="60" height="51.5" filterUnits="userSpaceOnUse" color-interpolation-filters="sRGB"><feTurbulence type="fractalNoise" baseFrequency="0.35" numOctaves="2" seed="100"/><feColorMatrix type="matrix" values="0 0 0 0 0.42  0 0 0 0 0.42  0 0 0 0 0.74  3.0 0 0 0 -1.25"/></filter>
<rect x="100" y="488.1" width="60" height="51.5" fill="#c0c0de"/>
<rect x="100" y="488.1" width="60" height="51.5" fill="#000" filter="url(#mt10)" opacity="0.55"/>
<rect x="100" y="488.1" width="60" height="51.5" fill="#000" filter="url(#gr10)"/>
<g filter="url(#bl)"><path d="M143.3 514.4L141.6 512.6L141.5 511.6L142.8 510.6L144.4 509.7L144.8 512.6zM108.3 535.0L108.6 532.6L110.6 531.3L111.3 531.9L110.3 534.3zM137.4 521.2L138.2 519.6L141.7 517.7L142.9 518.6L142.6 520.6L139.6 521.8zM110.4 529.8L108.5 532.5L104.2 530.7L101.9 528.8L109.1 528.3zM152.5 509.8L151.1 509.9L148.0 508.1L147.7 506.5L150.3 506.4L152.6 506.9zM153.8 521.5L151.0 522.4L144.5 518.0L145.4 516.2L151.1 517.6zM105.7 530.2L105.2 529.5L107.7 527.0L108.7 526.4L110.1 526.7L108.8 527.9L106.3 530.8zM102.5 526.1L102.4 524.8L104.5 523.8L105.9 523.6L105.2 526.1L103.4 526.1zM111.6 507.6L110.0 506.3L111.8 503.4L113.6 501.0L114.8 504.1L113.5 506.6zM103.4 504.8L104.0 504.0L106.1 503.2L107.8 504.1L107.0 505.0L106.3 507.1L104.1 507.5zM148.5 535.7L148.1 531.0L151.1 529.0L152.5 528.4L153.7 532.5L151.4 534.1zM109.9 494.4L108.9 494.6L107.3 491.6L109.1 488.2L110.0 490.3L110.8 493.4zM144.8 535.7L142.8 534.9L141.8 534.6L141.2 532.0L143.3 532.4L144.4 534.0zM158.5 511.8L156.1 514.0L154.2 511.9L153.5 510.9L155.7 509.6L156.9 509.7L158.4 510.3zM118.1 515.7L120.3 514.6L122.7 513.9L125.2 515.0L123.9 516.9L122.2 517.5L118.6 517.4zM123.4 539.6L122.8 538.6L124.1 536.7L126.5 537.1L126.3 539.6L124.9 539.6zM138.6 532.5L139.3 530.3L145.0 527.9L146.2 528.8L145.5 530.1L139.3 532.8zM155.2 515.8L156.3 513.0L160.0 511.7L160.0 513.8L157.6 515.4zM100.0 534.0L100.0 530.9L103.5 530.9L103.7 532.7L104.0 534.5L100.3 535.4zM160.0 512.3L158.4 512.5L158.0 510.6L158.5 508.9L160.0 510.7zM120.4 532.9L121.4 531.3L126.1 530.9L129.5 531.9L128.9 532.9L126.0 533.8L123.5 533.9z" fill="#4545aa"/><path d="M159.2 514.0L156.3 515.6L155.4 515.2L153.6 513.6L154.6 512.9L157.1 513.0zM149.4 505.9L147.3 505.3L145.2 499.0L145.9 498.5L147.6 499.1L150.1 502.6zM127.7 520.6L125.0 519.5L123.2 517.6L124.3 515.1L127.6 518.1zM113.6 494.2L117.6 491.5L119.5 490.5L122.7 490.2L124.3 491.4L119.5 493.7L116.4 494.1zM110.8 539.6L110.9 538.6L112.8 536.6L118.2 535.4L117.8 537.4L116.8 538.9L110.3 539.6zM116.9 511.7L116.1 510.8L116.2 506.7L117.1 506.2L119.3 508.1L118.6 509.6zM136.1 530.9L137.3 528.4L140.0 527.7L140.7 528.5L141.4 529.7L137.9 531.1zM132.9 490.5L133.0 488.1L136.8 488.1L137.2 489.8L134.2 491.1zM147.1 492.6L144.3 493.2L143.1 493.5L139.4 491.2L140.8 489.6L143.9 489.1L146.5 489.9zM108.5 528.1L107.5 526.4L107.7 523.3L108.8 523.8L109.4 526.6zM159.7 528.1L157.0 527.6L155.8 524.0L157.6 523.6L158.4 522.9L160.0 527.7zM136.8 501.0L134.5 501.7L131.7 499.9L132.6 497.3L134.2 497.2L137.0 498.3z" fill="#5656b4"/></g>
<filter id="gr11" x="161.5" y="488.1" width="58.5" height="51.5" filterUnits="userSpaceOnUse" color-interpolation-filters="sRGB"><feTurbulence type="fractalNoise" baseFrequency="0.9" numOctaves="1" seed="61"/><feColorMatrix type="matrix" values="0 0 0 0 0.5  0 0 0 0 0.5  0 0 0 0 0.62  1.8 0 0 0 -0.85"/></filter>
<filter id="mt11" x="161.5" y="488.1" width="58.5" height="51.5" filterUnits="userSpaceOnUse" color-interpolation-filters="sRGB"><feTurbulence type="fractalNoise" baseFrequency="0.35" numOctaves="2" seed="101"/><feColorMatrix type="matrix" values="0 0 0 0 0.42  0 0 0 0 0.42  0 0 0 0 0.74  3.0 0 0 0 -1.25"/></filter>
<rect x="161.5" y="488.1" width="58.5" height="51.5" fill="#c0c0de"/>
<rect x="161.5" y="488.1" width="58.5" height="51.5" fill="#000" filter="url(#mt11)" opacity="0.55"/>
<rect x="161.5" y="488.1" width="58.5" height="51.5" fill="#000" filter="url(#gr11)"/>
<g filter="url(#bl)"><path d="M168.5 509.1L167.5 506.6L168.2 505.4L171.3 502.9L170.8 507.0L169.5 508.4zM194.0 539.3L192.7 539.6L190.1 539.2L189.3 536.3L189.8 534.9L192.7 535.7L195.4 538.6zM161.5 522.9L161.7 520.2L163.6 519.3L165.1 519.4L165.8 521.6L163.8 523.2zM220.0 509.8L220.0 511.8L218.2 510.7L215.0 508.6L219.0 507.3L220.0 508.6zM180.3 534.7L182.2 532.7L184.7 531.1L185.2 531.3L186.2 532.3L183.4 534.3zM193.4 511.0L192.4 510.2L192.7 507.5L193.4 505.2L194.6 507.6L194.0 510.7zM198.5 513.7L196.4 513.2L195.6 511.7L196.9 510.3L198.5 511.1L199.5 513.0zM186.6 539.6L187.5 539.5L190.3 537.5L192.2 537.3L192.0 538.5L189.3 539.6zM186.7 514.6L189.1 510.1L191.8 508.3L193.1 509.1L189.0 513.7zM174.5 505.0L170.3 506.3L167.2 503.8L166.9 501.9L170.6 500.8L173.7 502.5zM175.3 516.4L170.7 515.9L168.4 513.2L171.5 512.5L173.4 512.9zM200.4 539.6L199.6 538.7L198.9 535.3L200.9 533.7L201.4 536.7L201.2 539.0zM176.0 526.5L172.8 525.4L172.5 524.1L173.3 522.4L175.7 524.5zM178.7 514.1L176.6 514.4L173.2 510.6L171.2 508.4L175.4 509.7L178.4 513.0zM170.5 499.6L168.6 499.5L166.6 498.9L166.2 496.0L167.6 495.3L170.5 497.8zM178.1 537.5L176.7 537.3L175.3 533.8L176.3 533.1L179.0 533.4L179.9 534.7L178.7 536.4zM168.0 495.0L167.5 493.9L170.1 490.1L172.1 491.8L172.7 492.2L169.7 496.6zM216.5 496.7L215.3 494.2L216.0 492.4L216.7 489.4L217.9 492.0L218.0 493.7zM178.8 518.9L177.3 518.5L175.3 515.1L174.7 512.5L177.9 514.4L178.7 515.4zM194.9 539.6L193.8 539.6L190.3 539.2L190.9 538.5L194.0 538.7zM206.3 497.5L204.5 497.3L207.1 492.0L208.1 491.4L209.5 493.0L207.3 496.9zM199.9 496.5L198.4 496.3L196.4 495.4L196.2 491.1L198.2 492.2L201.5 494.8zM219.6 507.1L217.4 507.5L214.6 507.2L213.2 503.6L214.5 503.0L216.1 502.8L220.0 507.1zM186.1 528.9L183.9 529.1L182.7 528.9L182.4 527.9L182.9 525.6L183.6 525.0L185.4 525.3zM216.1 525.5L212.2 522.1L212.3 518.3L214.6 518.0L216.3 522.3zM182.7 491.5L183.4 488.2L184.8 488.1L186.5 488.1L185.8 488.6L183.5 491.7zM168.0 513.5L164.5 512.2L162.8 510.2L164.2 506.7L168.8 509.7zM203.6 534.7L201.3 535.1L196.1 532.1L194.5 530.0L196.6 528.9L198.8 529.6L202.1 532.2zM181.8 490.3L180.5 492.0L176.4 491.7L175.3 489.6L177.0 488.9L179.4 489.4zM188.1 520.7L186.8 521.7L185.3 517.5L185.1 515.9L186.0 514.3L187.8 516.1L188.8 520.4z" fill="#4545aa"/><path d="M211.7 497.7L209.9 495.2L210.9 491.0L213.1 488.1L213.2 496.8zM176.3 502.8L174.7 500.9L174.6 498.3L175.5 497.5L176.8 498.3L176.9 502.5zM208.5 523.8L207.5 524.0L203.9 520.7L202.2 518.5L203.1 517.9L205.1 519.0L209.5 522.7zM173.7 504.4L172.3 504.5L171.8 502.4L172.3 501.8L174.2 502.5L174.5 503.3zM205.1 520.1L204.4 519.5L203.3 518.1L203.8 514.8L204.6 513.8L206.0 515.8L206.6 519.1zM173.5 522.6L173.2 520.5L174.9 519.4L177.9 520.0L177.1 522.1L175.2 522.4zM172.3 532.5L170.6 530.0L171.1 527.4L172.0 526.3L173.3 528.3L173.0 532.2zM192.8 539.1L190.7 538.0L192.3 534.0L194.1 533.7L195.2 534.8L196.3 535.9L195.6 538.1zM205.9 539.6L204.2 539.6L202.8 539.6L202.2 537.9L202.6 537.2L204.4 538.4L205.7 539.6zM161.5 513.3L161.5 509.5L161.5 509.2L163.7 508.5L164.8 510.8L161.6 512.8zM180.9 489.3L176.3 489.5L171.2 488.6L172.4 488.1L176.5 488.1zM166.9 519.4L165.6 518.1L167.1 514.8L170.0 514.5L170.2 517.6L168.5 518.7z" fill="#5656b4"/></g>
<filter id="gr12" x="221.6" y="488.1" width="58.900000000000006" height="51.5" filterUnits="userSpaceOnUse" color-interpolation-filters="sRGB"><feTurbulence type="fractalNoise" baseFrequency="0.9" numOctaves="1" seed="62"/><feColorMatrix type="matrix" values="0 0 0 0 0.5  0 0 0 0 0.5  0 0 0 0 0.62  1.8 0 0 0 -0.85"/></filter>
<filter id="mt12" x="221.6" y="488.1" width="58.900000000000006" height="51.5" filterUnits="userSpaceOnUse" color-interpolation-filters="sRGB"><feTurbulence type="fractalNoise" baseFrequency="0.35" numOctaves="2" seed="102"/><feColorMatrix type="matrix" values="0 0 0 0 0.42  0 0 0 0 0.42  0 0 0 0 0.74  3.0 0 0 0 -1.25"/></filter>
<rect x="221.6" y="488.1" width="58.900000000000006" height="51.5" fill="#c0c0de"/>
<rect x="221.6" y="488.1" width="58.900000000000006" height="51.5" fill="#000" filter="url(#mt12)" opacity="0.55"/>
<rect x="221.6" y="488.1" width="58.900000000000006" height="51.5" fill="#000" filter="url(#gr12)"/>
<g filter="url(#bl)"><path d="M232.9 538.8L232.8 535.4L237.8 530.8L240.0 531.5L236.0 537.4zM234.9 519.0L232.5 516.2L233.4 514.6L234.6 512.7L236.2 516.2zM233.4 525.2L232.5 523.4L231.4 522.1L232.3 520.6L234.4 521.1L234.9 523.6zM255.5 499.5L256.1 495.7L258.8 495.1L259.6 497.8L258.2 498.6zM236.0 537.8L239.3 533.7L243.5 530.7L245.0 531.3L243.2 533.6L238.3 537.3zM232.0 528.8L229.2 525.1L227.7 522.3L228.4 517.9L231.5 520.7L232.0 524.0zM259.2 515.3L258.2 512.2L258.5 507.5L261.0 507.5L261.3 509.2L261.8 514.2zM248.0 523.7L245.0 523.3L242.3 519.3L241.3 515.8L245.4 517.2L248.5 521.7zM272.9 514.1L270.6 511.6L268.4 506.0L270.3 506.4L272.8 511.8zM277.9 518.1L278.4 516.1L280.5 514.5L280.5 516.7L280.5 518.7L278.9 519.1zM247.2 498.5L245.3 498.9L243.6 493.5L243.9 492.5L246.7 494.2L247.4 495.9zM231.0 491.2L229.1 490.6L227.9 489.6L228.2 488.1L231.2 489.2zM261.4 510.1L260.5 510.7L254.1 507.2L253.8 505.6L256.3 505.4L263.4 509.7zM239.9 492.4L235.3 492.1L230.8 488.8L233.8 488.8L238.7 490.3zM232.0 508.2L231.8 506.0L233.3 502.1L234.9 501.0L237.4 500.2L236.2 505.3L233.4 508.2zM242.3 535.9L244.2 533.1L249.1 533.0L250.3 534.3L250.6 535.3L245.5 535.9zM263.2 498.1L259.9 494.7L260.0 491.8L261.2 489.9L263.3 494.8zM237.0 508.1L235.8 507.1L233.2 504.0L234.1 503.7L235.8 504.9L237.3 506.5zM226.2 514.6L222.7 509.8L221.6 503.9L222.3 502.8L224.8 507.7zM237.2 510.0L239.0 508.1L241.8 507.7L243.1 509.4L241.1 511.4L239.3 510.9zM256.9 531.1L255.2 529.7L255.7 528.4L256.1 526.9L257.8 527.7L258.4 529.3zM228.2 537.6L232.5 535.0L238.0 533.9L237.4 536.0L231.9 537.3zM240.5 531.6L238.2 534.2L231.9 533.1L229.1 532.7L228.3 531.3L234.2 529.6L238.2 531.4zM263.4 493.3L264.6 492.1L269.6 490.8L271.3 491.4L270.7 493.2L269.3 493.4L264.0 493.9zM234.1 500.0L229.5 498.1L228.9 496.0L230.8 494.7L233.1 496.5zM252.9 524.7L252.6 522.1L254.6 518.8L255.9 521.3L255.8 522.6zM271.9 502.1L271.3 500.3L273.0 495.3L276.9 492.4L277.6 495.1L274.5 502.3zM243.7 518.4L245.4 515.1L250.5 512.9L253.7 511.8L252.2 515.9L248.5 518.5zM278.2 526.4L276.2 527.1L272.3 527.8L271.3 526.2L271.2 523.9L275.9 524.5zM228.4 520.7L231.8 519.0L235.1 518.7L238.2 518.8L239.1 520.1L234.2 520.8L231.9 521.1zM262.2 538.0L261.4 539.0L254.8 533.8L255.2 532.8L258.8 532.3L261.0 535.0zM244.5 503.8L242.1 504.5L237.9 503.5L236.8 500.5L239.9 500.7L244.1 502.3zM277.8 526.6L277.9 523.9L280.5 517.3L280.5 519.6L280.5 523.2zM245.0 521.9L247.2 518.8L256.2 516.1L256.4 518.3L250.0 521.1zM262.6 528.4L260.6 528.0L260.0 524.9L262.8 524.5L264.0 526.7zM230.5 501.3L228.9 498.5L230.2 493.6L232.1 493.3L231.8 500.6zM243.1 502.0L242.6 500.7L245.8 498.6L247.9 499.9L247.0 501.3L246.5 502.9L242.9 502.9zM276.2 531.3L274.1 531.6L271.5 528.3L272.2 526.6L275.7 528.0zM247.0 516.1L243.9 516.4L241.5 515.2L241.5 513.6L242.8 513.2L245.0 514.5zM261.4 496.6L259.5 494.7L259.4 492.7L260.2 490.8L263.3 495.7zM256.3 526.8L251.3 527.0L246.3 526.6L246.5 525.3L248.0 523.8L251.2 524.9zM258.3 536.8L260.1 535.2L263.3 533.7L265.1 534.7L264.2 537.2L259.7 538.0zM260.3 497.9L258.9 499.0L255.1 490.1L258.7 491.7L260.5 494.1zM237.8 520.1L240.5 518.5L242.8 517.2L243.1 518.9L242.8 520.6L240.5 521.2zM266.2 496.7L264.8 495.3L262.2 490.6L262.6 489.5L266.5 494.6zM236.2 515.6L236.4 514.4L244.8 512.4L245.8 512.7L246.6 513.3L243.1 515.4L239.8 515.6zM244.3 537.5L242.6 539.3L237.5 539.1L232.5 536.3L237.6 535.4L243.3 535.9zM256.8 536.6L256.2 535.0L257.5 531.7L259.7 528.7L259.7 532.9L257.8 536.0zM257.9 491.9L256.1 492.2L250.4 490.6L247.2 488.5L251.4 488.9L257.0 490.7zM277.7 533.7L275.5 533.1L278.2 527.1L279.3 526.0L280.5 528.4L279.8 530.6zM275.9 507.6L275.9 505.9L278.8 501.2L280.3 503.1L277.3 509.0zM280.5 513.1L280.1 507.6L279.1 505.4L278.1 501.1L280.5 503.8L280.5 506.7zM278.1 510.3L276.8 508.2L275.0 499.4L277.8 502.9L279.4 507.3zM265.0 516.8L266.0 514.8L271.6 512.0L275.8 511.3L273.5 512.8L270.6 514.8L267.1 516.7zM222.5 502.1L221.7 502.9L221.6 499.2L221.6 497.2L223.1 499.3L223.6 502.0zM262.5 536.5L260.8 536.0L259.7 535.4L258.5 533.2L257.9 531.3L261.3 533.0L262.4 535.1zM257.7 539.6L253.5 539.6L250.1 535.4L250.9 533.6L254.9 536.8L256.2 539.1zM242.8 504.8L241.2 503.8L241.9 499.6L243.8 498.9L245.5 499.6L245.4 500.4L245.2 504.0zM246.6 524.6L242.9 525.4L240.4 523.9L238.3 522.4L240.9 520.3L246.0 523.7zM229.6 529.2L228.4 530.0L225.9 530.3L224.0 529.1L222.0 528.1L225.5 527.7L228.5 528.1zM265.8 521.3L262.7 520.9L260.7 518.9L260.4 517.9L261.6 517.9L264.8 519.3zM235.8 523.4L235.3 520.5L236.6 516.5L238.6 517.3L239.0 518.5L237.9 522.8zM239.4 511.7L238.8 508.6L238.7 505.2L241.1 504.6L242.3 509.9zM272.4 539.6L273.5 537.4L278.0 532.9L279.0 533.7L279.9 533.8L275.5 538.6zM273.2 523.8L275.1 521.6L276.3 520.6L279.8 519.0L279.4 520.7L274.6 523.6zM249.9 500.0L248.5 499.0L247.6 497.3L247.3 495.7L248.7 494.8L251.4 499.2zM226.8 533.1L227.1 530.7L229.4 527.4L230.3 528.5L229.4 530.6zM259.3 492.3L256.3 493.6L252.8 490.5L254.7 489.0L259.1 490.8zM253.8 512.1L250.4 511.9L250.2 509.1L251.3 507.2L254.0 510.0zM277.7 509.4L275.6 508.4L277.3 503.8L280.1 500.4L280.1 503.3L279.1 508.6zM253.6 527.1L252.1 529.0L246.1 525.3L244.7 522.4L248.0 522.5L252.2 524.5zM274.1 505.8L275.0 504.2L276.1 503.6L279.7 503.8L280.5 505.0L278.5 505.5L276.4 506.3zM253.3 533.2L251.7 532.5L248.6 529.0L249.7 527.9L252.9 532.0zM254.1 514.8L254.9 513.7L257.4 513.1L259.1 513.2L259.1 514.8L255.1 515.6zM230.5 539.6L229.2 539.5L229.3 532.7L230.8 532.1L232.1 532.0L232.0 538.4zM227.3 508.1L227.1 505.5L227.0 503.4L230.1 500.8L231.4 505.3L228.8 508.4zM265.0 533.7L263.6 531.1L263.9 524.7L265.5 524.6L266.1 530.2zM262.4 511.4L261.7 510.2L262.2 507.2L263.2 505.7L263.4 505.9L264.3 508.7L263.2 509.9zM228.1 515.1L227.0 515.9L223.2 514.9L222.9 513.3L225.4 512.6L228.0 513.6zM258.9 505.6L256.0 505.6L256.6 503.5L257.3 501.2L260.2 502.1L259.7 504.8zM256.0 508.3L253.0 506.5L252.4 504.5L254.3 503.0L256.9 505.1zM223.5 520.7L224.9 517.3L227.5 516.1L228.5 516.7L227.5 518.4L225.4 520.2zM237.9 504.2L234.8 505.5L231.5 505.7L227.6 504.0L231.7 503.3L237.3 503.5zM241.2 510.5L240.0 507.1L241.4 504.7L245.8 500.4L245.6 503.3L243.4 511.4zM225.0 525.1L228.8 523.4L232.1 523.6L232.4 525.2L228.4 526.1zM242.5 506.5L240.4 505.1L239.7 500.9L241.2 499.0L242.3 500.6L242.7 504.6zM278.5 519.8L275.6 517.6L273.6 514.0L276.7 513.0L277.9 516.2zM237.4 509.6L240.3 506.2L243.6 503.9L244.8 505.6L242.3 507.8zM277.4 493.0L277.0 489.7L277.3 488.1L280.1 488.1L280.2 488.1L280.3 490.3zM263.8 536.1L259.2 534.1L256.1 532.4L253.9 529.6L254.5 529.5L259.7 532.0L262.3 534.7zM229.1 524.6L224.8 526.6L222.7 525.6L222.3 524.0L227.6 523.0zM235.2 533.6L233.9 532.8L234.1 529.3L235.9 527.0L236.9 529.7L237.0 532.3zM244.5 539.6L242.8 538.4L242.3 534.6L245.1 532.5L246.9 537.9zM277.8 519.0L274.4 517.7L268.8 513.1L271.5 513.4L275.6 516.1zM261.8 537.0L262.3 535.3L264.3 534.5L265.2 536.1L264.1 537.7zM261.1 531.8L260.9 534.5L252.7 531.7L250.1 529.8L257.4 529.7zM237.6 538.6L238.5 536.3L242.2 535.7L243.5 537.5L243.4 538.8L239.8 539.6zM280.5 506.5L279.6 507.7L276.1 508.4L274.1 506.9L274.1 505.9L277.4 505.9L279.4 506.0zM235.2 508.6L238.1 505.6L241.0 504.7L243.7 505.7L241.0 508.2L238.3 509.6zM228.2 531.4L226.2 531.6L226.2 523.3L227.1 522.7L228.6 523.1L229.0 524.7L229.4 532.3zM227.7 492.9L224.8 493.3L221.6 491.6L221.6 490.7L221.7 489.0L227.6 491.1zM250.3 528.1L246.9 526.5L244.3 524.7L242.8 521.7L245.8 521.6L248.6 524.9zM268.1 519.3L264.0 518.6L263.0 517.0L263.7 514.3L267.1 515.2zM253.6 493.2L251.9 492.4L253.4 488.7L257.2 488.1L257.1 490.3L255.7 492.9zM247.2 510.6L244.3 510.8L241.9 507.5L241.2 505.3L243.9 504.9L247.5 509.4zM240.0 501.2L239.6 499.5L240.5 493.3L240.9 493.1L241.8 494.7L240.7 502.5zM254.1 539.3L256.5 537.1L259.9 536.9L258.9 538.8L257.2 539.6zM259.5 502.4L257.8 499.8L257.4 495.9L257.7 493.3L259.2 496.3L259.5 498.3zM280.2 498.4L278.2 498.1L275.7 492.0L278.6 491.1L280.4 495.7zM270.5 538.6L269.2 538.5L267.9 534.3L268.2 533.2L269.3 533.6L270.6 536.9zM225.3 517.8L222.8 516.2L221.6 514.4L221.6 512.5L223.1 513.8L224.1 514.8zM275.0 505.4L274.1 505.8L272.7 503.9L272.5 501.5L273.5 499.6L274.8 502.0L275.8 505.1zM243.1 497.7L241.5 499.0L237.7 498.3L235.6 495.9L237.1 495.9L240.7 495.5zM221.8 506.4L222.8 503.9L224.7 502.6L226.2 502.7L225.5 506.1L223.6 506.3zM252.5 498.2L251.4 496.0L250.8 490.8L252.5 489.6L253.0 492.2L254.3 495.7z" fill="#4545aa"/><path d="M272.1 520.1L270.1 520.5L269.4 520.1L268.1 518.4L268.2 517.8L270.5 517.4L271.4 518.6zM256.8 511.3L256.5 508.9L259.4 505.6L263.5 501.8L262.7 504.9L262.1 507.2L258.9 509.5zM249.9 502.9L247.7 500.1L247.1 494.2L248.8 491.9L249.6 494.0L249.7 499.5zM223.3 525.7L221.6 524.2L221.6 520.4L223.4 515.9L224.1 520.3L224.5 525.5zM252.4 520.9L252.5 518.3L254.8 515.8L256.8 515.3L253.8 520.4zM227.5 504.4L229.1 502.9L232.9 500.3L237.0 500.1L233.9 502.9L230.2 504.3zM249.8 512.3L248.7 512.0L245.1 509.5L243.9 507.2L245.6 506.7L246.5 506.7L250.0 511.1zM263.3 529.7L263.1 530.1L257.4 526.4L258.9 525.9L260.5 526.3L264.4 528.8zM265.2 499.9L262.2 499.5L261.0 496.6L262.3 495.3L264.6 496.9zM260.5 539.6L259.4 539.1L263.7 537.0L267.7 535.7L266.5 537.9L265.6 539.6L261.0 539.6zM230.2 501.1L230.9 497.4L233.8 492.2L236.6 491.8L237.4 493.5L233.6 498.8zM239.8 513.7L237.4 510.5L237.3 507.0L238.6 504.6L239.9 503.6L240.0 510.7zM267.7 510.9L270.1 509.5L277.6 507.2L277.7 510.2L271.8 512.0zM246.7 504.8L245.4 503.9L245.0 499.2L246.8 496.6L247.5 497.8L248.4 503.0zM251.9 508.7L254.2 505.7L259.1 503.9L260.0 507.9L256.1 509.5zM243.8 509.6L243.1 505.9L244.1 502.0L246.3 502.9L245.1 507.8zM258.4 500.4L258.4 497.6L259.9 495.8L262.6 494.4L263.3 497.6L260.2 500.2zM223.9 495.2L224.8 494.0L230.3 492.5L230.3 495.0L229.8 496.2L224.6 497.1zM249.4 511.5L247.4 512.7L244.8 510.4L245.1 508.6L249.4 509.1zM235.5 539.6L233.1 539.6L232.2 539.6L232.1 537.0L231.8 534.7L234.6 535.4L237.2 537.7zM275.4 505.5L272.1 505.0L271.1 503.6L271.0 502.0L270.7 499.7L274.7 501.4L276.0 504.3zM268.7 513.7L272.3 512.3L275.1 512.3L276.7 513.4L276.4 514.2L270.3 514.2zM263.0 523.0L259.0 521.3L256.4 519.0L256.9 515.4L260.5 518.1L262.6 521.5zM273.9 535.9L274.0 534.9L276.4 532.4L277.2 532.5L277.4 534.1L274.3 536.6zM270.5 521.5L272.5 517.4L276.7 516.1L278.6 517.3L276.9 519.7L273.5 520.8zM261.7 495.4L262.4 492.2L264.6 488.1L266.2 488.1L266.4 489.2L265.0 492.1zM234.3 508.0L231.8 506.3L230.3 503.5L230.5 501.4L231.7 500.5L233.4 502.9L234.9 505.0zM250.2 495.7L248.8 494.0L248.4 491.8L249.1 488.1L249.5 488.1L251.0 490.9L250.9 494.3zM237.8 505.4L233.1 502.2L231.4 498.6L233.1 496.4L238.5 503.7zM271.0 502.9L272.1 500.6L275.3 499.5L277.1 500.1L276.7 501.6L272.5 503.3zM251.5 502.5L249.9 502.9L243.3 502.7L243.1 501.4L243.4 500.7L251.4 501.2zM277.4 516.3L276.3 517.4L272.5 517.9L271.9 515.9L272.4 513.5L275.0 513.5zM256.2 539.0L256.2 538.2L261.5 535.2L263.2 535.1L262.0 537.9L260.1 539.6L258.4 539.6zM267.6 491.9L268.6 489.4L270.9 489.4L271.1 490.3L269.6 492.1zM270.8 501.0L268.7 501.3L265.2 494.3L268.6 494.5L271.3 497.9zM252.8 494.0L255.3 491.7L261.7 491.5L265.3 492.1L261.1 493.9L256.6 494.1zM232.5 520.6L226.6 521.6L221.6 521.3L221.6 518.9L221.6 518.5L227.9 518.6zM259.1 521.5L260.2 518.6L267.6 516.8L267.2 519.5L266.3 521.0L262.6 522.5zM277.2 528.1L275.9 529.2L272.8 523.6L272.5 519.5L274.1 519.9L276.5 520.4L278.5 524.9zM269.2 539.6L263.4 539.6L258.6 537.6L260.2 536.0L267.1 539.6zM242.9 534.9L243.7 533.0L246.8 531.3L248.0 532.9L247.7 535.6L244.3 535.4zM266.2 509.8L269.9 507.7L276.6 505.7L276.8 507.6L273.1 510.2zM240.1 512.5L239.9 510.1L238.9 508.1L241.8 505.1L242.1 506.8L242.6 511.1zM255.2 512.7L258.4 509.4L259.3 508.2L264.0 507.0L265.5 508.0L262.1 511.2L258.3 512.1zM227.0 500.0L228.3 498.8L236.1 497.9L238.4 499.1L232.9 500.3L229.0 500.4z" fill="#5656b4"/></g>
<filter id="gr13" x="40" y="546" width="58.5" height="52.700000000000045" filterUnits="userSpaceOnUse" color-interpolation-filters="sRGB"><feTurbulence type="fractalNoise" baseFrequency="0.9" numOctaves="1" seed="63"/><feColorMatrix type="matrix" values="0 0 0 0 0.5  0 0 0 0 0.5  0 0 0 0 0.62  1.8 0 0 0 -0.85"/></filter>
<filter id="mt13" x="40" y="546" width="58.5" height="52.700000000000045" filterUnits="userSpaceOnUse" color-interpolation-filters="sRGB"><feTurbulence type="fractalNoise" baseFrequency="0.35" numOctaves="2" seed="103"/><feColorMatrix type="matrix" values="0 0 0 0 0.42  0 0 0 0 0.42  0 0 0 0 0.74  3.0 0 0 0 -1.25"/></filter>
<rect x="40" y="546" width="58.5" height="52.700000000000045" fill="#c0c0de"/>
<rect x="40" y="546" width="58.5" height="52.700000000000045" fill="#000" filter="url(#mt13)" opacity="0.55"/>
<rect x="40" y="546" width="58.5" height="52.700000000000045" fill="#000" filter="url(#gr13)"/>
<g filter="url(#bl)"><path d="M75.9 583.3L74.5 583.2L73.0 581.4L73.5 580.8L74.8 580.0L75.9 581.5zM44.4 592.7L44.4 591.2L45.3 589.9L46.3 589.7L45.8 591.3zM56.3 573.4L55.6 573.1L57.7 569.7L59.2 569.1L59.1 570.7L58.3 573.0zM62.9 584.3L62.3 585.3L58.8 584.7L59.4 583.3L60.7 582.7zM90.7 548.1L93.4 546.9L96.4 547.5L95.9 549.0L93.4 549.9zM77.5 568.9L76.2 565.6L75.5 563.2L75.9 560.1L76.6 561.1L78.1 565.5zM97.2 579.0L95.7 577.9L94.5 575.3L94.7 572.2L95.7 573.3L97.6 576.6zM57.4 594.1L56.2 594.3L51.6 590.9L52.8 590.6L57.9 592.9zM70.7 597.2L69.7 595.4L72.1 594.2L73.4 594.5L72.0 597.1zM51.9 591.6L51.3 590.1L51.0 588.6L52.4 587.4L52.7 588.7L52.3 591.4zM75.9 570.2L75.1 568.3L76.5 564.5L80.1 561.5L79.2 566.2L78.2 568.5zM42.5 596.2L41.8 595.1L40.9 590.3L42.0 588.1L43.7 593.3zM79.3 576.6L77.5 575.5L76.6 573.0L78.3 573.2L79.2 573.8zM44.0 579.4L42.1 579.7L41.1 580.1L40.0 579.2L40.0 577.9L40.0 577.4L43.2 578.6zM89.8 579.0L89.1 579.2L88.0 576.1L87.6 573.9L88.6 574.3L90.0 577.2zM62.3 566.5L64.0 565.6L67.7 564.2L69.7 564.6L67.2 566.1L64.8 566.3zM61.1 552.8L60.5 551.9L62.9 548.7L64.1 548.5L64.4 549.3L62.8 551.7zM45.6 587.6L44.0 586.9L40.0 582.7L40.0 581.8L41.9 582.9L45.1 586.1zM77.6 557.0L76.8 554.8L75.6 550.6L76.4 550.6L77.3 551.8L77.9 554.0zM88.2 575.4L87.3 575.1L83.9 571.7L84.4 571.2L85.1 571.1L88.1 574.0zM95.3 582.0L96.5 581.4L98.5 580.5L98.5 580.1L98.5 580.2L98.5 581.3L97.7 581.9zM90.5 562.2L88.9 561.2L89.7 556.4L91.2 556.1L91.2 559.6zM85.6 565.9L85.8 564.4L88.2 562.6L90.5 562.6L91.1 563.7L88.1 565.4zM63.8 567.7L63.4 566.8L64.3 560.7L65.7 558.4L65.9 560.2L65.3 563.9zM59.6 561.7L58.8 562.0L57.8 559.5L57.3 556.2L58.7 556.9L59.4 557.7L59.7 560.8zM46.8 553.0L44.2 551.3L41.7 549.4L41.8 548.0L43.6 547.9L45.8 549.4zM94.0 596.5L94.4 593.6L95.3 592.7L97.0 592.2L96.9 594.3L95.5 595.5zM71.6 588.6L72.5 586.2L74.8 585.4L75.0 586.1L73.6 588.7zM65.0 596.2L63.9 595.2L62.5 591.1L63.2 589.3L65.2 592.6L65.9 595.4zM88.8 551.9L85.6 551.5L84.2 550.2L82.0 548.2L85.4 548.6L87.4 549.4zM67.1 576.2L67.6 575.7L70.3 575.5L70.2 576.8L68.1 577.7zM66.1 592.8L65.5 592.3L67.5 587.3L68.4 585.2L68.3 589.1L67.3 592.3zM70.9 580.8L70.8 579.2L70.1 577.1L70.0 574.3L71.3 574.4L71.8 577.4L71.8 577.8zM67.9 573.2L66.8 572.5L65.1 568.2L65.1 567.1L64.7 564.5L67.5 568.7L67.8 570.1zM58.3 551.4L58.4 549.9L62.1 549.2L63.9 550.1L61.3 551.6L58.8 552.4zM42.5 574.8L40.0 574.7L40.0 573.8L40.0 572.2L40.0 572.1L41.1 573.5zM83.4 555.1L85.0 553.3L86.3 553.3L86.9 554.2L84.4 555.4zM56.9 593.0L55.5 592.9L54.1 591.3L52.9 590.1L53.1 589.3L53.9 589.4L56.7 592.5zM47.1 584.7L46.4 584.8L44.9 582.3L43.1 579.2L44.2 579.3L46.1 581.0L47.4 583.1zM48.5 590.0L47.8 587.6L48.5 586.3L50.2 583.1L50.7 584.1L50.6 586.2L50.5 588.8zM64.0 594.2L62.9 594.8L60.6 594.4L60.9 594.0L60.8 593.3L61.8 592.8L62.9 592.8zM64.2 575.1L62.6 575.0L60.7 569.0L62.3 568.8L64.7 572.0zM85.5 554.7L84.8 555.1L86.7 551.2L88.0 550.8L88.2 551.3L86.3 555.3zM50.6 598.7L49.9 598.7L48.9 598.7L47.2 598.2L48.4 596.6L49.7 597.3L50.7 597.0zM98.0 598.1L96.3 595.8L95.8 595.3L94.9 591.0L95.7 591.2L97.2 593.9L98.1 596.5zM71.2 562.1L69.6 561.9L67.8 560.4L66.5 558.3L68.7 559.0L71.3 561.5zM65.0 563.2L64.8 563.6L60.7 561.7L59.8 560.0L61.7 560.2L64.3 561.5zM45.5 575.0L44.6 573.6L45.2 570.9L46.7 570.8L47.1 571.3L46.2 574.6zM46.5 593.4L45.8 592.4L46.4 590.3L46.7 589.6L47.5 590.3L47.8 592.2zM43.3 567.0L42.3 565.5L42.3 564.4L43.3 563.4L44.8 563.0L45.2 564.4L44.5 566.4zM62.3 573.1L61.2 572.3L61.2 570.4L62.7 570.4L63.5 570.3L63.7 572.2zM93.5 582.8L93.6 579.5L93.6 577.9L95.4 576.2L95.8 578.3L95.3 580.1zM72.0 590.6L70.1 589.8L66.5 588.0L66.7 586.1L68.2 586.7L71.4 588.9zM79.5 567.0L77.1 568.3L75.9 567.9L73.8 566.0L76.0 565.7L78.5 566.2zM53.6 594.5L52.6 592.9L52.4 591.7L54.1 590.4L55.6 590.9L55.3 594.2zM90.4 581.4L88.4 579.3L87.4 577.6L86.9 575.7L88.4 574.3L89.9 577.4L90.7 579.2zM92.3 549.8L91.5 550.1L91.8 547.7L92.6 546.0L93.0 546.5L93.0 548.1L93.0 549.4zM81.3 583.2L80.4 581.7L78.6 578.4L77.8 575.6L78.6 574.7L80.0 576.9L80.9 579.3zM54.9 591.7L54.8 589.2L55.0 586.6L55.9 587.2L55.8 591.1zM83.3 556.0L84.9 554.1L88.8 551.6L88.8 553.6L86.7 555.6zM95.6 548.6L96.1 547.5L98.5 546.0L98.5 546.0L98.5 546.0L96.1 549.2zM50.8 551.4L50.4 550.2L53.3 548.1L54.0 549.2L54.2 550.4L52.2 552.0zM51.0 577.6L51.5 576.7L53.6 573.3L55.1 574.3L54.4 575.7L52.4 578.5zM58.8 550.1L59.0 547.5L60.8 546.0L63.1 546.0L62.0 547.7L60.8 548.8zM75.1 564.0L73.7 562.7L73.2 561.4L72.3 558.5L73.8 560.2L74.7 561.8zM89.2 565.5L88.3 567.0L86.5 566.5L83.7 565.2L84.8 564.0L85.5 564.0L88.7 564.3zM79.0 580.8L77.8 581.2L76.1 581.5L75.2 580.3L75.1 579.5L77.6 579.4zM89.6 592.0L89.4 593.4L86.9 593.0L84.9 590.7L85.0 589.6L85.6 589.0L89.1 591.0zM65.2 559.1L65.1 558.5L71.5 555.7L74.6 556.0L71.2 558.2L69.0 559.4zM54.8 559.1L53.5 559.6L50.4 558.5L49.7 557.3L52.2 557.1L54.7 558.2zM92.5 580.8L91.5 579.5L93.2 576.1L94.6 574.1L94.9 575.1L93.8 579.0zM78.3 564.5L76.7 562.5L75.6 559.1L76.8 558.0L78.8 562.5zM75.6 558.6L74.9 557.8L75.1 556.2L76.2 554.8L77.0 557.5zM52.9 596.9L52.0 596.5L51.3 594.7L53.0 592.4L54.1 593.8L54.4 596.1zM80.7 565.8L76.3 565.6L73.0 564.5L72.7 563.7L77.3 563.9zM92.8 595.5L94.1 594.2L95.1 593.2L96.3 593.6L96.5 594.3L94.8 595.5zM82.8 547.2L81.3 547.4L79.6 546.4L79.6 546.0L80.9 546.0L82.5 546.0zM71.1 569.1L70.9 568.4L73.1 566.6L74.5 566.5L74.8 568.0L73.0 569.5zM66.9 598.7L65.1 598.7L65.0 597.4L65.5 594.5L66.1 596.1L67.1 598.7zM53.6 572.4L54.9 571.5L56.5 572.1L56.5 572.7L54.6 573.6zM90.6 578.6L89.8 579.8L85.9 579.2L84.3 578.7L85.4 577.6L85.4 576.8L90.9 577.7zM72.2 591.3L71.4 592.2L70.0 589.0L70.6 587.5L72.4 589.2zM55.1 554.2L54.2 553.5L54.9 550.8L55.8 550.5L56.4 550.4L56.6 552.1L55.8 553.0zM83.4 584.6L86.9 582.4L91.0 581.9L93.1 582.6L89.7 584.1L85.0 584.8zM54.1 554.8L53.3 550.9L53.3 549.0L55.9 546.0L56.5 548.0L55.6 552.0zM46.9 566.1L45.0 565.2L45.1 563.5L46.2 562.9L47.4 563.7L48.0 565.4zM64.5 592.2L63.7 593.5L60.9 592.7L58.7 591.8L59.0 591.2L61.3 590.8L63.1 591.8zM88.2 569.6L86.6 570.5L85.3 570.0L84.8 569.3L85.9 568.6L87.6 568.8zM90.5 570.3L90.6 567.9L90.7 567.2L93.5 565.3L94.1 566.0L93.5 568.1L92.7 570.1zM81.8 582.1L79.7 581.7L79.4 580.4L80.5 579.7L81.9 581.1zM46.3 550.7L45.2 549.6L47.3 546.6L49.1 547.1L47.4 551.0zM45.8 595.5L45.1 594.8L44.4 591.5L45.3 591.3L46.0 593.5zM87.8 549.3L89.4 548.1L95.5 546.0L95.6 546.7L94.3 547.8L91.1 549.3zM48.1 564.2L45.0 562.7L43.3 560.1L41.9 558.3L43.7 558.9L47.9 562.8zM86.6 575.3L86.6 572.8L87.8 569.3L89.4 565.7L89.3 567.9L89.9 569.1L87.8 573.7zM55.9 554.7L53.6 553.5L52.0 551.8L51.3 547.8L53.5 549.7L55.6 552.0zM76.1 572.8L75.2 571.3L77.6 567.8L78.9 567.6L79.2 568.7L76.7 573.1zM85.8 579.7L84.6 579.2L84.0 577.3L85.0 575.8L85.7 576.1L85.9 577.8zM80.5 587.6L80.1 584.8L80.0 580.0L80.5 578.6L81.3 582.5L81.2 585.1zM88.4 583.6L88.3 582.2L89.1 578.8L89.7 578.4L89.8 579.7L89.7 581.6zM71.7 591.8L74.2 589.5L75.6 588.4L77.1 589.0L78.5 589.6L75.4 592.0L73.6 591.4zM45.4 564.6L45.2 563.9L46.7 560.9L47.4 559.7L47.9 560.1L47.6 561.2L46.2 564.5zM60.1 583.6L58.9 582.1L59.9 580.6L61.1 579.2L62.4 579.6L62.3 581.3L61.1 583.1zM94.5 551.7L94.8 551.0L96.9 550.1L98.2 550.3L98.5 550.7L97.6 551.9L95.3 552.1zM79.1 588.5L80.0 586.8L82.9 585.5L83.6 587.3L82.0 588.9zM73.4 583.3L72.7 581.8L72.9 579.0L73.1 578.8L74.7 579.6L74.5 582.4zM91.9 597.2L89.6 595.0L88.4 593.9L87.9 591.5L88.8 590.4L90.3 592.9L90.8 594.2zM50.0 570.3L49.5 571.0L47.3 570.3L46.6 569.8L47.7 569.3L49.1 569.5zM51.3 596.4L50.0 595.5L49.5 594.5L48.3 590.3L49.0 589.4L51.1 593.5L51.5 594.5zM40.0 569.4L42.7 567.3L46.0 566.5L47.4 566.1L47.3 567.9L42.1 570.3zM78.1 558.4L76.7 557.1L76.1 556.1L76.3 554.0L76.7 554.2L78.0 554.8L78.9 556.8zM43.9 598.1L43.4 598.2L43.5 595.6L44.0 595.5L44.8 595.0L45.1 596.8L44.3 598.1zM57.6 578.4L57.2 579.2L53.1 576.4L53.7 575.5L57.7 577.2zM63.4 593.4L61.7 594.0L58.3 593.1L57.8 592.1L58.0 591.2L61.0 592.0zM70.4 559.5L68.9 558.2L68.7 556.4L69.0 554.5L70.1 556.3L70.4 558.1zM83.1 598.7L83.1 597.1L83.5 595.9L85.2 594.5L85.8 595.9L84.5 598.7zM62.4 576.9L61.3 576.6L60.2 574.0L59.4 572.1L60.9 572.6L62.1 575.0zM53.2 573.3L53.1 572.0L54.5 569.3L55.4 568.1L56.4 568.7L56.1 570.1L54.5 572.9zM75.5 571.6L76.9 570.8L79.9 569.3L81.5 569.7L81.0 570.4L77.9 571.8zM57.9 566.4L57.2 566.2L56.0 565.8L55.5 564.4L56.0 563.0L57.1 563.6L58.1 565.6zM55.3 583.8L55.7 583.0L57.6 582.6L58.0 582.9L56.4 584.1zM71.6 564.3L72.6 562.3L74.0 561.0L75.7 559.0L75.3 561.1L73.6 562.9zM68.6 587.0L65.7 585.7L63.4 583.9L62.3 581.1L65.1 581.6L67.3 583.5zM66.9 551.7L65.0 549.0L65.3 546.0L66.2 546.2L66.9 548.7zM47.8 549.4L45.7 547.3L45.5 546.0L45.7 546.0L47.8 547.3zM71.9 553.2L71.5 550.6L72.7 549.2L74.1 549.0L73.8 551.7zM78.6 556.6L80.2 555.0L82.4 554.0L83.3 554.6L81.8 555.8L80.0 556.2zM89.6 558.2L89.4 556.9L89.0 554.1L90.2 552.8L91.4 553.1L91.1 556.1zM66.7 561.1L66.7 561.8L62.3 559.5L60.8 556.6L62.3 557.0L65.9 559.2zM70.8 591.1L73.4 587.7L75.2 586.1L77.8 584.5L75.7 587.3L73.8 589.0zM60.6 589.5L58.4 586.2L57.7 584.4L58.5 582.9L61.5 587.8zM81.8 579.4L80.4 577.5L79.9 575.8L80.0 574.6L81.4 574.6L82.6 577.5zM54.5 561.2L52.3 559.8L51.3 558.4L51.9 557.6L53.6 559.0zM61.6 584.0L60.9 584.6L56.8 583.2L55.9 581.2L57.3 580.7L59.8 581.8zM69.7 598.7L67.0 598.7L65.9 598.2L66.1 596.0L68.4 597.2zM62.7 569.9L62.0 569.9L66.2 566.5L66.9 566.5L66.2 567.9L63.9 569.6zM79.4 571.8L76.7 571.1L76.0 569.1L76.0 568.0L77.2 567.9L78.8 569.7zM65.4 596.1L67.5 594.7L73.4 594.7L74.1 595.6L71.9 597.0L68.2 597.0zM44.4 553.7L42.5 552.5L41.2 550.8L40.3 548.9L42.2 550.6L44.0 552.7zM51.6 562.1L50.1 561.9L48.0 560.7L48.6 559.9L49.3 559.7L50.8 560.8zM63.6 598.5L63.9 596.2L66.0 594.2L67.2 593.6L68.4 595.2L65.2 598.0zM68.6 582.6L68.9 580.8L70.5 580.2L71.2 580.1L71.7 580.8L71.7 582.0L70.2 582.9zM83.1 594.4L83.9 593.2L86.4 592.2L88.1 592.0L87.5 593.5L85.6 594.5zM67.6 580.6L68.1 577.6L69.7 575.0L70.8 575.2L69.6 578.1zM85.3 592.6L83.5 592.6L81.6 592.7L80.5 591.7L81.6 590.4L83.5 590.8zM49.4 549.4L49.3 550.0L47.7 546.0L47.4 546.0L47.6 546.0L49.4 546.2L49.7 548.9zM98.2 589.3L96.8 589.8L94.4 586.8L94.3 583.5L96.7 585.3L98.3 587.2zM74.7 550.0L73.7 549.3L73.4 548.1L73.8 547.7L74.4 548.0L75.4 549.8zM76.7 552.0L75.5 552.0L73.7 550.1L73.6 548.1L75.8 549.0L76.2 550.0zM98.5 560.3L97.7 560.1L94.7 556.3L95.9 556.0L96.6 555.1L98.3 557.4zM97.7 596.0L95.0 595.0L93.0 593.2L93.6 591.9L96.8 594.1zM78.3 596.9L79.1 594.7L80.2 594.3L82.1 594.9L81.3 596.8L80.0 596.9zM48.1 573.8L49.1 573.2L51.8 573.2L53.2 573.9L51.0 574.2L48.2 574.4zM47.0 597.8L47.8 596.0L48.2 595.2L49.7 595.1L50.6 594.8L49.6 595.9L47.8 597.5zM80.2 568.2L79.4 567.4L79.6 565.4L80.3 563.6L80.7 565.1L80.7 567.9zM48.9 583.8L46.7 584.7L43.1 584.2L41.4 583.9L44.4 581.9L46.7 582.2zM44.9 585.2L43.6 584.2L44.5 582.0L46.1 581.0L46.0 583.8zM95.8 569.0L95.0 566.4L96.0 564.6L97.1 564.1L97.8 565.6L97.6 567.6zM77.4 597.6L76.8 596.5L76.7 595.2L77.3 593.9L77.9 594.9L78.4 596.6zM69.8 590.9L67.3 590.8L65.8 589.5L65.4 588.6L67.8 589.3zM72.6 551.7L71.2 550.1L71.1 547.5L71.6 546.0L73.3 546.0L73.2 547.0L73.3 550.0zM66.0 561.0L64.0 558.1L63.3 555.5L63.4 554.7L64.4 555.3L66.2 557.6zM51.7 598.5L48.3 598.4L46.3 598.3L43.3 596.0L44.5 595.9L45.1 595.1L49.4 597.0zM71.8 548.0L71.2 547.2L72.4 546.0L74.1 546.0L74.7 547.1L74.2 547.7zM76.8 575.0L77.6 573.3L78.9 572.2L79.9 572.3L81.3 571.8L80.4 573.4L77.7 574.5zM85.2 571.6L82.2 570.3L81.7 568.7L80.0 565.0L82.7 567.0L84.5 568.9zM57.8 550.7L60.3 549.8L62.1 549.5L62.9 550.6L61.0 551.6zM92.4 576.5L90.9 577.2L88.1 576.3L85.0 575.4L89.2 575.1L91.9 575.4zM50.5 573.1L49.3 572.2L49.4 571.3L50.2 570.6L51.3 570.3L51.8 570.8L51.1 572.5zM65.5 597.8L66.4 596.0L68.7 594.8L71.0 593.0L71.3 594.5L70.8 595.2L68.6 596.7zM60.6 573.4L61.2 572.5L62.9 571.4L64.6 571.6L64.6 572.7L63.4 573.1L61.1 574.2zM57.7 579.1L58.7 577.0L59.9 575.6L62.2 575.3L61.9 575.8L60.6 577.5L59.3 578.2zM69.9 550.1L67.1 550.4L63.0 549.1L62.2 547.1L64.7 546.7L70.0 548.5zM71.8 553.6L71.6 551.9L72.0 551.6L73.0 550.2L73.6 551.1L74.1 551.7L72.8 553.2zM50.5 561.3L51.1 559.4L55.2 558.7L55.7 559.5L55.1 560.3L50.2 562.6zM80.3 562.0L78.7 562.1L77.1 561.2L76.5 559.7L77.9 559.8L79.4 560.9zM53.0 563.9L51.3 560.9L50.2 556.6L50.6 555.0L52.9 557.5L53.8 560.2zM80.0 593.0L78.1 589.8L79.8 586.0L81.5 586.7L80.9 592.1zM56.8 570.4L57.0 568.5L57.2 567.8L58.3 567.0L58.9 568.6L58.5 569.9zM98.3 598.3L97.2 598.6L95.3 597.2L96.4 596.5L97.4 596.7zM40.7 574.7L42.8 574.4L45.7 574.0L47.6 574.5L45.3 575.5L43.0 575.4zM60.9 586.5L61.6 584.8L65.0 582.3L66.4 582.4L65.4 583.8L63.2 585.3zM45.3 561.9L44.5 558.8L46.3 557.9L47.7 556.9L47.9 559.3L47.7 560.5zM86.1 556.5L84.3 555.0L81.3 552.0L80.8 550.0L83.2 551.3L85.7 554.8zM67.1 586.3L67.8 583.7L69.8 582.1L69.8 583.2L68.9 584.7zM49.1 578.6L47.3 579.0L46.7 577.4L47.6 576.0L48.8 576.7zM82.5 552.2L80.7 552.0L76.3 549.2L75.4 548.1L78.0 548.6L81.4 550.4zM80.1 591.1L80.4 589.2L80.9 588.5L81.9 587.6L83.4 587.4L82.4 589.2L81.5 590.3zM84.8 594.3L83.6 594.4L81.6 592.9L81.9 591.5L82.9 590.9L84.2 592.5zM83.4 559.5L82.6 557.8L83.7 554.8L85.1 553.4L85.8 555.2L84.6 559.3zM40.8 562.3L42.0 561.2L45.4 560.6L46.7 561.0L46.9 561.4L45.6 561.9L42.6 562.4zM56.7 587.0L58.7 583.9L60.2 582.7L63.6 582.5L63.8 583.6L62.3 585.3L59.8 587.0zM89.1 567.3L88.5 567.1L90.5 563.0L90.8 563.4L91.2 564.6L90.2 567.1zM84.0 588.3L82.7 588.6L81.8 586.4L82.1 585.1L83.8 586.0L84.8 588.2zM85.5 556.4L84.4 557.3L82.2 557.1L82.7 555.1L84.0 555.2L86.3 555.7zM53.3 579.0L52.8 577.0L54.3 574.9L56.3 573.4L55.6 576.0L54.6 578.1zM61.8 569.7L61.0 570.4L59.0 569.9L58.3 568.7L58.4 567.2L61.0 567.9zM70.4 590.7L70.0 590.4L72.5 585.4L73.9 584.8L73.1 587.4L72.7 589.2zM89.5 554.5L89.8 552.4L92.4 550.8L93.4 551.0L91.7 553.3zM72.5 594.5L70.8 594.2L68.8 592.1L69.5 591.9L70.3 591.6L72.1 593.0zM54.3 576.0L56.1 575.3L59.0 573.8L61.0 574.2L60.7 575.8L58.3 577.5L55.4 577.1zM77.0 582.0L76.5 581.1L76.9 579.9L78.7 579.4L79.0 580.3L78.6 581.5zM46.7 592.8L45.4 592.7L44.3 592.6L41.2 590.5L42.5 590.4L43.1 590.3L46.1 591.7zM93.7 588.3L94.7 588.9L90.0 588.0L87.7 587.3L88.5 587.0L91.4 586.6L93.0 587.2zM48.7 571.1L45.9 571.8L43.9 571.8L41.9 571.2L43.9 570.5L48.1 570.4zM95.2 551.9L94.7 548.1L95.2 546.3L96.3 546.0L97.1 546.0L97.6 546.9L97.0 549.0zM49.5 583.6L49.7 582.5L50.8 580.5L52.7 580.0L52.5 580.8L50.5 583.8zM88.7 574.6L87.2 575.5L85.4 574.8L83.5 573.3L85.7 572.9L88.1 573.1zM83.7 562.4L83.6 560.8L84.3 559.8L87.4 558.3L87.3 559.9L85.8 561.6L83.9 563.0zM59.6 587.3L61.3 586.5L62.9 586.6L64.3 587.6L64.2 588.1L63.7 589.1L60.3 588.5zM40.0 550.4L40.5 549.8L44.8 549.9L44.7 551.3L41.7 552.1zM98.5 585.3L98.5 585.6L97.7 585.0L96.4 582.9L95.4 581.9L98.5 582.9L98.5 584.5zM52.3 596.9L51.7 595.5L51.7 592.2L52.8 591.6L52.6 595.0zM92.5 564.1L91.8 563.2L91.9 561.9L91.6 560.5L92.7 560.0L93.0 561.1L93.1 562.8zM71.9 587.5L68.8 587.9L67.1 587.7L65.3 586.7L65.8 586.2L69.1 586.2zM66.5 596.8L66.0 596.5L66.0 595.3L66.7 593.9L67.7 594.4L67.8 594.9L67.2 596.9z" fill="#4545aa"/><path d="M91.1 586.4L88.3 584.7L86.2 582.1L87.4 581.5L88.2 580.9L90.4 583.7zM46.3 594.9L45.2 595.4L43.8 591.9L44.2 589.8L46.4 592.3L47.0 593.9zM59.0 583.5L58.8 581.9L59.8 580.2L61.3 579.5L61.0 581.0L59.9 583.1zM75.0 596.9L76.3 596.3L77.8 596.1L79.9 597.0L79.0 597.6L76.1 597.6zM81.8 573.8L82.9 571.7L84.5 571.2L85.7 571.5L84.2 573.6zM52.4 596.7L50.3 597.4L46.0 596.8L44.5 595.7L46.6 595.5L51.5 596.3zM63.4 592.8L61.6 592.5L60.8 591.9L60.2 590.5L61.8 590.5L63.1 591.4zM54.0 579.7L53.7 580.1L48.7 577.3L49.2 577.2L47.8 575.5L50.4 575.7L53.0 578.3zM55.1 551.7L59.4 549.3L63.7 547.9L62.9 548.8L59.6 550.4zM53.7 547.7L52.6 547.5L53.8 546.0L55.1 546.0L55.4 546.0L54.9 547.1zM76.6 571.1L75.9 570.4L76.6 568.8L77.2 567.5L79.1 568.1L79.0 568.6L78.6 570.6zM66.5 567.0L64.2 565.7L63.6 563.8L64.6 563.1L65.9 564.7zM40.0 567.3L43.6 565.6L45.2 565.5L48.6 565.1L47.3 566.0L43.0 567.1zM40.0 590.1L40.0 588.0L40.3 587.2L41.7 586.8L42.1 588.0L40.6 589.5zM45.4 549.3L48.1 547.2L50.8 546.6L52.7 546.8L49.5 548.3zM96.1 553.8L95.5 555.0L93.0 554.3L92.9 552.7L94.8 552.4zM63.5 570.0L62.3 570.2L59.2 567.3L59.5 566.2L63.0 568.6zM58.4 598.7L59.1 597.5L60.5 594.9L62.8 593.2L61.8 596.2L59.8 598.7zM81.9 562.7L81.0 562.2L84.9 560.3L86.8 560.4L86.1 561.2L83.7 562.6zM93.7 554.8L95.0 551.1L97.8 549.3L98.2 550.9L97.0 553.3zM50.8 576.0L51.1 575.4L53.0 574.1L55.1 573.2L57.3 572.4L55.0 575.1L52.8 575.6zM95.8 550.2L93.6 549.2L91.9 547.3L91.9 546.0L95.4 548.8zM67.6 566.4L68.4 564.5L71.5 562.8L74.3 562.6L74.1 563.7L73.9 564.3L70.0 565.5zM80.2 564.9L79.5 563.8L78.3 560.9L79.6 559.2L80.7 561.0L81.3 564.2zM50.2 550.3L49.8 549.2L51.3 546.6L52.8 546.0L52.3 547.9L51.2 549.6zM41.4 554.1L42.4 553.2L45.8 551.1L47.4 550.3L46.8 552.3L43.2 554.4zM79.3 565.8L81.2 563.4L83.9 561.9L84.0 563.2L81.5 565.3zM60.3 547.9L61.6 546.4L63.0 546.0L63.8 547.0L63.2 548.3zM70.0 568.4L70.2 567.2L72.7 566.4L77.8 565.4L76.3 566.8L74.8 568.7L71.5 569.5zM52.2 589.0L50.4 590.3L48.9 589.4L49.4 587.3L50.9 587.6zM74.9 549.9L74.9 548.9L77.0 546.3L77.1 547.2L78.4 548.0L76.0 551.0zM71.2 571.2L70.1 569.5L70.5 566.2L71.2 566.7L72.1 569.2zM94.1 551.3L93.5 551.4L91.1 550.6L89.8 549.5L90.7 549.1L91.8 548.7L93.5 549.8zM43.0 566.5L45.8 565.4L47.8 565.1L47.8 566.1L45.1 567.2zM47.6 585.7L46.8 582.9L47.1 581.0L48.4 579.9L49.0 579.8L48.8 584.0zM96.5 553.5L95.7 550.9L95.9 549.6L96.0 548.3L96.6 546.7L97.2 550.3L96.9 552.9zM40.0 551.0L41.8 549.3L45.6 549.1L45.3 550.0L42.6 551.3zM81.9 576.5L81.4 575.0L83.0 571.6L83.3 572.2L83.8 572.8L82.8 576.0zM43.2 583.8L45.5 583.0L49.3 581.7L51.0 583.5L49.2 584.1L45.0 585.0zM92.4 594.4L92.0 595.5L86.4 593.4L88.0 593.1L91.2 593.6zM70.5 574.2L71.7 573.4L75.9 572.9L75.5 573.8L71.7 575.2zM85.7 588.0L87.6 586.7L89.1 586.5L93.0 586.8L89.8 588.0L87.2 588.9zM93.1 568.9L92.3 569.8L88.1 568.2L86.1 567.6L88.0 566.7L91.4 567.1zM50.7 562.9L51.5 561.1L52.5 560.0L54.2 559.0L54.5 559.9L54.1 560.6L52.2 561.7zM86.5 558.3L83.3 559.2L81.0 558.7L80.7 557.2L82.9 556.5L84.6 557.6zM57.0 592.9L54.5 591.4L54.2 589.9L53.7 587.4L54.6 587.3L56.8 589.8zM81.1 598.7L79.3 598.4L78.7 597.5L78.7 596.4L80.1 596.4L81.6 598.7zM45.3 591.8L44.1 592.3L41.6 591.5L40.7 590.8L41.2 589.4L44.4 590.3zM50.4 561.9L49.7 562.5L47.3 561.7L45.6 560.6L46.7 560.2L50.8 561.6zM95.2 569.1L96.0 567.5L98.5 567.9L98.5 568.9L96.3 569.6zM77.7 551.2L76.8 551.0L77.1 546.9L78.0 546.0L78.9 547.1L78.2 550.6zM71.8 577.0L73.4 574.1L75.7 570.4L76.4 570.4L76.3 572.1L74.5 574.8zM83.8 580.5L82.4 580.0L80.3 576.6L78.8 573.9L79.6 574.0L81.4 575.2L82.7 578.3zM60.5 572.0L58.4 571.7L56.4 569.9L56.6 568.7L58.9 569.6L60.6 570.5zM98.3 557.0L96.9 554.5L96.8 553.0L97.8 550.9L98.5 552.9L98.5 554.5zM59.1 575.2L57.9 575.6L57.0 574.8L55.2 573.7L55.6 573.2L57.3 572.9L58.6 573.6zM88.8 598.7L88.7 598.1L88.7 596.3L90.1 594.9L90.6 595.7L91.5 596.5L90.6 598.3zM61.5 577.2L61.0 578.6L57.4 578.2L53.1 576.9L55.7 576.2L59.3 575.9zM40.0 567.0L40.0 565.2L43.4 564.3L43.4 565.9L40.6 567.0zM98.2 561.8L96.4 560.3L95.8 556.8L96.3 556.7L97.7 557.9L98.2 560.5zM78.9 594.3L79.7 592.5L81.4 591.7L84.0 591.8L83.4 593.2L80.6 594.9zM69.9 584.7L68.4 585.5L66.0 585.3L65.0 584.2L66.2 582.9L68.4 583.0zM77.7 557.3L76.3 555.8L76.3 554.5L76.9 553.2L77.9 555.8zM66.2 568.8L65.4 568.3L65.6 565.4L66.8 566.1L66.7 567.4zM67.5 571.8L68.7 570.5L72.6 570.6L74.2 571.4L73.6 572.2L69.8 573.0zM90.9 571.1L90.4 569.8L92.4 567.6L93.6 567.0L93.0 568.4L92.4 569.5zM83.9 590.9L83.4 589.6L84.1 587.6L85.0 587.5L85.2 589.6zM61.0 570.6L60.1 571.5L56.5 571.1L52.9 569.6L56.9 569.4L59.0 569.7zM89.4 550.1L87.4 550.7L84.9 550.2L83.0 548.9L84.9 548.1L88.8 549.0zM49.7 584.2L51.3 583.1L54.4 581.8L54.8 582.2L53.9 583.5L50.8 584.3zM50.1 592.4L50.8 591.2L51.8 590.4L54.4 590.6L52.9 591.8L50.9 592.7zM64.9 552.2L62.8 550.9L61.5 547.5L62.6 546.7L64.4 549.7z" fill="#5656b4"/></g>
<filter id="gr14" x="100" y="546" width="60" height="52.700000000000045" filterUnits="userSpaceOnUse" color-interpolation-filters="sRGB"><feTurbulence type="fractalNoise" baseFrequency="0.9" numOctaves="1" seed="64"/><feColorMatrix type="matrix" values="0 0 0 0 0.5  0 0 0 0 0.5  0 0 0 0 0.62  1.8 0 0 0 -0.85"/></filter>
<filter id="mt14" x="100" y="546" width="60" height="52.700000000000045" filterUnits="userSpaceOnUse" color-interpolation-filters="sRGB"><feTurbulence type="fractalNoise" baseFrequency="0.35" numOctaves="2" seed="104"/><feColorMatrix type="matrix" values="0 0 0 0 0.42  0 0 0 0 0.42  0 0 0 0 0.74  3.0 0 0 0 -1.25"/></filter>
<rect x="100" y="546" width="60" height="52.700000000000045" fill="#c0c0de"/>
<rect x="100" y="546" width="60" height="52.700000000000045" fill="#000" filter="url(#mt14)" opacity="0.55"/>
<rect x="100" y="546" width="60" height="52.700000000000045" fill="#000" filter="url(#gr14)"/>
<g filter="url(#bl)"><path d="M105.0 581.0L103.5 578.7L103.3 574.7L103.6 571.4L105.5 573.7L105.7 578.8zM147.3 587.3L146.8 585.5L149.1 582.0L150.2 582.2L150.6 586.6zM109.0 569.2L105.0 567.3L102.5 562.2L104.5 561.0L108.1 565.3zM104.2 583.6L102.9 583.8L101.9 581.1L102.2 579.1L103.7 578.7L105.9 579.4L105.6 581.7zM104.5 567.0L103.3 565.4L106.3 563.4L108.3 565.0L106.3 566.5zM141.2 583.0L140.9 578.9L142.7 576.6L144.2 578.0L143.3 581.5zM109.1 573.6L107.5 574.4L105.2 572.0L107.0 570.7L108.8 571.5zM124.5 553.6L124.4 551.2L128.9 549.6L130.0 550.9L129.2 553.9zM124.8 589.8L121.4 585.4L119.5 582.0L119.9 580.5L123.2 585.0zM132.5 551.0L130.9 551.1L129.6 546.7L129.7 546.0L131.1 546.0L131.9 548.2zM142.2 598.7L140.9 598.7L140.5 595.4L142.4 592.6L143.6 594.5L144.4 597.8zM123.9 573.0L125.0 570.0L128.1 569.5L129.5 571.1L128.4 573.8L126.9 574.5zM117.7 564.9L116.4 566.7L114.9 565.9L113.4 565.0L113.7 563.5L114.9 562.0L119.1 563.9zM106.9 559.2L105.8 559.7L106.5 554.4L106.9 552.5L108.7 550.8L108.4 554.2L108.1 557.8zM115.2 554.6L113.4 553.9L113.3 552.1L114.0 551.3L115.3 552.4L116.0 554.0zM125.4 587.0L123.6 586.3L123.6 583.8L125.2 582.2L127.0 584.3zM135.8 564.2L133.8 565.6L130.5 564.9L127.6 564.1L127.7 562.2L132.9 563.0zM141.3 564.2L143.5 562.2L145.9 561.3L149.7 561.5L147.4 564.0L144.8 564.6zM135.7 561.3L134.5 562.3L134.3 560.2L135.4 558.0L136.6 557.6L136.9 558.6L137.4 560.4zM106.0 570.6L110.3 568.4L112.3 568.2L116.0 569.2L113.1 570.6L108.3 571.1zM100.0 583.1L100.1 580.5L101.6 579.1L102.6 579.8L100.7 582.7zM149.3 552.6L151.5 551.0L153.0 550.3L155.2 551.0L154.3 551.8L151.3 553.0zM152.5 583.3L149.0 583.3L147.4 580.9L145.8 578.9L147.2 577.8L150.0 578.0L152.2 580.4zM119.1 553.7L116.0 553.0L113.6 550.4L113.7 549.3L114.5 548.4L118.0 551.8zM159.9 552.8L158.1 552.2L158.2 550.2L158.7 548.5L160.0 548.1L160.0 551.6zM118.0 592.6L119.6 590.5L123.0 590.6L123.6 591.9L123.4 593.8L119.6 594.0zM131.5 555.1L133.9 553.2L137.9 551.2L141.1 551.0L140.0 552.2L136.4 554.2L135.4 554.8zM120.5 575.8L120.8 573.2L122.1 570.1L123.8 571.7L122.7 575.2zM143.4 575.0L145.3 573.4L146.8 573.3L147.4 575.1L145.2 575.8zM133.3 597.6L133.4 596.6L133.6 594.4L136.2 594.7L135.9 596.7L134.9 598.2zM119.7 565.2L118.7 565.1L117.7 563.9L117.0 561.9L116.8 559.9L118.8 562.2L119.8 563.4zM112.9 598.7L112.4 594.5L113.2 592.3L115.3 591.5L114.8 595.6zM159.3 559.6L156.4 558.8L156.0 557.4L158.1 555.9L159.7 556.5zM143.0 557.3L141.1 557.9L139.1 557.5L137.4 556.4L138.5 555.8L141.9 555.6zM105.1 598.7L103.1 598.7L101.5 596.5L100.2 594.1L102.0 594.3L103.9 596.4L104.5 597.4zM137.9 593.0L136.4 590.7L136.4 588.9L139.2 586.7L140.2 587.1L139.8 591.6zM124.8 557.3L124.6 554.0L125.3 552.2L127.9 551.4L129.0 553.3L128.4 556.0zM132.9 583.7L130.8 582.0L130.3 581.2L130.6 579.2L133.1 580.2L133.3 581.1zM138.7 560.1L136.6 557.7L135.5 554.0L136.1 552.4L137.8 555.9zM144.2 591.3L146.1 587.7L149.3 587.0L152.9 587.8L151.4 589.4L147.6 591.1zM133.4 596.0L131.3 593.2L131.1 588.9L134.7 587.9L135.4 592.3zM105.4 564.7L103.8 563.8L106.7 560.1L108.1 558.6L110.1 560.4L109.6 561.5L106.1 563.9zM106.8 549.0L105.6 549.7L104.6 546.4L106.7 546.0L107.7 546.0L108.4 548.9zM109.9 552.0L109.4 550.3L109.4 548.3L112.3 548.3L112.5 549.6L111.0 551.4zM119.3 556.8L118.5 555.1L118.2 552.8L118.9 552.3L120.4 552.0L121.5 554.1L120.6 555.1z" fill="#4545aa"/><path d="M130.6 579.8L131.8 576.1L132.3 574.7L134.8 575.0L136.7 575.1L132.3 580.4zM151.3 574.0L149.4 575.2L144.1 571.7L143.8 570.1L146.0 570.0L150.2 572.4zM128.0 573.8L125.8 570.4L127.6 566.5L128.4 564.9L130.0 568.7L130.2 571.0zM111.4 555.6L110.5 551.8L111.4 550.0L114.3 548.2L115.2 551.8L112.5 553.8zM151.1 566.9L148.5 568.3L146.2 568.3L144.4 567.1L146.1 565.6L150.7 565.9zM117.8 570.4L114.7 567.3L113.8 564.3L115.4 562.8L118.8 563.6L118.8 568.4zM119.4 591.9L118.0 589.8L118.1 588.9L118.7 587.3L120.8 588.5L120.1 590.1zM106.4 593.3L104.6 593.8L102.6 591.1L102.6 587.8L104.4 589.2L107.4 591.1zM144.5 598.7L145.9 597.3L147.6 595.5L149.8 597.3L149.5 598.7L146.7 598.7zM132.5 591.1L131.7 585.0L133.1 581.8L137.3 583.5L135.9 586.0zM150.9 590.4L147.2 589.5L144.5 587.1L147.0 585.3L149.2 587.3zM151.1 555.1L150.2 555.0L148.4 553.4L148.9 551.3L150.0 551.6L152.6 552.5L152.6 554.3zM150.4 561.1L150.2 559.1L154.4 555.7L155.0 558.0L154.4 560.5zM120.8 581.1L121.2 579.3L121.0 578.4L122.9 577.0L123.7 576.9L123.3 578.6L122.8 579.5zM141.9 563.4L140.0 562.0L134.5 557.1L136.7 557.0L141.2 559.8zM120.3 557.4L118.4 556.0L117.1 554.0L118.4 553.2L120.0 554.7zM150.0 569.4L152.0 567.6L155.6 566.3L156.7 567.8L154.9 570.6L153.6 571.5zM154.9 557.0L153.6 556.1L153.7 551.5L154.9 550.8L156.5 552.8L156.3 554.3zM130.3 578.8L129.4 578.3L130.7 576.2L132.8 575.7L132.7 576.4L131.3 579.4zM139.9 582.4L141.4 581.3L142.8 580.2L143.6 581.6L144.7 582.6L143.0 584.2L141.7 585.2zM111.3 596.8L109.7 594.8L108.5 592.0L109.9 588.2L113.1 591.7L113.6 595.4zM148.4 569.2L149.7 567.2L151.7 566.8L153.3 566.1L153.3 567.3L151.6 569.2L149.5 569.4zM111.4 583.4L111.5 582.2L114.5 580.7L116.3 580.7L114.6 583.0L112.9 584.5zM111.5 580.6L109.7 580.8L107.4 579.2L108.4 578.1L111.4 579.0zM141.4 594.9L143.1 590.2L145.3 588.2L145.7 589.9L144.3 592.6zM104.9 562.9L103.6 559.0L103.6 555.5L104.0 552.4L105.3 554.0L105.8 557.6z" fill="#5656b4"/></g>
<filter id="gr15" x="161.5" y="546" width="58.5" height="52.700000000000045" filterUnits="userSpaceOnUse" color-interpolation-filters="sRGB"><feTurbulence type="fractalNoise" baseFrequency="0.9" numOctaves="1" seed="65"/><feColorMatrix type="matrix" values="0 0 0 0 0.5  0 0 0 0 0.5  0 0 0 0 0.62  1.8 0 0 0 -0.85"/></filter>
<filter id="mt15" x="161.5" y="546" width="58.5" height="52.700000000000045" filterUnits="userSpaceOnUse" color-interpolation-filters="sRGB"><feTurbulence type="fractalNoise" baseFrequency="0.35" numOctaves="2" seed="105"/><feColorMatrix type="matrix" values="0 0 0 0 0.42  0 0 0 0 0.42  0 0 0 0 0.74  3.0 0 0 0 -1.25"/></filter>
<rect x="161.5" y="546" width="58.5" height="52.700000000000045" fill="#c0c0de"/>
<rect x="161.5" y="546" width="58.5" height="52.700000000000045" fill="#000" filter="url(#mt15)" opacity="0.55"/>
<rect x="161.5" y="546" width="58.5" height="52.700000000000045" fill="#000" filter="url(#gr15)"/>
<g filter="url(#bl)"><path d="M202.8 560.3L201.0 560.1L198.7 557.9L199.1 555.6L201.7 557.1zM198.0 585.5L195.8 583.9L196.0 581.5L196.8 581.4L200.3 580.8L200.6 581.8L200.4 585.1zM216.4 598.2L214.6 597.1L214.8 594.1L216.1 594.4L218.2 594.4L217.8 598.5zM203.2 567.7L203.6 566.0L205.8 565.6L206.6 566.3L206.7 567.5L203.9 568.1zM180.9 571.2L179.4 572.1L176.5 569.9L177.1 568.1L178.4 568.4L179.2 569.2zM191.7 557.2L191.5 559.0L187.4 555.4L186.7 553.6L188.4 553.3L191.2 555.0zM177.7 579.5L179.6 578.1L181.5 576.4L186.2 576.8L186.8 579.5L186.5 580.1L180.8 582.0zM176.9 558.2L176.3 556.5L176.0 556.2L177.4 554.2L178.2 554.4L178.8 556.4L178.8 557.5zM204.4 556.3L203.2 554.2L201.2 548.7L202.1 549.0L203.5 550.3L205.5 555.0zM182.2 574.3L184.2 571.9L189.2 571.9L190.2 573.2L187.8 575.1L184.1 575.1zM189.2 583.5L188.0 584.4L183.7 583.8L183.0 581.4L189.1 582.1zM192.1 573.7L192.6 572.1L196.5 570.2L198.7 571.2L195.3 573.2L192.7 573.9zM219.3 568.6L217.2 569.9L215.7 568.4L216.8 566.0L218.1 566.4zM171.1 576.4L168.9 576.0L170.5 570.2L172.8 570.0L173.7 574.6zM181.1 587.9L180.4 586.7L181.9 583.4L185.3 583.2L184.6 584.9L182.9 588.7zM204.3 565.9L207.3 563.2L209.3 563.0L211.3 564.4L208.2 566.6zM166.3 583.9L165.5 582.4L165.2 580.5L165.5 578.0L167.6 577.9L168.7 579.7L168.8 582.7zM217.2 550.7L217.0 548.9L219.2 546.0L219.4 546.0L219.4 547.8zM177.8 578.1L177.7 575.2L179.2 573.8L182.6 571.9L181.8 575.6L180.7 577.0zM211.4 581.1L208.2 581.8L204.9 578.7L205.8 577.3L209.6 577.5zM205.5 566.8L206.2 565.7L209.0 562.3L210.9 561.6L210.2 565.5L208.1 566.5zM218.8 598.7L214.5 598.7L212.9 597.8L212.1 595.8L214.2 595.1L216.3 595.5zM206.6 558.0L208.5 555.5L209.8 554.5L212.9 553.8L212.7 556.7L208.0 559.0zM184.7 560.2L185.0 558.9L186.9 558.3L188.3 558.8L187.1 560.2L186.5 560.8zM165.4 584.9L163.3 585.3L161.5 583.4L161.5 582.0L163.3 581.9L164.7 582.2zM209.5 565.7L207.3 566.6L206.1 566.0L204.5 564.5L206.8 563.9L208.9 564.9zM211.0 593.9L211.5 589.0L214.3 588.3L216.8 588.6L213.9 593.0zM174.0 592.0L172.5 590.1L174.2 588.6L176.6 589.1L176.9 590.1L175.4 591.6zM203.4 585.8L204.4 583.6L208.6 582.4L210.2 583.5L210.3 585.4L207.0 586.8zM161.9 588.0L161.5 587.5L161.5 584.7L161.5 583.1L161.5 583.6L162.4 584.2L163.5 586.9zM204.5 552.0L200.3 550.3L199.1 546.2L200.1 546.0L202.1 546.0L203.7 549.1zM209.3 598.7L206.0 598.7L206.9 595.3L208.3 594.8L210.2 598.5zM177.9 591.6L175.5 592.3L174.0 590.9L174.6 589.7L175.8 589.1zM196.7 589.3L198.1 587.7L198.9 587.6L201.1 588.5L199.5 589.4L198.6 589.8zM176.9 572.0L176.6 573.1L171.5 571.5L169.5 569.5L171.0 569.3L174.4 568.9L176.8 569.3zM178.1 581.0L178.6 580.1L181.2 579.6L183.7 580.5L182.8 582.2L182.0 583.9L179.9 583.8zM206.9 567.5L209.6 565.0L212.8 565.2L215.2 566.9L212.6 568.7L208.7 568.2zM202.7 588.0L201.9 585.2L203.2 582.1L204.6 582.2L206.2 584.5L205.1 586.9zM193.8 594.1L192.8 591.0L194.4 588.1L195.9 588.3L197.0 592.4zM166.6 550.8L164.6 548.6L163.5 546.0L163.3 546.0L166.1 546.0L166.5 547.4zM170.0 566.8L167.2 567.2L163.8 565.7L164.7 564.4L164.3 563.3L170.1 565.8zM202.0 559.3L201.9 557.2L202.6 554.7L204.8 552.0L205.4 554.8L205.3 556.8L204.2 558.0zM178.5 555.6L177.1 555.5L176.1 553.8L176.4 553.2L176.8 551.9L178.4 553.5L179.5 555.3zM207.9 576.7L206.4 577.0L204.4 576.1L203.6 575.6L203.4 574.2L204.7 574.3L206.5 575.4zM196.5 552.2L195.4 551.0L195.8 546.3L198.1 546.0L200.0 546.0L199.3 549.2zM189.2 589.8L188.2 589.2L188.7 586.9L189.8 585.3L191.1 587.7L190.1 589.3zM188.5 586.4L187.8 585.0L191.8 584.5L192.9 586.2L191.5 587.6zM201.5 598.7L200.0 598.7L196.8 597.2L194.4 592.6L198.9 593.0L201.2 596.8zM201.2 561.8L202.2 560.2L203.7 557.3L207.2 555.4L206.7 558.1L203.5 561.3zM207.3 578.9L206.8 576.0L207.4 574.2L210.8 573.7L210.6 576.5L210.0 579.5z" fill="#4545aa"/><path d="M175.6 565.3L173.7 566.1L170.9 563.3L171.3 560.7L172.9 561.2L176.3 563.9zM194.4 598.7L194.6 597.5L197.6 595.9L198.5 597.4L197.8 598.7zM173.5 556.1L173.2 553.8L175.2 552.4L178.3 549.6L179.3 551.3L176.9 553.9L175.7 555.3zM169.2 563.9L168.3 563.5L167.4 560.6L171.0 559.5L172.5 561.2L171.1 563.7zM180.2 585.7L178.9 586.7L177.5 583.9L178.0 581.2L179.4 582.5L180.0 582.7L181.6 584.4zM206.7 598.7L206.6 598.7L202.5 598.7L202.1 596.2L202.4 595.7L204.3 595.6L206.6 597.5zM172.3 558.9L171.0 556.2L172.8 551.9L173.9 550.7L175.5 551.9L176.3 553.1L174.4 556.7zM175.9 563.7L175.0 562.0L177.5 557.2L179.2 555.9L177.9 561.9zM210.7 547.9L209.0 548.9L206.8 546.0L207.9 546.0L210.9 546.0zM199.7 555.4L196.1 555.4L192.7 551.7L196.1 550.2L199.4 552.1zM202.7 561.4L202.0 560.6L202.7 558.2L203.9 556.7L204.4 557.1L204.8 557.6L204.2 559.8zM184.4 586.2L181.3 584.9L180.4 583.0L181.3 580.7L182.6 582.2L184.0 583.9zM201.4 577.0L199.4 576.3L198.1 573.9L198.1 573.0L200.8 573.1L201.3 574.9zM207.1 566.8L208.4 564.7L210.6 565.2L212.3 565.8L210.2 568.2L208.4 568.9zM189.5 593.3L189.8 592.8L193.6 589.3L195.6 589.4L195.5 592.7L194.7 593.0L192.6 594.5zM181.9 565.4L180.5 562.6L180.2 560.4L180.6 556.7L183.3 558.0L184.3 563.6zM195.6 580.7L194.4 582.3L191.9 583.4L190.5 580.5L189.7 578.9L194.4 579.6zM212.5 575.6L213.5 571.8L215.3 570.2L219.0 569.2L217.9 571.8L214.9 574.8zM169.4 574.1L168.2 572.8L167.4 568.7L169.0 565.0L169.7 566.3L170.1 568.5L170.5 572.9zM174.3 580.8L172.3 580.1L171.7 577.8L172.9 576.7L174.3 578.2z" fill="#5656b4"/></g>
<filter id="gr16" x="221.6" y="546" width="58.900000000000006" height="52.700000000000045" filterUnits="userSpaceOnUse" color-interpolation-filters="sRGB"><feTurbulence type="fractalNoise" baseFrequency="0.9" numOctaves="1" seed="66"/><feColorMatrix type="matrix" values="0 0 0 0 0.5  0 0 0 0 0.5  0 0 0 0 0.62  1.8 0 0 0 -0.85"/></filter>
<filter id="mt16" x="221.6" y="546" width="58.900000000000006" height="52.700000000000045" filterUnits="userSpaceOnUse" color-interpolation-filters="sRGB"><feTurbulence type="fractalNoise" baseFrequency="0.35" numOctaves="2" seed="106"/><feColorMatrix type="matrix" values="0 0 0 0 0.42  0 0 0 0 0.42  0 0 0 0 0.74  3.0 0 0 0 -1.25"/></filter>
<rect x="221.6" y="546" width="58.900000000000006" height="52.700000000000045" fill="#c0c0de"/>
<rect x="221.6" y="546" width="58.900000000000006" height="52.700000000000045" fill="#000" filter="url(#mt16)" opacity="0.55"/>
<rect x="221.6" y="546" width="58.900000000000006" height="52.700000000000045" fill="#000" filter="url(#gr16)"/>
<g filter="url(#bl)"><path d="M252.6 590.5L251.0 589.9L249.4 589.1L248.8 586.6L251.5 586.7L252.6 588.5zM231.4 598.2L233.3 596.0L234.5 596.2L235.7 597.5L234.9 598.7L232.8 598.7zM249.9 569.4L250.5 566.2L254.8 562.3L255.1 565.0L253.5 567.1zM272.6 590.5L271.7 590.8L271.7 587.8L272.7 585.6L273.5 586.2L273.8 589.4zM258.2 568.5L257.8 566.6L258.9 564.2L260.4 563.4L260.8 565.1L260.1 567.2L259.6 567.6zM270.3 575.9L267.6 575.9L265.4 573.3L266.4 571.8L270.0 573.9zM254.7 577.3L252.1 578.1L249.0 577.2L247.3 576.0L248.7 575.3L253.4 575.0zM272.0 578.5L270.3 575.2L270.7 572.8L272.8 571.8L274.2 572.8L273.1 577.5zM254.3 592.8L253.7 592.6L256.3 587.3L257.5 587.5L257.4 589.3L256.4 592.5zM265.1 577.7L264.9 573.8L266.3 569.8L267.3 570.2L267.7 572.8L267.5 574.8zM246.1 593.4L248.7 590.3L254.2 588.4L254.5 589.8L250.6 592.3zM241.0 554.4L240.3 553.9L238.6 552.6L237.4 550.1L236.7 548.9L240.3 551.1L241.7 553.1zM248.6 570.6L247.3 571.4L245.1 566.6L247.0 566.8L247.9 568.3zM230.0 598.7L228.5 595.3L228.3 593.5L228.1 590.0L230.0 590.2L231.4 594.7zM244.2 579.5L242.3 580.3L238.0 579.8L237.2 577.6L239.3 576.7L242.4 577.8zM257.5 587.0L258.3 584.1L259.8 584.6L262.1 586.3L260.5 587.5L257.8 588.3zM272.5 591.1L270.5 592.4L267.4 591.5L264.1 589.8L267.0 589.4L270.0 589.3zM244.2 590.9L243.4 589.1L245.0 583.4L246.9 582.4L245.4 588.5zM228.0 569.7L228.8 567.4L231.4 565.1L232.1 565.5L232.7 565.9L229.6 569.6zM241.9 551.9L241.1 552.1L239.6 551.2L239.7 549.2L240.7 548.8L241.1 549.4L242.2 550.8zM271.0 551.0L273.1 547.4L275.8 546.0L275.8 547.3L272.9 550.1zM233.3 587.8L233.7 586.3L237.2 586.7L237.4 587.9L235.7 588.9zM241.5 565.7L241.8 563.1L244.2 559.4L245.4 559.7L245.3 561.7L242.9 565.3zM230.0 549.9L229.7 551.3L227.4 548.3L224.8 546.0L225.8 546.0L227.6 546.0L230.0 547.9zM236.9 569.8L239.4 565.2L240.8 564.6L242.7 565.1L241.0 567.7zM257.1 563.1L256.7 564.3L251.3 563.7L252.7 561.6L254.7 561.2zM237.9 572.9L237.8 571.6L242.9 569.8L242.6 571.7L240.8 573.1zM249.5 572.0L248.6 568.3L249.9 564.1L252.7 565.2L251.5 569.8zM265.1 595.7L262.5 594.6L260.8 593.8L258.4 591.4L261.3 591.3L264.3 594.0zM241.9 589.9L239.3 591.0L238.8 590.6L235.2 588.1L235.7 585.9L238.8 586.6L240.8 588.0zM251.2 597.7L250.4 597.8L247.7 596.1L248.3 593.2L250.7 594.4L252.4 596.0zM244.3 568.1L243.9 566.2L243.8 564.3L244.5 564.1L245.3 562.7L246.2 565.3L245.7 567.7zM243.5 553.9L242.2 551.8L240.4 548.1L240.5 547.1L242.4 547.9L244.7 553.8zM225.9 574.0L228.5 573.3L232.2 572.4L234.4 573.3L233.6 574.7L229.8 576.3L227.1 575.8zM255.9 558.8L254.3 556.7L255.5 555.1L257.7 554.5L258.6 555.9L258.1 557.3zM246.6 551.2L245.9 550.2L245.5 546.0L246.0 546.0L247.6 549.6zM279.9 596.3L279.0 594.7L280.4 591.2L280.5 591.3L280.5 594.7zM268.9 561.4L270.7 559.2L275.3 558.4L275.9 558.8L271.7 561.0zM277.8 594.3L278.4 591.7L279.5 588.8L280.5 587.1L280.5 588.4L279.7 592.6zM263.8 585.2L265.4 583.1L269.3 581.4L272.2 580.9L274.4 581.8L268.8 585.0L267.7 585.4zM280.5 593.5L275.9 592.4L272.1 589.7L272.9 587.7L277.1 590.0zM250.2 584.7L248.7 585.0L247.8 584.7L246.2 582.8L247.4 582.2L248.4 582.1L250.5 583.1zM243.1 559.7L242.6 559.0L244.1 557.1L244.7 556.1L246.5 558.0L246.5 559.5L245.7 559.8zM235.4 551.8L235.1 551.0L238.1 548.4L241.2 547.3L240.5 549.5L238.2 551.9zM227.1 559.9L227.9 557.9L231.9 557.4L234.0 557.5L232.0 559.3L228.6 560.1zM270.0 562.2L270.0 560.9L271.6 559.0L273.7 559.8L273.4 560.7L272.5 562.5L271.8 562.7zM257.6 592.4L260.3 589.3L264.9 586.8L264.5 588.3L262.1 590.9zM279.2 582.6L277.9 581.5L276.5 578.0L278.0 576.7L280.5 579.8zM230.0 578.4L228.7 574.6L229.6 573.8L231.0 573.3L231.4 575.9zM226.3 573.3L225.2 572.6L226.2 569.5L227.5 569.1L227.5 572.2zM253.0 585.8L254.4 583.7L255.8 582.7L256.5 582.8L258.0 583.4L256.9 585.5L255.5 587.0zM260.9 597.6L263.3 595.9L264.3 595.7L267.3 595.4L265.7 596.9L262.8 597.9zM272.3 596.8L270.2 595.4L267.6 588.5L268.4 586.0L270.5 589.0L272.5 593.9zM221.6 555.7L221.6 555.3L222.6 554.8L224.4 555.4L224.9 556.2L221.7 556.5L221.6 556.6zM271.2 597.6L269.8 596.7L269.0 595.0L269.3 593.6L269.9 592.1L271.6 594.4L271.7 596.5zM259.5 567.7L257.9 565.4L257.0 562.6L259.3 563.5L260.7 566.5zM266.1 566.4L265.0 563.7L265.6 560.6L267.3 558.4L268.6 560.6L268.0 563.2zM245.2 581.1L244.9 578.7L245.4 577.3L246.1 576.3L248.4 577.6L248.1 578.9zM280.5 586.4L280.1 586.1L278.3 584.2L276.8 582.4L280.0 582.9L280.5 585.6zM275.6 584.6L274.8 583.6L277.4 578.7L278.6 577.7L280.0 577.5L279.0 579.9L277.1 582.9zM256.0 561.4L255.1 561.8L254.0 559.6L254.0 557.8L255.3 558.1L256.2 559.6L257.1 561.3zM257.3 572.9L259.5 570.9L263.8 570.6L264.6 572.2L263.7 573.2L259.0 573.9zM263.2 583.3L261.4 582.5L259.5 577.6L259.8 576.8L263.1 581.2zM280.5 570.7L279.3 571.4L277.3 571.2L274.8 570.1L275.4 569.3L278.2 568.9L280.4 569.6zM247.0 571.8L246.4 570.5L245.6 566.5L246.0 564.1L247.7 564.4L248.6 567.0L249.2 569.1zM264.0 571.3L264.5 568.6L268.3 567.4L270.8 568.0L267.6 571.6zM275.8 577.7L273.7 576.6L272.7 574.4L271.5 572.1L271.9 571.8L273.6 573.4L276.0 576.9zM280.2 554.1L278.6 556.2L276.0 556.1L274.9 555.3L275.9 553.3L276.8 552.9L279.6 552.4zM245.3 575.1L244.6 573.3L246.5 569.8L247.2 569.8L248.1 570.9L246.2 575.0zM259.2 577.5L258.5 575.3L261.1 573.1L262.9 573.7L261.0 576.8zM241.1 551.1L237.9 551.4L236.8 550.0L235.9 547.9L239.2 548.9zM260.1 578.8L260.8 576.9L265.4 574.4L267.5 575.4L263.6 578.3zM256.3 591.3L257.5 588.1L260.1 587.1L263.0 585.8L261.6 589.4L258.9 591.5zM271.8 552.1L274.6 550.0L278.2 550.6L278.5 551.8L273.7 552.7zM234.4 563.4L232.0 563.9L230.5 563.7L229.7 561.5L231.9 560.5L233.5 562.0zM235.9 550.1L235.5 549.9L238.6 546.0L239.6 546.0L240.6 546.6L240.1 547.6L238.2 550.6zM245.0 566.4L243.8 564.8L242.5 563.1L241.0 559.4L243.1 558.8L245.0 560.2L245.5 564.0zM257.6 570.3L257.0 570.2L255.3 568.1L254.6 564.9L256.3 565.8L258.0 567.3L258.2 568.2zM240.8 590.1L240.0 586.6L240.0 584.2L241.1 583.2L242.3 586.7zM250.7 585.0L249.6 583.9L249.2 582.5L250.0 581.6L251.7 582.1L252.2 583.3L251.8 585.3zM269.3 579.1L268.7 578.7L267.5 575.6L267.8 573.9L268.9 574.0L270.2 577.0zM268.6 591.7L266.6 591.3L266.6 588.2L267.0 587.0L269.3 586.7L270.0 590.4zM240.4 552.9L239.0 551.6L238.8 549.7L239.3 548.8L239.8 548.5L241.1 550.0L241.3 551.1zM259.5 576.3L260.0 573.5L262.0 568.7L263.0 568.6L263.4 570.6L261.6 574.3zM245.2 577.5L243.2 577.7L239.4 574.6L240.5 573.5L242.8 573.2L244.0 575.5zM269.1 550.4L265.7 548.4L262.2 546.0L263.9 546.0L266.9 547.0zM272.8 565.0L271.7 565.3L270.4 563.5L270.9 561.9L272.1 562.7L273.2 563.3zM254.9 588.1L254.1 589.1L250.0 586.6L250.2 585.5L251.3 585.2L255.3 587.6zM255.0 588.1L254.3 585.8L257.5 584.1L259.6 585.2L258.3 587.7zM257.4 587.3L257.9 586.0L259.8 586.1L261.2 586.9L261.0 587.5L259.9 588.3L258.4 588.0zM279.5 561.7L277.7 560.6L277.0 557.6L279.3 557.2L280.5 558.9zM275.0 585.3L276.3 584.1L278.0 583.9L280.5 583.9L280.5 585.6L279.0 586.3L275.2 586.0zM269.2 561.8L265.9 560.9L264.4 556.9L265.6 555.4L267.6 557.0L268.9 558.9zM250.7 572.6L247.7 571.7L243.9 567.3L246.2 566.8L249.3 570.3zM248.4 576.3L247.1 575.4L252.9 571.5L253.3 572.2L252.1 575.3L251.1 576.1zM280.5 568.9L277.5 567.1L275.7 564.5L276.6 563.2L279.6 565.4zM256.2 586.5L256.2 586.0L256.5 584.0L256.7 583.4L258.7 584.4L259.4 585.3L257.9 586.5zM244.6 559.5L247.7 557.0L251.0 557.1L253.3 559.1L247.8 561.3zM229.8 577.9L230.2 576.1L232.2 570.5L234.4 569.8L234.5 573.8L232.7 578.0zM242.5 585.7L239.8 585.2L237.0 583.4L236.7 581.4L238.3 580.7L241.6 582.2zM231.8 595.9L231.3 595.4L229.2 592.6L230.9 591.3L232.6 591.5L233.3 593.5zM263.5 598.7L261.8 598.7L259.5 598.1L261.3 596.4L262.9 597.5zM262.5 559.4L261.5 556.4L261.5 554.1L262.8 552.7L263.4 553.2L263.4 555.9zM236.9 590.8L235.5 591.8L232.1 586.6L232.8 584.6L234.0 585.4L237.9 589.9zM230.2 556.7L231.3 555.1L232.7 553.6L234.7 554.2L235.0 556.0L232.7 557.2zM225.4 556.4L226.0 554.7L227.9 554.3L228.8 555.1L227.8 556.9L227.0 557.3zM232.4 580.7L230.2 580.9L225.6 580.3L224.8 577.6L230.0 578.9zM226.0 593.9L224.4 592.2L224.5 590.9L224.6 589.0L226.5 589.6L227.1 590.8L227.3 592.1zM224.6 549.9L225.3 547.8L228.2 547.1L229.7 549.3L228.1 550.8L225.9 550.9zM258.9 561.5L259.1 556.9L260.5 551.8L261.3 552.7L260.4 558.7zM231.1 583.8L231.2 581.7L234.2 576.8L236.3 576.6L236.5 578.2L234.2 583.5zM250.7 555.9L247.0 555.9L242.1 554.5L242.3 552.7L245.2 553.0zM245.0 593.1L243.7 594.5L241.4 594.0L241.4 591.0L244.1 591.6zM259.5 549.4L261.2 547.2L265.9 546.0L267.0 546.0L269.6 546.0L266.0 548.3L264.3 548.9zM269.7 568.7L268.9 568.9L267.2 566.4L267.7 562.5L268.6 563.0L270.4 564.8L270.3 566.7zM269.0 598.6L269.3 597.1L271.0 596.2L272.5 596.0L273.0 598.1L270.1 598.7zM233.1 552.6L230.4 555.4L228.0 553.8L227.0 552.5L229.5 550.2L232.2 551.7z" fill="#4545aa"/><path d="M265.3 589.8L264.3 588.0L264.6 583.7L266.7 582.2L266.7 589.6zM229.9 598.5L228.6 597.1L228.6 595.2L229.5 593.4L230.7 594.7L231.5 597.2zM264.4 563.1L265.5 561.2L268.2 561.3L268.5 562.7L268.9 563.8L265.8 564.1zM251.1 566.8L249.1 567.6L246.5 564.4L247.1 559.9L248.9 561.6L252.1 565.0zM247.1 584.9L246.5 582.1L248.8 581.7L250.9 583.3L251.2 584.0L249.0 585.0zM222.5 573.5L221.6 570.8L223.1 564.4L224.6 564.8L225.0 566.6L224.7 570.5zM260.7 568.0L262.7 564.7L265.4 563.6L267.0 564.8L268.1 565.7L266.7 567.2L261.9 569.0zM263.0 560.3L261.4 560.4L259.3 558.8L260.2 555.5L261.7 556.2L263.9 559.1zM244.1 594.2L245.6 592.2L248.5 592.3L249.3 592.6L249.8 594.2L246.5 595.0zM248.7 576.7L246.5 576.1L244.8 574.4L243.9 571.5L244.5 569.7L246.9 572.1L247.9 574.0zM239.3 596.1L237.9 597.0L234.6 597.8L230.1 596.0L230.7 594.8L233.4 593.9L237.6 595.2zM260.3 580.5L258.9 579.5L257.2 576.8L257.5 576.3L258.5 576.2L259.1 576.0L260.9 578.5zM258.8 549.4L257.6 550.1L254.0 548.6L253.9 547.0L253.0 546.0L257.9 546.0L258.9 548.0zM242.1 572.5L240.6 570.8L239.0 565.2L240.8 563.7L242.9 568.8zM233.2 572.6L231.5 572.7L229.8 571.0L229.7 568.8L230.9 568.9L232.2 569.4L233.3 570.4zM267.2 548.2L268.5 546.1L272.3 546.0L271.6 547.9L269.7 549.2zM246.7 553.6L245.3 553.3L244.9 550.4L245.7 546.3L247.7 549.7L247.9 552.3zM239.3 562.6L237.5 560.0L238.2 557.4L240.1 554.6L241.2 557.9L241.3 561.8zM240.2 567.3L238.2 565.7L238.2 563.9L238.4 560.7L240.3 561.6L241.2 563.8L240.7 565.6zM231.9 598.7L229.0 598.1L225.7 597.2L222.6 595.7L223.4 594.7L227.2 595.6L231.2 598.0zM246.8 568.4L246.4 569.9L241.2 566.8L239.4 564.1L241.2 564.3L245.7 565.9zM237.7 561.6L235.7 557.8L237.5 552.8L239.2 554.7L239.9 558.6zM260.8 588.5L256.3 587.0L255.0 585.0L253.7 580.7L255.6 581.7L259.7 584.8zM241.9 576.9L239.9 575.0L239.5 573.5L239.4 572.5L239.9 571.1L241.3 572.2L241.7 574.0zM263.6 587.9L262.2 587.5L261.2 584.7L262.0 583.4L262.8 584.4L264.6 586.9zM278.1 567.5L278.5 566.7L280.4 566.3L280.5 567.6L280.5 568.3L279.6 568.6zM226.5 559.6L226.6 558.1L231.0 557.7L233.1 558.0L230.7 560.0L228.0 560.0zM231.2 586.2L230.3 588.0L226.8 585.6L226.6 582.1L229.4 583.4L231.6 584.5zM236.5 567.5L232.8 565.9L230.8 562.0L232.0 560.1L233.8 560.3L236.1 563.6zM254.1 584.0L253.4 581.9L254.3 579.3L254.8 579.9L255.3 581.9zM239.6 582.1L237.7 581.1L234.4 577.9L235.7 577.2L238.5 579.9zM278.1 584.8L278.7 584.2L280.5 583.5L280.5 584.1L280.5 586.1L279.6 586.6zM228.2 579.4L227.0 578.5L226.3 571.8L227.1 572.5L228.3 575.6zM270.2 553.4L270.3 550.3L271.0 548.3L273.0 547.8L273.6 550.3L274.2 551.7z" fill="#5656b4"/></g>
<text x="66.8" y="358.0" font-size="6.96" font-weight="bold" text-anchor="middle" dominant-baseline="central" fill="#111" stroke="#111" stroke-width="0.18" textLength="8.8" lengthAdjust="spacingAndGlyphs">NC</text>
<text x="129.9" y="358.0" font-size="6.96" font-weight="bold" text-anchor="middle" dominant-baseline="central" fill="#111" stroke="#111" stroke-width="0.18" textLength="26.5" lengthAdjust="spacingAndGlyphs">miR-1184</text>
<text x="192.3" y="358.0" font-size="6.96" font-weight="bold" text-anchor="middle" dominant-baseline="central" fill="#111" stroke="#111" stroke-width="0.18" textLength="49.5" lengthAdjust="spacingAndGlyphs">miR-1184+vector</text>
<text x="251.8" y="358.0" font-size="6.96" font-weight="bold" text-anchor="middle" dominant-baseline="central" fill="#111" stroke="#111" stroke-width="0.18" textLength="49" lengthAdjust="spacingAndGlyphs">miR-1184+RAP2B</text>
<text x="66.8" y="484.2" font-size="6.96" font-weight="bold" text-anchor="middle" dominant-baseline="central" fill="#111" stroke="#111" stroke-width="0.18" textLength="8.8" lengthAdjust="spacingAndGlyphs">NC</text>
<text x="129.9" y="484.2" font-size="6.96" font-weight="bold" text-anchor="middle" dominant-baseline="central" fill="#111" stroke="#111" stroke-width="0.18" textLength="26.5" lengthAdjust="spacingAndGlyphs">miR-1184</text>
<text x="192.3" y="484.2" font-size="6.96" font-weight="bold" text-anchor="middle" dominant-baseline="central" fill="#111" stroke="#111" stroke-width="0.18" textLength="49.5" lengthAdjust="spacingAndGlyphs">miR-1184+vector</text>
<text x="251.8" y="484.2" font-size="6.96" font-weight="bold" text-anchor="middle" dominant-baseline="central" fill="#111" stroke="#111" stroke-width="0.18" textLength="49" lengthAdjust="spacingAndGlyphs">miR-1184+RAP2B</text>
<text x="35.3" y="386.4" font-size="6.61" font-weight="bold" text-anchor="middle" dominant-baseline="central" fill="#111" stroke="#111" stroke-width="0.18" transform="rotate(-90 35.3 386.4)" textLength="12.46" lengthAdjust="spacingAndGlyphs">5637</text>
<text x="35.3" y="447.0" font-size="6.61" font-weight="bold" text-anchor="middle" dominant-baseline="central" fill="#111" stroke="#111" stroke-width="0.18" transform="rotate(-90 35.3 447.0)" textLength="9.65" lengthAdjust="spacingAndGlyphs">T24</text>
<text x="35.6" y="513.0" font-size="6.61" font-weight="bold" text-anchor="middle" dominant-baseline="central" fill="#111" stroke="#111" stroke-width="0.18" transform="rotate(-90 35.6 513.0)" textLength="12.46" lengthAdjust="spacingAndGlyphs">5637</text>
<text x="35.6" y="575.6" font-size="6.61" font-weight="bold" text-anchor="middle" dominant-baseline="central" fill="#111" stroke="#111" stroke-width="0.18" transform="rotate(-90 35.6 575.6)" textLength="9.65" lengthAdjust="spacingAndGlyphs">T24</text>
<text x="27.0" y="470.5" font-size="9.2" font-weight="bold" text-anchor="start" dominant-baseline="central" fill="#111" stroke="#111" stroke-width="0.18">i</text>
<text x="27.5" y="598.0" font-size="9.2" font-weight="bold" text-anchor="start" dominant-baseline="central" fill="#111" stroke="#111" stroke-width="0.18">j</text>
<line x1="307.2" y1="378.0" x2="307.2" y2="423.4" stroke="#8a8a8a" stroke-width="0.9"/>
<line x1="307.2" y1="423.4" x2="367" y2="423.4" stroke="#8a8a8a" stroke-width="0.9"/>
<line x1="306.0" y1="423.4" x2="307.2" y2="423.4" stroke="#777" stroke-width="0.6"/>
<text x="305.4" y="423.4" font-size="4.65" font-weight="bold" text-anchor="end" dominant-baseline="central" fill="#111" stroke="#111" stroke-width="0.18">0</text>
<line x1="306.0" y1="408.59999999999997" x2="307.2" y2="408.59999999999997" stroke="#777" stroke-width="0.6"/>
<text x="305.4" y="408.59999999999997" font-size="4.96" font-weight="bold" text-anchor="end" dominant-baseline="central" fill="#111" stroke="#111" stroke-width="0.18" textLength="4.67" lengthAdjust="spacingAndGlyphs">50</text>
<line x1="306.0" y1="393.79999999999995" x2="307.2" y2="393.79999999999995" stroke="#777" stroke-width="0.6"/>
<text x="305.4" y="393.79999999999995" font-size="4.96" font-weight="bold" text-anchor="end" dominant-baseline="central" fill="#111" stroke="#111" stroke-width="0.18" textLength="7.01" lengthAdjust="spacingAndGlyphs">100</text>
<line x1="306.0" y1="379.0" x2="307.2" y2="379.0" stroke="#777" stroke-width="0.6"/>
<text x="305.4" y="379.0" font-size="4.96" font-weight="bold" text-anchor="end" dominant-baseline="central" fill="#111" stroke="#111" stroke-width="0.18" textLength="7.01" lengthAdjust="spacingAndGlyphs">150</text>
<rect x="309" y="390.84" width="5.5" height="32.56" fill="#ffffff" stroke="#2a2a2a" stroke-width="0.55"/>
<line x1="311.75" y1="389.03999999999996" x2="311.75" y2="390.84" stroke="#333" stroke-width="0.6"/>
<line x1="310.55" y1="389.03999999999996" x2="312.95" y2="389.03999999999996" stroke="#333" stroke-width="0.6"/>
<rect x="316.3" y="410.376" width="4.899999999999977" height="13.024000000000001" fill="#d9688a" stroke="#2a2a2a" stroke-width="0.55"/>
<line x1="318.75" y1="408.57599999999996" x2="318.75" y2="410.376" stroke="#333" stroke-width="0.6"/>
<line x1="317.55" y1="408.57599999999996" x2="319.95" y2="408.57599999999996" stroke="#333" stroke-width="0.6"/>
<rect x="323.2" y="409.488" width="4.900000000000034" height="13.911999999999978" fill="#5f9be0" stroke="#2a2a2a" stroke-width="0.55"/>
<line x1="325.65" y1="407.688" x2="325.65" y2="409.488" stroke="#333" stroke-width="0.6"/>
<line x1="324.45" y1="407.688" x2="326.84999999999997" y2="407.688" stroke="#333" stroke-width="0.6"/>
<rect x="330.3" y="397.056" width="5.099999999999966" height="26.343999999999994" fill="#e9a144" stroke="#2a2a2a" stroke-width="0.55"/>
<line x1="332.85" y1="395.256" x2="332.85" y2="397.056" stroke="#333" stroke-width="0.6"/>
<line x1="331.65000000000003" y1="395.256" x2="334.05" y2="395.256" stroke="#333" stroke-width="0.6"/>
<rect x="340.8" y="386.4" width="4.699999999999989" height="37.0" fill="#ffffff" stroke="#2a2a2a" stroke-width="0.55"/>
<line x1="343.15" y1="384.59999999999997" x2="343.15" y2="386.4" stroke="#333" stroke-width="0.6"/>
<line x1="341.95" y1="384.59999999999997" x2="344.34999999999997" y2="384.59999999999997" stroke="#333" stroke-width="0.6"/>
<rect x="347.7" y="407.12" width="4.900000000000034" height="16.279999999999973" fill="#d9688a" stroke="#2a2a2a" stroke-width="0.55"/>
<line x1="350.15" y1="405.32" x2="350.15" y2="407.12" stroke="#333" stroke-width="0.6"/>
<line x1="348.95" y1="405.32" x2="351.34999999999997" y2="405.32" stroke="#333" stroke-width="0.6"/>
<rect x="354.8" y="407.12" width="4.699999999999989" height="16.279999999999973" fill="#5f9be0" stroke="#2a2a2a" stroke-width="0.55"/>
<line x1="357.15" y1="405.32" x2="357.15" y2="407.12" stroke="#333" stroke-width="0.6"/>
<line x1="355.95" y1="405.32" x2="358.34999999999997" y2="405.32" stroke="#333" stroke-width="0.6"/>
<rect x="361.3" y="392.32" width="4.899999999999977" height="31.079999999999984" fill="#e9a144" stroke="#2a2a2a" stroke-width="0.55"/>
<line x1="363.75" y1="390.52" x2="363.75" y2="392.32" stroke="#333" stroke-width="0.6"/>
<line x1="362.55" y1="390.52" x2="364.95" y2="390.52" stroke="#333" stroke-width="0.6"/>
<text x="320.8" y="428.5" font-size="6.61" font-weight="bold" text-anchor="middle" dominant-baseline="central" fill="#111" stroke="#111" stroke-width="0.18" textLength="12.46" lengthAdjust="spacingAndGlyphs">5637</text>
<text x="349.4" y="428.5" font-size="6.61" font-weight="bold" text-anchor="middle" dominant-baseline="central" fill="#111" stroke="#111" stroke-width="0.18" textLength="9.65" lengthAdjust="spacingAndGlyphs">T24</text>
<line x1="310.9" y1="386.4" x2="320" y2="386.4" stroke="#555" stroke-width="0.7"/>
<line x1="310.9" y1="384.9" x2="310.9" y2="387.9" stroke="#555" stroke-width="0.7"/>
<line x1="320" y1="384.9" x2="320" y2="387.9" stroke="#555" stroke-width="0.7"/>
<text x="315.45" y="384.2" font-size="4" font-weight="bold" text-anchor="middle" dominant-baseline="central" fill="#111" stroke="#111" stroke-width="0.18">*</text>
<line x1="325" y1="391.3" x2="332.6" y2="391.3" stroke="#555" stroke-width="0.7"/>
<line x1="325" y1="389.8" x2="325" y2="392.8" stroke="#555" stroke-width="0.7"/>
<line x1="332.6" y1="389.8" x2="332.6" y2="392.8" stroke="#555" stroke-width="0.7"/>
<text x="328.8" y="389.1" font-size="4" font-weight="bold" text-anchor="middle" dominant-baseline="central" fill="#111" stroke="#111" stroke-width="0.18">*</text>
<line x1="341.7" y1="380.4" x2="350.8" y2="380.4" stroke="#555" stroke-width="0.7"/>
<line x1="341.7" y1="378.9" x2="341.7" y2="381.9" stroke="#555" stroke-width="0.7"/>
<line x1="350.8" y1="378.9" x2="350.8" y2="381.9" stroke="#555" stroke-width="0.7"/>
<text x="346.25" y="378.2" font-size="4" font-weight="bold" text-anchor="middle" dominant-baseline="central" fill="#111" stroke="#111" stroke-width="0.18">*</text>
<line x1="356.8" y1="386.8" x2="365.3" y2="386.8" stroke="#555" stroke-width="0.7"/>
<line x1="356.8" y1="385.3" x2="356.8" y2="388.3" stroke="#555" stroke-width="0.7"/>
<line x1="365.3" y1="385.3" x2="365.3" y2="388.3" stroke="#555" stroke-width="0.7"/>
<text x="361.05" y="384.6" font-size="4" font-weight="bold" text-anchor="middle" dominant-baseline="central" fill="#111" stroke="#111" stroke-width="0.18">*</text>
<text x="295.0" y="401.25" font-size="6.35" font-weight="normal" text-anchor="middle" dominant-baseline="central" fill="#111" stroke="#111" stroke-width="0.12" transform="rotate(-90 295.0 401.25)" textLength="54.50" lengthAdjust="spacingAndGlyphs">Migratory cell number</text>
<rect x="307.55" y="432.5" width="3.8999999999999995" height="4.0" fill="#ffffff" stroke="#222" stroke-width="0.75"/>
<text x="315.1" y="434.5" font-size="5.72" font-weight="bold" text-anchor="start" dominant-baseline="central" fill="#111" stroke="#111" stroke-width="0.18" textLength="7.01" lengthAdjust="spacingAndGlyphs">NC</text>
<rect x="307.55" y="439.0" width="3.8999999999999995" height="4.0" fill="#d9688a" stroke="#222" stroke-width="0.75"/>
<text x="315.1" y="441" font-size="5.72" font-weight="bold" text-anchor="start" dominant-baseline="central" fill="#111" stroke="#111" stroke-width="0.18" textLength="21.30" lengthAdjust="spacingAndGlyphs">miR-1184</text>
<rect x="307.55" y="445.1" width="3.8999999999999995" height="4.0" fill="#5f9be0" stroke="#222" stroke-width="0.75"/>
<text x="315.1" y="447.1" font-size="5.72" font-weight="bold" text-anchor="start" dominant-baseline="central" fill="#111" stroke="#111" stroke-width="0.18" textLength="38.69" lengthAdjust="spacingAndGlyphs">miR-1184+vector</text>
<rect x="307.55" y="450.9" width="3.8999999999999995" height="4.0" fill="#e9a144" stroke="#222" stroke-width="0.75"/>
<text x="315.1" y="452.9" font-size="5.72" font-weight="bold" text-anchor="start" dominant-baseline="central" fill="#111" stroke="#111" stroke-width="0.18" textLength="40.57" lengthAdjust="spacingAndGlyphs">miR-1184+RAP2B</text>
<line x1="305.4" y1="508.0" x2="305.4" y2="553.2" stroke="#8a8a8a" stroke-width="0.9"/>
<line x1="305.4" y1="553.2" x2="366.2" y2="553.2" stroke="#8a8a8a" stroke-width="0.9"/>
<line x1="304.2" y1="553.2" x2="305.4" y2="553.2" stroke="#777" stroke-width="0.6"/>
<text x="303.59999999999997" y="553.2" font-size="4.65" font-weight="bold" text-anchor="end" dominant-baseline="central" fill="#111" stroke="#111" stroke-width="0.18">0</text>
<line x1="304.2" y1="538.6" x2="305.4" y2="538.6" stroke="#777" stroke-width="0.6"/>
<text x="303.59999999999997" y="538.6" font-size="4.96" font-weight="bold" text-anchor="end" dominant-baseline="central" fill="#111" stroke="#111" stroke-width="0.18" textLength="4.67" lengthAdjust="spacingAndGlyphs">50</text>
<line x1="304.2" y1="524.0" x2="305.4" y2="524.0" stroke="#777" stroke-width="0.6"/>
<text x="303.59999999999997" y="524.0" font-size="4.96" font-weight="bold" text-anchor="end" dominant-baseline="central" fill="#111" stroke="#111" stroke-width="0.18" textLength="7.01" lengthAdjust="spacingAndGlyphs">100</text>
<line x1="304.2" y1="509.40000000000003" x2="305.4" y2="509.40000000000003" stroke="#777" stroke-width="0.6"/>
<text x="303.59999999999997" y="509.40000000000003" font-size="4.96" font-weight="bold" text-anchor="end" dominant-baseline="central" fill="#111" stroke="#111" stroke-width="0.18" textLength="7.01" lengthAdjust="spacingAndGlyphs">150</text>
<rect x="307.8" y="526.628" width="5.399999999999977" height="26.572000000000003" fill="#ffffff" stroke="#2a2a2a" stroke-width="0.55"/>
<line x1="310.5" y1="524.8280000000001" x2="310.5" y2="526.628" stroke="#333" stroke-width="0.6"/>
<line x1="309.3" y1="524.8280000000001" x2="311.7" y2="524.8280000000001" stroke="#333" stroke-width="0.6"/>
<rect x="315.4" y="543.5640000000001" width="4.900000000000034" height="9.635999999999967" fill="#d9688a" stroke="#2a2a2a" stroke-width="0.55"/>
<line x1="317.85" y1="541.7640000000001" x2="317.85" y2="543.5640000000001" stroke="#333" stroke-width="0.6"/>
<line x1="316.65000000000003" y1="541.7640000000001" x2="319.05" y2="541.7640000000001" stroke="#333" stroke-width="0.6"/>
<rect x="322.3" y="542.3960000000001" width="5.300000000000011" height="10.803999999999974" fill="#5f9be0" stroke="#2a2a2a" stroke-width="0.55"/>
<line x1="324.95000000000005" y1="540.5960000000001" x2="324.95000000000005" y2="542.3960000000001" stroke="#333" stroke-width="0.6"/>
<line x1="323.75000000000006" y1="540.5960000000001" x2="326.15000000000003" y2="540.5960000000001" stroke="#333" stroke-width="0.6"/>
<rect x="329.6" y="533.344" width="4.899999999999977" height="19.855999999999995" fill="#e9a144" stroke="#2a2a2a" stroke-width="0.55"/>
<line x1="332.05" y1="531.5440000000001" x2="332.05" y2="533.344" stroke="#333" stroke-width="0.6"/>
<line x1="330.85" y1="531.5440000000001" x2="333.25" y2="531.5440000000001" stroke="#333" stroke-width="0.6"/>
<rect x="339.9" y="523.124" width="5.100000000000023" height="30.076000000000022" fill="#ffffff" stroke="#2a2a2a" stroke-width="0.55"/>
<line x1="342.45" y1="521.3240000000001" x2="342.45" y2="523.124" stroke="#333" stroke-width="0.6"/>
<line x1="341.25" y1="521.3240000000001" x2="343.65" y2="521.3240000000001" stroke="#333" stroke-width="0.6"/>
<rect x="346.8" y="539.9140000000001" width="4.899999999999977" height="13.285999999999945" fill="#d9688a" stroke="#2a2a2a" stroke-width="0.55"/>
<line x1="349.25" y1="538.1140000000001" x2="349.25" y2="539.9140000000001" stroke="#333" stroke-width="0.6"/>
<line x1="348.05" y1="538.1140000000001" x2="350.45" y2="538.1140000000001" stroke="#333" stroke-width="0.6"/>
<rect x="353.9" y="539.9140000000001" width="4.7000000000000455" height="13.285999999999945" fill="#5f9be0" stroke="#2a2a2a" stroke-width="0.55"/>
<line x1="356.25" y1="538.1140000000001" x2="356.25" y2="539.9140000000001" stroke="#333" stroke-width="0.6"/>
<line x1="355.05" y1="538.1140000000001" x2="357.45" y2="538.1140000000001" stroke="#333" stroke-width="0.6"/>
<rect x="360.8" y="528.0880000000001" width="4.899999999999977" height="25.111999999999966" fill="#e9a144" stroke="#2a2a2a" stroke-width="0.55"/>
<line x1="363.25" y1="526.2880000000001" x2="363.25" y2="528.0880000000001" stroke="#333" stroke-width="0.6"/>
<line x1="362.05" y1="526.2880000000001" x2="364.45" y2="526.2880000000001" stroke="#333" stroke-width="0.6"/>
<text x="320.4" y="559" font-size="6.61" font-weight="bold" text-anchor="middle" dominant-baseline="central" fill="#111" stroke="#111" stroke-width="0.18" textLength="12.46" lengthAdjust="spacingAndGlyphs">5637</text>
<text x="349.2" y="559" font-size="6.61" font-weight="bold" text-anchor="middle" dominant-baseline="central" fill="#111" stroke="#111" stroke-width="0.18" textLength="9.65" lengthAdjust="spacingAndGlyphs">T24</text>
<line x1="310" y1="521.4" x2="318.1" y2="521.4" stroke="#555" stroke-width="0.7"/>
<line x1="310" y1="519.9" x2="310" y2="522.9" stroke="#555" stroke-width="0.7"/>
<line x1="318.1" y1="519.9" x2="318.1" y2="522.9" stroke="#555" stroke-width="0.7"/>
<text x="314.05" y="519.1999999999999" font-size="4" font-weight="bold" text-anchor="middle" dominant-baseline="central" fill="#111" stroke="#111" stroke-width="0.18">*</text>
<line x1="324.1" y1="526.7" x2="331.7" y2="526.7" stroke="#555" stroke-width="0.7"/>
<line x1="324.1" y1="525.2" x2="324.1" y2="528.2" stroke="#555" stroke-width="0.7"/>
<line x1="331.7" y1="525.2" x2="331.7" y2="528.2" stroke="#555" stroke-width="0.7"/>
<text x="327.9" y="524.5" font-size="4" font-weight="bold" text-anchor="middle" dominant-baseline="central" fill="#111" stroke="#111" stroke-width="0.18">*</text>
<line x1="342.6" y1="516.3" x2="349.9" y2="516.3" stroke="#555" stroke-width="0.7"/>
<line x1="342.6" y1="514.8" x2="342.6" y2="517.8" stroke="#555" stroke-width="0.7"/>
<line x1="349.9" y1="514.8" x2="349.9" y2="517.8" stroke="#555" stroke-width="0.7"/>
<text x="346.25" y="514.0999999999999" font-size="4" font-weight="bold" text-anchor="middle" dominant-baseline="central" fill="#111" stroke="#111" stroke-width="0.18">*</text>
<line x1="356.2" y1="522.7" x2="364.4" y2="522.7" stroke="#555" stroke-width="0.7"/>
<line x1="356.2" y1="521.2" x2="356.2" y2="524.2" stroke="#555" stroke-width="0.7"/>
<line x1="364.4" y1="521.2" x2="364.4" y2="524.2" stroke="#555" stroke-width="0.7"/>
<text x="360.29999999999995" y="520.5" font-size="4" font-weight="bold" text-anchor="middle" dominant-baseline="central" fill="#111" stroke="#111" stroke-width="0.18">*</text>
<text x="293.6" y="532.2" font-size="6.59" font-weight="normal" text-anchor="middle" dominant-baseline="central" fill="#111" stroke="#111" stroke-width="0.12" transform="rotate(-90 293.6 532.2)" textLength="53.60" lengthAdjust="spacingAndGlyphs">Invasive cell number</text>
<rect x="306.25" y="561.8" width="4.5" height="4.0" fill="#ffffff" stroke="#222" stroke-width="0.75"/>
<text x="313.8" y="563.8" font-size="5.66" font-weight="bold" text-anchor="start" dominant-baseline="central" fill="#111" stroke="#111" stroke-width="0.18" textLength="6.93" lengthAdjust="spacingAndGlyphs">NC</text>
<rect x="306.25" y="567.1" width="4.5" height="4.0" fill="#d9688a" stroke="#222" stroke-width="0.75"/>
<text x="313.8" y="569.1" font-size="5.66" font-weight="bold" text-anchor="start" dominant-baseline="central" fill="#111" stroke="#111" stroke-width="0.18" textLength="21.08" lengthAdjust="spacingAndGlyphs">miR-1184</text>
<rect x="306.25" y="573.0" width="4.5" height="4.0" fill="#5f9be0" stroke="#222" stroke-width="0.75"/>
<text x="313.8" y="575" font-size="5.66" font-weight="bold" text-anchor="start" dominant-baseline="central" fill="#111" stroke="#111" stroke-width="0.18" textLength="38.29" lengthAdjust="spacingAndGlyphs">miR-1184+vector</text>
<rect x="306.25" y="579.5" width="4.5" height="4.0" fill="#e9a144" stroke="#222" stroke-width="0.75"/>
<text x="313.8" y="581.5" font-size="5.66" font-weight="bold" text-anchor="start" dominant-baseline="central" fill="#111" stroke="#111" stroke-width="0.18" textLength="40.15" lengthAdjust="spacingAndGlyphs">miR-1184+RAP2B</text>
<line x1="408.1" y1="508.0" x2="408.1" y2="553.0" stroke="#8a8a8a" stroke-width="0.9"/>
<line x1="408.1" y1="553.0" x2="467" y2="553.0" stroke="#8a8a8a" stroke-width="0.9"/>
<line x1="406.90000000000003" y1="509.11" x2="408.1" y2="509.11" stroke="#777" stroke-width="0.6"/>
<text x="406.3" y="509.11" font-size="4.96" font-weight="bold" text-anchor="end" dominant-baseline="central" fill="#111" stroke="#111" stroke-width="0.18" textLength="5.84" lengthAdjust="spacingAndGlyphs">1.5</text>
<line x1="406.90000000000003" y1="523.74" x2="408.1" y2="523.74" stroke="#777" stroke-width="0.6"/>
<text x="406.3" y="523.74" font-size="4.96" font-weight="bold" text-anchor="end" dominant-baseline="central" fill="#111" stroke="#111" stroke-width="0.18" textLength="5.84" lengthAdjust="spacingAndGlyphs">1.0</text>
<line x1="406.90000000000003" y1="538.37" x2="408.1" y2="538.37" stroke="#777" stroke-width="0.6"/>
<text x="406.3" y="538.37" font-size="4.96" font-weight="bold" text-anchor="end" dominant-baseline="central" fill="#111" stroke="#111" stroke-width="0.18" textLength="5.84" lengthAdjust="spacingAndGlyphs">0.5</text>
<line x1="406.90000000000003" y1="553.0" x2="408.1" y2="553.0" stroke="#777" stroke-width="0.6"/>
<text x="406.3" y="553.0" font-size="4.96" font-weight="bold" text-anchor="end" dominant-baseline="central" fill="#111" stroke="#111" stroke-width="0.18" textLength="5.84" lengthAdjust="spacingAndGlyphs">0.0</text>
<rect x="409.4" y="523.74" width="5.100000000000023" height="29.25999999999999" fill="#ffffff" stroke="#2a2a2a" stroke-width="0.55"/>
<line x1="411.95" y1="521.94" x2="411.95" y2="523.74" stroke="#333" stroke-width="0.6"/>
<line x1="410.75" y1="521.94" x2="413.15" y2="521.94" stroke="#333" stroke-width="0.6"/>
<rect x="416.3" y="543.6368" width="5.099999999999966" height="9.363200000000006" fill="#d9688a" stroke="#2a2a2a" stroke-width="0.55"/>
<line x1="418.85" y1="541.8368" x2="418.85" y2="543.6368" stroke="#333" stroke-width="0.6"/>
<line x1="417.65000000000003" y1="541.8368" x2="420.05" y2="541.8368" stroke="#333" stroke-width="0.6"/>
<rect x="423.2" y="542.1738" width="4.900000000000034" height="10.826199999999972" fill="#5f9be0" stroke="#2a2a2a" stroke-width="0.55"/>
<line x1="425.65" y1="540.3738000000001" x2="425.65" y2="542.1738" stroke="#333" stroke-width="0.6"/>
<line x1="424.45" y1="540.3738000000001" x2="426.84999999999997" y2="540.3738000000001" stroke="#333" stroke-width="0.6"/>
<rect x="430.3" y="532.518" width="5.099999999999966" height="20.48199999999997" fill="#e9a144" stroke="#2a2a2a" stroke-width="0.55"/>
<line x1="432.85" y1="530.7180000000001" x2="432.85" y2="532.518" stroke="#333" stroke-width="0.6"/>
<line x1="431.65000000000003" y1="530.7180000000001" x2="434.05" y2="530.7180000000001" stroke="#333" stroke-width="0.6"/>
<rect x="441.7" y="523.74" width="4.5" height="29.25999999999999" fill="#ffffff" stroke="#2a2a2a" stroke-width="0.55"/>
<line x1="443.95" y1="521.94" x2="443.95" y2="523.74" stroke="#333" stroke-width="0.6"/>
<line x1="442.75" y1="521.94" x2="445.15" y2="521.94" stroke="#333" stroke-width="0.6"/>
<rect x="448.1" y="539.833" width="5.0" height="13.16700000000003" fill="#d9688a" stroke="#2a2a2a" stroke-width="0.55"/>
<line x1="450.6" y1="538.033" x2="450.6" y2="539.833" stroke="#333" stroke-width="0.6"/>
<line x1="449.40000000000003" y1="538.033" x2="451.8" y2="538.033" stroke="#333" stroke-width="0.6"/>
<rect x="454.8" y="540.1256" width="5.099999999999966" height="12.874400000000037" fill="#5f9be0" stroke="#2a2a2a" stroke-width="0.55"/>
<line x1="457.35" y1="538.3256" x2="457.35" y2="540.1256" stroke="#333" stroke-width="0.6"/>
<line x1="456.15000000000003" y1="538.3256" x2="458.55" y2="538.3256" stroke="#333" stroke-width="0.6"/>
<rect x="461.7" y="527.5438" width="5.100000000000023" height="25.456199999999967" fill="#e9a144" stroke="#2a2a2a" stroke-width="0.55"/>
<line x1="464.25" y1="525.7438000000001" x2="464.25" y2="527.5438" stroke="#333" stroke-width="0.6"/>
<line x1="463.05" y1="525.7438000000001" x2="465.45" y2="525.7438000000001" stroke="#333" stroke-width="0.6"/>
<text x="421.7" y="558.6" font-size="6.61" font-weight="bold" text-anchor="middle" dominant-baseline="central" fill="#111" stroke="#111" stroke-width="0.18" textLength="12.46" lengthAdjust="spacingAndGlyphs">5637</text>
<text x="451.7" y="558.6" font-size="6.61" font-weight="bold" text-anchor="middle" dominant-baseline="central" fill="#111" stroke="#111" stroke-width="0.18" textLength="9.65" lengthAdjust="spacingAndGlyphs">T24</text>
<line x1="411.8" y1="515.4" x2="419.9" y2="515.4" stroke="#555" stroke-width="0.7"/>
<line x1="411.8" y1="513.9" x2="411.8" y2="516.9" stroke="#555" stroke-width="0.7"/>
<line x1="419.9" y1="513.9" x2="419.9" y2="516.9" stroke="#555" stroke-width="0.7"/>
<text x="415.85" y="513.1999999999999" font-size="4" font-weight="bold" text-anchor="middle" dominant-baseline="central" fill="#111" stroke="#111" stroke-width="0.18">*</text>
<line x1="425.4" y1="525.4" x2="432.3" y2="525.4" stroke="#555" stroke-width="0.7"/>
<line x1="425.4" y1="523.9" x2="425.4" y2="526.9" stroke="#555" stroke-width="0.7"/>
<line x1="432.3" y1="523.9" x2="432.3" y2="526.9" stroke="#555" stroke-width="0.7"/>
<text x="428.85" y="523.1999999999999" font-size="4" font-weight="bold" text-anchor="middle" dominant-baseline="central" fill="#111" stroke="#111" stroke-width="0.18">*</text>
<line x1="443.5" y1="516.3" x2="451.7" y2="516.3" stroke="#555" stroke-width="0.7"/>
<line x1="443.5" y1="514.8" x2="443.5" y2="517.8" stroke="#555" stroke-width="0.7"/>
<line x1="451.7" y1="514.8" x2="451.7" y2="517.8" stroke="#555" stroke-width="0.7"/>
<text x="447.6" y="514.0999999999999" font-size="4" font-weight="bold" text-anchor="middle" dominant-baseline="central" fill="#111" stroke="#111" stroke-width="0.18">*</text>
<line x1="457.7" y1="521.4" x2="465.3" y2="521.4" stroke="#555" stroke-width="0.7"/>
<line x1="457.7" y1="519.9" x2="457.7" y2="522.9" stroke="#555" stroke-width="0.7"/>
<line x1="465.3" y1="519.9" x2="465.3" y2="522.9" stroke="#555" stroke-width="0.7"/>
<text x="461.5" y="519.1999999999999" font-size="4" font-weight="bold" text-anchor="middle" dominant-baseline="central" fill="#111" stroke="#111" stroke-width="0.18">*</text>
<text x="390.3" y="529.1" font-size="6.45" font-weight="normal" text-anchor="middle" dominant-baseline="central" fill="#111" stroke="#111" stroke-width="0.12" transform="rotate(-90 390.3 529.1)" textLength="58.60" lengthAdjust="spacingAndGlyphs">HUVEC tube formation</text>
<text x="397.2" y="529.35" font-size="6.24" font-weight="normal" text-anchor="middle" dominant-baseline="central" fill="#111" stroke="#111" stroke-width="0.12" transform="rotate(-90 397.2 529.35)" textLength="12.70" lengthAdjust="spacingAndGlyphs">(fold)</text>
<rect x="408.25" y="562.9" width="5.2" height="4.0" fill="#ffffff" stroke="#222" stroke-width="0.75"/>
<text x="415.8" y="564.9" font-size="5.66" font-weight="bold" text-anchor="start" dominant-baseline="central" fill="#111" stroke="#111" stroke-width="0.18" textLength="6.93" lengthAdjust="spacingAndGlyphs">NC</text>
<rect x="408.25" y="569.7" width="5.2" height="4.0" fill="#d9688a" stroke="#222" stroke-width="0.75"/>
<text x="415.8" y="571.7" font-size="5.66" font-weight="bold" text-anchor="start" dominant-baseline="central" fill="#111" stroke="#111" stroke-width="0.18" textLength="21.08" lengthAdjust="spacingAndGlyphs">miR-1184</text>
<rect x="408.25" y="575.6" width="5.2" height="4.0" fill="#5f9be0" stroke="#222" stroke-width="0.75"/>
<text x="415.8" y="577.6" font-size="5.66" font-weight="bold" text-anchor="start" dominant-baseline="central" fill="#111" stroke="#111" stroke-width="0.18" textLength="38.29" lengthAdjust="spacingAndGlyphs">miR-1184+vector</text>
<rect x="408.25" y="581.9" width="5.2" height="4.0" fill="#e9a144" stroke="#222" stroke-width="0.75"/>
<text x="415.8" y="583.9" font-size="5.66" font-weight="bold" text-anchor="start" dominant-baseline="central" fill="#111" stroke="#111" stroke-width="0.18" textLength="40.15" lengthAdjust="spacingAndGlyphs">miR-1184+RAP2B</text>
<text x="387.3" y="583.5" font-size="9.2" font-weight="bold" text-anchor="start" dominant-baseline="central" fill="#111" stroke="#111" stroke-width="0.18">k</text>
</svg></body></html>
